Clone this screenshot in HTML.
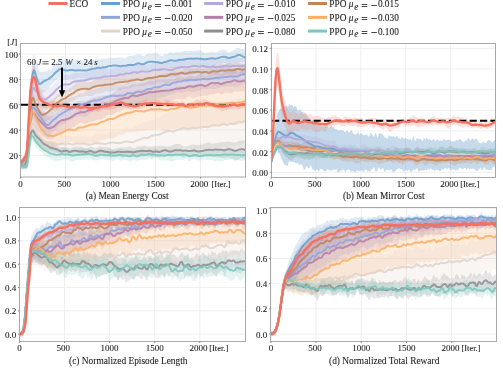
<!DOCTYPE html><html><head><meta charset="utf-8"><style>html,body{margin:0;padding:0;background:#fff;}svg{display:block;}text{font-family:"Liberation Serif", serif;fill:#1a1a1a;stroke:#1a1a1a;stroke-width:0.08px;}text{filter:grayscale(1);}.tk{font-size:9px;}.it{font-size:8.5px;}.tt{font-size:9.4px;}.lg{font-size:9.3px;}.an{font-size:8.9px;}</style></head><body><svg xmlns="http://www.w3.org/2000/svg" width="503" height="368" viewBox="0 0 503 368"><defs><clipPath id="ca"><rect x="20.5" y="43.5" width="225.0" height="133.5"/></clipPath><clipPath id="cb"><rect x="271.5" y="43.5" width="224.0" height="134.0"/></clipPath><clipPath id="cc"><rect x="19.5" y="207.5" width="226.0" height="134.0"/></clipPath><clipPath id="cd"><rect x="270.5" y="207.5" width="226.0" height="134.0"/></clipPath></defs><rect width="503" height="368" fill="#fff"/><line x1="48.5" y1="3.5" x2="67.5" y2="3.5" stroke="#F6705F" stroke-width="3"/><text x="69.6" y="7.4" class="lg">ECO</text><line x1="101" y1="3.5" x2="120" y2="3.5" stroke="#6A9FCB" stroke-width="3"/><text x="122.85" y="7.4" class="lg">PPO</text><text x="142.3" y="7.4" class="lg" font-style="italic">μ</text><text x="147.85" y="9.6" class="lg" font-size="8" font-style="italic">e</text><path d="M155.15,4.5H160.85M155.15,6.5H160.85M164.85,5.5H170.45" stroke="#1a1a1a" stroke-width="0.8"/><text x="171.45" y="7.4" class="lg" font-size="9.5">0.001</text><line x1="101" y1="17.35" x2="120" y2="17.35" stroke="#91A5DC" stroke-width="3"/><text x="122.85" y="21.25" class="lg">PPO</text><text x="142.3" y="21.25" class="lg" font-style="italic">μ</text><text x="147.85" y="23.45" class="lg" font-size="8" font-style="italic">e</text><path d="M155.15,17.5H160.85M155.15,19.5H160.85M164.85,18.5H170.45" stroke="#1a1a1a" stroke-width="0.8"/><text x="171.45" y="21.25" class="lg" font-size="9.5">0.020</text><line x1="101" y1="31.05" x2="120" y2="31.05" stroke="#E2D2C8" stroke-width="3"/><text x="122.85" y="34.95" class="lg">PPO</text><text x="142.3" y="34.95" class="lg" font-style="italic">μ</text><text x="147.85" y="37.15" class="lg" font-size="8" font-style="italic">e</text><path d="M155.15,31.5H160.85M155.15,33.5H160.85M164.85,32.5H170.45" stroke="#1a1a1a" stroke-width="0.8"/><text x="171.45" y="34.95" class="lg" font-size="9.5">0.050</text><line x1="204.2" y1="3.5" x2="223.2" y2="3.5" stroke="#B2A8DB" stroke-width="3"/><text x="225.8" y="7.4" class="lg">PPO</text><text x="245.25" y="7.4" class="lg" font-style="italic">μ</text><text x="250.8" y="9.6" class="lg" font-size="8" font-style="italic">e</text><path d="M258.1,4.5H263.8M258.1,6.5H263.8M267.8,5.5H273.4" stroke="#1a1a1a" stroke-width="0.8"/><text x="274.4" y="7.4" class="lg" font-size="9.5">0.010</text><line x1="204.2" y1="17.35" x2="223.2" y2="17.35" stroke="#B67FAA" stroke-width="3"/><text x="225.8" y="21.25" class="lg">PPO</text><text x="245.25" y="21.25" class="lg" font-style="italic">μ</text><text x="250.8" y="23.45" class="lg" font-size="8" font-style="italic">e</text><path d="M258.1,17.5H263.8M258.1,19.5H263.8M267.8,18.5H273.4" stroke="#1a1a1a" stroke-width="0.8"/><text x="274.4" y="21.25" class="lg" font-size="9.5">0.025</text><line x1="204.2" y1="31.05" x2="223.2" y2="31.05" stroke="#8E8E8E" stroke-width="3"/><text x="225.8" y="34.95" class="lg">PPO</text><text x="245.25" y="34.95" class="lg" font-style="italic">μ</text><text x="250.8" y="37.15" class="lg" font-size="8" font-style="italic">e</text><path d="M258.1,31.5H263.8M258.1,33.5H263.8M267.8,32.5H273.4" stroke="#1a1a1a" stroke-width="0.8"/><text x="274.4" y="34.95" class="lg" font-size="9.5">0.080</text><line x1="308" y1="3.5" x2="327" y2="3.5" stroke="#C0845A" stroke-width="3"/><text x="329.3" y="7.4" class="lg">PPO</text><text x="348.75" y="7.4" class="lg" font-style="italic">μ</text><text x="354.3" y="9.6" class="lg" font-size="8" font-style="italic">e</text><path d="M361.6,4.5H367.3M361.6,6.5H367.3M371.3,5.5H376.9" stroke="#1a1a1a" stroke-width="0.8"/><text x="377.9" y="7.4" class="lg" font-size="9.5">0.015</text><line x1="308" y1="17.35" x2="327" y2="17.35" stroke="#FCAE62" stroke-width="3"/><text x="329.3" y="21.25" class="lg">PPO</text><text x="348.75" y="21.25" class="lg" font-style="italic">μ</text><text x="354.3" y="23.45" class="lg" font-size="8" font-style="italic">e</text><path d="M361.6,17.5H367.3M361.6,19.5H367.3M371.3,18.5H376.9" stroke="#1a1a1a" stroke-width="0.8"/><text x="377.9" y="21.25" class="lg" font-size="9.5">0.030</text><line x1="308" y1="31.05" x2="327" y2="31.05" stroke="#7AC8BE" stroke-width="3"/><text x="329.3" y="34.95" class="lg">PPO</text><text x="348.75" y="34.95" class="lg" font-style="italic">μ</text><text x="354.3" y="37.15" class="lg" font-size="8" font-style="italic">e</text><path d="M361.6,31.5H367.3M361.6,33.5H367.3M371.3,32.5H376.9" stroke="#1a1a1a" stroke-width="0.8"/><text x="377.9" y="34.95" class="lg" font-size="9.5">0.100</text><rect x="20.5" y="43.5" width="225.0" height="133.5" fill="#ffffff"/><line x1="20.5" y1="43.5" x2="20.5" y2="177.0" stroke="#ebebeb" stroke-width="0.8"/><line x1="65.5" y1="43.5" x2="65.5" y2="177.0" stroke="#ebebeb" stroke-width="0.8"/><line x1="110.5" y1="43.5" x2="110.5" y2="177.0" stroke="#ebebeb" stroke-width="0.8"/><line x1="155.5" y1="43.5" x2="155.5" y2="177.0" stroke="#ebebeb" stroke-width="0.8"/><line x1="200.5" y1="43.5" x2="200.5" y2="177.0" stroke="#ebebeb" stroke-width="0.8"/><line x1="20.5" y1="155.4" x2="245.5" y2="155.4" stroke="#ebebeb" stroke-width="0.8"/><line x1="20.5" y1="130.05" x2="245.5" y2="130.05" stroke="#ebebeb" stroke-width="0.8"/><line x1="20.5" y1="104.7" x2="245.5" y2="104.7" stroke="#ebebeb" stroke-width="0.8"/><line x1="20.5" y1="79.35" x2="245.5" y2="79.35" stroke="#ebebeb" stroke-width="0.8"/><line x1="20.5" y1="54" x2="245.5" y2="54" stroke="#ebebeb" stroke-width="0.8"/><g clip-path="url(#ca)"><path d="M20.5 161.1l.9 0 .9-.2 .9-.4 .9-.8 .9-1.2 .9-4 .9-7.8 .9-9.9 .9-16.1 .9-21.1 .9-16.8 .9-10.7 .9-8.5 .9-6.4 .9-2.7 .9 2.1 .9 3.4 .9 2.8 .9 3.1 .9 3 .9 2.2 .9 .8 .9 0 .9-.1 .9-.1 .9-.1 .9-.1 .9-.1 .9-.2 .9-.3 .9-.3 .9-.4 .9-.6 .9-.8 .9-1.1 .9-1.1 .9-1.1 .9-1.1 .9-.8 .9-.8 .9-.7 .9-.9 .9-.9 .9-.7 .9-.4 .9 0 .9 .2 .9 .4 .9 .4 .9 .3 .9 .2 .9 .2 .9 .1 .9 .1 .9 0 .9-.1 .9-.2 .9-.2 .9 0 .9 .1 .9 .1 .9 0 .9 .1 .9 .1 .9 .1 .9 0 .9 0 .9 .1 .9 .1 .9-.1 .9-.1 .9-.3 .9-.2 .9 0 .9 0 .9 0 .9 .1 .9-.2 .9-.2 .9-.4 .9-.3 .9-.2 .9-.1 .9 0 .9 .1 .9 0 .9 .2 .9 0 .9-.2 .9-.4 .9-.4 .9-.2 .9 .1 .9 .1 .9-.1 .9-.3 .9-.4 .9-.2 .9 0 .9 .1 .9 .1 .9 .1 .9 .1 .9-.1 .9-.1 .9-.1 .9-.1 .9-.1 .9-.1 .9 0 .9 .1 .9 .1 .9 .2 .9 .2 .9 .2 .9 0 .9-.2 .9-.5 .9-.7 .9-.5 .9-.3 .9-.1 .9-.1 .9 0 .9-.1 .9-.2 .9-.3 .9-.3 .9-.3 .9-.2 .9-.1 .9 .1 .9 .3 .9 .4 .9 .5 .9 .4 .9 .1 .9-.3 .9-.7 .9-.8 .9-.6 .9-.2 .9 .1 .9 .3 .9 .1 .9-.1 .9-.4 .9-.3 .9-.1 .9 .2 .9 .3 .9 .2 .9 .3 .9 .5 .9 .6 .9 .5 .9 .2 .9-.2 .9-.6 .9-.5 .9-.3 .9-.1 .9-.2 .9-.5 .9-.6 .9-.5 .9-.1 .9 .1 .9 .4 .9 .2 .9 0 .9-.2 .9-.3 .9-.2 .9 0 .9 0 .9 0 .9-.2 .9-.3 .9-.3 .9-.3 .9-.1 .9 0 .9 .1 .9 .1 .9 0 .9-.1 .9-.2 .9-.1 .9-.1 .9 .1 .9 .1 .9 0 .9-.2 .9-.1 .9-.2 .9-.1 .9-.1 .9 0 .9 .2 .9 .4 .9 .7 .9 .6 .9 .5 .9 .2 .9 0 .9-.2 .9-.1 .9-.1 .9 0 .9-.1 .9-.2 .9-.2 .9 0 .9 .2 .9 .3 .9 0 .9-.2 .9-.5 .9-.5 .9-.5 .9-.5 .9-.3 .9-.3 .9-.1 .9 0 .9 .3 .9 .5 .9 .7 .9 .7 .9 .4 .9 0 .9-.4 .9-.5 .9-.4 .9-.4 .9-.4 .9-.4 .9-.7 .9-.6 .9-.5 .9-.1 .9 .3 .9 .4 .9 .4 .9 .1 .9-.1 .9-.1 .9 .1 .9 .3L245.5 62.6l-.9-.3 -.9-.1 -.9 0 -.9 0 -.9-.1 -.9 0 -.9 0 -.9 .2 -.9 .5 -.9 .6 -.9 .7 -.9 .5 -.9 .3 -.9 0 -.9-.1 -.9 .1 -.9 .2 -.9 .2 -.9-.2 -.9-.4 -.9-.7 -.9-.6 -.9-.4 -.9 0 -.9 .2 -.9 .4 -.9 .4 -.9 .2 -.9 .2 -.9 .2 -.9 .2 -.9 .3 -.9 .3 -.9 .2 -.9 0 -.9-.2 -.9-.1 -.9 0 -.9 .3 -.9 .3 -.9 .3 -.9 .3 -.9 .2 -.9 .1 -.9 .1 -.9 0 -.9-.2 -.9-.2 -.9-.3 -.9-.3 -.9-.4 -.9-.3 -.9-.2 -.9 0 -.9 .2 -.9 .5 -.9 .6 -.9 .4 -.9 .2 -.9 .1 -.9 0 -.9-.1 -.9-.1 -.9-.2 -.9-.1 -.9 .1 -.9 .2 -.9 .3 -.9 .2 -.9 .1 -.9 0 -.9 0 -.9 .1 -.9 .2 -.9 .3 -.9 .2 -.9 .2 -.9 .1 -.9 0 -.9-.1 -.9-.1 -.9-.1 -.9 0 -.9 .1 -.9 .4 -.9 .4 -.9 .3 -.9 .3 -.9 .1 -.9 .2 -.9 .3 -.9 .3 -.9 .3 -.9 .1 -.9-.1 -.9-.1 -.9 0 -.9-.1 -.9 0 -.9-.2 -.9-.2 -.9-.1 -.9 0 -.9-.1 -.9 0 -.9-.2 -.9-.1 -.9 0 -.9 .1 -.9 .3 -.9 .5 -.9 .6 -.9 .5 -.9 .4 -.9 .1 -.9 0 -.9-.1 -.9-.1 -.9-.1 -.9 0 -.9 .1 -.9 .3 -.9 .3 -.9 .1 -.9 0 -.9-.1 -.9-.2 -.9 0 -.9 .2 -.9 .4 -.9 .5 -.9 .5 -.9 .2 -.9-.1 -.9-.2 -.9 0 -.9 .3 -.9 .6 -.9 .5 -.9 .3 -.9 .1 -.9-.1 -.9-.3 -.9-.3 -.9-.3 -.9-.1 -.9 .1 -.9 .1 -.9 0 -.9-.1 -.9 0 -.9 .2 -.9 .4 -.9 .6 -.9 .5 -.9 .2 -.9 .1 -.9 0 -.9 .1 -.9 .1 -.9-.1 -.9-.2 -.9-.2 -.9 0 -.9 .4 -.9 .4 -.9 .3 -.9 .1 -.9-.1 -.9-.1 -.9 0 -.9 .3 -.9 .4 -.9 .6 -.9 .5 -.9 .2 -.9-.1 -.9-.4 -.9-.5 -.9-.3 -.9-.2 -.9 0 -.9 0 -.9 0 -.9 .2 -.9 .2 -.9 .2 -.9 .2 -.9 .1 -.9 .1 -.9 0 -.9-.1 -.9 0 -.9 0 -.9 0 -.9 .1 -.9 .2 -.9 .3 -.9 .2 -.9 0 -.9-.2 -.9-.4 -.9-.5 -.9-.6 -.9-.4 -.9-.1 -.9 .3 -.9 .7 -.9 .7 -.9 .6 -.9 .7 -.9 1 -.9 1.1 -.9 1.1 -.9 .9 -.9 .7 -.9 .8 -.9 .9 -.9 1 -.9 1 -.9 .8 -.9 .8 -.9 .7 -.9 .7 -.9 .8 -.9 1.1 -.9 1.2 -.9 1.2 -.9 .7 -.9-.5 -.9-1.4 -.9-1.9 -.9-2.1 -.9-3.2 -.9-2.3 -.9 1.1 -.9 3 -.9 4.4 -.9 6.8 -.9 14 -.9 19.3 -.9 14.3 -.9 8.1 -.9 6.2 -.9 2.7 -.9 .4 -.9 .2 -.9-.1 -.9 0 -.9-.1Z" fill="#6A9FCB" fill-opacity="0.22" stroke="none"/><path d="M20.5 161.4l.9-.8 .9-1.1 .9-1.2 .9-1.4 .9-1.4 .9-1.6 .9-6.2 .9-12.4 .9-14.4 .9-12.1 .9-10.2 .9-10.3 .9-7.9 .9-3.1 .9 .6 .9 1.6 .9 1.8 .9 1.4 .9 1.1 .9 1.1 .9 1.1 .9 1.2 .9 1.1 .9 .9 .9 .7 .9 .4 .9-.1 .9-.5 .9-.7 .9-.7 .9-.5 .9-.4 .9-.3 .9-.4 .9-.5 .9-.6 .9-1 .9-1.2 .9-1.2 .9-1.1 .9-.8 .9-.7 .9-.6 .9-.8 .9-.9 .9-1 .9-.8 .9-.4 .9-.2 .9-.1 .9-.1 .9 0 .9 .2 .9 .1 .9-.1 .9-.3 .9-.6 .9-.5 .9-.4 .9-.2 .9-.1 .9-.1 .9 0 .9 .1 .9 .1 .9 0 .9-.1 .9-.1 .9-.1 .9 0 .9-.1 .9-.1 .9-.2 .9-.3 .9-.4 .9-.6 .9-.6 .9-.5 .9-.3 .9-.1 .9 .1 .9 .1 .9 .1 .9 0 .9-.2 .9-.2 .9-.2 .9-.3 .9-.4 .9-.5 .9-.6 .9-.4 .9-.2 .9 .3 .9 .6 .9 .7 .9 .6 .9 .4 .9 .1 .9-.2 .9-.3 .9-.4 .9-.3 .9-.2 .9-.2 .9 0 .9-.2 .9-.1 .9-.2 .9-.2 .9-.1 .9 .1 .9 0 .9-.2 .9-.5 .9-.7 .9-.8 .9-.4 .9-.2 .9-.1 .9 0 .9 0 .9 0 .9 0 .9 0 .9 0 .9 .1 .9 .1 .9 .2 .9 .3 .9 .1 .9-.1 .9-.2 .9-.4 .9-.3 .9-.1 .9 .1 .9 .2 .9 .3 .9 .2 .9 0 .9 0 .9-.2 .9-.2 .9-.3 .9-.4 .9-.4 .9-.3 .9-.3 .9-.1 .9 .1 .9 .2 .9 .2 .9 .1 .9 0 .9-.1 .9-.3 .9-.3 .9-.2 .9-.1 .9 .1 .9 .1 .9 .1 .9 0 .9-.1 .9 0 .9 .1 .9 0 .9 0 .9-.2 .9-.4 .9-.4 .9-.4 .9-.3 .9-.3 .9-.3 .9-.4 .9-.4 .9-.4 .9-.2 .9 0 .9 .1 .9 0 .9 .2 .9 .1 .9 .1 .9 0 .9-.1 .9-.2 .9-.1 .9 0 .9 .1 .9 .1 .9 0 .9-.1 .9 0 .9 .1 .9 .1 .9-.1 .9-.1 .9-.1 .9 .2 .9 .4 .9 .4 .9 .4 .9 .1 .9-.1 .9-.2 .9-.2 .9-.3 .9-.2 .9-.1 .9 0 .9 .1 .9 .4 .9 .3 .9 .3 .9 0 .9-.2 .9-.3 .9-.3 .9-.3 .9-.2 .9-.1 .9-.1 .9-.1 .9-.2 .9 0 .9 0 .9 .1 .9 0 .9 0 .9 0 .9-.1 .9 0 .9 .2 .9 .1 .9 0 .9-.2 .9-.3 .9-.3 .9-.2 .9 .1 .9 .1 .9 .1 .9-.1 .9-.1 .9-.1 .9 .1 .9 0L245.5 72.7l-.9 .1 -.9 .1 -.9 .1 -.9 .1 -.9 0 -.9-.2 -.9-.2 -.9-.1 -.9 .1 -.9 .3 -.9 .4 -.9 .3 -.9 .3 -.9 .1 -.9 .1 -.9 .1 -.9 .1 -.9-.1 -.9-.1 -.9-.1 -.9-.1 -.9 0 -.9 .2 -.9 .4 -.9 .4 -.9 .3 -.9 .1 -.9-.1 -.9-.1 -.9-.2 -.9-.1 -.9-.2 -.9-.3 -.9-.2 -.9-.3 -.9-.2 -.9-.1 -.9 0 -.9 .3 -.9 .3 -.9 .2 -.9 .3 -.9 .2 -.9 .2 -.9 .1 -.9-.1 -.9-.2 -.9-.4 -.9-.3 -.9-.3 -.9-.1 -.9 .1 -.9 .1 -.9 .1 -.9 0 -.9 0 -.9-.1 -.9 0 -.9 .2 -.9 .4 -.9 .5 -.9 .4 -.9 .1 -.9-.2 -.9-.3 -.9-.1 -.9 0 -.9 0 -.9 0 -.9-.1 -.9-.1 -.9 .2 -.9 .4 -.9 .6 -.9 .5 -.9 .3 -.9 0 -.9-.1 -.9 0 -.9 .1 -.9 .3 -.9 .3 -.9 .2 -.9-.1 -.9-.2 -.9-.2 -.9-.2 -.9-.1 -.9 .1 -.9 .2 -.9 .3 -.9 .3 -.9 .2 -.9 .1 -.9-.1 -.9-.3 -.9-.2 -.9-.1 -.9 0 -.9 .2 -.9 .1 -.9 .2 -.9 .3 -.9 .3 -.9 .3 -.9 .3 -.9 .1 -.9-.1 -.9-.2 -.9-.2 -.9-.1 -.9 .1 -.9 .1 -.9 .3 -.9 .3 -.9 .4 -.9 .5 -.9 .3 -.9 .3 -.9 .1 -.9-.1 -.9-.2 -.9-.1 -.9 0 -.9 .2 -.9 .3 -.9 .2 -.9 .1 -.9-.2 -.9-.4 -.9-.4 -.9-.1 -.9 .2 -.9 .5 -.9 .6 -.9 .4 -.9 .1 -.9-.2 -.9-.1 -.9 .1 -.9 .4 -.9 .5 -.9 .5 -.9 .3 -.9 .2 -.9 .1 -.9-.1 -.9 .1 -.9 .1 -.9 .3 -.9 .3 -.9 .2 -.9 0 -.9 0 -.9 .1 -.9 .2 -.9 .2 -.9 .2 -.9 .2 -.9 .2 -.9 .1 -.9 .1 -.9-.1 -.9-.1 -.9-.1 -.9 0 -.9 .2 -.9 .3 -.9 .4 -.9 .3 -.9 .2 -.9 .2 -.9 .4 -.9 .3 -.9 .2 -.9-.1 -.9-.2 -.9-.4 -.9-.3 -.9-.1 -.9 .2 -.9 .4 -.9 .5 -.9 .5 -.9 .2 -.9 .1 -.9 .1 -.9 .1 -.9 .3 -.9 .4 -.9 .4 -.9 .3 -.9 .4 -.9 .4 -.9 .4 -.9 .3 -.9 .2 -.9 .1 -.9 .1 -.9 .2 -.9 .3 -.9 .3 -.9 .5 -.9 .6 -.9 .6 -.9 .8 -.9 .7 -.9 .7 -.9 .9 -.9 .9 -.9 1.2 -.9 1.2 -.9 1.1 -.9 .8 -.9 .6 -.9 .7 -.9 .8 -.9 1 -.9 1 -.9 1 -.9 .7 -.9 .5 -.9 .2 -.9-.1 -.9-.5 -.9-.8 -.9-1.2 -.9-1.4 -.9-1.3 -.9-1.2 -.9-.9 -.9-.8 -.9-1 -.9-1.4 -.9-1.3 -.9-.8 -.9 2.7 -.9 7.3 -.9 9.5 -.9 9.4 -.9 11 -.9 13.3 -.9 11.3 -.9 5.3 -.9 .7 -.9 .4 -.9 .2 -.9-.1 -.9-.3 -.9-.5Z" fill="#B2A8DB" fill-opacity="0.22" stroke="none"/><path d="M20.5 159.2l.9-.6 .9-.6 .9-.9 .9-1.2 .9-1.4 .9-1.8 .9-6.2 .9-12 .9-13.6 .9-11.1 .9-8.8 .9-8.3 .9-5.1 .9-.2 .9 2.2 .9 2.9 .9 2.3 .9 1.7 .9 1.8 .9 1.8 .9 1.8 .9 1.4 .9 1 .9 .5 .9 0 .9-.5 .9-.4 .9-.4 .9-.3 .9-.3 .9-.5 .9-.6 .9-.5 .9-.6 .9-.8 .9-.8 .9-.9 .9-.9 .9-1 .9-1 .9-.8 .9-.6 .9-.4 .9-.5 .9-.4 .9-.5 .9-.5 .9-.3 .9-.2 .9-.2 .9-.3 .9-.6 .9-.7 .9-.7 .9-.7 .9-.5 .9-.6 .9-.6 .9-.7 .9-.9 .9-.9 .9-.9 .9-.6 .9-.5 .9-.3 .9-.3 .9-.2 .9-.1 .9 0 .9 .1 .9 .2 .9 .3 .9 .4 .9 .3 .9 .2 .9 0 .9-.1 .9-.3 .9-.5 .9-.5 .9-.5 .9-.4 .9-.3 .9-.4 .9-.4 .9-.3 .9-.2 .9-.1 .9-.2 .9-.2 .9-.2 .9-.3 .9-.3 .9-.1 .9 0 .9 .2 .9 .2 .9 .2 .9-.1 .9-.1 .9-.2 .9-.3 .9-.4 .9-.4 .9-.4 .9-.4 .9-.2 .9-.2 .9 0 .9 .1 .9 .1 .9 .1 .9 0 .9-.1 .9-.2 .9-.1 .9-.1 .9-.2 .9-.2 .9-.3 .9-.4 .9-.2 .9-.2 .9 .1 .9 .1 .9 0 .9-.1 .9-.3 .9-.2 .9 .1 .9 .1 .9 .1 .9 .1 .9 0 .9 0 .9 .1 .9 0 .9-.2 .9-.3 .9-.4 .9-.4 .9-.4 .9-.3 .9-.3 .9-.1 .9-.1 .9-.1 .9-.2 .9-.3 .9-.2 .9-.3 .9-.2 .9-.2 .9-.3 .9-.2 .9 0 .9 .3 .9 .4 .9 .5 .9 .5 .9 .4 .9 .1 .9-.4 .9-.6 .9-.9 .9-.8 .9-.6 .9-.3 .9-.1 .9 0 .9 .1 .9 .2 .9 0 .9 0 .9-.2 .9-.1 .9-.2 .9-.3 .9-.1 .9 0 .9 .4 .9 .5 .9 .4 .9 .2 .9-.2 .9-.5 .9-.5 .9-.3 .9-.1 .9 0 .9 .1 .9-.1 .9-.1 .9-.3 .9-.4 .9-.3 .9-.1 .9 0 .9 .2 .9 .2 .9 .1 .9-.2 .9-.3 .9-.4 .9-.2 .9 .1 .9 .3 .9 .5 .9 .3 .9 .1 .9-.2 .9-.4 .9-.5 .9-.4 .9-.1 .9 .1 .9 .2 .9 .2 .9-.1 .9-.3 .9-.4 .9-.4 .9-.1 .9 .1 .9 .3 .9 .3 .9 0 .9-.1 .9-.3 .9-.4 .9-.4 .9-.2 .9 .1 .9 .5 .9 .4 .9 .2 .9-.1 .9-.3 .9-.4 .9-.4 .9-.3 .9-.2 .9 .1 .9 .3 .9 .4 .9 .4 .9 .2 .9 0 .9-.2 .9-.1L245.5 76l-.9 .1 -.9 0 -.9-.2 -.9-.5 -.9-.5 -.9-.3 -.9 0 -.9 .4 -.9 .5 -.9 .7 -.9 .4 -.9 .3 -.9 .2 -.9 .1 -.9-.1 -.9-.3 -.9-.4 -.9-.3 -.9 0 -.9 .1 -.9 .2 -.9 .1 -.9 0 -.9-.1 -.9-.2 -.9 0 -.9 .1 -.9 .3 -.9 .3 -.9 .3 -.9 .1 -.9-.2 -.9-.3 -.9-.3 -.9-.2 -.9 .1 -.9 .3 -.9 .5 -.9 .6 -.9 .5 -.9 .5 -.9 .3 -.9 .1 -.9 0 -.9 0 -.9 .1 -.9 0 -.9 .1 -.9-.2 -.9-.3 -.9-.3 -.9-.1 -.9 .1 -.9 .3 -.9 .4 -.9 .2 -.9 0 -.9-.1 -.9 0 -.9 .1 -.9 .3 -.9 .4 -.9 .4 -.9 .4 -.9 .3 -.9 .1 -.9 0 -.9-.4 -.9-.4 -.9-.5 -.9-.3 -.9 .1 -.9 .3 -.9 .4 -.9 .3 -.9 .2 -.9 0 -.9-.3 -.9-.2 -.9-.1 -.9 .1 -.9 .3 -.9 .5 -.9 .7 -.9 .8 -.9 .8 -.9 .7 -.9 .2 -.9-.3 -.9-.5 -.9-.7 -.9-.5 -.9-.3 -.9-.1 -.9 0 -.9 .1 -.9 .2 -.9 .3 -.9 .4 -.9 .5 -.9 .5 -.9 .4 -.9 .2 -.9 .1 -.9-.2 -.9-.1 -.9-.1 -.9-.1 -.9 0 -.9 .2 -.9 .3 -.9 .3 -.9 .5 -.9 .3 -.9 .2 -.9 0 -.9 .1 -.9-.1 -.9-.1 -.9-.1 -.9-.1 -.9 .1 -.9 .2 -.9 .4 -.9 .3 -.9 .4 -.9 .5 -.9 .4 -.9 .3 -.9 .2 -.9 0 -.9-.2 -.9-.1 -.9 .1 -.9 .2 -.9 .4 -.9 .4 -.9 .3 -.9 .1 -.9 0 -.9-.1 -.9 0 -.9 0 -.9 0 -.9 .2 -.9 .4 -.9 .4 -.9 .5 -.9 .3 -.9 .2 -.9 0 -.9-.1 -.9-.2 -.9-.2 -.9 0 -.9 .2 -.9 .5 -.9 .5 -.9 .5 -.9 .2 -.9 0 -.9 0 -.9 0 -.9 0 -.9 .2 -.9 .3 -.9 .4 -.9 .5 -.9 .5 -.9 .5 -.9 .4 -.9 .1 -.9 0 -.9-.1 -.9-.2 -.9 0 -.9 0 -.9 .1 -.9 .3 -.9 .2 -.9 .3 -.9 .2 -.9 .1 -.9 0 -.9 .1 -.9 .2 -.9 .5 -.9 .7 -.9 .9 -.9 .8 -.9 .7 -.9 .5 -.9 .3 -.9 .2 -.9 .3 -.9 .5 -.9 .6 -.9 .7 -.9 .7 -.9 .5 -.9 .3 -.9 .3 -.9 .4 -.9 .6 -.9 .7 -.9 .9 -.9 .8 -.9 .7 -.9 .7 -.9 .8 -.9 .9 -.9 1.3 -.9 1.4 -.9 1.4 -.9 1.1 -.9 .9 -.9 .7 -.9 .6 -.9 .7 -.9 .8 -.9 .7 -.9 .6 -.9 .7 -.9 .6 -.9 .5 -.9 0 -.9-.6 -.9-1.2 -.9-1.6 -.9-1.7 -.9-1.5 -.9-1.4 -.9-1.2 -.9-2.1 -.9-2.8 -.9-2.2 -.9 .1 -.9 4.9 -.9 7.9 -.9 8.3 -.9 10.2 -.9 12.6 -.9 10.7 -.9 4.7 -.9 .2 -.9-.1 -.9-.2 -.9-.2 -.9-.2 -.9-.5Z" fill="#C0845A" fill-opacity="0.18" stroke="none"/><path d="M20.5 161.5l.9-1 .9-1.1 .9-1.4 .9-1.6 .9-1.8 .9-2.1 .9-6.2 .9-11.1 .9-12.2 .9-9.1 .9-6.3 .9-6 .9-4.5 .9-2 .9 .3 .9 1.1 .9 1.6 .9 1.9 .9 1.9 .9 1.5 .9 1.3 .9 1.2 .9 1.1 .9 1.1 .9 1.2 .9 1.2 .9 1.1 .9 .8 .9 .7 .9 .3 .9-.1 .9-.5 .9-.8 .9-.9 .9-.8 .9-.8 .9-.6 .9-.5 .9-.7 .9-.9 .9-1.1 .9-1.1 .9-.9 .9-.7 .9-.5 .9-.5 .9-.5 .9-.6 .9-.4 .9-.5 .9-.5 .9-.5 .9-.5 .9-.4 .9-.3 .9-.4 .9-.3 .9-.2 .9-.1 .9-.2 .9-.3 .9-.6 .9-.7 .9-.7 .9-.6 .9-.2 .9 0 .9 .1 .9 .1 .9-.2 .9-.6 .9-.9 .9-1 .9-.7 .9-.4 .9-.2 .9-.1 .9 0 .9-.1 .9-.3 .9-.3 .9-.2 .9-.1 .9 0 .9-.1 .9-.2 .9-.2 .9-.2 .9-.2 .9-.3 .9-.3 .9-.6 .9-.6 .9-.6 .9-.4 .9-.2 .9 0 .9 .1 .9 .1 .9-.1 .9-.1 .9-.1 .9 0 .9 .2 .9 .1 .9 .2 .9-.1 .9-.2 .9-.2 .9-.2 .9-.1 .9 .1 .9 .1 .9-.1 .9-.3 .9-.5 .9-.7 .9-.6 .9-.5 .9-.2 .9 0 .9 .1 .9 .2 .9 .1 .9 .1 .9 .1 .9-.1 .9 0 .9 .1 .9 .1 .9 0 .9-.2 .9-.5 .9-.5 .9-.6 .9-.6 .9-.5 .9-.6 .9-.5 .9-.4 .9-.3 .9 0 .9 .2 .9 .2 .9-.1 .9-.4 .9-.7 .9-.4 .9-.1 .9 .1 .9 .1 .9 0 .9-.2 .9-.3 .9-.5 .9-.4 .9-.5 .9-.4 .9-.4 .9-.4 .9-.3 .9-.1 .9 .1 .9 .2 .9 .1 .9-.3 .9-.7 .9-.6 .9-.4 .9-.1 .9 .1 .9 .2 .9 .2 .9-.1 .9-.1 .9-.1 .9-.1 .9-.1 .9-.2 .9-.5 .9-.6 .9-.6 .9-.4 .9-.2 .9-.1 .9-.2 .9-.2 .9-.1 .9 .1 .9 .1 .9 .1 .9 .1 .9-.1 .9-.1 .9-.1 .9 0 .9 .1 .9 .1 .9 .1 .9 .1 .9 0 .9 0 .9 0 .9 0 .9 0 .9 0 .9 .1 .9-.1 .9-.1 .9-.3 .9-.3 .9-.4 .9-.4 .9-.3 .9-.1 .9 .2 .9 .3 .9 .2 .9-.2 .9-.5 .9-.5 .9-.5 .9-.2 .9 .1 .9 .5 .9 .5 .9 .3 .9 .1 .9 0 .9-.1 .9 0 .9 0 .9 .1 .9 .2 .9 .3 .9 .1 .9 0 .9 .1 .9 .1 .9 .1 .9-.2 .9-.5 .9-.8 .9-.9 .9-.7 .9-.4 .9-.3 .9-.3 .9-.4 .9-.3L245.5 82.6l-.9 .4 -.9 .5 -.9 .5 -.9 .4 -.9 .5 -.9 .6 -.9 .8 -.9 .7 -.9 .3 -.9 0 -.9-.3 -.9-.3 -.9-.1 -.9-.1 -.9-.1 -.9-.2 -.9-.1 -.9 .1 -.9 .2 -.9 .2 -.9 .2 -.9 0 -.9-.1 -.9-.1 -.9-.1 -.9 .1 -.9 .3 -.9 .3 -.9 .5 -.9 .4 -.9 .3 -.9 .2 -.9 .2 -.9 .1 -.9 0 -.9 0 -.9-.1 -.9-.1 -.9-.1 -.9 0 -.9 .2 -.9 .3 -.9 .2 -.9-.1 -.9-.2 -.9-.3 -.9 0 -.9 .2 -.9 .5 -.9 .6 -.9 .5 -.9 .3 -.9 .3 -.9 .2 -.9 .2 -.9 .3 -.9 .2 -.9 .2 -.9 0 -.9-.1 -.9-.3 -.9-.3 -.9-.2 -.9-.2 -.9 0 -.9 .1 -.9 .2 -.9 .5 -.9 .5 -.9 .5 -.9 .2 -.9-.2 -.9-.3 -.9-.3 -.9-.1 -.9 .2 -.9 .4 -.9 .4 -.9 .2 -.9 .2 -.9 .3 -.9 .3 -.9 .5 -.9 .3 -.9 .3 -.9 .2 -.9 .3 -.9 .5 -.9 .4 -.9 .2 -.9 .1 -.9 0 -.9 .2 -.9 .4 -.9 .3 -.9 .3 -.9 .2 -.9 0 -.9 0 -.9 .1 -.9 .2 -.9 .3 -.9 .4 -.9 .4 -.9 .1 -.9-.1 -.9-.1 -.9 .1 -.9 .5 -.9 .6 -.9 .7 -.9 .6 -.9 .4 -.9 .3 -.9 .1 -.9 .1 -.9-.1 -.9 0 -.9 .1 -.9 .2 -.9 .5 -.9 .6 -.9 .5 -.9 .3 -.9 .1 -.9-.3 -.9-.4 -.9-.7 -.9-.6 -.9-.5 -.9 0 -.9 .6 -.9 1 -.9 1.1 -.9 1 -.9 .5 -.9 .2 -.9 0 -.9 0 -.9 0 -.9 0 -.9 0 -.9-.2 -.9-.2 -.9-.1 -.9-.1 -.9 0 -.9 .2 -.9 .3 -.9 .4 -.9 .4 -.9 .3 -.9 .2 -.9 0 -.9 0 -.9 .1 -.9 .3 -.9 .4 -.9 .6 -.9 .5 -.9 .5 -.9 .4 -.9 .2 -.9 0 -.9-.1 -.9-.3 -.9-.1 -.9 .1 -.9 .4 -.9 .6 -.9 .6 -.9 .6 -.9 .6 -.9 .6 -.9 .7 -.9 .7 -.9 .5 -.9 .5 -.9 .2 -.9-.1 -.9-.3 -.9-.3 -.9-.2 -.9 0 -.9 .1 -.9 .2 -.9 .2 -.9 .4 -.9 .4 -.9 .6 -.9 .5 -.9 .4 -.9 .3 -.9 .4 -.9 .4 -.9 .4 -.9 .5 -.9 .7 -.9 .8 -.9 .6 -.9 .6 -.9 .5 -.9 .6 -.9 .5 -.9 .4 -.9 .3 -.9 .5 -.9 .6 -.9 .9 -.9 1 -.9 .9 -.9 .7 -.9 .5 -.9 .7 -.9 .9 -.9 1.4 -.9 1.4 -.9 1.1 -.9 .7 -.9 .1 -.9-.4 -.9-.7 -.9-1.1 -.9-1.4 -.9-1.6 -.9-1.5 -.9-1.3 -.9-1.2 -.9-1 -.9-.9 -.9-1.1 -.9-1.3 -.9-1.4 -.9-1.3 -.9-1 -.9-.7 -.9 1.2 -.9 3.6 -.9 5 -.9 5.4 -.9 8.1 -.9 11 -.9 9.6 -.9 4.2 -.9 .2 -.9 0 -.9 0 -.9 .1 -.9-.1 -.9-.4Z" fill="#91A5DC" fill-opacity="0.22" stroke="none"/><path d="M20.5 160.3l.9-.7 .9-.9 .9-1.1 .9-1.4 .9-1.7 .9-1.9 .9-5.7 .9-10.2 .9-11 .9-8.2 .9-5.6 .9-5.1 .9-3.6 .9-1.2 .9 .7 .9 1.3 .9 1.3 .9 1.3 .9 1.1 .9 .7 .9 .6 .9 .7 .9 .8 .9 .9 .9 .8 .9 .9 .9 .9 .9 .7 .9 .7 .9 .6 .9 .4 .9 .1 .9-.2 .9-.3 .9-.2 .9-.4 .9-.5 .9-.7 .9-1 .9-.9 .9-.9 .9-.7 .9-.5 .9-.4 .9-.3 .9-.3 .9-.2 .9-.4 .9-.3 .9-.4 .9-.1 .9-.1 .9 0 .9-.3 .9-.5 .9-.8 .9-.7 .9-.7 .9-.6 .9-.7 .9-.6 .9-.6 .9-.4 .9-.4 .9-.3 .9-.2 .9 0 .9 .1 .9 .2 .9 .1 .9-.1 .9-.2 .9-.4 .9-.4 .9-.3 .9-.2 .9-.4 .9-.4 .9-.5 .9-.5 .9-.4 .9-.2 .9-.1 .9-.2 .9-.3 .9-.3 .9-.3 .9-.2 .9-.1 .9-.1 .9 0 .9-.1 .9-.1 .9 0 .9 0 .9-.2 .9-.3 .9-.3 .9-.4 .9-.2 .9-.2 .9-.5 .9-.7 .9-.8 .9-.9 .9-.8 .9-.7 .9-.6 .9-.5 .9-.4 .9-.3 .9-.1 .9-.1 .9-.1 .9-.2 .9-.2 .9 0 .9-.1 .9 0 .9-.3 .9-.5 .9-.6 .9-.7 .9-.4 .9-.2 .9 .1 .9 .3 .9 .2 .9 .1 .9-.3 .9-.4 .9-.4 .9-.3 .9-.1 .9-.2 .9-.1 .9-.1 .9-.2 .9-.3 .9-.3 .9-.4 .9-.4 .9-.4 .9-.2 .9-.2 .9 0 .9 0 .9 .1 .9-.1 .9-.3 .9-.3 .9-.3 .9-.1 .9 0 .9 .2 .9 .1 .9 .1 .9 .1 .9 0 .9 0 .9-.1 .9 0 .9-.1 .9-.1 .9-.2 .9-.1 .9 .1 .9 .2 .9 .3 .9-.1 .9-.6 .9-.8 .9-.8 .9-.6 .9-.3 .9-.2 .9-.1 .9 0 .9 .2 .9 .2 .9 .2 .9 0 .9 0 .9-.1 .9-.3 .9-.4 .9-.3 .9-.2 .9 0 .9 .1 .9 .1 .9 .2 .9 0 .9-.1 .9-.2 .9-.3 .9-.4 .9-.5 .9-.4 .9-.2 .9 .1 .9 .4 .9 .6 .9 .5 .9 .4 .9 0 .9-.3 .9-.7 .9-.8 .9-.8 .9-.6 .9-.3 .9-.1 .9 0 .9 .2 .9 .1 .9 0 .9 0 .9 .2 .9 .5 .9 .6 .9 .4 .9 0 .9-.4 .9-.7 .9-.7 .9-.6 .9-.4 .9-.3 .9-.2 .9-.1 .9-.2 .9-.1 .9-.2 .9-.2 .9-.4 .9-.2 .9 0 .9 .4 .9 .8 .9 .7 .9 .4 .9-.1 .9-.3 .9-.6 .9-.5 .9-.1 .9 .2 .9 .5 .9 .3L245.5 92.1l-.9-.3 -.9-.3 -.9-.2 -.9 0 -.9 .1 -.9 .1 -.9 .1 -.9 .1 -.9 0 -.9-.2 -.9-.2 -.9 0 -.9 .3 -.9 .6 -.9 .7 -.9 .3 -.9 .1 -.9-.2 -.9-.2 -.9-.2 -.9-.1 -.9 .1 -.9 .3 -.9 .5 -.9 .5 -.9 .3 -.9-.1 -.9-.4 -.9-.5 -.9-.3 -.9 0 -.9 .3 -.9 .4 -.9 .3 -.9 .2 -.9 .1 -.9 0 -.9-.1 -.9 .1 -.9 .2 -.9 .4 -.9 .5 -.9 .3 -.9 .1 -.9-.1 -.9-.1 -.9 0 -.9 .1 -.9 .2 -.9 .3 -.9 .2 -.9 .1 -.9 .1 -.9 .3 -.9 .4 -.9 .5 -.9 .5 -.9 0 -.9-.3 -.9-.6 -.9-.7 -.9-.4 -.9 0 -.9 .5 -.9 .8 -.9 .7 -.9 .6 -.9 .3 -.9 .1 -.9-.1 -.9-.2 -.9-.1 -.9 0 -.9 0 -.9-.1 -.9 0 -.9 0 -.9 .4 -.9 .6 -.9 .5 -.9 .4 -.9 .3 -.9 .4 -.9 .4 -.9 .4 -.9 .1 -.9-.1 -.9-.3 -.9-.3 -.9-.3 -.9-.3 -.9-.1 -.9 .1 -.9 .3 -.9 .4 -.9 .3 -.9 .2 -.9 .1 -.9 0 -.9 .1 -.9 .3 -.9 .5 -.9 .5 -.9 .4 -.9 .2 -.9 .2 -.9 .2 -.9 .2 -.9 .2 -.9 0 -.9 0 -.9 .1 -.9 .2 -.9 .4 -.9 .5 -.9 .4 -.9 .4 -.9 .1 -.9 0 -.9 0 -.9-.1 -.9 .1 -.9 0 -.9-.1 -.9-.2 -.9-.1 -.9 .1 -.9 .4 -.9 .5 -.9 .4 -.9 .2 -.9 .1 -.9 0 -.9 .2 -.9 .2 -.9 .5 -.9 .6 -.9 .6 -.9 .5 -.9 .4 -.9 .2 -.9 .2 -.9 .2 -.9 .5 -.9 .7 -.9 .7 -.9 .6 -.9 .4 -.9 .1 -.9-.1 -.9-.1 -.9 0 -.9 .2 -.9 .5 -.9 .5 -.9 .7 -.9 .7 -.9 .6 -.9 .5 -.9 .4 -.9 .2 -.9 .1 -.9 .1 -.9 .2 -.9 .3 -.9 .4 -.9 .4 -.9 .3 -.9 .3 -.9 .2 -.9 .2 -.9 .1 -.9 .1 -.9 .2 -.9 .2 -.9 .4 -.9 .6 -.9 .4 -.9 .1 -.9-.3 -.9-.4 -.9-.3 -.9-.1 -.9 .2 -.9 .5 -.9 .5 -.9 .6 -.9 .6 -.9 .6 -.9 .7 -.9 .6 -.9 .6 -.9 .5 -.9 .6 -.9 .6 -.9 .5 -.9 .4 -.9 .3 -.9 .3 -.9 .4 -.9 .4 -.9 .3 -.9 .2 -.9 .1 -.9 .1 -.9 .4 -.9 .4 -.9 .6 -.9 .5 -.9 .7 -.9 .9 -.9 1.1 -.9 1.1 -.9 .7 -.9 .4 -.9 .2 -.9 0 -.9 0 -.9-.2 -.9-.4 -.9-.4 -.9-.5 -.9-.6 -.9-.5 -.9-.6 -.9-.7 -.9-.7 -.9-.9 -.9-1.1 -.9-1 -.9-1.1 -.9-1.3 -.9-1.3 -.9-1 -.9-.8 -.9-.5 -.9 1 -.9 2.9 -.9 4.1 -.9 4.5 -.9 6.9 -.9 9.6 -.9 8.7 -.9 4 -.9 .4 -.9 .2 -.9 0 -.9-.3 -.9-.7 -.9-.8Z" fill="#B67FAA" fill-opacity="0.22" stroke="none"/><path d="M20.5 162.4l.9-.8 .9-1 .9-1.3 .9-1.5 .9-1.9 .9-1.9 .9-5 .9-9.1 .9-10.5 .9-9 .9-8.4 .9-8 .9-3.6 .9 .4 .9 1.4 .9 1.8 .9 2.1 .9 1.9 .9 1.7 .9 2 .9 1.9 .9 2 .9 1.8 .9 1.4 .9 .9 .9 .9 .9 .9 .9 .9 .9 .8 .9 .6 .9 .4 .9 .4 .9 .4 .9 .4 .9 .1 .9-.2 .9-.5 .9-.6 .9-.5 .9-.4 .9-.3 .9-.3 .9-.4 .9-.5 .9-.5 .9-.5 .9-.5 .9-.6 .9-.8 .9-.7 .9-.7 .9-.5 .9-.4 .9-.3 .9-.3 .9-.1 .9-.1 .9 0 .9-.1 .9-.3 .9-.6 .9-.9 .9-.8 .9-.6 .9-.1 .9 .1 .9 .2 .9 0 .9-.2 .9-.6 .9-.7 .9-.7 .9-.6 .9-.6 .9-.5 .9-.6 .9-.4 .9-.1 .9 0 .9 .1 .9 0 .9-.1 .9-.2 .9-.3 .9-.4 .9-.6 .9-.6 .9-.7 .9-.7 .9-.5 .9-.4 .9-.3 .9-.4 .9-.5 .9-.5 .9-.4 .9-.4 .9-.3 .9-.1 .9-.1 .9 0 .9-.2 .9-.4 .9-.7 .9-.8 .9-.8 .9-.7 .9-.5 .9-.4 .9-.2 .9-.1 .9 0 .9-.1 .9-.3 .9-.7 .9-.7 .9-.6 .9-.4 .9-.1 .9 .2 .9 .2 .9-.1 .9-.3 .9-.5 .9-.4 .9-.4 .9-.3 .9-.2 .9-.3 .9-.3 .9-.4 .9-.3 .9-.3 .9-.1 .9 .4 .9 .5 .9 .5 .9 .2 .9-.1 .9-.1 .9-.1 .9-.1 .9-.2 .9-.4 .9-.4 .9-.2 .9-.2 .9 0 .9 0 .9-.1 .9-.1 .9-.2 .9-.2 .9-.1 .9 0 .9 .2 .9 .3 .9 .4 .9 .4 .9 .2 .9 .2 .9 .2 .9 .1 .9-.1 .9-.6 .9-.8 .9-.8 .9-.5 .9-.1 .9 .2 .9 .2 .9 .2 .9-.1 .9-.5 .9-.5 .9-.5 .9-.2 .9-.1 .9 .1 .9 0 .9-.1 .9-.2 .9-.4 .9-.3 .9-.3 .9 0 .9 .3 .9 .4 .9 .3 .9 .1 .9 0 .9-.1 .9-.1 .9-.1 .9 0 .9-.1 .9-.1 .9-.3 .9-.5 .9-.4 .9-.3 .9 0 .9 .3 .9 .4 .9 .3 .9 .1 .9-.1 .9-.2 .9-.2 .9-.3 .9 0 .9 .1 .9 .2 .9 0 .9-.3 .9-.7 .9-.7 .9-.6 .9-.2 .9 0 .9 0 .9 0 .9-.1 .9 0 .9 .2 .9 .2 .9 .1 .9-.1 .9-.2 .9-.2 .9-.1 .9-.1 .9-.3 .9-.3 .9-.4 .9-.2 .9 0 .9 .2 .9 .2 .9 .2 .9 0 .9-.1 .9-.1 .9 0 .9 .1 .9 .1 .9 0 .9-.1 .9-.1 .9-.2L245.5 122.3l-.9 .4 -.9 .4 -.9 .5 -.9 .4 -.9 .2 -.9 .2 -.9 .1 -.9 .1 -.9 .2 -.9 .2 -.9 .1 -.9 .1 -.9 0 -.9-.2 -.9-.1 -.9-.1 -.9-.1 -.9-.2 -.9-.4 -.9-.3 -.9-.2 -.9 .3 -.9 .6 -.9 .7 -.9 .5 -.9 .3 -.9 0 -.9-.2 -.9-.3 -.9-.2 -.9 0 -.9 .3 -.9 .4 -.9 .4 -.9 .2 -.9 .1 -.9-.1 -.9 0 -.9 .1 -.9 .1 -.9 .2 -.9 .1 -.9 .1 -.9 .1 -.9-.1 -.9-.1 -.9-.1 -.9 0 -.9 0 -.9 .1 -.9 .2 -.9 .1 -.9 .3 -.9 .3 -.9 .5 -.9 .4 -.9 .3 -.9 .1 -.9-.2 -.9-.3 -.9-.3 -.9-.2 -.9-.1 -.9-.1 -.9 .1 -.9 .2 -.9 .1 -.9-.1 -.9-.2 -.9-.2 -.9-.1 -.9 0 -.9 0 -.9 .1 -.9 .2 -.9 .3 -.9 .4 -.9 .2 -.9 .1 -.9-.1 -.9-.1 -.9-.1 -.9 .1 -.9 .3 -.9 .5 -.9 .4 -.9 .4 -.9 .3 -.9 .2 -.9 .1 -.9-.2 -.9-.4 -.9-.6 -.9-.6 -.9-.3 -.9-.1 -.9 .1 -.9 .2 -.9 .3 -.9 .3 -.9 .2 -.9 0 -.9-.2 -.9-.2 -.9-.1 -.9-.1 -.9 .1 -.9 .1 -.9 .2 -.9 .3 -.9 .5 -.9 .3 -.9 .2 -.9-.1 -.9-.2 -.9 0 -.9 .1 -.9 .2 -.9 .2 -.9 .2 -.9 .1 -.9 .1 -.9 .1 -.9 .1 -.9 0 -.9 .1 -.9 .1 -.9 0 -.9-.2 -.9-.1 -.9 0 -.9 .3 -.9 .5 -.9 .7 -.9 .7 -.9 .5 -.9 .2 -.9 0 -.9 0 -.9 .1 -.9 .4 -.9 .5 -.9 .6 -.9 .5 -.9 .6 -.9 .5 -.9 .4 -.9 .2 -.9 0 -.9-.1 -.9 0 -.9 0 -.9 .2 -.9 .3 -.9 .4 -.9 .3 -.9 .3 -.9 .1 -.9 0 -.9 .1 -.9 .3 -.9 .5 -.9 .7 -.9 .6 -.9 .5 -.9 .2 -.9 0 -.9 0 -.9-.1 -.9-.1 -.9-.2 -.9-.2 -.9 0 -.9 .3 -.9 .5 -.9 .3 -.9 .2 -.9 .1 -.9 .1 -.9 .1 -.9 0 -.9-.2 -.9-.4 -.9-.6 -.9-.4 -.9-.1 -.9 .2 -.9 .4 -.9 .3 -.9 0 -.9-.4 -.9-.4 -.9-.5 -.9-.2 -.9 0 -.9 .2 -.9 .3 -.9 .3 -.9 .3 -.9 .4 -.9 .5 -.9 .6 -.9 .4 -.9 .3 -.9 0 -.9 .1 -.9 .1 -.9 .3 -.9 .4 -.9 .4 -.9 .4 -.9 .4 -.9 .3 -.9 .2 -.9 .1 -.9 0 -.9-.1 -.9-.1 -.9-.3 -.9-.5 -.9-.7 -.9-1 -.9-1.1 -.9-1.2 -.9-1 -.9-1.1 -.9-1.4 -.9-1.8 -.9-1.9 -.9-2 -.9-2 -.9-1.8 -.9-1.9 -.9-2.3 -.9-2.2 -.9-1.9 -.9-1.3 -.9 2.8 -.9 7.1 -.9 7.6 -.9 8.3 -.9 9.8 -.9 8.2 -.9 4 -.9 .7 -.9 .5 -.9 .1 -.9-.2 -.9-.4 -.9-.7Z" fill="#FCAE62" fill-opacity="0.22" stroke="none"/><path d="M20.5 164.4l.9-1 .9-1.3 .9-1.6 .9-1.6 .9-1.7 .9-1.7 .9-4.2 .9-7.5 .9-8.6 .9-7.2 .9-6.2 .9-5.6 .9-2.7 .9-.1 .9 .9 .9 1.6 .9 2.2 .9 2.4 .9 2.4 .9 2 .9 1.4 .9 1.2 .9 1 .9 .8 .9 .7 .9 .7 .9 .5 .9 .1 .9 0 .9-.1 .9 .2 .9 .7 .9 .8 .9 .8 .9 .6 .9 .4 .9 .3 .9 .4 .9 .3 .9 .5 .9 .3 .9 0 .9-.2 .9-.4 .9-.2 .9 0 .9 .2 .9 .2 .9 .1 .9 0 .9-.3 .9-.4 .9-.2 .9 .3 .9 .6 .9 .7 .9 .5 .9 .1 .9-.2 .9-.4 .9-.5 .9-.5 .9-.4 .9-.2 .9 .1 .9 .2 .9 .1 .9 0 .9-.1 .9 .1 .9 .2 .9 .3 .9 .4 .9 .3 .9 .2 .9 .1 .9 0 .9-.1 .9-.3 .9-.7 .9-.8 .9-.8 .9-.5 .9-.2 .9 0 .9 .2 .9 .2 .9 .1 .9 0 .9-.1 .9-.1 .9-.1 .9 0 .9-.1 .9-.2 .9-.3 .9-.4 .9-.4 .9-.3 .9-.2 .9-.2 .9-.1 .9 0 .9 0 .9 .2 .9 .1 .9-.1 .9-.3 .9-.2 .9-.2 .9-.2 .9-.4 .9-.6 .9-.6 .9-.6 .9-.5 .9-.4 .9-.2 .9 .1 .9 .2 .9 .3 .9 .2 .9 0 .9-.3 .9-.4 .9-.6 .9-.6 .9-.5 .9-.4 .9-.4 .9-.5 .9-.6 .9-.6 .9-.6 .9-.4 .9-.4 .9-.4 .9-.3 .9-.2 .9-.1 .9-.2 .9-.3 .9-.4 .9-.3 .9-.2 .9-.1 .9-.2 .9-.3 .9-.4 .9-.4 .9-.4 .9-.2 .9-.1 .9-.1 .9-.5 .9-.7 .9-.9 .9-.7 .9-.5 .9-.4 .9-.3 .9-.3 .9-.4 .9-.3 .9-.3 .9-.2 .9-.1 .9 0 .9 0 .9 0 .9-.3 .9-.5 .9-.6 .9-.6 .9-.3 .9-.1 .9 0 .9-.2 .9-.2 .9-.3 .9-.2 .9 0 .9 0 .9 .1 .9 .1 .9 .1 .9 0 .9-.2 .9-.5 .9-.6 .9-.4 .9-.2 .9 0 .9 0 .9-.2 .9-.3 .9-.4 .9-.1 .9 0 .9 .2 .9 .2 .9-.1 .9-.2 .9-.3 .9-.2 .9-.1 .9-.1 .9-.1 .9-.3 .9-.6 .9-.6 .9-.7 .9-.6 .9-.4 .9-.3 .9 0 .9 .2 .9 .3 .9 .3 .9 0 .9-.3 .9-.6 .9-.6 .9-.5 .9 0 .9 .3 .9 .4 .9 .4 .9 .2 .9 0 .9-.2 .9-.3 .9-.2 .9-.1 .9 .1 .9 0 .9 0 .9-.4 .9-.5 .9-.7 .9-.6 .9-.5 .9-.2 .9 .1 .9 .1 .9 0 .9-.1 .9-.2 .9-.2 .9-.1L245.5 142.5l-.9 .3 -.9 .5 -.9 .5 -.9 .4 -.9 .2 -.9-.1 -.9 0 -.9 .1 -.9 .2 -.9 .5 -.9 .6 -.9 .4 -.9 .3 -.9-.1 -.9-.1 -.9-.1 -.9 .3 -.9 .5 -.9 .6 -.9 .4 -.9 0 -.9-.5 -.9-.6 -.9-.5 -.9-.1 -.9 .2 -.9 .5 -.9 .7 -.9 .5 -.9 .3 -.9 .1 -.9-.1 -.9-.3 -.9-.2 -.9-.2 -.9-.1 -.9 0 -.9 .3 -.9 .5 -.9 .7 -.9 .5 -.9 .2 -.9-.1 -.9-.2 -.9-.2 -.9-.1 -.9-.2 -.9-.1 -.9-.1 -.9-.2 -.9 0 -.9-.1 -.9 .1 -.9 .1 -.9 .1 -.9 .1 -.9 .1 -.9-.1 -.9-.1 -.9-.2 -.9-.2 -.9-.1 -.9-.2 -.9 0 -.9-.1 -.9-.1 -.9-.3 -.9-.4 -.9-.1 -.9 .3 -.9 .6 -.9 .6 -.9 .3 -.9 .1 -.9 0 -.9 .2 -.9 .5 -.9 .8 -.9 .7 -.9 .5 -.9 .2 -.9 .1 -.9-.1 -.9-.2 -.9-.4 -.9-.3 -.9-.3 -.9-.1 -.9 .1 -.9 .3 -.9 .3 -.9 .3 -.9 .4 -.9 .4 -.9 .2 -.9 0 -.9-.2 -.9-.2 -.9-.1 -.9 .2 -.9 .3 -.9 .3 -.9 .2 -.9 0 -.9 0 -.9 .2 -.9 .3 -.9 .3 -.9 .3 -.9 .1 -.9-.1 -.9-.1 -.9-.1 -.9 0 -.9 .1 -.9 .2 -.9 .3 -.9 .2 -.9 .1 -.9-.1 -.9 0 -.9 0 -.9 .2 -.9 .2 -.9 0 -.9-.1 -.9-.3 -.9-.3 -.9-.1 -.9-.1 -.9-.1 -.9-.2 -.9-.4 -.9-.3 -.9-.2 -.9 0 -.9 .2 -.9 .3 -.9 .5 -.9 .3 -.9 0 -.9-.1 -.9-.2 -.9-.4 -.9-.4 -.9-.5 -.9-.2 -.9-.1 -.9 0 -.9 0 -.9 .1 -.9 .1 -.9 .2 -.9 .3 -.9 .1 -.9 .1 -.9 0 -.9 0 -.9 0 -.9 .1 -.9-.1 -.9 0 -.9 0 -.9-.1 -.9-.3 -.9-.4 -.9-.5 -.9-.2 -.9 .1 -.9 .4 -.9 .5 -.9 .2 -.9-.1 -.9-.2 -.9-.3 -.9-.3 -.9-.3 -.9-.2 -.9-.2 -.9 .1 -.9 .3 -.9 .3 -.9 .3 -.9 .1 -.9-.1 -.9-.2 -.9-.2 -.9-.1 -.9 .1 -.9 .2 -.9 .3 -.9 .3 -.9 0 -.9-.2 -.9-.4 -.9-.3 -.9-.1 -.9 .2 -.9 .2 -.9 .1 -.9 .1 -.9-.1 -.9 0 -.9 0 -.9 0 -.9 .2 -.9 .3 -.9 .3 -.9-.1 -.9-.4 -.9-.6 -.9-.6 -.9-.4 -.9-.1 -.9 .1 -.9 0 -.9-.1 -.9-.3 -.9-.2 -.9 .1 -.9 .2 -.9 .1 -.9-.3 -.9-.6 -.9-.6 -.9-.6 -.9-.4 -.9-.7 -.9-.9 -.9-1.3 -.9-1.8 -.9-2.4 -.9-2.5 -.9-2.2 -.9-1.8 -.9-1 -.9-.2 -.9 2.3 -.9 5 -.9 5.4 -.9 6.2 -.9 7.5 -.9 6.2 -.9 2.9 -.9 .3 -.9 .3 -.9 .1 -.9-.1 -.9-.4 -.9-.7Z" fill="#E2D2C8" fill-opacity="0.22" stroke="none"/><path d="M20.5 162l.9-.2 .9-.3 .9-.4 .9-.4 .9-.3 .9-1.9 .9-4.1 .9-4.9 .9-6.5 .9-7.6 .9-5.1 .9-2.4 .9-1.4 .9 .1 .9 1.6 .9 2 .9 1.5 .9 .9 .9 .7 .9 .9 .9 .9 .9 .9 .9 1 .9 1.2 .9 1.1 .9 .9 .9 .6 .9 .3 .9 .2 .9 .3 .9 .2 .9 .2 .9 .1 .9 .1 .9 .3 .9 .4 .9 .6 .9 .6 .9 .5 .9 .6 .9 .6 .9 .7 .9 .5 .9 .4 .9 .2 .9-.1 .9-.2 .9-.2 .9-.3 .9 0 .9 .1 .9 .4 .9 .5 .9 .4 .9 .1 .9-.2 .9-.4 .9-.5 .9-.3 .9-.2 .9-.1 .9-.1 .9 0 .9-.1 .9 0 .9 .1 .9 .1 .9 .2 .9 .2 .9 .4 .9 .3 .9 .4 .9 .2 .9 0 .9-.5 .9-.6 .9-.5 .9-.3 .9 .3 .9 .6 .9 .6 .9 .4 .9 .1 .9-.3 .9-.4 .9-.5 .9-.5 .9-.2 .9 0 .9 .1 .9 .3 .9 .2 .9 .1 .9-.1 .9-.1 .9-.1 .9 0 .9 .4 .9 .5 .9 .6 .9 .4 .9 .2 .9 0 .9-.1 .9-.3 .9-.3 .9-.3 .9-.1 .9-.1 .9-.1 .9-.1 .9-.2 .9 0 .9 .1 .9 .1 .9 .1 .9-.1 .9-.2 .9-.4 .9-.4 .9-.1 .9 .1 .9 .5 .9 .6 .9 .4 .9 .2 .9-.3 .9-.4 .9-.5 .9-.3 .9-.2 .9-.1 .9-.1 .9-.1 .9-.2 .9-.2 .9-.1 .9 0 .9 .2 .9 .2 .9 .3 .9 .1 .9 .1 .9 0 .9 0 .9 0 .9-.1 .9-.2 .9-.2 .9-.2 .9-.1 .9 0 .9 .1 .9 0 .9 0 .9-.1 .9-.1 .9 .1 .9 .1 .9 .2 .9 .1 .9 .1 .9 .1 .9 0 .9-.1 .9-.1 .9-.2 .9-.4 .9-.5 .9-.5 .9-.4 .9-.2 .9 0 .9-.1 .9-.1 .9 .1 .9 .1 .9 .5 .9 .6 .9 .7 .9 .5 .9 .2 .9 0 .9-.1 .9-.1 .9-.2 .9-.4 .9-.5 .9-.4 .9-.4 .9 0 .9 0 .9 .2 .9 .2 .9 .2 .9 .2 .9 0 .9-.1 .9-.3 .9-.3 .9-.2 .9-.2 .9-.1 .9-.3 .9-.3 .9-.3 .9-.5 .9-.3 .9-.1 .9 .2 .9 .5 .9 .6 .9 .2 .9-.1 .9-.3 .9-.3 .9-.1 .9 0 .9-.1 .9-.2 .9-.2 .9-.1 .9-.2 .9 0 .9 0 .9 .1 .9 0 .9-.2 .9-.3 .9-.3 .9-.1 .9 .2 .9 .2 .9 .2 .9 .3 .9 .2 .9 .1 .9 0 .9-.2 .9-.3 .9-.4 .9-.4 .9-.3 .9-.3 .9-.2 .9-.1 .9 .1 .9 .2 .9 .3 .9 .3L245.5 159.4l-.9-.3 -.9-.5 -.9-.4 -.9-.1 -.9 .2 -.9 .3 -.9 .5 -.9 .4 -.9 .4 -.9 .4 -.9 .2 -.9 0 -.9-.3 -.9-.5 -.9-.5 -.9-.5 -.9-.4 -.9-.3 -.9-.2 -.9 0 -.9 .1 -.9 .2 -.9 .1 -.9 0 -.9-.2 -.9-.1 -.9-.2 -.9-.1 -.9-.1 -.9-.1 -.9-.1 -.9-.1 -.9-.2 -.9-.2 -.9-.1 -.9 0 -.9 0 -.9 .1 -.9 0 -.9 .1 -.9 0 -.9 0 -.9-.1 -.9-.1 -.9-.1 -.9 0 -.9 .2 -.9 0 -.9 0 -.9-.1 -.9 0 -.9 .2 -.9 .3 -.9 .2 -.9 0 -.9-.1 -.9-.2 -.9-.2 -.9-.2 -.9-.2 -.9-.1 -.9 0 -.9 .1 -.9 0 -.9 .1 -.9 .2 -.9 .4 -.9 .4 -.9 .1 -.9-.2 -.9-.6 -.9-.7 -.9-.6 -.9-.4 -.9-.2 -.9-.1 -.9 .1 -.9 .2 -.9 .3 -.9 .5 -.9 .4 -.9 .3 -.9 0 -.9-.1 -.9-.3 -.9-.4 -.9-.5 -.9-.4 -.9-.1 -.9 0 -.9 .3 -.9 .4 -.9 .5 -.9 .3 -.9 .2 -.9-.1 -.9-.2 -.9-.1 -.9 .1 -.9 .3 -.9 .3 -.9 .4 -.9 .1 -.9-.2 -.9-.3 -.9-.4 -.9-.3 -.9-.3 -.9-.2 -.9-.1 -.9 .1 -.9 .3 -.9 .4 -.9 .2 -.9 .1 -.9-.1 -.9-.1 -.9-.1 -.9-.1 -.9-.1 -.9 .1 -.9 .2 -.9 .2 -.9 0 -.9-.2 -.9-.2 -.9 0 -.9 .1 -.9 .2 -.9 .2 -.9 0 -.9-.2 -.9 0 -.9 .1 -.9 .3 -.9 .3 -.9 .1 -.9-.2 -.9-.3 -.9-.3 -.9-.3 -.9-.2 -.9-.1 -.9 0 -.9 .2 -.9 .2 -.9 .4 -.9 .4 -.9 .2 -.9-.1 -.9-.3 -.9-.4 -.9-.4 -.9-.3 -.9-.4 -.9-.3 -.9-.3 -.9-.2 -.9-.2 -.9-.2 -.9 .1 -.9 .2 -.9 .5 -.9 .4 -.9 .4 -.9 .2 -.9 0 -.9-.2 -.9-.5 -.9-.6 -.9-.8 -.9-.4 -.9-.1 -.9 .5 -.9 .8 -.9 .7 -.9 .4 -.9-.1 -.9-.2 -.9-.2 -.9-.2 -.9 0 -.9 .1 -.9 .1 -.9 0 -.9 0 -.9-.1 -.9 .1 -.9 0 -.9 0 -.9-.2 -.9-.2 -.9 0 -.9 .3 -.9 .2 -.9-.1 -.9-.4 -.9-.5 -.9-.3 -.9-.1 -.9 .2 -.9 .3 -.9 .2 -.9 .2 -.9-.1 -.9-.3 -.9-.5 -.9-.7 -.9-.5 -.9-.3 -.9 .1 -.9 0 -.9-.1 -.9-.3 -.9-.2 -.9-.3 -.9-.3 -.9-.4 -.9-.4 -.9-.4 -.9-.3 -.9-.2 -.9-.3 -.9-.4 -.9-.5 -.9-.7 -.9-.8 -.9-.9 -.9-1.1 -.9-1.2 -.9-1.2 -.9-1.2 -.9-1.2 -.9-1.8 -.9-2.3 -.9-1.7 -.9-.1 -.9 1.4 -.9 2.4 -.9 5.2 -.9 7.6 -.9 6.6 -.9 5 -.9 4.2 -.9 2 -.9 .3 -.9 .1 -.9 0 -.9-.3 -.9-.4Z" fill="#8E8E8E" fill-opacity="0.22" stroke="none"/><path d="M20.5 162.6l.9-.2 .9-.2 .9-.1 .9 0 .9 .8 .9 1.1 .9-1.1 .9-4.1 .9-7.5 .9-8.5 .9-7.3 .9-5 .9 0 .9 .8 .9 1.5 .9 1.7 .9 1.4 .9 1.1 .9 1.2 .9 1.2 .9 1.1 .9 1 .9 .8 .9 .8 .9 .8 .9 .8 .9 .7 .9 .6 .9 .4 .9 .3 .9 .3 .9 .4 .9 .3 .9 .3 .9 .3 .9 .3 .9 .4 .9 .3 .9 .3 .9 .1 .9 .1 .9 0 .9-.3 .9-.4 .9-.6 .9-.6 .9-.3 .9-.1 .9 .2 .9 .3 .9 .3 .9 .3 .9 .5 .9 .5 .9 .5 .9 .5 .9 .3 .9 0 .9-.1 .9-.4 .9-.4 .9-.4 .9-.3 .9-.2 .9-.2 .9-.2 .9-.1 .9 0 .9 0 .9-.1 .9 0 .9 0 .9 0 .9 0 .9 .1 .9 .2 .9 .4 .9 .5 .9 .5 .9 .4 .9 .2 .9 0 .9-.2 .9-.2 .9-.2 .9-.2 .9-.3 .9-.3 .9-.2 .9 .1 .9 .2 .9 .4 .9 .4 .9 .1 .9-.1 .9-.2 .9-.3 .9-.2 .9-.2 .9 0 .9 .2 .9 .3 .9 .4 .9 .2 .9-.1 .9-.2 .9-.3 .9-.4 .9-.5 .9-.3 .9-.1 .9 .1 .9 .2 .9 .3 .9 .4 .9 .3 .9 .2 .9 .3 .9 .2 .9 .1 .9 0 .9-.3 .9-.3 .9-.2 .9 0 .9 .3 .9 .3 .9 .4 .9 .2 .9-.2 .9-.5 .9-.7 .9-.6 .9-.2 .9 .2 .9 .5 .9 .5 .9 .3 .9 0 .9-.2 .9-.4 .9-.2 .9 0 .9 .2 .9 .2 .9-.2 .9-.4 .9-.5 .9-.3 .9 .2 .9 .4 .9 .4 .9 .4 .9 .3 .9 .3 .9 .2 .9 .3 .9 .2 .9 0 .9-.1 .9-.4 .9-.4 .9-.5 .9-.4 .9-.3 .9 0 .9 .1 .9 .2 .9 .2 .9 0 .9 0 .9-.1 .9 0 .9 .2 .9 .3 .9 .3 .9 .2 .9 0 .9 0 .9-.2 .9-.2 .9-.3 .9-.2 .9 0 .9 .3 .9 .5 .9 .3 .9 0 .9-.3 .9-.5 .9-.5 .9-.4 .9-.1 .9 .1 .9 .1 .9 .2 .9 .2 .9 .3 .9 .3 .9 .3 .9 .2 .9 .1 .9 .1 .9 0 .9 0 .9-.2 .9-.1 .9 0 .9 0 .9 .1 .9 0 .9 0 .9 0 .9-.1 .9-.1 .9-.2 .9-.2 .9-.1 .9-.1 .9-.1 .9-.2 .9-.1 .9-.2 .9-.2 .9-.2 .9-.1 .9 .2 .9 .4 .9 .5 .9 .4 .9 .2 .9 .1 .9-.1 .9-.1 .9-.2 .9-.1 .9 0 .9 .3 .9 .3 .9 .2 .9 0 .9-.2 .9-.2 .9-.1 .9 .2 .9 .2 .9 .1 .9 0 .9-.1 .9-.1L245.5 160l-.9 .2 -.9 .4 -.9 .2 -.9 .1 -.9-.2 -.9-.3 -.9-.3 -.9-.1 -.9 0 -.9 0 -.9-.2 -.9-.4 -.9-.4 -.9-.2 -.9 0 -.9 .2 -.9 .2 -.9 .3 -.9 .2 -.9 .2 -.9 0 -.9 0 -.9 .2 -.9 .3 -.9 .5 -.9 .3 -.9 0 -.9-.1 -.9-.2 -.9-.1 -.9-.1 -.9 .1 -.9 .1 -.9 .1 -.9-.1 -.9-.3 -.9-.3 -.9-.2 -.9 0 -.9 0 -.9 0 -.9-.1 -.9-.1 -.9-.2 -.9-.1 -.9 0 -.9 .1 -.9 .2 -.9 .3 -.9 .2 -.9 .1 -.9 0 -.9-.2 -.9-.4 -.9-.3 -.9-.3 -.9-.2 -.9 .1 -.9 .3 -.9 .6 -.9 .6 -.9 .3 -.9-.2 -.9-.5 -.9-.7 -.9-.4 -.9-.1 -.9 .3 -.9 .3 -.9 .1 -.9 0 -.9 0 -.9 0 -.9 0 -.9-.1 -.9 0 -.9 .1 -.9 .3 -.9 .5 -.9 .4 -.9 .4 -.9 .1 -.9-.1 -.9-.4 -.9-.3 -.9-.3 -.9-.2 -.9 0 -.9 .1 -.9 .1 -.9 0 -.9 0 -.9-.1 -.9-.1 -.9-.1 -.9-.3 -.9-.5 -.9-.5 -.9-.4 -.9-.2 -.9 .2 -.9 .4 -.9 .4 -.9 .1 -.9-.1 -.9-.4 -.9-.2 -.9 .1 -.9 .4 -.9 .5 -.9 .5 -.9 .2 -.9-.1 -.9-.2 -.9-.3 -.9-.1 -.9 .2 -.9 .4 -.9 .5 -.9 .4 -.9 0 -.9-.4 -.9-.4 -.9-.3 -.9 .1 -.9 .4 -.9 .5 -.9 .4 -.9 0 -.9-.3 -.9-.6 -.9-.5 -.9-.2 -.9 .1 -.9 .2 -.9 .2 -.9 .2 -.9-.1 -.9-.2 -.9-.3 -.9-.2 -.9-.2 -.9 0 -.9 .3 -.9 .3 -.9 .4 -.9 .2 -.9 0 -.9-.2 -.9-.2 -.9-.2 -.9-.1 -.9-.1 -.9-.2 -.9-.1 -.9-.2 -.9-.2 -.9-.1 -.9-.1 -.9 .2 -.9 .2 -.9 .3 -.9 .2 -.9 .3 -.9 .1 -.9 .2 -.9 0 -.9 0 -.9-.3 -.9-.4 -.9-.4 -.9-.2 -.9-.1 -.9 .1 -.9 .3 -.9 .1 -.9 0 -.9-.1 -.9-.1 -.9 0 -.9 .1 -.9 .1 -.9 .1 -.9 .1 -.9 .1 -.9 0 -.9 .1 -.9 .1 -.9 .4 -.9 .4 -.9 .3 -.9 .1 -.9-.1 -.9-.3 -.9-.4 -.9-.4 -.9-.4 -.9-.3 -.9-.1 -.9 0 -.9 0 -.9 .1 -.9 .1 -.9 .2 -.9 .3 -.9 .3 -.9 .2 -.9 .2 -.9 .2 -.9 .2 -.9 .1 -.9-.2 -.9-.3 -.9-.5 -.9-.4 -.9-.4 -.9-.5 -.9-.6 -.9-.6 -.9-.7 -.9-.6 -.9-.7 -.9-.8 -.9-.8 -.9-.8 -.9-.7 -.9-.7 -.9-.9 -.9-.8 -.9-.9 -.9-.7 -.9-.7 -.9-1 -.9-1.7 -.9-2.2 -.9-2.1 -.9-1.3 -.9-.1 -.9 4.8 -.9 7 -.9 8.2 -.9 7 -.9 3.7 -.9 .7 -.9-1.2 -.9-1.1 -.9-.2 -.9-.4 -.9-.3 -.9-.2Z" fill="#7AC8BE" fill-opacity="0.22" stroke="none"/><path d="M20.5 160l.9-.9 .9-1.5 .9-1.9 .9-2.2 .9-1.6 .9-1.3 .9-4.6 .9-12.4 .9-20.2 .9-16.2 .9-14.5 .9-8.7 .9-6.1 .9-2.4 .9-.7 .9 1.8 .9 3.8 .9 3.9 .9 4.8 .9 5 .9 4.2 .9 2.5 .9 1.8 .9 1.3 .9 1.1 .9 .8 .9 .9 .9 1 .9 .8 .9 .8 .9 .6 .9 .4 .9 .1 .9 0 .9-.1 .9 .1 .9 .1 .9 .3 .9 .4 .9 .3 .9 .1 .9-.2 .9-.2 .9-.2 .9-.1 .9 .2 .9 .3 .9 .4 .9 .4 .9 .3 .9 .2 .9 .1 .9 .2 .9 .2 .9 .4 .9 .2 .9 .2 .9 .1 .9 0 .9 0 .9 .1 .9 0 .9-.1 .9-.2 .9-.2 .9-.1 .9-.2 .9-.2 .9-.2 .9-.1 .9-.2 .9-.1 .9 0 .9 .3 .9 .5 .9 .7 .9 .4 .9 .2 .9-.1 .9-.2 .9-.4 .9-.3 .9-.1 .9 .1 .9 .1 .9 0 .9-.2 .9-.4 .9-.5 .9-.6 .9-.4 .9-.1 .9 .1 .9 .4 .9 .4 .9 .2 .9 0 .9-.2 .9-.3 .9-.4 .9-.5 .9-.5 .9-.4 .9-.4 .9-.3 .9-.1 .9-.2 .9 0 .9 0 .9 0 .9 .1 .9 .2 .9 .6 .9 .7 .9 .7 .9 .5 .9 .2 .9 .1 .9 0 .9-.1 .9 0 .9 0 .9 0 .9 .2 .9 .2 .9 .2 .9 0 .9-.3 .9-.3 .9-.3 .9-.2 .9-.1 .9-.2 .9-.1 .9-.3 .9-.4 .9-.6 .9-.5 .9-.4 .9 0 .9 .3 .9 .3 .9 .2 .9 0 .9 0 .9-.2 .9-.2 .9-.3 .9-.3 .9-.1 .9 .1 .9 .2 .9 .3 .9 .4 .9 .4 .9 .4 .9 .1 .9-.1 .9-.4 .9-.5 .9-.4 .9-.1 .9 .3 .9 .3 .9 .4 .9 .4 .9 .1 .9 .1 .9 0 .9 0 .9 0 .9 .1 .9 .2 .9 .3 .9 .5 .9 .2 .9-.1 .9-.4 .9-.5 .9-.1 .9 .3 .9 .7 .9 .8 .9 .6 .9 .1 .9-.3 .9-.4 .9-.5 .9-.2 .9-.1 .9-.1 .9-.3 .9-.7 .9-.8 .9-.7 .9-.3 .9 .2 .9 .4 .9 .3 .9 .2 .9-.2 .9-.4 .9-.4 .9-.3 .9 0 .9 .3 .9 .5 .9 .6 .9 .5 .9 .2 .9 .1 .9 .1 .9 .2 .9 .3 .9 .3 .9 .3 .9 .3 .9 .3 .9 .2 .9 .1 .9 .2 .9 .2 .9 .2 .9 0 .9-.2 .9-.3 .9-.2 .9-.1 .9-.2 .9-.3 .9-.5 .9-.5 .9-.4 .9-.4 .9-.2 .9 0 .9 .4 .9 .6 .9 .6 .9 .4 .9 0 .9-.2 .9-.4 .9-.3 .9-.3 .9-.2 .9-.3 .9-.3 .9-.3 .9-.1L245.5 108.5l-.9-.1 -.9-.1 -.9 0 -.9 .1 -.9 .3 -.9 .3 -.9 .3 -.9 .2 -.9 0 -.9 0 -.9-.2 -.9-.3 -.9-.3 -.9 0 -.9 .1 -.9 .2 -.9 .3 -.9 .2 -.9 .1 -.9 .1 -.9 .2 -.9 .1 -.9 .3 -.9 .4 -.9 .4 -.9 0 -.9-.4 -.9-.7 -.9-.5 -.9-.4 -.9-.1 -.9-.2 -.9-.1 -.9-.2 -.9-.2 -.9-.2 -.9-.3 -.9-.5 -.9-.3 -.9-.4 -.9-.2 -.9-.3 -.9-.3 -.9-.3 -.9 0 -.9 .2 -.9 .3 -.9 .5 -.9 .5 -.9 .3 -.9 .1 -.9 .1 -.9 .2 -.9 .1 -.9 .2 -.9 .2 -.9 .1 -.9 .1 -.9-.1 -.9 0 -.9 .1 -.9 .2 -.9 .3 -.9 .2 -.9 0 -.9-.3 -.9-.6 -.9-.6 -.9-.5 -.9-.2 -.9 .3 -.9 .6 -.9 .6 -.9 .4 -.9 0 -.9-.2 -.9-.3 -.9-.3 -.9-.3 -.9-.3 -.9-.3 -.9-.2 -.9-.1 -.9 .1 -.9 .1 -.9 .1 -.9 0 -.9 0 -.9-.2 -.9-.2 -.9-.2 -.9-.2 -.9 .1 -.9 .1 -.9 .2 -.9 .3 -.9 .1 -.9 .1 -.9-.2 -.9-.3 -.9-.3 -.9-.2 -.9-.2 -.9 0 -.9 .2 -.9 .2 -.9 .4 -.9 .3 -.9 .2 -.9 .1 -.9 0 -.9 .1 -.9 .3 -.9 .3 -.9 .3 -.9 .3 -.9 .3 -.9 .1 -.9 0 -.9-.1 -.9 0 -.9 0 -.9 .1 -.9 .2 -.9 .2 -.9 .2 -.9-.1 -.9-.1 -.9-.4 -.9-.3 -.9-.3 -.9-.3 -.9-.3 -.9-.3 -.9-.5 -.9-.5 -.9-.4 -.9-.2 -.9 .1 -.9 .2 -.9 .3 -.9 .5 -.9 .5 -.9 .6 -.9 .5 -.9 .4 -.9 .2 -.9 .2 -.9 .3 -.9 .2 -.9 .1 -.9-.1 -.9-.1 -.9-.1 -.9-.1 -.9-.1 -.9-.1 -.9-.2 -.9 .1 -.9 .2 -.9 .5 -.9 .6 -.9 .5 -.9 .3 -.9 0 -.9-.2 -.9 0 -.9 .2 -.9 .2 -.9 .2 -.9 0 -.9 0 -.9-.2 -.9-.2 -.9-.5 -.9-.5 -.9-.5 -.9-.2 -.9 .1 -.9 .4 -.9 .5 -.9 .4 -.9 .2 -.9-.2 -.9-.3 -.9-.4 -.9-.4 -.9-.4 -.9-.3 -.9-.2 -.9-.1 -.9 .1 -.9 .4 -.9 .5 -.9 .5 -.9 .1 -.9-.1 -.9-.3 -.9-.2 -.9 0 -.9 0 -.9 0 -.9 0 -.9-.2 -.9-.1 -.9 .1 -.9 .3 -.9 .4 -.9 .2 -.9-.1 -.9-.1 -.9-.3 -.9-.2 -.9-.2 -.9-.1 -.9 0 -.9-.1 -.9-.1 -.9-.3 -.9-.3 -.9-.3 -.9-.2 -.9-.2 -.9-.1 -.9-.1 -.9-.2 -.9 0 -.9-.1 -.9-.9 -.9-2.6 -.9-3.7 -.9-3.7 -.9-3.1 -.9-3.3 -.9-1.5 -.9 .1 -.9 .7 -.9 4 -.9 6.6 -.9 12.7 -.9 14.9 -.9 18.7 -.9 10.9 -.9 3.3 -.9 .2 -.9 .5 -.9 .9 -.9 .6 -.9 .4 -.9 .2Z" fill="#F6705F" fill-opacity="0.22" stroke="none"/><line x1="21.0" y1="104.7" x2="245.5" y2="104.7" stroke="#000" stroke-width="2" stroke-dasharray="7.2 3.2"/><path d="M20.5 164.3l.9-.1 .9-.3 .9-.5 .9-.7 .9-1 .9-3.3 .9-6.9 .9-8.7 .9-15.1 .9-20.1 .9-15.4 .9-8.7 .9-6.5 .9-4.8 .9-2 .9 2.1 .9 3.3 .9 2.4 .9 2.5 .9 2.2 .9 1.4 .9-.1 .9-.6 .9-.8 .9-.7 .9-.6 .9-.5 .9-.5 .9-.3 .9-.5 .9-.5 .9-.6 .9-.7 .9-.6 .9-.8 .9-.9 .9-1 .9-1 .9-.9 .9-.7 .9-.7 .9-.8 .9-.8 .9-.4 .9-.1 .9 .1 .9 .3 .9 .4 .9 .3 .9 .3 .9 .2 .9 0 .9-.2 .9-.2 .9-.1 .9 0 .9 0 .9 0 .9 .2 .9 .1 .9 0 .9 0 .9 0 .9-.1 .9 0 .9 0 .9 0 .9 .1 .9 0 .9 0 .9 0 .9 0 .9 0 .9-.1 .9-.2 .9-.3 .9-.3 .9-.3 .9-.2 .9-.2 .9-.1 .9-.1 .9-.2 .9-.2 .9-.3 .9-.2 .9 0 .9 .1 .9 .1 .9-.1 .9-.3 .9-.2 .9 0 .9-.1 .9-.2 .9-.3 .9-.3 .9-.3 .9-.1 .9-.1 .9 0 .9-.1 .9-.2 .9-.1 .9-.1 .9 0 .9 .2 .9 .1 .9 .2 .9 .2 .9 .2 .9-.1 .9-.2 .9-.2 .9 0 .9 0 .9 0 .9-.2 .9-.3 .9-.3 .9-.1 .9-.1 .9 .1 .9 .1 .9 .1 .9-.2 .9-.3 .9-.4 .9-.5 .9-.3 .9-.1 .9 .1 .9 .3 .9 .3 .9 .2 .9 0 .9-.2 .9-.4 .9-.5 .9-.5 .9-.4 .9-.3 .9-.1 .9 0 .9 0 .9 0 .9-.1 .9 0 .9 .2 .9 .2 .9 .1 .9 .1 .9 0 .9 .2 .9 .2 .9 .2 .9 .1 .9-.3 .9-.3 .9-.3 .9-.2 .9-.2 .9-.2 .9-.4 .9-.3 .9-.3 .9-.2 .9 0 .9 .1 .9 .2 .9 .1 .9 .1 .9-.1 .9-.2 .9-.3 .9-.2 .9-.2 .9-.1 .9 0 .9 0 .9-.2 .9-.1 .9-.2 .9-.2 .9-.1 .9-.1 .9 0 .9-.1 .9-.1 .9 0 .9 .1 .9 .1 .9-.1 .9-.1 .9-.1 .9 .1 .9 0 .9 .1 .9 0 .9 0 .9 .1 .9 .1 .9 .2 .9 .1 .9 0 .9 0 .9-.2 .9-.1 .9-.2 .9-.2 .9-.1 .9-.1 .9 0 .9 .1 .9 .2 .9 .2 .9 0 .9-.2 .9-.3 .9-.3 .9-.3 .9-.3 .9-.3 .9-.2 .9-.1 .9-.1 .9 0 .9 .2 .9 .4 .9 .5 .9 .3 .9 0 .9-.3 .9-.4 .9-.2 .9-.2 .9-.1 .9-.3 .9-.3 .9-.5 .9-.5 .9-.4 .9 0 .9 .2 .9 .4 .9 .5 .9 .5 .9 .4 .9 .4 .9 .4" fill="none" stroke="#6A9FCB" stroke-width="2.0" stroke-opacity="0.85" stroke-linejoin="round" stroke-linecap="round"/><path d="M20.5 164.3l.9-.1 .9-.3 .9-.6 .9-.6 .9-.9 .9-1 .9-5.7 .9-11.8 .9-13.7 .9-11.5 .9-9.9 .9-9.9 .9-7.7 .9-3 .9 .5 .9 1.3 .9 1.5 .9 1.3 .9 1.1 .9 1.2 .9 1.2 .9 1.1 .9 1.1 .9 .9 .9 .7 .9 .2 .9-.1 .9-.3 .9-.5 .9-.7 .9-.7 .9-.7 .9-.8 .9-.8 .9-.7 .9-.8 .9-.9 .9-1 .9-1.1 .9-1 .9-.9 .9-.8 .9-.7 .9-.7 .9-.6 .9-.6 .9-.4 .9-.3 .9-.1 .9 0 .9 .1 .9 0 .9-.1 .9-.2 .9-.4 .9-.6 .9-.6 .9-.5 .9-.4 .9-.2 .9-.2 .9-.2 .9-.1 .9-.1 .9-.1 .9-.1 .9-.1 .9-.1 .9-.1 .9-.1 .9 0 .9-.1 .9-.1 .9-.3 .9-.3 .9-.3 .9-.3 .9-.3 .9-.2 .9-.1 .9-.1 .9 0 .9-.1 .9-.1 .9-.2 .9-.1 .9-.1 .9 0 .9-.1 .9-.2 .9-.3 .9-.3 .9-.2 .9-.2 .9 0 .9 0 .9 .1 .9 0 .9-.2 .9-.1 .9-.2 .9-.1 .9 0 .9 0 .9-.1 .9-.1 .9-.2 .9-.3 .9-.3 .9-.3 .9-.1 .9 0 .9 .1 .9 .1 .9-.3 .9-.4 .9-.4 .9-.2 .9 0 .9 .1 .9-.1 .9-.1 .9-.3 .9-.3 .9-.3 .9-.1 .9 0 .9 .2 .9 .1 .9 .1 .9-.2 .9-.3 .9-.4 .9-.3 .9-.1 .9 .1 .9 .1 .9 .1 .9 0 .9-.1 .9-.2 .9-.1 .9-.1 .9-.2 .9-.3 .9-.3 .9-.3 .9-.2 .9-.1 .9 .1 .9 0 .9 0 .9-.1 .9 0 .9-.1 .9-.2 .9-.2 .9-.1 .9 0 .9 .1 .9 .2 .9 .2 .9 .1 .9 0 .9 .1 .9 .1 .9 .2 .9 0 .9-.3 .9-.4 .9-.5 .9-.5 .9-.3 .9-.1 .9-.1 .9-.2 .9-.2 .9-.3 .9-.2 .9 0 .9 .1 .9 .1 .9 0 .9-.1 .9 0 .9-.1 .9 0 .9-.2 .9-.3 .9-.3 .9-.2 .9-.1 .9 0 .9 0 .9 0 .9 .1 .9 .2 .9 .1 .9 0 .9-.2 .9-.2 .9-.1 .9 .1 .9 .3 .9 .3 .9 .3 .9 .1 .9 .1 .9 0 .9-.1 .9-.2 .9-.1 .9-.1 .9 0 .9 .2 .9 .2 .9 .2 .9 0 .9-.2 .9-.2 .9 0 .9 0 .9 0 .9-.2 .9-.3 .9-.3 .9-.3 .9-.1 .9 .1 .9 .3 .9 .3 .9 .1 .9 0 .9-.2 .9-.1 .9-.1 .9 .1 .9 0 .9-.2 .9-.1 .9-.1 .9 0 .9 .1 .9 .2 .9 .1 .9 0 .9-.1 .9-.1 .9-.1 .9 0" fill="none" stroke="#B2A8DB" stroke-width="2.0" stroke-opacity="0.85" stroke-linejoin="round" stroke-linecap="round"/><path d="M20.5 164.3l.9-.1 .9-.3 .9-.6 .9-.7 .9-.9 .9-1 .9-5.4 .9-11.3 .9-13 .9-10.6 .9-8.6 .9-8.2 .9-5.3 .9-.4 .9 2.1 .9 2.7 .9 2.1 .9 1.6 .9 1.7 .9 1.9 .9 1.7 .9 1.5 .9 1.1 .9 .6 .9 0 .9-.4 .9-.4 .9-.5 .9-.5 .9-.6 .9-.7 .9-.8 .9-.8 .9-.8 .9-.9 .9-1 .9-1 .9-1 .9-1 .9-.9 .9-.8 .9-.7 .9-.6 .9-.7 .9-.6 .9-.5 .9-.4 .9-.4 .9-.3 .9-.5 .9-.5 .9-.8 .9-.7 .9-.7 .9-.5 .9-.5 .9-.4 .9-.5 .9-.6 .9-.7 .9-.7 .9-.7 .9-.4 .9-.4 .9-.3 .9-.3 .9-.3 .9-.1 .9-.2 .9-.1 .9 0 .9 .1 .9 0 .9 .2 .9 0 .9 0 .9-.2 .9-.4 .9-.5 .9-.5 .9-.4 .9-.3 .9-.2 .9-.3 .9-.2 .9-.2 .9-.1 .9-.1 .9 0 .9-.1 .9-.1 .9-.2 .9-.2 .9-.2 .9-.1 .9 0 .9-.1 .9 0 .9-.1 .9-.1 .9-.1 .9-.1 .9-.3 .9-.4 .9-.3 .9-.3 .9-.2 .9-.1 .9-.2 .9-.1 .9 0 .9-.2 .9-.1 .9-.1 .9-.2 .9 0 .9-.1 .9-.1 .9-.1 .9-.2 .9-.2 .9-.2 .9-.2 .9-.2 .9-.1 .9-.1 .9-.2 .9-.3 .9-.2 .9-.1 .9 .2 .9 .2 .9 .2 .9 0 .9-.1 .9-.2 .9-.3 .9-.4 .9-.3 .9-.3 .9-.2 .9-.1 .9-.1 .9 0 .9 0 .9-.1 .9-.1 .9-.2 .9-.2 .9-.2 .9-.1 .9-.2 .9-.3 .9-.3 .9-.2 .9-.1 .9 .1 .9 0 .9 .1 .9 0 .9 0 .9-.2 .9-.2 .9-.5 .9-.4 .9-.4 .9-.2 .9-.1 .9 0 .9 0 .9 .1 .9 .1 .9-.1 .9-.2 .9-.2 .9-.4 .9-.3 .9-.3 .9-.1 .9 .2 .9 .3 .9 .3 .9 .1 .9-.1 .9-.2 .9-.3 .9-.3 .9-.2 .9-.2 .9 0 .9-.1 .9 0 .9 0 .9-.1 .9-.2 .9-.2 .9-.1 .9 0 .9 .2 .9 .3 .9 .2 .9 0 .9-.2 .9-.2 .9-.1 .9 .1 .9 .3 .9 .3 .9 .1 .9-.1 .9-.3 .9-.5 .9-.3 .9-.3 .9 0 .9 .1 .9 .1 .9 .1 .9-.1 .9-.1 .9-.3 .9-.3 .9-.3 .9 0 .9 .1 .9 .1 .9 .1 .9-.1 .9-.1 .9-.2 .9-.1 .9-.1 .9 .1 .9 .1 .9 0 .9-.1 .9-.2 .9-.3 .9-.2 .9-.3 .9-.2 .9-.1 .9 .1 .9 .2 .9 .2 .9 .2 .9 .1 .9-.2 .9-.2 .9-.3" fill="none" stroke="#C0845A" stroke-width="2.0" stroke-opacity="0.85" stroke-linejoin="round" stroke-linecap="round"/><path d="M20.5 164.3l.9-.1 .9-.4 .9-.5 .9-.8 .9-.9 .9-1.3 .9-5.2 .9-10.4 .9-11.5 .9-8.5 .9-5.8 .9-5.6 .9-4.1 .9-1.7 .9 .2 .9 1 .9 1.3 .9 1.7 .9 1.6 .9 1.4 .9 1.1 .9 1.1 .9 1.1 .9 1.3 .9 1.3 .9 1.4 .9 1.2 .9 .9 .9 .7 .9 .3 .9-.2 .9-.7 .9-.9 .9-1 .9-1.1 .9-.8 .9-.7 .9-.6 .9-.6 .9-.9 .9-.9 .9-.8 .9-.7 .9-.6 .9-.5 .9-.5 .9-.6 .9-.6 .9-.6 .9-.5 .9-.5 .9-.6 .9-.4 .9-.4 .9-.2 .9-.3 .9-.3 .9-.3 .9-.3 .9-.4 .9-.4 .9-.6 .9-.6 .9-.6 .9-.5 .9-.3 .9 0 .9 .1 .9 .1 .9-.1 .9-.3 .9-.4 .9-.4 .9-.5 .9-.5 .9-.5 .9-.4 .9-.3 .9-.2 .9-.3 .9-.3 .9-.2 .9-.1 .9 .1 .9 0 .9-.2 .9-.2 .9-.2 .9-.3 .9-.3 .9-.4 .9-.4 .9-.5 .9-.4 .9-.3 .9-.2 .9-.2 .9-.1 .9-.3 .9-.3 .9-.3 .9-.1 .9-.1 .9 .1 .9 .1 .9 .1 .9 .1 .9-.1 .9-.2 .9-.2 .9 0 .9 .1 .9 0 .9 0 .9-.2 .9-.4 .9-.6 .9-.7 .9-.5 .9-.2 .9 .1 .9 .2 .9 .2 .9 .1 .9 0 .9-.2 .9-.5 .9-.5 .9-.5 .9-.2 .9 0 .9 .1 .9 .1 .9 0 .9-.1 .9-.4 .9-.4 .9-.4 .9-.4 .9-.5 .9-.4 .9-.3 .9-.1 .9 .1 .9-.1 .9-.4 .9-.5 .9-.5 .9-.2 .9 0 .9 0 .9 0 .9 0 .9-.2 .9-.3 .9-.4 .9-.4 .9-.4 .9-.4 .9-.3 .9-.2 .9 0 .9 .2 .9 .2 .9 0 .9-.4 .9-.7 .9-.7 .9-.5 .9-.2 .9 0 .9-.1 .9-.2 .9-.3 .9-.3 .9-.1 .9 0 .9-.1 .9-.2 .9-.3 .9-.3 .9-.2 .9-.1 .9 0 .9 0 .9-.1 .9-.1 .9-.2 .9-.1 .9-.1 .9 .1 .9 .2 .9 0 .9 0 .9-.2 .9-.2 .9-.1 .9 0 .9-.1 .9-.1 .9-.2 .9-.2 .9-.1 .9 0 .9 .1 .9 .2 .9 0 .9 0 .9-.1 .9-.2 .9-.1 .9-.2 .9-.2 .9-.2 .9-.1 .9-.1 .9 0 .9 .1 .9-.1 .9-.1 .9-.2 .9-.2 .9-.2 .9-.1 .9 0 .9 .1 .9-.1 .9-.1 .9-.1 .9-.1 .9-.1 .9-.2 .9 0 .9 0 .9 .1 .9 0 .9-.1 .9-.1 .9 .1 .9 0 .9 0 .9-.4 .9-.5 .9-.6 .9-.4 .9-.2 .9-.1 .9-.2 .9-.3 .9-.2" fill="none" stroke="#91A5DC" stroke-width="2.0" stroke-opacity="0.85" stroke-linejoin="round" stroke-linecap="round"/><path d="M20.5 164.3l.9-.1 .9-.4 .9-.5 .9-.8 .9-.9 .9-1 .9-4.8 .9-9.6 .9-10.7 .9-8.1 .9-5.4 .9-5 .9-3.4 .9-1.1 .9 .8 .9 1.2 .9 1.5 .9 1.3 .9 1.3 .9 .9 .9 .9 .9 .9 .9 .9 .9 .9 .9 .9 .9 .8 .9 .9 .9 .9 .9 .8 .9 .6 .9 .3 .9 0 .9-.3 .9-.3 .9-.3 .9-.3 .9-.5 .9-.7 .9-.8 .9-1 .9-.8 .9-.8 .9-.8 .9-.7 .9-.5 .9-.2 .9-.2 .9-.1 .9-.2 .9-.3 .9-.3 .9-.3 .9-.2 .9-.3 .9-.5 .9-.5 .9-.6 .9-.6 .9-.7 .9-.7 .9-.6 .9-.4 .9-.4 .9-.3 .9-.4 .9-.2 .9-.2 .9 0 .9-.1 .9 0 .9-.2 .9-.3 .9-.4 .9-.5 .9-.3 .9-.2 .9-.2 .9-.2 .9-.3 .9-.3 .9-.4 .9-.3 .9-.4 .9-.2 .9-.3 .9-.2 .9-.1 .9-.1 .9-.1 .9-.1 .9-.4 .9-.5 .9-.6 .9-.5 .9-.4 .9-.3 .9-.3 .9-.2 .9-.3 .9-.2 .9-.1 .9-.2 .9-.3 .9-.6 .9-.6 .9-.6 .9-.5 .9-.4 .9-.3 .9-.3 .9-.2 .9-.3 .9-.2 .9-.3 .9-.3 .9-.2 .9 0 .9 0 .9 0 .9-.2 .9-.5 .9-.6 .9-.7 .9-.5 .9-.1 .9 .1 .9 .3 .9 .2 .9 0 .9-.1 .9-.3 .9-.3 .9-.2 .9-.3 .9-.3 .9-.2 .9-.3 .9-.2 .9-.3 .9-.3 .9-.4 .9-.3 .9-.3 .9-.1 .9 .1 .9 0 .9 0 .9-.1 .9-.1 .9-.2 .9-.1 .9-.1 .9-.1 .9-.2 .9-.1 .9-.1 .9-.1 .9-.1 .9-.1 .9-.1 .9-.1 .9-.1 .9 0 .9 0 .9 0 .9-.2 .9-.2 .9-.2 .9-.2 .9-.2 .9-.3 .9-.3 .9-.2 .9-.1 .9 .1 .9 0 .9-.2 .9-.2 .9-.1 .9-.1 .9-.1 .9-.1 .9-.2 .9-.3 .9-.4 .9-.4 .9-.2 .9-.1 .9 0 .9 .2 .9 .1 .9 .1 .9-.1 .9-.3 .9-.3 .9-.3 .9-.2 .9-.2 .9-.2 .9-.2 .9 .1 .9 .2 .9 .3 .9 .3 .9 .1 .9 0 .9-.3 .9-.4 .9-.6 .9-.6 .9-.5 .9-.3 .9-.2 .9 0 .9 .2 .9 0 .9 0 .9-.1 .9 0 .9 .2 .9 .3 .9 .2 .9 .1 .9-.2 .9-.2 .9-.4 .9-.4 .9-.3 .9-.2 .9-.1 .9-.2 .9-.1 .9-.1 .9-.2 .9-.3 .9-.5 .9-.4 .9-.1 .9 .2 .9 .4 .9 .4 .9 .3 .9 0 .9 0 .9-.2 .9-.3 .9-.3 .9 0 .9 .1 .9 0" fill="none" stroke="#B67FAA" stroke-width="2.0" stroke-opacity="0.85" stroke-linejoin="round" stroke-linecap="round"/><path d="M20.5 165.5l.9-.1 .9-.3 .9-.5 .9-.9 .9-1 .9-1.1 .9-4.3 .9-8.6 .9-10 .9-8.7 .9-8.2 .9-7.7 .9-3.3 .9 .8 .9 1.8 .9 2.2 .9 2.3 .9 1.9 .9 1.8 .9 1.9 .9 1.9 .9 1.8 .9 1.6 .9 1.4 .9 1 .9 1 .9 1 .9 .9 .9 .6 .9 .4 .9 .2 .9 .2 .9 .2 .9 .2 .9 .1 .9 0 .9-.1 .9-.3 .9-.3 .9-.3 .9-.4 .9-.4 .9-.4 .9-.3 .9-.4 .9-.3 .9-.3 .9-.5 .9-.6 .9-.5 .9-.5 .9-.3 .9-.3 .9-.1 .9-.1 .9 .1 .9 .1 .9 .2 .9 .2 .9 0 .9-.3 .9-.5 .9-.8 .9-.7 .9-.4 .9-.1 .9 .1 .9 .1 .9 0 .9-.3 .9-.4 .9-.4 .9-.4 .9-.3 .9-.3 .9-.3 .9-.3 .9-.2 .9 0 .9-.1 .9-.1 .9-.1 .9-.1 .9-.1 .9-.2 .9-.3 .9-.4 .9-.5 .9-.5 .9-.4 .9-.3 .9-.2 .9-.2 .9-.4 .9-.4 .9-.5 .9-.4 .9-.4 .9-.1 .9 0 .9 .1 .9-.1 .9-.1 .9-.4 .9-.4 .9-.5 .9-.5 .9-.5 .9-.5 .9-.5 .9-.4 .9-.2 .9-.2 .9-.2 .9-.3 .9-.5 .9-.5 .9-.4 .9-.2 .9 0 .9 .1 .9 0 .9-.2 .9-.4 .9-.4 .9-.3 .9-.3 .9-.1 .9 0 .9 0 .9 .1 .9 0 .9 0 .9 0 .9 .1 .9 .1 .9 .1 .9-.2 .9-.3 .9-.2 .9-.2 .9-.2 .9-.4 .9-.4 .9-.3 .9-.2 .9 .1 .9 .2 .9 .1 .9 0 .9-.1 .9-.1 .9-.1 .9-.1 .9 .1 .9 .1 .9 .2 .9 .2 .9 .2 .9 .1 .9 .1 .9 0 .9 .1 .9-.2 .9-.3 .9-.5 .9-.4 .9-.1 .9 0 .9 .1 .9 .1 .9 0 .9-.3 .9-.5 .9-.6 .9-.5 .9-.2 .9-.2 .9-.1 .9 0 .9 .1 .9 .2 .9 0 .9-.1 .9 0 .9 .2 .9 .2 .9 .3 .9 .1 .9 0 .9 0 .9-.2 .9-.2 .9-.2 .9-.2 .9-.2 .9-.1 .9-.2 .9-.1 .9-.1 .9-.2 .9-.1 .9 0 .9 0 .9 .1 .9 0 .9-.1 .9-.2 .9-.2 .9 0 .9 0 .9 .2 .9 0 .9 0 .9-.2 .9-.4 .9-.4 .9-.4 .9-.3 .9-.1 .9 0 .9-.1 .9 .1 .9 0 .9 0 .9 0 .9-.2 .9-.1 .9-.1 .9 0 .9 .1 .9 0 .9-.1 .9-.2 .9-.2 .9 0 .9 0 .9 .1 .9 0 .9-.1 .9-.2 .9-.1 .9-.1 .9-.1 .9-.1 .9-.2 .9-.3 .9-.4 .9-.3 .9-.3" fill="none" stroke="#FCAE62" stroke-width="2.0" stroke-opacity="0.85" stroke-linejoin="round" stroke-linecap="round"/><path d="M20.5 165.5l.9-.1 .9-.3 .9-.6 .9-.7 .9-.8 .9-1 .9-3.5 .9-7 .9-8 .9-6.7 .9-5.6 .9-5.1 .9-2.4 .9 .3 .9 1.2 .9 1.7 .9 2.2 .9 2.3 .9 2.3 .9 1.7 .9 1.3 .9 1.1 .9 .9 .9 .8 .9 .9 .9 .9 .9 .7 .9 .3 .9 0 .9-.2 .9-.1 .9 .1 .9 .2 .9 .2 .9 .2 .9 .1 .9 .1 .9 .3 .9 .4 .9 .3 .9 .4 .9 .1 .9-.2 .9-.2 .9-.3 .9 0 .9 .1 .9 .2 .9 .2 .9 .1 .9-.1 .9-.3 .9-.3 .9 0 .9 .3 .9 .4 .9 .2 .9 .1 .9-.1 .9-.3 .9-.3 .9-.3 .9-.1 .9 0 .9 .1 .9 .2 .9 0 .9 0 .9 0 .9-.1 .9 .1 .9 .2 .9 .2 .9 .1 .9 .1 .9 .1 .9 0 .9 .1 .9-.2 .9-.3 .9-.4 .9-.3 .9-.1 .9-.1 .9 0 .9 0 .9 .1 .9 .1 .9 0 .9 .1 .9 .1 .9 .1 .9 .2 .9 0 .9-.1 .9-.2 .9-.3 .9-.3 .9-.2 .9-.1 .9 0 .9-.1 .9 0 .9 0 .9 .1 .9 .2 .9 .1 .9 0 .9 .1 .9 .1 .9-.1 .9-.2 .9-.3 .9-.3 .9-.2 .9-.2 .9-.2 .9-.1 .9 0 .9 .1 .9 .1 .9 .2 .9 .2 .9 .1 .9-.1 .9-.4 .9-.5 .9-.5 .9-.4 .9-.2 .9-.3 .9-.2 .9-.3 .9-.4 .9-.5 .9-.3 .9-.3 .9-.1 .9 .1 .9 .2 .9 0 .9-.3 .9-.6 .9-.6 .9-.5 .9-.4 .9-.2 .9-.1 .9-.2 .9-.2 .9-.1 .9 0 .9 0 .9-.1 .9-.3 .9-.6 .9-.5 .9-.5 .9-.3 .9-.3 .9-.3 .9-.4 .9-.2 .9-.2 .9-.1 .9 0 .9 0 .9 .1 .9 .1 .9 .1 .9-.1 .9-.4 .9-.4 .9-.5 .9-.3 .9-.1 .9-.3 .9-.2 .9-.4 .9-.3 .9-.1 .9 0 .9 .2 .9 .2 .9 .1 .9 .1 .9-.1 .9-.1 .9-.3 .9-.3 .9-.2 .9-.1 .9 .2 .9 .1 .9 .1 .9-.2 .9-.1 .9-.2 .9-.1 .9-.1 .9-.1 .9-.2 .9-.2 .9-.1 .9 0 .9 .2 .9 .2 .9 0 .9-.2 .9-.4 .9-.6 .9-.5 .9-.3 .9-.1 .9 .1 .9 0 .9 .1 .9 .1 .9 .2 .9 0 .9-.2 .9-.4 .9-.5 .9-.4 .9-.3 .9 .1 .9 .2 .9 .3 .9 .2 .9 0 .9-.3 .9-.3 .9-.3 .9-.1 .9 .1 .9 .2 .9 0 .9-.3 .9-.5 .9-.6 .9-.5 .9-.3 .9-.1 .9 .2 .9 .2 .9 0 .9-.3 .9-.2 .9-.3 .9-.1" fill="none" stroke="#E2D2C8" stroke-width="2.0" stroke-opacity="0.85" stroke-linejoin="round" stroke-linecap="round"/><path d="M20.5 165.5l.9 0 .9-.2 .9-.2 .9-.4 .9-.3 .9-2 .9-4.1 .9-4.9 .9-6.4 .9-7.5 .9-5 .9-2.3 .9-1.5 .9-.1 .9 1.4 .9 1.9 .9 1.6 .9 1 .9 .9 .9 .9 .9 .9 .9 .8 .9 1 .9 1.1 .9 1 .9 .9 .9 .5 .9 .4 .9 .4 .9 .5 .9 .7 .9 .6 .9 .5 .9 .2 .9 .2 .9 .2 .9 .3 .9 .2 .9 .3 .9 .2 .9 .3 .9 .5 .9 .6 .9 .4 .9 .3 .9 .1 .9-.1 .9-.2 .9-.2 .9-.2 .9 .1 .9 .3 .9 .4 .9 .3 .9 .1 .9-.3 .9-.3 .9-.3 .9-.2 .9 0 .9 0 .9 .1 .9 .1 .9 .3 .9 .1 .9 .1 .9 0 .9 0 .9-.1 .9 .1 .9 .2 .9 .2 .9 .1 .9-.1 .9-.3 .9-.4 .9-.3 .9 .1 .9 .3 .9 .4 .9 .5 .9 .3 .9 0 .9-.2 .9-.4 .9-.4 .9-.4 .9-.3 .9-.1 .9 0 .9 .2 .9 .3 .9 .3 .9 .2 .9 .1 .9 .1 .9 .1 .9 .2 .9 .2 .9 .2 .9 0 .9 0 .9 0 .9-.1 .9-.1 .9-.2 .9-.3 .9-.1 .9 0 .9 0 .9 .1 .9 0 .9 .1 .9 .1 .9-.1 .9-.1 .9-.1 .9 0 .9 0 .9 0 .9 0 .9 .1 .9 .1 .9 .2 .9 .1 .9 0 .9-.2 .9-.3 .9-.3 .9-.2 .9-.1 .9 0 .9-.2 .9-.1 .9-.1 .9 0 .9 .1 .9 0 .9 .1 .9 0 .9 0 .9-.1 .9-.1 .9 0 .9 .2 .9 .4 .9 .3 .9 .1 .9-.1 .9-.1 .9 0 .9 .1 .9 .1 .9 .1 .9-.2 .9-.3 .9-.4 .9-.3 .9-.3 .9-.2 .9 0 .9 .3 .9 .3 .9 .4 .9 .2 .9 .2 .9-.1 .9-.1 .9-.3 .9-.4 .9-.3 .9-.1 .9-.1 .9 0 .9 0 .9 0 .9 0 .9 .1 .9 .2 .9 .2 .9 .1 .9-.1 .9-.1 .9 0 .9 .1 .9 .2 .9 .1 .9 0 .9-.1 .9-.2 .9 0 .9-.1 .9 0 .9 .1 .9 .3 .9 .3 .9 .2 .9 0 .9-.1 .9-.2 .9-.2 .9-.1 .9-.2 .9-.2 .9-.2 .9-.1 .9-.1 .9-.1 .9-.2 .9-.1 .9 .1 .9 .2 .9 0 .9-.1 .9-.2 .9-.2 .9-.1 .9 .1 .9 .1 .9 .1 .9 .1 .9 0 .9 0 .9 .1 .9 .2 .9 .1 .9 0 .9-.2 .9-.4 .9-.3 .9-.2 .9 .1 .9 .2 .9 .2 .9 .3 .9 .4 .9 .3 .9 .2 .9-.1 .9-.2 .9-.3 .9-.3 .9-.3 .9-.2 .9-.2 .9-.1 .9 .1 .9 .3 .9 .4 .9 .3" fill="none" stroke="#8E8E8E" stroke-width="2.0" stroke-opacity="0.85" stroke-linejoin="round" stroke-linecap="round"/><path d="M20.5 164.3l.9 0 .9 .1 .9 .3 .9 .3 .9 1.1 .9 1.3 .9-.6 .9-3.7 .9-7.1 .9-8.2 .9-7.2 .9-5 .9 0 .9 1 .9 1.7 .9 1.8 .9 1.4 .9 1 .9 1 .9 1 .9 1.1 .9 1.1 .9 1 .9 .8 .9 .7 .9 .6 .9 .5 .9 .5 .9 .4 .9 .5 .9 .5 .9 .6 .9 .5 .9 .3 .9 .3 .9 .2 .9 .2 .9 .3 .9 .2 .9 .1 .9 0 .9-.1 .9-.2 .9-.2 .9-.2 .9-.2 .9 .1 .9 .1 .9 .2 .9 .1 .9 .1 .9-.1 .9 .1 .9 .1 .9 .2 .9 .3 .9 .3 .9 .1 .9 0 .9-.2 .9-.3 .9-.1 .9-.1 .9 0 .9-.1 .9-.1 .9-.1 .9-.1 .9-.2 .9-.1 .9-.2 .9 0 .9 0 .9 0 .9 0 .9 .1 .9 .1 .9 .1 .9 .2 .9 .3 .9 .4 .9 .3 .9 .2 .9 0 .9-.1 .9-.2 .9-.2 .9-.3 .9-.1 .9 0 .9 .1 .9 .1 .9 .2 .9 .1 .9 0 .9 0 .9-.1 .9 0 .9-.1 .9 0 .9 .1 .9 .2 .9 .3 .9 .1 .9 0 .9-.2 .9-.2 .9-.2 .9-.2 .9-.1 .9 0 .9 .1 .9 .2 .9 .2 .9 .1 .9 .1 .9 0 .9 .2 .9 .2 .9 .2 .9 .1 .9-.1 .9-.3 .9-.3 .9-.3 .9 0 .9 .3 .9 .4 .9 .3 .9 .1 .9-.3 .9-.5 .9-.5 .9-.4 .9-.2 .9 .1 .9 .1 .9 .2 .9 0 .9-.2 .9-.3 .9-.4 .9-.1 .9 .1 .9 .3 .9 .2 .9 0 .9 0 .9 .1 .9 .3 .9 .3 .9 .3 .9 .1 .9-.1 .9-.1 .9 0 .9 0 .9 .2 .9 .1 .9 0 .9-.1 .9-.3 .9-.2 .9-.2 .9-.1 .9 .1 .9 .1 .9 0 .9 0 .9-.1 .9-.1 .9-.1 .9 0 .9 0 .9 .1 .9 0 .9 0 .9-.1 .9 0 .9-.1 .9-.1 .9-.1 .9 0 .9 .2 .9 .5 .9 .5 .9 .5 .9 .2 .9-.1 .9-.3 .9-.4 .9-.4 .9-.1 .9 0 .9 .1 .9 .2 .9 .3 .9 .3 .9 .1 .9 .1 .9-.1 .9-.1 .9-.3 .9-.2 .9-.2 .9-.1 .9 0 .9 0 .9 0 .9 0 .9 0 .9 0 .9 .1 .9 .1 .9 .1 .9-.1 .9-.1 .9-.1 .9 0 .9 0 .9 0 .9 .1 .9-.1 .9-.1 .9-.2 .9-.3 .9-.1 .9 0 .9 .2 .9 .1 .9 0 .9-.1 .9-.1 .9-.1 .9 0 .9 0 .9 .1 .9 .3 .9 .2 .9 .1 .9 0 .9-.2 .9 0 .9 .1 .9 .2 .9 .1 .9 0 .9-.1 .9-.2 .9-.2" fill="none" stroke="#7AC8BE" stroke-width="2.0" stroke-opacity="0.85" stroke-linejoin="round" stroke-linecap="round"/><path d="M20.5 162.4l.9-.5 .9-.8 .9-1.2 .9-1.5 .9-1.1 .9-.9 .9-4.3 .9-11.8 .9-19.6 .9-15.6 .9-13.4 .9-7.4 .9-5 .9-1.5 .9-.5 .9 1.6 .9 3.6 .9 3.6 .9 4.3 .9 4.3 .9 3.4 .9 1.5 .9 .9 .9 .7 .9 .6 .9 .5 .9 .4 .9 .4 .9 .3 .9 .5 .9 .5 .9 .4 .9 .3 .9 .2 .9 .2 .9 .3 .9 .2 .9 .2 .9 .1 .9 0 .9-.1 .9-.1 .9-.2 .9-.1 .9-.1 .9 0 .9 .1 .9 .1 .9 .1 .9 .3 .9 .3 .9 .3 .9 .3 .9 .2 .9 .1 .9-.2 .9-.2 .9-.2 .9-.1 .9 0 .9 0 .9 .1 .9 .1 .9 .2 .9 .1 .9 .2 .9 .2 .9 0 .9-.2 .9-.2 .9-.2 .9-.1 .9 .1 .9 .3 .9 .3 .9 .2 .9 .2 .9 0 .9 0 .9-.1 .9-.1 .9-.2 .9 0 .9 0 .9 0 .9-.1 .9-.2 .9-.4 .9-.4 .9-.3 .9-.2 .9 0 .9 .1 .9 .1 .9 0 .9-.2 .9-.3 .9-.2 .9-.3 .9-.2 .9-.3 .9-.2 .9-.2 .9-.1 .9-.2 .9-.2 .9-.2 .9-.2 .9-.3 .9-.2 .9-.3 .9 0 .9 .1 .9 .3 .9 .5 .9 .5 .9 .4 .9 .3 .9 .3 .9 .2 .9 .1 .9 .2 .9 .2 .9 .2 .9 .2 .9 .1 .9 .1 .9-.1 .9-.2 .9-.3 .9-.4 .9-.4 .9-.2 .9-.3 .9-.1 .9-.2 .9-.3 .9-.2 .9-.2 .9 0 .9 .1 .9 0 .9-.1 .9-.1 .9-.2 .9-.1 .9 0 .9 0 .9 .1 .9 .1 .9 .2 .9 .1 .9 .1 .9 0 .9 0 .9 .1 .9 .1 .9 .1 .9 0 .9 0 .9-.1 .9-.1 .9 0 .9 .1 .9 .1 .9 .2 .9 0 .9 .1 .9 .1 .9 .1 .9 .2 .9 0 .9 .1 .9 .1 .9 .1 .9 .1 .9-.1 .9-.2 .9-.2 .9 .1 .9 .2 .9 .5 .9 .5 .9 .2 .9-.1 .9-.3 .9-.4 .9-.3 .9 0 .9 .1 .9 .2 .9 .1 .9-.3 .9-.4 .9-.4 .9-.3 .9-.1 .9 0 .9 .1 .9 .1 .9 0 .9 0 .9-.2 .9-.3 .9-.3 .9-.2 .9 0 .9 .2 .9 .4 .9 .3 .9 .2 .9 .3 .9 .3 .9 .3 .9 .4 .9 .3 .9 .2 .9 .2 .9 .1 .9-.1 .9 0 .9 .1 .9 .1 .9 .1 .9 0 .9-.2 .9-.1 .9-.1 .9-.1 .9-.2 .9-.1 .9-.1 .9-.1 .9-.2 .9-.4 .9-.2 .9-.1 .9 .2 .9 .3 .9 .3 .9 .1 .9 0 .9-.2 .9-.2 .9-.2 .9-.1 .9 0 .9 0 .9 .1 .9 0" fill="none" stroke="#F6705F" stroke-width="2.4" stroke-opacity="1.0" stroke-linejoin="round" stroke-linecap="round"/><text y="65.3" class="an"><tspan x="27">60</tspan><tspan x="37.6" font-style="italic">J</tspan><tspan x="51.3">2.5</tspan><tspan x="65.2" font-style="italic">W</tspan><tspan x="83.5">24</tspan><tspan x="94.3" font-style="italic">s</tspan></text><path d="M42.4,61.7H48.6M42.4,63.9H48.6M77,60.6L80.4,64M77,64L80.4,60.6" stroke="#222" stroke-width="0.7" fill="none"/><line x1="62" y1="67.5" x2="62" y2="91" stroke="#000" stroke-width="2"/><path d="M58.9,90.2 L65.2,90.2 L62,97.4 Z" fill="#000"/></g><rect x="20.5" y="43.5" width="225.0" height="133.5" fill="none" stroke="#a8a8a8" stroke-width="1"/><line x1="20.5" y1="177.0" x2="20.5" y2="178.5" stroke="#777" stroke-width="0.8"/><text x="20.5" y="186.8" text-anchor="middle" class="tk">0</text><line x1="65.5" y1="177.0" x2="65.5" y2="178.5" stroke="#777" stroke-width="0.8"/><text x="64.3" y="186.8" text-anchor="middle" class="tk">500</text><line x1="110.5" y1="177.0" x2="110.5" y2="178.5" stroke="#777" stroke-width="0.8"/><text x="110.5" y="186.8" text-anchor="middle" class="tk">1000</text><line x1="155.5" y1="177.0" x2="155.5" y2="178.5" stroke="#777" stroke-width="0.8"/><text x="155.5" y="186.8" text-anchor="middle" class="tk">1500</text><line x1="200.5" y1="177.0" x2="200.5" y2="178.5" stroke="#777" stroke-width="0.8"/><text x="199.2" y="186.8" text-anchor="middle" class="tk">2000</text><text x="211.5" y="186.8" class="tk it">[Iter.]</text><line x1="19.0" y1="155.4" x2="20.5" y2="155.4" stroke="#777" stroke-width="0.8"/><text x="18.0" y="159.4" text-anchor="end" class="tk">20</text><line x1="19.0" y1="130.05" x2="20.5" y2="130.05" stroke="#777" stroke-width="0.8"/><text x="18.0" y="134.05" text-anchor="end" class="tk">40</text><line x1="19.0" y1="104.7" x2="20.5" y2="104.7" stroke="#777" stroke-width="0.8"/><text x="18.0" y="108.7" text-anchor="end" class="tk">60</text><line x1="19.0" y1="79.35" x2="20.5" y2="79.35" stroke="#777" stroke-width="0.8"/><text x="18.0" y="83.35" text-anchor="end" class="tk">80</text><line x1="19.0" y1="54" x2="20.5" y2="54" stroke="#777" stroke-width="0.8"/><text x="18.0" y="58" text-anchor="end" class="tk">100</text><text x="7.3" y="44.7" class="tk">[<tspan font-style="italic">J</tspan>]</text><text x="127.2" y="198.8" text-anchor="middle" class="tt">(a) Mean Energy Cost</text><rect x="271.5" y="43.5" width="224.0" height="134.0" fill="#ffffff"/><line x1="271.1" y1="43.5" x2="271.1" y2="177.5" stroke="#ebebeb" stroke-width="0.8"/><line x1="315.95" y1="43.5" x2="315.95" y2="177.5" stroke="#ebebeb" stroke-width="0.8"/><line x1="360.8" y1="43.5" x2="360.8" y2="177.5" stroke="#ebebeb" stroke-width="0.8"/><line x1="405.65" y1="43.5" x2="405.65" y2="177.5" stroke="#ebebeb" stroke-width="0.8"/><line x1="450.5" y1="43.5" x2="450.5" y2="177.5" stroke="#ebebeb" stroke-width="0.8"/><line x1="271.5" y1="172.26" x2="495.5" y2="172.26" stroke="#ebebeb" stroke-width="0.8"/><line x1="271.5" y1="151.61" x2="495.5" y2="151.61" stroke="#ebebeb" stroke-width="0.8"/><line x1="271.5" y1="130.96" x2="495.5" y2="130.96" stroke="#ebebeb" stroke-width="0.8"/><line x1="271.5" y1="110.31" x2="495.5" y2="110.31" stroke="#ebebeb" stroke-width="0.8"/><line x1="271.5" y1="89.66" x2="495.5" y2="89.66" stroke="#ebebeb" stroke-width="0.8"/><line x1="271.5" y1="69.01" x2="495.5" y2="69.01" stroke="#ebebeb" stroke-width="0.8"/><line x1="271.5" y1="48.36" x2="495.5" y2="48.36" stroke="#ebebeb" stroke-width="0.8"/><g clip-path="url(#cb)"><path d="M271.1 159.4l.9-8.8 .9-8.6 .9-6.8 .9-7.2 .9-5.7 .9-3.6 .9-5.4 .9-1.4 .9-1.1 .9-2.2 .9 .3 .9-2.7 .9-1.2 .9 .3 .9 1.3 .9-.2 .8-1.2 .9 1.5 .9-.1 .9-2.1 .9-.1 .9 1.1 .9-.6 .9 .4 .9 2.1 .9-1.4 .9 .2 .9 .3 .9 2.6 .9 1.9 .9-1.1 .9-.1 .9 .3 .9 1.5 .9 1 .9 1.5 .9-.4 .9 .1 .9 .7 .9 1.6 .9 .4 .9 1.5 .9 .8 .9 1.3 .9 1 .9-.8 .9 1.4 .9 .2 .9-.5 .9-.1 .8 .3 .9 1.3 .9 1.8 .9 .7 .9 1.2 .9-2.4 .9 3.3 .9-.9 .9-.7 .9 .3 .9-.7 .9-.4 .9 1 .9 2.3 .9-.9 .9-.3 .9-1.6 .9 1.6 .9-.1 .9-.1 .9 2.6 .9-.6 .9 .1 .9 1.4 .9-.3 .9 .7 .9-1.1 .9 .7 .9-.3 .9 .2 .9 .8 .9 .7 .9 .2 .8-.9 .9-1.1 .9 1.9 .9 1.1 .9-1.5 .9-.4 .9-1.1 .9 2.8 .9 1.2 .9-.3 .9 1.3 .9-1.3 .9-.3 .9-1.7 .9 2.4 .9 .2 .9-1.5 .9 .5 .9 1 .9 1.2 .9-.5 .9-.2 .9-.6 .9 .5 .9 .7 .9 1.6 .9-2.5 .9-2.3 .9 2.1 .9 .3 .9 2 .9-.4 .9-3.4 .8 .9 .9 2.6 .9 1.3 .9-3.4 .9-1.6 .9 .8 .9 .3 .9 .1 .9 1.8 .9 .3 .9 2.1 .9-.7 .9 .8 .9 .6 .9-3.1 .9-.7 .9 1.6 .9-.3 .9 .4 .9-.5 .9 .4 .9 .6 .9-.5 .9-.8 .9 .9 .9 1.8 .9-1.2 .9 2 .9-1.7 .9-1 .9 .7 .9 1.9 .9-1.4 .9 0 .8 1.2 .9-.2 .9-.4 .9 1.5 .9-1.4 .9 1.1 .9 1 .9-3.9 .9-.1 .9 4.1 .9 0 .9-1.7 .9-1.2 .9 1.2 .9-.4 .9 .2 .9 .3 .9 1.1 .9 .8 .9-2.5 .9-.7 .9 2.1 .9-2.6 .9 1 .9 1.2 .9 0 .9-.1 .9 .2 .9 1.3 .9-1.4 .9-.7 .9 1.2 .9 1.4 .8-1.5 .9-.1 .9-.9 .9 1.9 .9 .1 .9-1 .9 1 .9-.5 .9-.4 .9-2.3 .9 2.4 .9 .4 .9-.8 .9 .2 .9-.6 .9 .4 .9 .4 .9 1.6 .9-.6 .9 .3 .9-.8 .9 .2 .9-.7 .9-.1 .9 .5 .9-.6 .9-1 .9-.1 .9 1.7 .9 .7 .9 .4 .9-.2 .9-.6 .8-.6 .9 .8 .9-2 .9-.9 .9 .7 .9 1.4 .9 .2 .9-2 .9 .3 .9 .9 .9-.1 .9-.6 .9-.4 .9 1.5 .9 1.8 .9 1 .9 .2 .9 .3 .9-.3 .9-1.3 .9-.6 .9 2.1 .9-.3 .9-.2 .9-2 .9-.5 .9-.3 .9 .6 .9 .7 .9 1.4 .9-.1 .9-1.4 .9-1.4 .9 1.1L495.4 164.7l-.9 2.6 -.9-.8 -.9 .8 -.9 2.7 -.9-.3 -.9-.2 -.9 .6 -.9-.4 -.9-.7 -.9 1.3 -.9-.6 -.9-2.6 -.9 1 -.9 2 -.9 .4 -.9-2.1 -.9-.8 -.9 2.1 -.9-.2 -.9 1.5 -.9-.1 -.9-.7 -.9-1 -.9-.5 -.9-.7 -.9 1.5 -.9-.8 -.9-.1 -.9 .7 -.9-1.3 -.9 .6 -.9 1.5 -.9-1.9 -.8-.2 -.9 0 -.9 1.7 -.9-1.2 -.9 .3 -.9-1 -.9-.3 -.9 1.2 -.9 1.7 -.9-1.1 -.9 1.5 -.9-.8 -.9-1.1 -.9 1.1 -.9-.9 -.9 1.6 -.9-.8 -.9-1.1 -.9-1 -.9 .3 -.9 2.1 -.9-2.3 -.9 .6 -.9-.3 -.9 2.1 -.9-1.1 -.9 .4 -.9 1.3 -.9 .1 -.9-.7 -.9 0 -.9-.5 -.9-.3 -.8 1.1 -.9 .9 -.9-1.9 -.9 .6 -.9-1 -.9-.6 -.9 .1 -.9 1.2 -.9-1.1 -.9 1 -.9 .6 -.9-1 -.9 .9 -.9 .4 -.9-.7 -.9 .7 -.9-.2 -.9-.3 -.9 2 -.9-1.5 -.9-2.1 -.9 0 -.9 .6 -.9 1.7 -.9-2.5 -.9 2.1 -.9 1 -.9 .7 -.9-1.1 -.9-1.6 -.9 .3 -.9 1.4 -.9-1 -.8-1 -.9 2.3 -.9-.4 -.9-.4 -.9-1.1 -.9-.6 -.9 .5 -.9-1.2 -.9 0 -.9 .7 -.9 .2 -.9 1.4 -.9 .5 -.9 .9 -.9-.6 -.9 0 -.9-2.4 -.9 .7 -.9 1.1 -.9-.9 -.9-.1 -.9 0 -.9 .4 -.9 2 -.9-1.4 -.9-2.7 -.9 .5 -.9 1 -.9-.1 -.9-1.5 -.9-.6 -.9 1.8 -.9 2.3 -.9-.1 -.8-.4 -.9-3 -.9-.9 -.9 2.2 -.9-.4 -.9 1.9 -.9 1.8 -.9-2.4 -.9 1.9 -.9-1.3 -.9-1.4 -.9 .3 -.9 .4 -.9 2.1 -.9-1.1 -.9-.5 -.9-.4 -.9 .9 -.9 .5 -.9-.5 -.9-1 -.9 1.6 -.9 .5 -.9 0 -.9-1 -.9-.4 -.9 .7 -.9 0 -.9-.7 -.9-1.2 -.9-.1 -.9 .4 -.9 0 -.8 2.5 -.9-1.2 -.9-1.6 -.9-.7 -.9 2 -.9-1.3 -.9 1.8 -.9 .3 -.9 .9 -.9-.4 -.9-3.4 -.9 .9 -.9-.2 -.9-.1 -.9 1.2 -.9-.4 -.9 .4 -.9-.3 -.9 .1 -.9-.4 -.9-1.5 -.9 2.2 -.9 .2 -.9 .3 -.9 0 -.9-1.3 -.9-1.2 -.9 .9 -.9-1.2 -.9 2 -.9 .6 -.9 .1 -.9-2.3 -.8 1.3 -.9 1.3 -.9-1.4 -.9-.2 -.9-.8 -.9-2.2 -.9-1.7 -.9 1.8 -.9 1.3 -.9-.3 -.9-1.6 -.9 .5 -.9 2.2 -.9 1 -.9-1.8 -.9-2.9 -.9-1.3 -.9 .8 -.9 .7 -.9-1.6 -.9-.3 -.9-.8 -.9 .8 -.9-.9 -.9-.7 -.9 0 -.9 0 -.9-.4 -.9 .7 -.9-.9 -.9-.4 -.9 2.9 -.9 2.9 -.9-1.6 -.8 .1 -.9-.2 -.9-1.5 -.9-2.4 -.9-2 -.9-1.3 -.9-2.6 -.9-2 -.9-.4 -.9-3.3 -.9 1.9 -.9 2.6 -.9 .8 -.9 1.5 -.9 3.5 -.9 1.2 -.9 2.8Z" fill="#6A9FCB" fill-opacity="0.38" stroke="none"/><path d="M271.1 160.4l.9-4.7 .9-4.1 .9-2.8 .9-2.4 .9-3 .9-3.2 .9-2.6 .9-1.2 .9-.8 .9-1.5 .9-1.4 .9-.4 .9 .2 .9 0 .9-.2 .9 0 .8-.1 .9-.5 .9-.8 .9-.4 .9 .1 .9 .3 .9 .4 .9 .8 .9 1 .9 .1 .9-.2 .9 0 .9 .1 .9 .6 .9 1.1 .9 1.1 .9 .4 .9-.3 .9-.9 .9-1 .9-.1 .9 .7 .9 .9 .9 .4 .9-.2 .9-.2 .9 .3 .9 .6 .9 .4 .9 .2 .9-.2 .9-.4 .9-.1 .9 .4 .8 .1 .9-.2 .9 .4 .9 .9 .9 .6 .9 0 .9 .3 .9 .5 .9 .5 .9 .3 .9 .1 .9-.1 .9 .2 .9 .2 .9 .1 .9 .2 .9 .1 .9-.2 .9-.6 .9-.1 .9 .9 .9 1.2 .9 1.2 .9 1 .9 .5 .9 .2 .9 0 .9 .1 .9 0 .9-.3 .9-.1 .9 .5 .9 .1 .8-.2 .9-.1 .9 .1 .9-.6 .9-.7 .9 .3 .9 1 .9 0 .9-.5 .9 0 .9 .8 .9 1.1 .9 .7 .9 .3 .9-.1 .9-.5 .9-.7 .9-.8 .9-.9 .9-.5 .9 .2 .9 .2 .9 .3 .9 .8 .9 .7 .9 .3 .9 .2 .9 .2 .9 .2 .9 .1 .9-.1 .9-.4 .9-.2 .8-.1 .9-.2 .9-.4 .9-.1 .9-.1 .9 0 .9 .6 .9 .8 .9 .2 .9-.2 .9 .2 .9 .6 .9 .1 .9-.3 .9-.1 .9-.1 .9-.4 .9-.3 .9-.2 .9-.4 .9-.4 .9 0 .9 .4 .9 .7 .9 .7 .9 .5 .9 0 .9-.3 .9-.1 .9 .3 .9 .3 .9 .2 .9-.3 .9-.6 .8-.5 .9 0 .9 .3 .9 .4 .9 .7 .9 1.2 .9 .7 .9-.1 .9-.5 .9-.7 .9-.9 .9-.7 .9-.2 .9 .4 .9 .7 .9 .6 .9 .1 .9 .1 .9 .4 .9 .3 .9 .2 .9 .2 .9 0 .9-.3 .9-.2 .9-.2 .9-.2 .9 .1 .9 .1 .9-.6 .9-1.1 .9-.8 .9 .1 .8 1 .9 1.2 .9 1.1 .9 1.1 .9 .5 .9-.2 .9-.3 .9-.4 .9-.5 .9-.4 .9 0 .9 .3 .9 .5 .9 .1 .9-.8 .9-.8 .9 0 .9 .5 .9-.1 .9-.8 .9-.4 .9 .4 .9 .5 .9 .2 .9-.1 .9-.6 .9-1 .9-.2 .9 .4 .9 .2 .9-.1 .9 .1 .9-.1 .8 .1 .9 1 .9 1.1 .9 .2 .9 0 .9 0 .9-.4 .9-.1 .9 .5 .9 .6 .9 .2 .9-.3 .9-.7 .9-.5 .9 0 .9 .3 .9 .1 .9-.2 .9 .1 .9 .3 .9-.3 .9-.4 .9 0 .9 0 .9-.4 .9-.6 .9 0 .9 .5 .9 .2 .9-.4 .9-.8 .9-.2 .9 .9 .9 1.1L495.4 156.1l-.9 .4 -.9 0 -.9-.1 -.9-.1 -.9-.3 -.9-.8 -.9-.6 -.9 .2 -.9 1.3 -.9 1.1 -.9 .3 -.9-.2 -.9 .2 -.9 .7 -.9 .9 -.9 .6 -.9-.3 -.9-1 -.9-1 -.9-.4 -.9 .3 -.9 .6 -.9 .5 -.9 .4 -.9-.1 -.9-.4 -.9-.1 -.9 0 -.9 .3 -.9 .6 -.9 .5 -.9-.2 -.9-.5 -.8-.7 -.9-.8 -.9-.7 -.9-.3 -.9 .3 -.9 .3 -.9 .3 -.9 .7 -.9 .6 -.9 .2 -.9-.2 -.9-.2 -.9 .3 -.9 .3 -.9-.2 -.9-.4 -.9-.4 -.9-.4 -.9-.4 -.9 0 -.9 .1 -.9 .2 -.9 .1 -.9-.1 -.9-.2 -.9-.1 -.9 .3 -.9 .6 -.9 .9 -.9 .5 -.9-.2 -.9-.7 -.9-.8 -.8-.9 -.9-.8 -.9-.1 -.9 .3 -.9 .5 -.9 .8 -.9 .9 -.9 .4 -.9-.3 -.9-.4 -.9-.3 -.9-.2 -.9 .1 -.9 .3 -.9 0 -.9-.1 -.9 .2 -.9-.2 -.9-1.2 -.9-.8 -.9 .2 -.9 .6 -.9 .8 -.9 .8 -.9 .8 -.9 1.3 -.9 1 -.9-.3 -.9-1.2 -.9-1.1 -.9-.6 -.9-.4 -.9-.2 -.8-.2 -.9 0 -.9 .6 -.9 .5 -.9-.1 -.9-.4 -.9-.4 -.9-.4 -.9 .2 -.9 .1 -.9-.5 -.9-.7 -.9-.4 -.9 .7 -.9 1.3 -.9 .9 -.9-.2 -.9-.4 -.9 .2 -.9 .1 -.9-.5 -.9-.8 -.9-.2 -.9 .7 -.9 .7 -.9-.1 -.9-.2 -.9 .4 -.9 .2 -.9-.7 -.9-.8 -.9-.4 -.9-.1 -.9-.2 -.8 0 -.9 .2 -.9 .3 -.9-.6 -.9-1 -.9-.2 -.9 .9 -.9 .8 -.9 .1 -.9-.8 -.9-1.1 -.9-.7 -.9 .8 -.9 1.2 -.9 .5 -.9-.3 -.9-.4 -.9-.4 -.9-.6 -.9-.7 -.9-.5 -.9 0 -.9 .1 -.9 .3 -.9 .7 -.9 .5 -.9 .3 -.9 .1 -.9-.2 -.9-.5 -.9-.3 -.9-.2 -.9-.5 -.8-.8 -.9-.4 -.9 .2 -.9 .5 -.9 .3 -.9 0 -.9-.3 -.9-.4 -.9 0 -.9 .4 -.9 .3 -.9-.4 -.9-.9 -.9-.5 -.9 .3 -.9 .3 -.9-.6 -.9-.8 -.9-.3 -.9-.1 -.9-.6 -.9-.5 -.9 .6 -.9 1.1 -.9 .2 -.9-.7 -.9-.7 -.9-.4 -.9-.6 -.9-.5 -.9 .1 -.9-.1 -.9-1.3 -.8-1.1 -.9-.1 -.9 .5 -.9 .5 -.9 .1 -.9 .1 -.9 0 -.9-.6 -.9-.8 -.9-.7 -.9-.6 -.9-.1 -.9 .8 -.9 .7 -.9-.6 -.9-1.1 -.9-.3 -.9 .5 -.9 .5 -.9-.2 -.9-.7 -.9-.5 -.9 .1 -.9 0 -.9-.2 -.9-.5 -.9-.7 -.9-1 -.9-1.1 -.9-.6 -.9 .3 -.9 1.2 -.9 .9 -.9 .5 -.8 .6 -.9 .7 -.9-.4 -.9-1.1 -.9-.6 -.9 .4 -.9 .6 -.9 .1 -.9 .3 -.9 1.5 -.9 1.9 -.9 1.6 -.9 2 -.9 2.3 -.9 2.5 -.9 3 -.9 3.7Z" fill="#B2A8DB" fill-opacity="0.22" stroke="none"/><path d="M271.1 159.1l.9-4.5 .9-4 .9-3.7 .9-3.1 .9-2.3 .9-1.8 .9-1.9 .9-1.2 .9 .4 .9 1 .9 .7 .9 .5 .9 .9 .9 1.3 .9 .5 .9-.5 .8 .1 .9 .3 .9-.2 .9-.2 .9-.1 .9-.2 .9-.3 .9 .2 .9 .9 .9 .6 .9-.1 .9-.3 .9-.1 .9 0 .9 .6 .9 1 .9 .5 .9-.4 .9-.9 .9-.8 .9-.4 .9 .1 .9 .5 .9 .5 .9 .7 .9 .7 .9 .1 .9-.3 .9 .2 .9 .4 .9 .1 .9 0 .9 .7 .9 1.1 .8 1 .9 .6 .9 .2 .9 .1 .9-.2 .9-.2 .9-.1 .9-.1 .9 0 .9 .6 .9 1 .9 1 .9 .2 .9-.5 .9-.8 .9-.1 .9 .9 .9 1.2 .9 .5 .9 0 .9-.8 .9-.9 .9-.3 .9-.1 .9 .2 .9 1 .9 1.1 .9 .4 .9-.4 .9-.3 .9 .2 .9 .4 .9 0 .8-.2 .9 .2 .9 .3 .9-.1 .9-.4 .9-.3 .9 .1 .9 .3 .9 .3 .9 .3 .9 .4 .9 .2 .9-.1 .9 0 .9 .2 .9 .1 .9-.2 .9 .1 .9 .3 .9-.1 .9-.5 .9-.4 .9-.2 .9 .2 .9 .8 .9 .9 .9 .4 .9 .3 .9 .3 .9-.4 .9-1.2 .9-.7 .9-.2 .8-.5 .9 0 .9 1 .9 1.4 .9 .2 .9-.6 .9 .2 .9 .6 .9-.2 .9-.9 .9-.8 .9 .3 .9 1 .9 .2 .9-.6 .9-.4 .9 .6 .9 1.1 .9 .6 .9-.5 .9-.8 .9-.1 .9 .1 .9 0 .9 0 .9 .2 .9-.1 .9-.3 .9-.4 .9-.3 .9 .3 .9 .5 .9 .1 .9-.5 .8-.6 .9 0 .9 .5 .9 .5 .9 .5 .9 .3 .9-.1 .9-.2 .9-.3 .9 0 .9 .7 .9 .9 .9 0 .9-.3 .9-.2 .9-.3 .9-.7 .9-.2 .9 .8 .9 .6 .9-.1 .9-.4 .9-.3 .9-.1 .9 .4 .9 .7 .9 0 .9-.3 .9 .2 .9 .6 .9 .4 .9 0 .9-.2 .8-.3 .9-.1 .9 .3 .9 .6 .9 .8 .9-.1 .9-1 .9-.4 .9 0 .9-.6 .9-.7 .9-.2 .9 .3 .9 .3 .9 .4 .9 .3 .9-.3 .9-.4 .9 .2 .9 .7 .9 .4 .9 .3 .9 .4 .9 0 .9-.9 .9-.3 .9 .4 .9 .1 .9-.6 .9-.8 .9-.2 .9 .4 .9-.3 .8-.6 .9 .3 .9 .9 .9 .9 .9 .3 .9-.2 .9-.2 .9-.1 .9-.1 .9-.1 .9-.1 .9-.3 .9-.7 .9-.4 .9 .8 .9 1.6 .9 .4 .9-.8 .9 0 .9 .7 .9 .1 .9-.4 .9 .1 .9 .2 .9-.4 .9-1.2 .9-1.8 .9-1.8 .9-.6 .9 .9 .9 1.6 .9 1.5 .9 .9 .9 .3L495.4 164.6l-.9-.2 -.9-.3 -.9-.6 -.9-.8 -.9-.6 -.9 .3 -.9 1 -.9 .8 -.9 .3 -.9 .3 -.9 0 -.9-.6 -.9-1.1 -.9-.7 -.9-.2 -.9 .2 -.9 .4 -.9 .3 -.9 .4 -.9 .5 -.9 0 -.9-.8 -.9-.9 -.9-.2 -.9 .4 -.9 .6 -.9 .6 -.9 0 -.9-.5 -.9-.3 -.9 .1 -.9 .3 -.9 0 -.8-.6 -.9-.3 -.9 .6 -.9 .5 -.9 .3 -.9 .2 -.9 0 -.9-.3 -.9-.3 -.9 .8 -.9 1.3 -.9 .6 -.9-.3 -.9-.7 -.9-.5 -.9-.1 -.9-.2 -.9-.8 -.9-1 -.9-.3 -.9 .3 -.9 .1 -.9-.3 -.9-.1 -.9 .3 -.9 .6 -.9 .1 -.9-.1 -.9 .4 -.9 .8 -.9 .3 -.9 .3 -.9 .3 -.8 .1 -.9-.1 -.9-.6 -.9-.6 -.9-.2 -.9-.5 -.9-.2 -.9 .3 -.9 .4 -.9 .5 -.9 .6 -.9 .5 -.9-.2 -.9-1 -.9-1 -.9-.3 -.9 .2 -.9 .3 -.9 .1 -.9 .4 -.9 1 -.9 .8 -.9-.4 -.9-1.3 -.9-1.2 -.9-.7 -.9-.5 -.9-.1 -.9 .1 -.9-.1 -.9-.1 -.9 0 -.9 0 -.8 0 -.9 .6 -.9 1.7 -.9 1.4 -.9-.5 -.9-1.3 -.9-.5 -.9 0 -.9-.7 -.9-1 -.9-.4 -.9 .4 -.9 .9 -.9 .9 -.9 .2 -.9-.7 -.9-1.1 -.9-.7 -.9-.2 -.9 .5 -.9 .7 -.9 .4 -.9 0 -.9 .1 -.9 .5 -.9 .6 -.9 .4 -.9 .1 -.9 0 -.9 .2 -.9 .3 -.9-.2 -.9-.9 -.9-1 -.8-.1 -.9 .1 -.9 .1 -.9-.1 -.9-.2 -.9-.5 -.9-.1 -.9 .6 -.9 .5 -.9-.2 -.9-.2 -.9-.1 -.9-.3 -.9-.3 -.9 0 -.9 .1 -.9 .2 -.9 .6 -.9 .7 -.9 .3 -.9-.1 -.9 0 -.9 0 -.9-.2 -.9-.5 -.9-.7 -.9-.4 -.9 0 -.9 .3 -.9 .4 -.9 .1 -.9-.3 -.9-.6 -.8-.2 -.9 .3 -.9 0 -.9-.5 -.9-.5 -.9-.1 -.9-.2 -.9-.4 -.9-.6 -.9-.3 -.9 0 -.9 .4 -.9 .6 -.9 .3 -.9-.6 -.9-.7 -.9-.4 -.9-.8 -.9-1.2 -.9-.2 -.9 .9 -.9 .7 -.9-.1 -.9 0 -.9 .4 -.9 .5 -.9-.4 -.9-1 -.9-.9 -.9-.4 -.9-.2 -.9-.5 -.9-.9 -.8-1.1 -.9-.8 -.9-.5 -.9 .1 -.9 .5 -.9 .4 -.9-.1 -.9-.5 -.9-.4 -.9 0 -.9-.1 -.9-.4 -.9-.2 -.9 .3 -.9 .3 -.9-.1 -.9-.8 -.9-.9 -.9-.1 -.9 .6 -.9 .2 -.9 0 -.9 0 -.9 .1 -.9 .2 -.9 0 -.9 0 -.9-.1 -.9-.3 -.9-.3 -.9-.3 -.9 0 -.9 .3 -.9-.1 -.8-.5 -.9-.3 -.9 .1 -.9 .3 -.9-.3 -.9-1.1 -.9-1.2 -.9-.7 -.9-.8 -.9-.9 -.9 .2 -.9 1.5 -.9 1.9 -.9 2.8 -.9 4.2 -.9 4.9 -.9 5.5Z" fill="#C0845A" fill-opacity="0.22" stroke="none"/><path d="M271.1 159.9l.9-4.7 .9-4.1 .9-3.7 .9-3.4 .9-3.2 .9-2.2 .9-.1 .9 1.6 .9 1 .9 .1 .9 .1 .9 .5 .9 .4 .9 0 .9-.1 .9 .1 .8-.3 .9-.6 .9-.2 .9 .5 .9 .6 .9 .5 .9 .4 .9 0 .9-.5 .9 .2 .9 1.1 .9 .7 .9-.2 .9-.2 .9 .5 .9 .9 .9 .2 .9-.4 .9-.2 .9 .1 .9 .1 .9 .2 .9 .4 .9 .3 .9-.1 .9-.5 .9 .1 .9 .4 .9-.3 .9-.6 .9 .1 .9 .7 .9 .7 .9 .1 .8-.3 .9-.6 .9-.7 .9-.2 .9 .6 .9 1 .9 1 .9 .1 .9-.9 .9-.5 .9 .1 .9 .2 .9 .3 .9 .5 .9 .2 .9-.1 .9-.3 .9 0 .9 .2 .9-.1 .9-.3 .9-.2 .9-.1 .9-.2 .9 .2 .9 .9 .9 1 .9 .4 .9-.6 .9-1.2 .9-.8 .9-.3 .9 .2 .8 .7 .9 .5 .9-.2 .9-.1 .9-.2 .9-.2 .9-.1 .9 .2 .9 .7 .9 1.1 .9 .4 .9-.6 .9-.7 .9-.1 .9 .2 .9 .7 .9 .5 .9 0 .9-.4 .9-.5 .9-.4 .9-.3 .9-.3 .9 .2 .9 .6 .9 .6 .9 .3 .9-.2 .9-.2 .9 .1 .9 .3 .9-.2 .9-.4 .8-.4 .9-.4 .9-.4 .9 0 .9 .4 .9 .8 .9 .9 .9 1 .9 .6 .9 0 .9 .1 .9 .5 .9 .2 .9-.3 .9-.3 .9-.1 .9-.3 .9-.5 .9-.2 .9-.2 .9-.3 .9 0 .9 .6 .9 .2 .9-.1 .9 .4 .9 .8 .9 .3 .9-.2 .9-.3 .9-.5 .9-.6 .9-.6 .9-.4 .8-.3 .9 .2 .9 .9 .9 .6 .9-.1 .9-.3 .9 .2 .9 1 .9 1.3 .9 .5 .9-.7 .9-1 .9-.4 .9-.3 .9-.1 .9 .8 .9 .8 .9 0 .9-.6 .9-.5 .9-.2 .9-.2 .9-.2 .9-.4 .9-.4 .9-.3 .9 .2 .9 1.1 .9 1.3 .9 .9 .9-.2 .9-.5 .9-.2 .8 .2 .9-.2 .9-.3 .9-.3 .9 .2 .9 .7 .9 .7 .9 .3 .9 .1 .9 .4 .9-.1 .9-.8 .9-.5 .9-.1 .9-.3 .9-.8 .9-.8 .9-.3 .9 .7 .9 1 .9 1 .9 1.1 .9 1 .9 0 .9-1.4 .9-1.8 .9-.8 .9 .5 .9 .8 .9 .5 .9 .1 .9-.7 .9-.5 .8 .1 .9 .1 .9-.1 .9 0 .9 .1 .9 .3 .9 .2 .9-.7 .9-.9 .9 .1 .9 .6 .9 .2 .9-.3 .9-.1 .9 .2 .9 .2 .9 .1 .9-.2 .9-.3 .9 .1 .9 .3 .9 .4 .9 .4 .9 .3 .9-.2 .9-.3 .9 .1 .9 .1 .9 .1 .9 0 .9-.5 .9-1 .9-1 .9-.6L495.4 158.5l-.9-.4 -.9-.8 -.9 .1 -.9 1.1 -.9 1.1 -.9 .4 -.9-.2 -.9-.7 -.9-.9 -.9-.1 -.9 .3 -.9 0 -.9-.3 -.9-.1 -.9 .4 -.9 .4 -.9-.2 -.9-.6 -.9-.5 -.9-.5 -.9-.4 -.9-.1 -.9 .5 -.9 .5 -.9 .1 -.9 0 -.9 .3 -.9 .9 -.9 1 -.9 .5 -.9 .2 -.9-.2 -.9-.6 -.8-.2 -.9 .1 -.9-.4 -.9-1.1 -.9-.8 -.9 .6 -.9 1.2 -.9 .7 -.9 0 -.9-.2 -.9-.3 -.9-.3 -.9 0 -.9-.2 -.9-.3 -.9 .3 -.9 .5 -.9 0 -.9-.7 -.9 0 -.9 .9 -.9 .7 -.9 .4 -.9 .5 -.9-.1 -.9-.3 -.9-.1 -.9-.2 -.9-.5 -.9-.1 -.9 0 -.9-.8 -.9-1.2 -.8-.3 -.9 .4 -.9 .7 -.9 .8 -.9 1 -.9 .3 -.9-.2 -.9-.6 -.9-.7 -.9-.5 -.9-.6 -.9-.5 -.9-.1 -.9-.3 -.9-.4 -.9 .3 -.9 .7 -.9 .4 -.9 0 -.9 .1 -.9 .8 -.9 1.2 -.9 .7 -.9-.5 -.9-.8 -.9-.6 -.9 0 -.9 .2 -.9 0 -.9-.2 -.9-.6 -.9-.8 -.9-.5 -.8 0 -.9 .6 -.9 .6 -.9 .3 -.9 .3 -.9-.3 -.9-.9 -.9-.5 -.9 .2 -.9 .4 -.9 .4 -.9 .4 -.9-.3 -.9-.4 -.9 0 -.9 .2 -.9 0 -.9 .1 -.9 .5 -.9 1.1 -.9 .6 -.9-.8 -.9-1.6 -.9-1.1 -.9-.1 -.9 .4 -.9 .7 -.9 .3 -.9-.6 -.9-1.1 -.9-.6 -.9-.1 -.9-.1 -.9 .2 -.8 .3 -.9 .1 -.9 .3 -.9 .6 -.9-.3 -.9-.9 -.9-.3 -.9 .2 -.9 .2 -.9-.3 -.9-.3 -.9 0 -.9-.3 -.9-.6 -.9-.1 -.9 .7 -.9 .8 -.9 .7 -.9 .2 -.9-.2 -.9-.1 -.9-.1 -.9-.3 -.9-.3 -.9 0 -.9 0 -.9 .1 -.9 .4 -.9 .2 -.9-.7 -.9-.8 -.9 .1 -.9 .4 -.8 .1 -.9 .1 -.9-.3 -.9-.8 -.9-.7 -.9 .4 -.9 1.5 -.9 1.4 -.9 .6 -.9-.3 -.9-.7 -.9-.9 -.9-.6 -.9 .1 -.9 .6 -.9 .1 -.9-.1 -.9-.1 -.9 0 -.9-.1 -.9-.3 -.9-.3 -.9-.5 -.9-.9 -.9-.8 -.9 .1 -.9 .8 -.9 .8 -.9 .5 -.9 .3 -.9 .1 -.9 0 -.9 0 -.8 .1 -.9 .3 -.9 .1 -.9-1 -.9-2.1 -.9-1.4 -.9 .2 -.9 .7 -.9 .1 -.9-.1 -.9 .4 -.9 .7 -.9 .3 -.9-.6 -.9-.9 -.9-.4 -.9 .3 -.9 .5 -.9 .6 -.9 .7 -.9 .5 -.9-.1 -.9-.9 -.9-1.3 -.9-.9 -.9-.6 -.9-.1 -.9 .3 -.9 .3 -.9-.1 -.9-.5 -.9-.2 -.9 .7 -.9 .6 -.8-.2 -.9-.9 -.9-1 -.9-.6 -.9-.6 -.9-1.1 -.9-.5 -.9-.1 -.9-.7 -.9-1 -.9 .3 -.9 1.6 -.9 2.3 -.9 2.1 -.9 2.8 -.9 4.2 -.9 5.1Z" fill="#91A5DC" fill-opacity="0.22" stroke="none"/><path d="M271.1 159.1l.9-4 .9-3.4 .9-3.4 .9-2.7 .9-1.9 .9-1.5 .9-1.2 .9-.2 .9 .1 .9 .5 .9 .7 .9 .9 .9 .7 .9 .2 .9-.1 .9 .2 .8 .5 .9 .3 .9 .3 .9 .3 .9 .4 .9 .1 .9-.2 .9-.5 .9-.4 .9-.2 .9-.4 .9-.7 .9-.1 .9 .7 .9 .7 .9-.1 .9-.6 .9-.2 .9 .5 .9 .9 .9 .5 .9 0 .9 0 .9 .4 .9 .6 .9 .3 .9 .1 .9-.1 .9 .2 .9 .1 .9 0 .9-.2 .9-.1 .9 .7 .8 .7 .9 .5 .9-.1 .9-.7 .9-.6 .9 0 .9 0 .9-.3 .9 .2 .9 .7 .9 .3 .9 0 .9-.1 .9-.2 .9-.3 .9-.4 .9-.5 .9-.4 .9 .1 .9 .8 .9 .7 .9 .7 .9 .8 .9 0 .9-.8 .9-.5 .9 .2 .9 .9 .9 1.1 .9 .5 .9 0 .9 .1 .9 .6 .8 .3 .9-.5 .9-.8 .9-.2 .9 .2 .9 0 .9-.2 .9-.1 .9-.1 .9-.1 .9-.2 .9 0 .9 0 .9-.1 .9-.1 .9-.1 .9 .1 .9 0 .9-.2 .9-.2 .9-.1 .9 0 .9 .2 .9 .6 .9 .8 .9 .3 .9-.8 .9-1.3 .9-.1 .9 1.4 .9 1.3 .9-.1 .9-.4 .8-.1 .9-.7 .9-1.1 .9-.3 .9 .4 .9 .6 .9 0 .9-.4 .9 .2 .9 1 .9 .9 .9 .1 .9-.5 .9 .1 .9 .4 .9 .2 .9 0 .9 .4 .9 .5 .9 .2 .9-.3 .9 .1 .9 .4 .9 .1 .9-.4 .9-.2 .9 .3 .9 .2 .9 0 .9-.5 .9-.8 .9-.7 .9-.2 .9 .1 .8 .5 .9 .7 .9 .9 .9 0 .9-1.2 .9-1 .9 .4 .9 1 .9 .7 .9 .2 .9-.2 .9-.5 .9-.1 .9 .3 .9 .3 .9-.4 .9-.5 .9 .2 .9 .6 .9 0 .9-.7 .9-.4 .9 0 .9 .3 .9 .2 .9 .1 .9-.4 .9-.5 .9-.5 .9 0 .9 .5 .9 .6 .9 .4 .8-.2 .9-.8 .9-1.1 .9-.5 .9 .6 .9 1.4 .9 .9 .9 .3 .9 .6 .9 .8 .9 0 .9-.6 .9-.1 .9 .6 .9 .3 .9 0 .9 .1 .9-.1 .9-1.1 .9-1 .9-.5 .9-.9 .9-1.4 .9-.9 .9 .5 .9 1.6 .9 1.2 .9 .1 .9-.3 .9 .1 .9 1 .9 1.1 .9-.2 .8-.4 .9 .4 .9 .1 .9-.4 .9-.8 .9-.9 .9-.1 .9 .8 .9 .6 .9 .2 .9-.2 .9-.2 .9-.1 .9-.4 .9-.4 .9 .5 .9 1.1 .9 1 .9 .3 .9-.5 .9-.4 .9-.2 .9-.6 .9-.5 .9 .5 .9 1.1 .9-.2 .9-1.2 .9-.6 .9 .2 .9 .8 .9 .5 .9 0 .9-.1L495.4 161.8l-.9-.2 -.9-.4 -.9-.5 -.9-.5 -.9 0 -.9 0 -.9-.2 -.9 .4 -.9 .7 -.9-.7 -.9-1.6 -.9-.5 -.9 1.1 -.9 1.4 -.9 .2 -.9-.1 -.9 .2 -.9 .2 -.9 .2 -.9-.2 -.9-.9 -.9-.7 -.9 .1 -.9 .4 -.9 .2 -.9-.1 -.9-.7 -.9-1.2 -.9-.4 -.9 .6 -.9 .9 -.9 1.2 -.9 1.2 -.8 .5 -.9-.4 -.9-.5 -.9-.3 -.9-.2 -.9-.4 -.9-.4 -.9 .2 -.9 0 -.9-.4 -.9-.3 -.9-.4 -.9-.5 -.9 0 -.9 .5 -.9 .3 -.9 .3 -.9 .1 -.9 .2 -.9 .6 -.9 .7 -.9 .1 -.9-.7 -.9-1 -.9-.8 -.9 .2 -.9 .3 -.9-.4 -.9-.3 -.9 .5 -.9 1.1 -.9 1.2 -.9 .6 -.8-.2 -.9-.8 -.9-.4 -.9-.1 -.9-.6 -.9-.8 -.9 0 -.9 1 -.9 .7 -.9-.3 -.9-.6 -.9 .2 -.9 .6 -.9 0 -.9-.3 -.9-.2 -.9-.2 -.9 .3 -.9 0 -.9-.8 -.9-.6 -.9 .2 -.9 .2 -.9-.2 -.9 0 -.9 .3 -.9 .7 -.9 .6 -.9 0 -.9-.1 -.9 .2 -.9 .4 -.9 0 -.8-.3 -.9-.6 -.9-.4 -.9 .1 -.9 .3 -.9 .6 -.9 1 -.9 .6 -.9-.1 -.9-.6 -.9-.7 -.9-1 -.9-.8 -.9 .2 -.9 .9 -.9 .6 -.9 .1 -.9-.2 -.9-.3 -.9-.1 -.9-.1 -.9-.2 -.9-.8 -.9-.5 -.9 .3 -.9 .3 -.9-.5 -.9-.6 -.9 .2 -.9 .4 -.9-.2 -.9-.7 -.9-.7 -.9-.1 -.8 .5 -.9 .8 -.9 .5 -.9 .1 -.9 .3 -.9 .4 -.9-.1 -.9-.6 -.9-.1 -.9 .4 -.9 .5 -.9 .3 -.9-.2 -.9-.9 -.9-1.2 -.9-.7 -.9-.3 -.9-.2 -.9-.2 -.9-.4 -.9-.4 -.9 .5 -.9 1.6 -.9 1.5 -.9 .5 -.9-.4 -.9-.7 -.9-.9 -.9-.5 -.9 .3 -.9 .3 -.9 .2 -.9 .3 -.8 .1 -.9 0 -.9-.4 -.9-.9 -.9-.6 -.9 .3 -.9 .6 -.9 .2 -.9 0 -.9 .2 -.9 0 -.9-.3 -.9-.4 -.9-.4 -.9 0 -.9 .3 -.9-.1 -.9-.8 -.9-1.1 -.9-.7 -.9 .4 -.9 1.2 -.9 .8 -.9 .2 -.9-.3 -.9-1 -.9-.7 -.9-.1 -.9 .2 -.9 .2 -.9 .4 -.9-.1 -.9-.3 -.8 .6 -.9 1.1 -.9 .4 -.9-.2 -.9-.7 -.9-1.3 -.9-1.3 -.9-.8 -.9-.6 -.9-.2 -.9 .4 -.9 .4 -.9 .4 -.9 .9 -.9 .9 -.9 .3 -.9-.3 -.9-.5 -.9-1.1 -.9-1.3 -.9-.5 -.9 .6 -.9 1.3 -.9 1.1 -.9 .1 -.9-.5 -.9-.2 -.9 .4 -.9 .1 -.9-1.1 -.9-1.7 -.9-1.1 -.9-.1 -.9 .6 -.8 .6 -.9 .4 -.9 .6 -.9-.2 -.9-1.7 -.9-2 -.9-1 -.9-.9 -.9-1.2 -.9-.5 -.9 .5 -.9 1.5 -.9 2.9 -.9 3.6 -.9 3.2 -.9 2.6 -.9 2.9Z" fill="#B67FAA" fill-opacity="0.22" stroke="none"/><path d="M271.1 159.8l.9-5.9 .9-4.8 .9-3 .9-1.7 .9-1.5 .9-1.7 .9-1.4 .9-.8 .9-.2 .9 .7 .9 1.1 .9 1.1 .9 1.3 .9 1.2 .9 .6 .9-.1 .8-.2 .9-.5 .9-.5 .9 .1 .9 .6 .9 .2 .9-.6 .9-.7 .9-.2 .9 0 .9 .7 .9 1 .9 .4 .9-.2 .9-.1 .9 .6 .9 .9 .9 .4 .9-.3 .9-.2 .9 .2 .9 .5 .9 .3 .9-.4 .9-.8 .9-.6 .9 .2 .9 .6 .9 .2 .9-.4 .9-.2 .9 .3 .9 .4 .9 .5 .8 .2 .9-.1 .9-.2 .9-.1 .9 .2 .9 0 .9-.3 .9-.2 .9-.3 .9-.5 .9 .1 .9 .6 .9 .5 .9 0 .9 .1 .9 .4 .9 .6 .9 .4 .9 .2 .9 .1 .9 .2 .9 .1 .9 .5 .9 .8 .9-.1 .9-1.4 .9-1 .9 .4 .9 1 .9 .6 .9-.2 .9-.8 .9-1.1 .8-.3 .9 .6 .9 .7 .9-.1 .9-.4 .9-.1 .9 .1 .9 .5 .9 .6 .9 .5 .9 0 .9-.6 .9-.4 .9 .6 .9 1.1 .9 .5 .9-.3 .9-.9 .9-.6 .9 .3 .9 .7 .9 1.1 .9 1.3 .9 .8 .9-.4 .9-1.4 .9-.9 .9 .4 .9 .9 .9 .1 .9-.5 .9-.6 .9-.3 .8 0 .9-.2 .9-.2 .9-.4 .9 0 .9 1.1 .9 1.3 .9 .2 .9-.4 .9-.1 .9 .4 .9 .2 .9 .3 .9 .6 .9 .3 .9-1 .9-1.6 .9-.4 .9 1 .9 1.1 .9 .3 .9 0 .9-.1 .9-.5 .9-.4 .9 .6 .9 .9 .9 0 .9-.6 .9-.2 .9 .1 .9-.1 .9 0 .9 .5 .8 .8 .9 .1 .9-.4 .9-.3 .9 .1 .9 .4 .9 0 .9-.6 .9-.3 .9 .7 .9 .9 .9-.2 .9-.9 .9 0 .9 .7 .9 0 .9-1 .9-.8 .9 .2 .9 .6 .9 .4 .9-.1 .9-.2 .9-.1 .9-.1 .9-.1 .9 .2 .9 .5 .9-.2 .9-1.2 .9-1 .9 .3 .9 1.7 .8 1.8 .9 .7 .9-.6 .9-.8 .9-.4 .9 .4 .9 1 .9 .7 .9-.4 .9-.6 .9-.6 .9-.6 .9-.6 .9-.3 .9 0 .9-.1 .9 .1 .9 0 .9 0 .9 .2 .9 0 .9 0 .9 .2 .9 .3 .9 .2 .9 .6 .9 .6 .9-.2 .9-.4 .9 0 .9 .3 .9 .2 .9 0 .8 .1 .9 0 .9-.5 .9-.5 .9-.1 .9 .5 .9 .6 .9 .4 .9 0 .9-.3 .9-.6 .9-.7 .9-.7 .9-.1 .9 .3 .9 .2 .9 .1 .9 0 .9-.4 .9-.4 .9 .4 .9 1 .9 .5 .9-.3 .9-.5 .9 .3 .9 .9 .9 .4 .9-.2 .9 .1 .9 .1 .9-.1 .9-.5 .9-.5L495.4 163.5l-.9 0 -.9-.6 -.9-.8 -.9-.6 -.9-.4 -.9-.2 -.9 0 -.9 0 -.9-.1 -.9 .6 -.9 1.1 -.9 .7 -.9-.1 -.9-.8 -.9-1.2 -.9-1 -.9-.2 -.9 .6 -.9 .7 -.9-.1 -.9-.3 -.9 .1 -.9 .7 -.9 .4 -.9 0 -.9 .5 -.9 .5 -.9-.4 -.9-.8 -.9-.7 -.9-.5 -.9-.2 -.9-.1 -.8 .2 -.9 .5 -.9 .2 -.9-.3 -.9-.2 -.9 .5 -.9 .8 -.9 .1 -.9-.4 -.9 .1 -.9 .6 -.9 .4 -.9-.3 -.9-.7 -.9-.9 -.9-.1 -.9 .6 -.9 .5 -.9 .1 -.9 .2 -.9 .4 -.9 .1 -.9 .2 -.9 .1 -.9-.5 -.9-.8 -.9-.6 -.9-.5 -.9 .1 -.9 .5 -.9 .3 -.9-.1 -.9-.1 -.8 0 -.9 .1 -.9 .1 -.9 .4 -.9 .2 -.9-.5 -.9-.4 -.9 .2 -.9 .4 -.9 .1 -.9-.2 -.9-.3 -.9-.2 -.9-.2 -.9-.2 -.9 .3 -.9 .2 -.9-.4 -.9-.2 -.9 .2 -.9 .7 -.9 .7 -.9-.2 -.9-.9 -.9-.4 -.9 .7 -.9 .1 -.9-1.1 -.9-.9 -.9 .6 -.9 .9 -.9-.2 -.9-.3 -.8 .2 -.9 .2 -.9 .6 -.9 .7 -.9-.4 -.9-1 -.9-.5 -.9 .3 -.9 .3 -.9 0 -.9-.3 -.9-.3 -.9-.1 -.9 .5 -.9 .2 -.9-1.1 -.9-1.7 -.9-.6 -.9 .8 -.9 1.6 -.9 1.5 -.9 .4 -.9-.9 -.9-1.6 -.9-.7 -.9 .7 -.9 1.4 -.9 1 -.9 .3 -.9-.6 -.9-1.2 -.9-1.1 -.9-.4 -.9 .4 -.8 .6 -.9 .4 -.9-.1 -.9-.9 -.9-1.4 -.9-.8 -.9 .3 -.9 1 -.9 .9 -.9 .2 -.9 .2 -.9 .2 -.9 .2 -.9 .2 -.9 0 -.9-.6 -.9-.2 -.9 .2 -.9 .2 -.9-.6 -.9-1.1 -.9-.7 -.9 .4 -.9 .9 -.9 0 -.9-.9 -.9-1 -.9-.2 -.9-.3 -.9-.4 -.9 .8 -.9 1.6 -.9 .8 -.8-.3 -.9-.9 -.9-.6 -.9 0 -.9 .1 -.9 .2 -.9 .1 -.9 .3 -.9 .3 -.9 .2 -.9 .3 -.9 .1 -.9-.2 -.9-.8 -.9-1.2 -.9-1.1 -.9 0 -.9 .6 -.9 0 -.9-.8 -.9-1.4 -.9-.9 -.9-.1 -.9 .4 -.9 .5 -.9 .3 -.9 .1 -.9 .3 -.9 .3 -.9-.4 -.9-.6 -.9-.1 -.9 .4 -.8 .2 -.9-.2 -.9-.2 -.9-.1 -.9-.5 -.9-.9 -.9-1.2 -.9-.6 -.9 .4 -.9 1.3 -.9 1.1 -.9 .7 -.9 .2 -.9-.2 -.9-.6 -.9-.7 -.9-.3 -.9 .4 -.9 1.2 -.9 1 -.9-.3 -.9-1.3 -.9-1 -.9-.3 -.9 0 -.9-.1 -.9 .1 -.9-.2 -.9-.6 -.9-.7 -.9-.1 -.9 .7 -.9 .5 -.9-.1 -.8 .3 -.9 .1 -.9-1.2 -.9-1.7 -.9-1 -.9-.6 -.9-1 -.9-.9 -.9-.4 -.9-.1 -.9 .5 -.9 1.9 -.9 2.6 -.9 2.6 -.9 3.1 -.9 4.2 -.9 5Z" fill="#FCAE62" fill-opacity="0.22" stroke="none"/><path d="M271.1 160.8l.9-3.4 .9-3.2 .9-4 .9-4.2 .9-2.9 .9-1.7 .9-.8 .9 .3 .9 1.4 .9 1.5 .9 .4 .9-.2 .9-.1 .9 .2 .9 .2 .9 .3 .8 0 .9-.3 .9-.1 .9 .4 .9 .9 .9 .8 .9 .2 .9-.1 .9-.3 .9-.4 .9-.4 .9 .1 .9 .7 .9 .9 .9 1 .9 .5 .9 .1 .9-.1 .9-.6 .9-.5 .9 .3 .9 .4 .9 .3 .9 .8 .9 .4 .9-.4 .9-.3 .9 .1 .9 .1 .9-.2 .9-.3 .9 .1 .9 .2 .9 .2 .8 .2 .9 .1 .9 .1 .9 0 .9-.3 .9 0 .9 .2 .9 .1 .9 .1 .9-.3 .9-.6 .9-.5 .9 .1 .9 .3 .9 .2 .9 .3 .9 .2 .9-.2 .9-.5 .9-.5 .9-.8 .9-.3 .9 .4 .9 .6 .9 .2 .9 .1 .9 0 .9-.1 .9 .1 .9 .7 .9 .6 .9 .1 .9-.1 .8 0 .9 .3 .9 1.4 .9 1.3 .9-.4 .9-1 .9-.8 .9-.8 .9-.8 .9 .1 .9 .7 .9 .4 .9-.1 .9 0 .9-.1 .9-.1 .9 .5 .9 .9 .9 .1 .9-.8 .9-1.1 .9-.7 .9 0 .9 .4 .9 .6 .9 .5 .9 .2 .9-.5 .9-.8 .9-.6 .9-.5 .9-.5 .9-.2 .8 .5 .9 .8 .9 .7 .9 .2 .9-.4 .9-.9 .9-.9 .9-.1 .9 .4 .9 .2 .9-.1 .9 .3 .9 .5 .9 .6 .9 .5 .9-.2 .9-.7 .9-.1 .9 .2 .9-.4 .9-.1 .9 .6 .9 .7 .9 .2 .9-.2 .9 0 .9-.1 .9-.4 .9-.2 .9 .4 .9 .8 .9 .7 .9-.5 .9-1.2 .8-.6 .9 .4 .9 .9 .9 1 .9 .5 .9-.5 .9-.5 .9 0 .9-.1 .9-.3 .9 0 .9 .1 .9 .4 .9 .9 .9 .3 .9-.5 .9-.4 .9 0 .9 .1 .9 .2 .9 .5 .9-.6 .9-1.5 .9-.6 .9 .3 .9 .6 .9 .1 .9-.6 .9-.3 .9 .3 .9-.3 .9-.7 .9 .2 .8 .9 .9 .3 .9-.4 .9-.2 .9 .6 .9 1.3 .9 1.1 .9-.1 .9-.7 .9-.1 .9 0 .9-.7 .9-1 .9-.4 .9-.1 .9-.2 .9-.1 .9-.2 .9 0 .9 .5 .9 .9 .9 .3 .9-.3 .9 .1 .9 .7 .9 .9 .9 .4 .9-.7 .9-1.2 .9-.6 .9 .4 .9 .8 .9 .4 .8-.3 .9-.2 .9 .5 .9 .5 .9 .1 .9-.5 .9-.8 .9-1 .9-.8 .9 0 .9 1.3 .9 1.6 .9 .2 .9-.7 .9-.5 .9-.1 .9 .3 .9 0 .9-.8 .9-1 .9 .1 .9 .5 .9-.7 .9-1.1 .9 .1 .9 .8 .9 .5 .9 1 .9 1.3 .9 .7 .9-.5 .9-.8 .9-.3 .9 0L495.4 156.2l-.9-.6 -.9-.4 -.9 .2 -.9 .9 -.9 1.1 -.9 .7 -.9 .1 -.9-.9 -.9-1.1 -.9-.2 -.9 .6 -.9 .5 -.9 0 -.9-.5 -.9-.4 -.9 .2 -.9-.1 -.9-.7 -.9-.3 -.9 1 -.9 1.9 -.9 1.4 -.9-.3 -.9-1.1 -.9-.7 -.9-.3 -.9-.3 -.9 0 -.9 .2 -.9 .2 -.9 .5 -.9 .6 -.9 .2 -.8 .1 -.9 .2 -.9 .1 -.9-.1 -.9-.1 -.9-.2 -.9-.3 -.9-.5 -.9-.7 -.9-.6 -.9-.2 -.9 .5 -.9 .2 -.9-.6 -.9-.5 -.9 .6 -.9 1.2 -.9 .5 -.9-.3 -.9-.5 -.9-.3 -.9 0 -.9 .2 -.9 .4 -.9 .7 -.9 .4 -.9-.3 -.9-.6 -.9-.8 -.9-.8 -.9-.6 -.9-.1 -.9 0 -.8-.1 -.9 0 -.9 0 -.9 0 -.9 .4 -.9 .7 -.9 .3 -.9-.4 -.9-.7 -.9-.5 -.9 .1 -.9 .4 -.9 .8 -.9 1.5 -.9 1.4 -.9 .7 -.9-.1 -.9-.4 -.9-.8 -.9-.7 -.9-.4 -.9-.1 -.9-.1 -.9 .3 -.9 .6 -.9 .2 -.9-.7 -.9-.8 -.9-.4 -.9 .4 -.9 .4 -.9 0 -.9 .1 -.8 .4 -.9 .2 -.9-.5 -.9-1.1 -.9-1.2 -.9-.6 -.9 0 -.9 .2 -.9 .2 -.9 .6 -.9 1.3 -.9 1.2 -.9 .2 -.9-.1 -.9-.3 -.9-.4 -.9-.5 -.9-.2 -.9-.1 -.9 0 -.9 .4 -.9 .1 -.9-.5 -.9-.5 -.9 0 -.9 .2 -.9 .3 -.9-.1 -.9-.6 -.9 .2 -.9 1.3 -.9 1.1 -.9-.2 -.9-1.6 -.8-1.8 -.9-.9 -.9 .3 -.9 .9 -.9 .8 -.9 .7 -.9 .3 -.9-.1 -.9 .6 -.9 .9 -.9-.1 -.9-1.2 -.9-.9 -.9-.2 -.9 .4 -.9 .6 -.9 .1 -.9-.4 -.9-.7 -.9-.4 -.9 0 -.9 .1 -.9 .5 -.9 1 -.9 .7 -.9-.1 -.9-.1 -.9 .4 -.9 .1 -.9-.1 -.9 .2 -.9 .4 -.9 .1 -.8-.7 -.9-.6 -.9-.1 -.9 .1 -.9 0 -.9 0 -.9-.3 -.9-.1 -.9 .5 -.9 .3 -.9-.2 -.9-.9 -.9-1 -.9-.4 -.9 .7 -.9 .9 -.9 .3 -.9 .2 -.9 .2 -.9-.2 -.9-.2 -.9 .2 -.9 .5 -.9-.1 -.9-.9 -.9-.6 -.9 .1 -.9 0 -.9 .3 -.9 .2 -.9-.2 -.9 .1 -.9 .2 -.8-.7 -.9-1 -.9-.5 -.9-.2 -.9 .1 -.9 .9 -.9 1.4 -.9 .3 -.9-.4 -.9-.3 -.9 0 -.9 0 -.9-.1 -.9 0 -.9 0 -.9-.1 -.9-.7 -.9-.9 -.9-.4 -.9 .2 -.9 .1 -.9 0 -.9-.3 -.9-.7 -.9-.4 -.9-.2 -.9 .1 -.9 .2 -.9 .2 -.9 0 -.9-.1 -.9-.4 -.9-.1 -.9 0 -.8-.5 -.9-.8 -.9-.2 -.9 .3 -.9-.3 -.9-1 -.9-1.3 -.9-1.2 -.9-.7 -.9-.2 -.9 1 -.9 1.7 -.9 1.2 -.9 1.4 -.9 2.6 -.9 4.2 -.9 4.8Z" fill="#E2D2C8" fill-opacity="0.22" stroke="none"/><path d="M271.1 160.7l.9-3.7 .9-3.6 .9-2.9 .9-2.4 .9-1.9 .9-1.8 .9-1.2 .9-.2 .9 0 .9 .2 .9 .3 .9 .1 .9 .4 .9 1.3 .9 1.1 .9 .4 .8 .3 .9 .5 .9 .1 .9-.5 .9-.3 .9 .5 .9 .7 .9 .3 .9 .2 .9 .1 .9-.5 .9-.5 .9 .3 .9 .7 .9 .4 .9 .1 .9-.5 .9-.4 .9 .1 .9 .4 .9 .1 .9-.3 .9 .1 .9 .1 .9 .1 .9 .1 .9 .3 .9 .1 .9 .1 .9 .1 .9 .1 .9-.3 .9-.1 .9 .6 .8 .6 .9-.2 .9-.6 .9-.1 .9 .1 .9 .1 .9 .5 .9 .3 .9-.5 .9-.4 .9 .5 .9 .6 .9-.4 .9-1.1 .9-1 .9-.6 .9-.3 .9 .6 .9 1.2 .9 1.1 .9 .2 .9-.8 .9-.6 .9-.4 .9-.6 .9-.1 .9 .3 .9-.2 .9-.7 .9-.6 .9 .6 .9 1 .9 .4 .8 .2 .9 .1 .9 .4 .9 .4 .9-.1 .9-.1 .9 .2 .9-.2 .9-.5 .9-.2 .9 0 .9-.1 .9-.3 .9 .2 .9 .7 .9 1.1 .9 1.2 .9 .4 .9-.4 .9-.6 .9-.8 .9-.6 .9-.1 .9 .4 .9 0 .9-.4 .9-.6 .9-.3 .9 .1 .9 0 .9 .1 .9 .3 .9 .3 .8 0 .9-.2 .9-.6 .9-.5 .9 .1 .9 .7 .9 .1 .9-.3 .9 .1 .9 .4 .9 .4 .9-.5 .9-.8 .9-.4 .9 .5 .9 1 .9 .6 .9-.2 .9 .1 .9 .4 .9-.9 .9-1.5 .9-.6 .9 .2 .9 .3 .9 .5 .9 .7 .9 .5 .9 .6 .9 .4 .9-.2 .9-1.2 .9-1.1 .9-.4 .8 .1 .9-.1 .9-.1 .9 .3 .9 .6 .9 .5 .9 .4 .9 .3 .9 0 .9-.5 .9-1.1 .9-1 .9-.6 .9 .5 .9 .9 .9 .4 .9 .2 .9 .2 .9-.2 .9 0 .9 .6 .9 .2 .9-.4 .9-.4 .9 0 .9-.2 .9-.5 .9-.3 .9 .6 .9 1.2 .9 1.3 .9 .3 .9-.5 .8-.6 .9-.5 .9-.3 .9-.4 .9-.6 .9-.9 .9-.7 .9-.3 .9 .6 .9 .8 .9 .6 .9 .2 .9-.1 .9-.9 .9-1.1 .9-.4 .9 .1 .9 .2 .9 .5 .9 .6 .9 .4 .9 .4 .9 0 .9-.4 .9 .2 .9 .8 .9 .5 .9 .3 .9 .2 .9 0 .9-.5 .9-.5 .9 0 .8 .7 .9 .5 .9-.1 .9-.2 .9 .2 .9 .1 .9-.3 .9-.8 .9-.3 .9 .1 .9 0 .9 .2 .9 .5 .9 .5 .9 .3 .9 0 .9-.3 .9-.2 .9 .3 .9 .6 .9 .1 .9-.4 .9 .1 .9 .2 .9-.4 .9-.7 .9-.3 .9-.1 .9 0 .9-.1 .9 0 .9 .6 .9 .6 .9 0L495.4 155.4l-.9-.1 -.9 .2 -.9 0 -.9-.1 -.9 .1 -.9 .4 -.9 .4 -.9 0 -.9 .2 -.9 .5 -.9-.5 -.9-1.2 -.9-.2 -.9 .6 -.9 .1 -.9-.7 -.9-.3 -.9 0 -.9 0 -.9 .2 -.9 .8 -.9 .3 -.9-.5 -.9-.5 -.9-.3 -.9 .2 -.9 .7 -.9 0 -.9-.1 -.9 1 -.9 1.2 -.9-.9 -.9-1.9 -.8-.8 -.9 .3 -.9 .1 -.9-.1 -.9 .3 -.9 .6 -.9 .3 -.9-.1 -.9 0 -.9 0 -.9-.4 -.9-.4 -.9 0 -.9 .4 -.9 .5 -.9 0 -.9-.9 -.9-.8 -.9 0 -.9 .7 -.9 .8 -.9 .5 -.9 0 -.9-.4 -.9 .1 -.9 .7 -.9-.1 -.9-1.1 -.9-1.1 -.9-.1 -.9 1 -.9 1 -.9 .8 -.8 .5 -.9-.2 -.9-.9 -.9-.9 -.9-.3 -.9 .6 -.9 .9 -.9 .6 -.9 0 -.9-.3 -.9-.2 -.9-.1 -.9 0 -.9 .1 -.9-.2 -.9-.4 -.9 0 -.9 .4 -.9 .3 -.9-.5 -.9-.6 -.9 0 -.9 .6 -.9 .5 -.9-.1 -.9-.5 -.9-.2 -.9 .4 -.9 .7 -.9 .3 -.9-.3 -.9-.1 -.9 .3 -.8 0 -.9-.6 -.9-.5 -.9 .1 -.9-.1 -.9-.3 -.9 .7 -.9 1.3 -.9 .7 -.9-.4 -.9-1.1 -.9-1.1 -.9 .5 -.9 1.5 -.9 .8 -.9-.3 -.9-.4 -.9-.1 -.9-.2 -.9-.9 -.9-.9 -.9 .1 -.9 1.1 -.9 .9 -.9-.2 -.9-.6 -.9-.3 -.9 .5 -.9 1 -.9 .7 -.9 .5 -.9 .4 -.9-.2 -.9-.8 -.8-.6 -.9-.1 -.9 .3 -.9 .6 -.9 .4 -.9-.3 -.9-.3 -.9-.3 -.9-.5 -.9-.3 -.9-.3 -.9-.2 -.9-.4 -.9-.4 -.9 .1 -.9 .2 -.9-.2 -.9 .4 -.9 1 -.9 .2 -.9-.3 -.9-.4 -.9-.3 -.9-.2 -.9 .1 -.9 .3 -.9 .6 -.9 .3 -.9 .1 -.9 .1 -.9 0 -.9-.3 -.9-.4 -.8-.1 -.9 .7 -.9 .5 -.9-.3 -.9-1 -.9-.7 -.9-.5 -.9 .1 -.9 .5 -.9 .3 -.9-.1 -.9-.5 -.9-.5 -.9 0 -.9 .4 -.9 .8 -.9 .8 -.9 0 -.9-.3 -.9 .1 -.9 .3 -.9 .2 -.9 0 -.9-.3 -.9-.2 -.9 0 -.9 .1 -.9-.1 -.9-.4 -.9-.4 -.9 0 -.9-.1 -.9-.8 -.8-.7 -.9 .2 -.9 1.2 -.9 1.1 -.9 .6 -.9-.1 -.9 .1 -.9 .7 -.9 .5 -.9-.3 -.9-.7 -.9-.2 -.9-.2 -.9-.3 -.9-.4 -.9-.3 -.9 .1 -.9-.1 -.9-.7 -.9-.7 -.9 0 -.9 .3 -.9 .2 -.9 .5 -.9 .9 -.9 .8 -.9 .6 -.9 .4 -.9 0 -.9-.4 -.9-.3 -.9-.5 -.9-1.3 -.9-1 -.8-.2 -.9-.5 -.9-1.5 -.9-2.5 -.9-2.1 -.9-.6 -.9 0 -.9 .3 -.9 .5 -.9 .2 -.9 .8 -.9 1.4 -.9 1.5 -.9 2 -.9 2.8 -.9 3.2 -.9 3.1Z" fill="#8E8E8E" fill-opacity="0.22" stroke="none"/><path d="M271.1 160.7l.9-2.7 .9-2.5 .9-3.2 .9-3.7 .9-3.4 .9-2 .9-.7 .9-.3 .9-.2 .9 .6 .9 .8 .9 .3 .9 .3 .9 1 .9 1.7 .9 1.8 .8 1.5 .9 .7 .9-.1 .9-.7 .9-.7 .9-.3 .9-.2 .9-.6 .9-.8 .9-.1 .9 .8 .9 .9 .9 .3 .9-.2 .9 .2 .9 .7 .9 .7 .9 .3 .9-.2 .9 0 .9 .1 .9 .3 .9 .5 .9-.2 .9-.6 .9-.5 .9-.3 .9-.3 .9 .1 .9 .7 .9 .8 .9 0 .9-1 .9-1.2 .8-.2 .9 .5 .9 .1 .9-.3 .9-.4 .9-.6 .9-.1 .9 .5 .9 .8 .9 .5 .9-.2 .9-.2 .9 .1 .9 .1 .9 0 .9 .5 .9 1 .9 .9 .9 .1 .9-.6 .9-.4 .9 .3 .9 .3 .9-.2 .9-.7 .9-.6 .9-.1 .9 .4 .9 0 .9-.4 .9-.3 .9-.2 .9-.4 .8-.5 .9 .3 .9 .9 .9 .4 .9-.4 .9-1 .9-1 .9-.7 .9-.4 .9 .3 .9 .9 .9 .8 .9 .2 .9 .4 .9 .6 .9 .3 .9 .2 .9 .5 .9 .2 .9-.7 .9-.9 .9-.6 .9-.1 .9-.3 .9-.4 .9 .4 .9 1.4 .9 1.2 .9 0 .9-.9 .9-1.2 .9-.7 .9 .2 .8 .6 .9 .1 .9-.3 .9 0 .9 .3 .9 .1 .9 0 .9 .3 .9 .5 .9 .1 .9-.3 .9-.3 .9-.5 .9-.6 .9-.1 .9 .4 .9-.1 .9-.3 .9 .4 .9 .9 .9 .4 .9-.2 .9-.8 .9-1 .9-.5 .9 .2 .9 .4 .9 .3 .9-.2 .9-.4 .9-.3 .9 .1 .9 0 .9-.1 .8 .1 .9 .2 .9-.2 .9-.4 .9 .2 .9 1.1 .9 1.3 .9 .5 .9-.2 .9-.4 .9-.6 .9-.7 .9 0 .9 .5 .9 .2 .9-.4 .9-.8 .9-.2 .9 .5 .9 .4 .9-.4 .9-.6 .9 0 .9 .3 .9 0 .9-.6 .9-.8 .9-.1 .9 .5 .9 .8 .9 .6 .9 0 .9-.2 .8 .4 .9 .3 .9-.5 .9-.8 .9-1 .9-.6 .9 .3 .9 .8 .9 .8 .9 .2 .9-.4 .9-.2 .9 .5 .9 .2 .9-.5 .9-.6 .9 0 .9 .3 .9 .2 .9 .2 .9 .3 .9 .1 .9 .3 .9 .8 .9 .5 .9-.6 .9-1 .9-.6 .9-.2 .9-.2 .9 .6 .9 1.1 .9 .3 .8-.5 .9-.5 .9 .1 .9 0 .9-.4 .9 .1 .9 1.5 .9 1.2 .9-.5 .9-1.2 .9-.3 .9 .5 .9 .7 .9 .1 .9-.5 .9-.3 .9-.5 .9-1.2 .9-1 .9-.1 .9 .5 .9 .4 .9 .3 .9 .3 .9 .4 .9 .2 .9-.1 .9-.3 .9-.4 .9-.5 .9 0 .9 .1 .9-.1 .9-.1L495.4 155.1l-.9 .1 -.9 .4 -.9 .2 -.9-.3 -.9-.4 -.9 .1 -.9-.1 -.9-.6 -.9-.4 -.9 .7 -.9 1.2 -.9 .2 -.9-.4 -.9-.2 -.9 0 -.9 .1 -.9 .2 -.9-.1 -.9-.5 -.9-.5 -.9-.3 -.9 .6 -.9 1.1 -.9 .3 -.9-.7 -.9-.5 -.9-.1 -.9-.2 -.9-.1 -.9 .4 -.9 .9 -.9 .2 -.9-.1 -.8 .1 -.9 .1 -.9-.8 -.9-.9 -.9-.1 -.9 .5 -.9 .3 -.9 .4 -.9 .1 -.9-.6 -.9-.8 -.9-.2 -.9 .2 -.9 .3 -.9 .2 -.9-.1 -.9 0 -.9 .5 -.9 .6 -.9 .2 -.9 .4 -.9 .4 -.9-.8 -.9-1.1 -.9-.3 -.9 .4 -.9 .7 -.9 .5 -.9-.1 -.9-.8 -.9-1 -.9-1.1 -.9-.3 -.8 1 -.9 1.6 -.9 1.2 -.9 .1 -.9-.3 -.9 0 -.9 .1 -.9-.1 -.9-.1 -.9-.5 -.9-.8 -.9 .2 -.9 1.4 -.9 1.5 -.9-.1 -.9-1 -.9-1 -.9-1 -.9-.7 -.9 0 -.9 .3 -.9 .4 -.9 .3 -.9-.1 -.9-.2 -.9 .4 -.9 1.2 -.9 1.1 -.9-.1 -.9-1.6 -.9-1.7 -.9-.8 -.9 0 -.8 1 -.9 1.8 -.9 1.6 -.9 .2 -.9-1.3 -.9-1.1 -.9-.2 -.9 .1 -.9-.1 -.9-.2 -.9 .1 -.9 .2 -.9 .1 -.9 .3 -.9 .2 -.9-.6 -.9-.8 -.9-.1 -.9 .1 -.9 .3 -.9 .7 -.9 1 -.9 .6 -.9 .2 -.9-.1 -.9-.1 -.9-.2 -.9-.4 -.9-.3 -.9-.3 -.9-.7 -.9-.6 -.9 .2 -.9 .6 -.8 .2 -.9 .8 -.9 1.3 -.9 .7 -.9 .1 -.9 .3 -.9 .1 -.9-.6 -.9-1.2 -.9-1.1 -.9-.5 -.9 .5 -.9 1.3 -.9 1.1 -.9 .2 -.9 .4 -.9 .7 -.9-.3 -.9-1.2 -.9-1 -.9-.6 -.9-.6 -.9-.4 -.9-.6 -.9-.2 -.9 .3 -.9 .6 -.9 .7 -.9 .5 -.9 .2 -.9-.1 -.9-.3 -.9-.5 -.8 0 -.9 .5 -.9 .9 -.9 .6 -.9 .1 -.9-.1 -.9-.3 -.9-.1 -.9-.4 -.9-.5 -.9-.3 -.9 .2 -.9 .6 -.9 .3 -.9-.6 -.9-.4 -.9 .3 -.9 0 -.9-.6 -.9 0 -.9 .2 -.9-.3 -.9-.3 -.9 .8 -.9 1.1 -.9 .1 -.9-.7 -.9-.5 -.9 .6 -.9 .9 -.9 .4 -.9-.1 -.9-.1 -.8-.1 -.9-.4 -.9-.2 -.9 .6 -.9 .4 -.9-.5 -.9-.2 -.9 .3 -.9-.3 -.9-.8 -.9 0 -.9 .4 -.9 .8 -.9 .4 -.9-.3 -.9-.5 -.9-.7 -.9 0 -.9 .7 -.9 .2 -.9-.6 -.9-.6 -.9-.2 -.9 0 -.9 .1 -.9 0 -.9-.4 -.9 0 -.9 .5 -.9 .5 -.9 .1 -.9-.1 -.9-.2 -.9-1 -.8-1.7 -.9-1.8 -.9-.7 -.9-.1 -.9-.7 -.9-1.7 -.9-.8 -.9 .4 -.9 .2 -.9-.4 -.9 .9 -.9 2.2 -.9 2.5 -.9 2.1 -.9 2.3 -.9 2.7 -.9 2.7Z" fill="#7AC8BE" fill-opacity="0.22" stroke="none"/><path d="M271.1 159.4l.9-12.3 .9-18.6 .9-24.1 .9-22.6 .9-17.2 .9-9.2 .9-3.6 .9 2.5 .9 6.8 .9 9.1 .9 9.9 .9 8.2 .9 6.1 .9 4.1 .9 2.7 .9 2.3 .8 2.4 .9 2.1 .9 2.1 .9 1.5 .9 .6 .9 0 .9-.5 .9-.7 .9-.3 .9 .4 .9 .7 .9 1 .9 1.1 .9 .5 .9-.3 .9-.8 .9-.6 .9-.7 .9-.4 .9 .1 .9 .4 .9 .4 .9 .6 .9 1.2 .9 .5 .9-.5 .9-.3 .9 .3 .9 .4 .9 .4 .9 .7 .9 .6 .9 0 .9-.2 .8-.5 .9-.2 .9 0 .9 .4 .9 .5 .9 .6 .9 .7 .9 .5 .9 .1 .9 .1 .9 .2 .9-.6 .9-1.1 .9-.4 .9 .4 .9 .3 .9-.6 .9-.9 .9-.2 .9 .3 .9-.2 .9 0 .9 .6 .9 .5 .9 .2 .9 .4 .9 .5 .9 .7 .9 .8 .9-.2 .9-1.5 .9-1.1 .9-.3 .8 .1 .9 .6 .9 .5 .9 .4 .9 .3 .9 .2 .9-.1 .9-.3 .9-.5 .9-.4 .9 .3 .9 .6 .9 0 .9 .1 .9 .5 .9 .2 .9-.7 .9-.1 .9 .9 .9 .7 .9 0 .9 .2 .9 .3 .9-.5 .9-.8 .9-.3 .9-.1 .9-.3 .9-.1 .9 0 .9 0 .9-.2 .9 0 .8 .4 .9 .6 .9 1 .9 1 .9 .4 .9-.2 .9-.7 .9-.5 .9-.2 .9 .1 .9-.1 .9-.2 .9 0 .9 .5 .9 .7 .9 .7 .9 .3 .9-.2 .9-.6 .9-.8 .9-.3 .9 .2 .9 .6 .9 .2 .9-.1 .9-.2 .9-.2 .9-.5 .9-.6 .9-.1 .9 .1 .9-.1 .9-.2 .9 .1 .8 .4 .9 .2 .9-.5 .9-.9 .9-.5 .9-.1 .9-.5 .9-1 .9-.9 .9 .4 .9 1.2 .9 .7 .9 0 .9 .3 .9 .7 .9 .3 .9-.3 .9-.4 .9 .3 .9 .4 .9 .4 .9 .4 .9 .4 .9 0 .9-.3 .9-.8 .9-.7 .9-.4 .9-.5 .9-.8 .9-.4 .9 .6 .9 .9 .8 .4 .9 .1 .9-.1 .9-.2 .9-.2 .9 .1 .9 .2 .9 .4 .9 .6 .9 .2 .9-.3 .9-.3 .9-.3 .9-.4 .9-.2 .9 .4 .9 .5 .9-.3 .9-1.5 .9-1.3 .9 .2 .9 1.3 .9 .5 .9-.6 .9-.4 .9 .2 .9 .7 .9 .4 .9-.2 .9-.1 .9 .9 .9 .8 .9 0 .8-.5 .9 0 .9 1.2 .9 1.3 .9 0 .9-.6 .9-.1 .9 .2 .9-.2 .9 0 .9 .7 .9 1.2 .9 .7 .9-.8 .9-1.2 .9-.9 .9-.3 .9 .8 .9 1.5 .9 .9 .9-.5 .9-1.1 .9-.5 .9 .2 .9 .6 .9 .4 .9-.5 .9-1.3 .9-1.7 .9-1 .9 .1 .9 1 .9 .6 .9 0L495.4 123.5l-.9 1.3 -.9 1.6 -.9 1.1 -.9 .6 -.9 .2 -.9 0 -.9 0 -.9 .2 -.9 .4 -.9 .2 -.9-.5 -.9-.5 -.9-.3 -.9 .2 -.9 .8 -.9 .3 -.9-.4 -.9-.5 -.9-.1 -.9-.1 -.9-.2 -.9-.1 -.9 0 -.9 .2 -.9 .5 -.9 .2 -.9-.7 -.9-1 -.9-.4 -.9 .7 -.9 .2 -.9-.7 -.9-.3 -.8 .3 -.9 .6 -.9 .6 -.9 0 -.9-.8 -.9-.7 -.9-.3 -.9 .1 -.9 .1 -.9-1 -.9-.7 -.9 .4 -.9 .3 -.9-.1 -.9 .2 -.9 .6 -.9 1.2 -.9 1.1 -.9 .5 -.9-.2 -.9-.8 -.9-.9 -.9-.9 -.9-.8 -.9-.3 -.9 .1 -.9 .2 -.9 .1 -.9 0 -.9 .3 -.9 .1 -.9-.3 -.9-.5 -.8-.3 -.9 .3 -.9 .3 -.9 0 -.9-.2 -.9 .1 -.9 .4 -.9 .2 -.9 0 -.9-.1 -.9-.1 -.9 .1 -.9 .5 -.9 .3 -.9 0 -.9-.1 -.9-.1 -.9 .4 -.9 .6 -.9 .2 -.9-.4 -.9-.5 -.9-.4 -.9-.5 -.9-.6 -.9 0 -.9 .7 -.9 .6 -.9 .1 -.9-.1 -.9 .1 -.9 .1 -.9-.3 -.8-.4 -.9-.9 -.9-1 -.9-.4 -.9 .7 -.9 .8 -.9 .6 -.9 .8 -.9 1.3 -.9 .8 -.9-.1 -.9-.5 -.9 0 -.9 .7 -.9 1 -.9 .9 -.9 .8 -.9 .4 -.9-.2 -.9-.7 -.9-1.2 -.9-1.6 -.9-.9 -.9 .8 -.9 1.3 -.9 .6 -.9 0 -.9-.7 -.9-.9 -.9-.5 -.9-.3 -.9-.8 -.9-.7 -.9 .5 -.8 .9 -.9 .5 -.9 .1 -.9-.3 -.9-.9 -.9-.8 -.9-.6 -.9-.2 -.9 .3 -.9 .4 -.9 .2 -.9 .2 -.9 .6 -.9 .2 -.9-.2 -.9 .2 -.9-.1 -.9-.3 -.9 .1 -.9 .5 -.9 .1 -.9-.7 -.9-.8 -.9 .1 -.9 .3 -.9-.1 -.9-.2 -.9-.1 -.9-.1 -.9-.4 -.9-.3 -.9-.2 -.9 .1 -.8 .6 -.9 .5 -.9 .3 -.9 .3 -.9 0 -.9-.6 -.9-.9 -.9-.8 -.9-.2 -.9 .5 -.9 .9 -.9 .6 -.9 0 -.9-.6 -.9-.2 -.9 .8 -.9 1.6 -.9 1 -.9-.4 -.9-.3 -.9 .8 -.9 1.4 -.9 1.1 -.9 .3 -.9-.4 -.9-.6 -.9-.6 -.9-.1 -.9 .5 -.9 .9 -.9 .7 -.9 .2 -.9-.3 -.8-.3 -.9 .3 -.9 .2 -.9-.8 -.9-1.3 -.9-.8 -.9-.2 -.9 .3 -.9 .6 -.9 .2 -.9-.2 -.9-.2 -.9 .1 -.9 0 -.9-.1 -.9-.1 -.9-.1 -.9 0 -.9 .4 -.9 .6 -.9 .5 -.9-.1 -.9-.7 -.9-.2 -.9 .5 -.9 .3 -.9 .1 -.9 .9 -.9 1.7 -.9 1.2 -.9 .1 -.9-1 -.9-2 -.9-2 -.8-1.7 -.9-2.3 -.9-3 -.9-3.4 -.9-3.6 -.9-4.5 -.9-6.8 -.9-7.6 -.9-6.9 -.9-3.8 -.9 1.6 -.9 7.2 -.9 14.9 -.9 19.2 -.9 19.1 -.9 11.3 -.9 4.3Z" fill="#F6705F" fill-opacity="0.22" stroke="none"/><line x1="272.0" y1="120.63" x2="495.5" y2="120.63" stroke="#000" stroke-width="2" stroke-dasharray="7.2 3.2"/><path d="M271.1 161.7l.9-6.2 .9-5.6 .9-4.8 .9-3.9 .9-3.3 .9-3 .9-2.3 .9-.8 .9 .2 .9 .4 .9 .6 .9 .6 .9 .6 .9 .6 .9 .5 .9 .4 .8 .1 .9-.2 .9-.6 .9-.6 .9-.8 .9-.5 .9-.2 .9 .1 .9 .4 .9 .6 .9 .7 .9 .6 .9 .5 .9 .4 .9 .3 .9 .4 .9 .6 .9 .6 .9 .8 .9 .7 .9 .7 .9 .5 .9 .6 .9 .6 .9 .6 .9 .6 .9 .5 .9 .4 .9 .4 .9 .6 .9 .5 .9 .4 .9 .3 .9 .1 .8 .1 .9 .1 .9 .1 .9 .2 .9 .3 .9 .3 .9 .3 .9 .2 .9 .1 .9 .2 .9 .2 .9 .1 .9 .1 .9-.1 .9 0 .9 0 .9 0 .9 .1 .9 .1 .9 .2 .9 .4 .9 .5 .9 .5 .9 .3 .9 .1 .9-.2 .9-.2 .9-.1 .9 0 .9 .3 .9 .3 .9 .2 .9 .2 .8 0 .9 0 .9-.2 .9 0 .9 .1 .9 .3 .9 .3 .9 .1 .9 .1 .9 .1 .9 .1 .9 .1 .9-.1 .9-.2 .9-.1 .9 0 .9 .2 .9 .2 .9 .1 .9 .1 .9 .1 .9 .2 .9 .3 .9 .3 .9 .2 .9 0 .9-.2 .9-.3 .9-.4 .9-.3 .9 0 .9 .2 .9 .2 .8 .2 .9 .1 .9-.1 .9-.2 .9-.1 .9-.1 .9 0 .9 .2 .9 .1 .9 .2 .9 .2 .9 .2 .9 .2 .9 .2 .9 .2 .9 0 .9-.1 .9-.1 .9-.1 .9-.1 .9-.1 .9-.1 .9 0 .9 .1 .9 .1 .9 .1 .9 .2 .9 .1 .9 .2 .9 .1 .9 .2 .9 0 .9 0 .9 0 .8 .1 .9 .1 .9 0 .9-.1 .9-.1 .9-.1 .9 0 .9-.1 .9 .1 .9 0 .9 .1 .9 .1 .9 0 .9 0 .9 0 .9 0 .9 .1 .9 0 .9 0 .9-.1 .9 0 .9 0 .9 .1 .9 0 .9 .1 .9-.1 .9 0 .9 0 .9 0 .9 .1 .9 .1 .9 0 .9-.1 .8-.1 .9 0 .9 .2 .9 .3 .9 .2 .9 .1 .9 0 .9-.1 .9-.2 .9-.3 .9-.4 .9-.3 .9-.2 .9 0 .9 .1 .9 .3 .9 .3 .9 .2 .9 .2 .9 .1 .9 0 .9 0 .9-.1 .9 .1 .9 0 .9 0 .9-.1 .9-.2 .9-.1 .9 0 .9 0 .9 0 .9-.1 .8-.2 .9-.1 .9-.1 .9 .2 .9 .2 .9 .2 .9 0 .9-.2 .9-.2 .9-.1 .9 0 .9 .2 .9 .2 .9 .2 .9 .1 .9 .1 .9 .1 .9 .1 .9 .2 .9 .2 .9 .2 .9-.1 .9-.1 .9-.2 .9-.1 .9 0 .9-.1 .9-.2 .9-.3 .9-.3 .9-.4 .9-.4 .9-.2 .9-.1" fill="none" stroke="#6A9FCB" stroke-width="2.0" stroke-opacity="0.85" stroke-linejoin="round" stroke-linecap="round"/><path d="M271.1 161.9l.9-4 .9-3.9 .9-3.5 .9-3 .9-2.5 .9-1.8 .9-1.4 .9-1.3 .9-1.1 .9-1 .9-.7 .9-.5 .9-.1 .9 .1 .9 .2 .9 .1 .8 0 .9-.2 .9-.2 .9-.1 .9 .1 .9 .2 .9 .4 .9 .4 .9 .3 .9 .3 .9 .3 .9 .3 .9 .2 .9 .1 .9 0 .9-.1 .9-.1 .9 .1 .9 .3 .9 .4 .9 .4 .9 .1 .9 .1 .9 .1 .9 .2 .9 .2 .9 .2 .9 .1 .9 .2 .9 .2 .9 .1 .9 .1 .9 0 .9 0 .8 .1 .9 .2 .9 .2 .9 .3 .9 .4 .9 .5 .9 .5 .9 .4 .9 .4 .9 .2 .9 .1 .9 .1 .9 .3 .9 .4 .9 .2 .9 .1 .9 0 .9-.2 .9-.1 .9 0 .9 .3 .9 .5 .9 .6 .9 .6 .9 .4 .9 .2 .9 .2 .9 0 .9 .1 .9 .1 .9-.1 .9-.2 .9-.1 .8 0 .9 .3 .9 .3 .9 .3 .9 .1 .9 .1 .9 .2 .9 .2 .9 .2 .9 .1 .9 0 .9-.1 .9 0 .9 0 .9 .1 .9 0 .9 0 .9 0 .9 0 .9 .1 .9 .1 .9 .1 .9 0 .9-.1 .9-.1 .9-.1 .9 0 .9 .1 .9 .2 .9 .1 .9 0 .9-.1 .9-.1 .8-.1 .9 0 .9 .2 .9 .4 .9 .4 .9 .3 .9 .3 .9 .1 .9 0 .9 0 .9-.1 .9 .1 .9 .1 .9 .1 .9 .1 .9 .1 .9 .1 .9-.1 .9-.2 .9-.3 .9-.3 .9-.3 .9 .1 .9 .2 .9 .4 .9 .3 .9 .2 .9 0 .9 .1 .9 0 .9 .1 .9 0 .9-.2 .9-.1 .8-.1 .9-.1 .9 .2 .9 .2 .9 .4 .9 .3 .9 .1 .9-.1 .9-.2 .9-.4 .9-.3 .9-.2 .9 0 .9 .2 .9 .2 .9 .1 .9-.1 .9-.1 .9-.1 .9 .1 .9 .4 .9 .5 .9 .4 .9 .1 .9-.2 .9-.4 .9-.3 .9 0 .9 0 .9 .1 .9 .1 .9-.1 .9 0 .8 0 .9 .2 .9 .3 .9 .2 .9 .1 .9 0 .9-.2 .9-.2 .9-.1 .9 .1 .9 .1 .9 .1 .9-.1 .9-.3 .9-.2 .9-.1 .9 .3 .9 .5 .9 .4 .9 .2 .9 0 .9-.3 .9-.2 .9-.3 .9-.2 .9-.2 .9-.2 .9-.1 .9-.1 .9 .1 .9 .1 .9 0 .9 0 .8 .1 .9 .2 .9 .4 .9 .3 .9 .1 .9 .1 .9 .1 .9 0 .9 0 .9 0 .9 0 .9-.1 .9-.1 .9-.2 .9-.1 .9-.1 .9 .1 .9 .1 .9 .1 .9 0 .9-.2 .9-.2 .9-.2 .9-.1 .9-.2 .9-.1 .9 0 .9 0 .9 .1 .9 .1 .9 0 .9-.1 .9 0 .9-.1" fill="none" stroke="#B2A8DB" stroke-width="2.0" stroke-opacity="0.85" stroke-linejoin="round" stroke-linecap="round"/><path d="M271.1 161.9l.9-4.8 .9-4.3 .9-3.6 .9-2.8 .9-2.4 .9-2 .9-1.1 .9 .1 .9 .8 .9 1.1 .9 1.2 .9 1 .9 .5 .9 .2 .9 .2 .9 .2 .8 .1 .9-.3 .9-.3 .9-.2 .9 .1 .9 .2 .9 .2 .9 .1 .9 .1 .9 0 .9 0 .9 0 .9 0 .9 0 .9 .1 .9 .3 .9 .4 .9 .3 .9 .3 .9 0 .9-.2 .9-.1 .9 0 .9 .2 .9 .3 .9 .3 .9 .1 .9 .1 .9 0 .9 .1 .9 .1 .9 .3 .9 .3 .9 .5 .8 .3 .9 .4 .9 .3 .9 .3 .9 .4 .9 .4 .9 .5 .9 .5 .9 .4 .9 .3 .9 .1 .9 0 .9 0 .9 0 .9 .3 .9 .3 .9 .4 .9 .3 .9 .1 .9 0 .9-.1 .9-.1 .9 0 .9 0 .9 0 .9 .3 .9 .5 .9 .5 .9 .5 .9 .2 .9 0 .9-.2 .9-.1 .8 0 .9 .1 .9 .1 .9 .2 .9 .1 .9 .2 .9 .1 .9 .1 .9-.1 .9-.3 .9-.2 .9 0 .9 .1 .9 .4 .9 .2 .9 .2 .9 .1 .9 0 .9-.1 .9-.1 .9 0 .9 0 .9 .1 .9 .3 .9 .2 .9 .2 .9 .1 .9 .2 .9 0 .9 0 .9-.2 .9-.2 .9-.2 .8 .1 .9 .3 .9 .3 .9 .2 .9 0 .9-.1 .9-.1 .9-.2 .9-.2 .9-.2 .9 0 .9 0 .9 .3 .9 .2 .9 0 .9-.1 .9-.2 .9 0 .9 .1 .9 .1 .9 0 .9 0 .9-.1 .9 .1 .9 0 .9 .1 .9 .2 .9 .1 .9 .2 .9 .1 .9 .2 .9 0 .9-.2 .9-.3 .8-.3 .9-.2 .9 .1 .9 .1 .9 .1 .9 .1 .9 0 .9 .2 .9 .4 .9 .5 .9 .6 .9 .3 .9 .1 .9-.2 .9-.3 .9-.3 .9-.4 .9-.4 .9-.2 .9-.1 .9 0 .9 .3 .9 .2 .9 .2 .9 .1 .9 0 .9 0 .9-.1 .9 0 .9 .1 .9 .2 .9 .2 .9 .1 .8 .2 .9 .1 .9 0 .9-.1 .9-.1 .9-.2 .9-.2 .9-.1 .9 0 .9 .2 .9 .1 .9 0 .9-.2 .9-.2 .9-.1 .9 0 .9 0 .9 .1 .9 .1 .9 .2 .9 .1 .9 .1 .9 0 .9-.3 .9-.3 .9-.4 .9-.3 .9-.2 .9-.1 .9-.1 .9 0 .9-.1 .9 .1 .8 .1 .9 .3 .9 .2 .9 .1 .9 0 .9 0 .9-.1 .9-.1 .9 0 .9 0 .9 .1 .9 .1 .9 0 .9 0 .9 0 .9 0 .9 .3 .9 .3 .9 .2 .9 .1 .9 .1 .9 .1 .9 0 .9-.2 .9-.3 .9-.5 .9-.4 .9-.1 .9 0 .9 .3 .9 .4 .9 .3 .9 .2 .9 .1" fill="none" stroke="#C0845A" stroke-width="2.0" stroke-opacity="0.85" stroke-linejoin="round" stroke-linecap="round"/><path d="M271.1 161.9l.9-4.5 .9-4 .9-3.4 .9-2.6 .9-2.2 .9-1.8 .9-1 .9 .1 .9 .4 .9 .6 .9 .7 .9 .7 .9 .6 .9 .7 .9 .5 .9 .4 .8 .1 .9 0 .9 0 .9-.1 .9 .1 .9 0 .9 .2 .9 .3 .9 .3 .9 .3 .9 .3 .9 .3 .9 .2 .9 .2 .9 .2 .9 .1 .9-.1 .9-.3 .9-.1 .9 0 .9 .1 .9 .2 .9 .1 .9 0 .9-.1 .9 0 .9 .2 .9 .1 .9 .2 .9 .2 .9 .1 .9 .1 .9 .1 .9 0 .8 0 .9-.1 .9-.2 .9-.1 .9-.1 .9 0 .9 0 .9 .1 .9-.1 .9-.1 .9-.1 .9 .1 .9 .4 .9 .4 .9 .3 .9 .1 .9-.1 .9 .1 .9 .2 .9 .4 .9 .4 .9 .2 .9 .1 .9-.1 .9-.1 .9-.1 .9-.1 .9-.3 .9-.2 .9-.2 .9-.2 .9-.2 .9-.1 .8 .2 .9 .3 .9 .3 .9 .2 .9 0 .9 0 .9-.2 .9-.1 .9 0 .9 0 .9 .2 .9 .3 .9 .2 .9 .1 .9 0 .9 .1 .9-.1 .9-.1 .9 0 .9-.1 .9 0 .9 0 .9 .1 .9 .1 .9 .3 .9 .3 .9 .2 .9 .1 .9 0 .9 0 .9-.1 .9-.2 .9-.3 .8-.4 .9-.3 .9-.1 .9 .3 .9 .4 .9 .5 .9 .5 .9 .3 .9 .2 .9 .2 .9 .2 .9 0 .9 0 .9-.1 .9-.2 .9-.1 .9-.1 .9 .1 .9 .2 .9 .3 .9 .1 .9 .1 .9-.1 .9-.2 .9-.1 .9-.1 .9-.1 .9 .1 .9 .2 .9 .3 .9 .2 .9 .1 .9-.1 .9-.2 .8-.1 .9 0 .9 .1 .9 0 .9 0 .9 0 .9 .1 .9 .2 .9 .3 .9 .3 .9 .1 .9-.4 .9-.6 .9-.5 .9-.1 .9 .2 .9 .3 .9 .2 .9 .1 .9 0 .9-.1 .9-.1 .9-.2 .9-.1 .9 .1 .9 .1 .9 .4 .9 .4 .9 .3 .9 .1 .9-.1 .9-.3 .9-.4 .8-.2 .9 0 .9 .1 .9 .3 .9 .3 .9 .5 .9 .2 .9 .1 .9-.2 .9-.2 .9-.1 .9 0 .9-.1 .9 0 .9-.2 .9-.2 .9-.3 .9-.3 .9-.2 .9-.1 .9 0 .9 .2 .9 .1 .9 0 .9-.1 .9-.2 .9 0 .9 .1 .9 .2 .9 .3 .9 .3 .9 .1 .9 .1 .8-.1 .9-.2 .9-.1 .9-.1 .9-.2 .9-.1 .9-.2 .9-.2 .9-.1 .9 .1 .9 .2 .9 .1 .9 .1 .9 0 .9 0 .9-.1 .9 0 .9 0 .9 .1 .9 .1 .9 .2 .9 .1 .9 .2 .9 .2 .9 .2 .9 0 .9-.2 .9-.1 .9-.2 .9-.2 .9-.2 .9-.3 .9-.2 .9-.1" fill="none" stroke="#91A5DC" stroke-width="2.0" stroke-opacity="0.85" stroke-linejoin="round" stroke-linecap="round"/><path d="M271.1 161.9l.9-4.1 .9-3.7 .9-3.1 .9-2.5 .9-2.2 .9-2 .9-1.1 .9 .2 .9 .6 .9 1 .9 1.1 .9 1.1 .9 .8 .9 .2 .9-.1 .9-.1 .8-.1 .9 .1 .9 .3 .9 .4 .9 .3 .9 .3 .9 .2 .9 0 .9-.1 .9 0 .9-.1 .9-.2 .9-.1 .9 0 .9 .1 .9 .3 .9 .4 .9 .4 .9 .2 .9 .1 .9-.2 .9-.3 .9-.1 .9 .1 .9 .3 .9 .3 .9 .3 .9 .2 .9 .3 .9 .2 .9 0 .9 0 .9 0 .9 0 .8 .1 .9 0 .9 0 .9 0 .9 0 .9 0 .9 .1 .9 .1 .9 .3 .9 .1 .9 0 .9-.1 .9-.1 .9-.1 .9-.2 .9-.1 .9 0 .9 .2 .9 .3 .9 .5 .9 .4 .9 .2 .9 .1 .9-.1 .9 0 .9 0 .9 .1 .9 .1 .9 .2 .9 .2 .9 .2 .9 .1 .9 0 .8 0 .9-.1 .9-.1 .9 0 .9 .1 .9 0 .9 .1 .9 0 .9 0 .9 .1 .9-.1 .9-.2 .9-.2 .9-.1 .9 .1 .9 .3 .9 .3 .9 .3 .9 .1 .9 0 .9-.1 .9 0 .9 0 .9 .1 .9 .2 .9 .2 .9 .1 .9 0 .9-.3 .9-.2 .9-.2 .9 0 .9-.1 .8 .1 .9-.1 .9 0 .9 0 .9 .1 .9 .2 .9 .3 .9 .4 .9 .2 .9 .1 .9-.1 .9-.1 .9-.1 .9 .2 .9 .3 .9 .4 .9 .2 .9-.1 .9-.2 .9-.2 .9-.1 .9 .1 .9 .3 .9 .3 .9 .3 .9 .2 .9 .1 .9-.1 .9-.2 .9-.1 .9-.3 .9-.4 .9-.3 .9-.1 .8 .1 .9 .2 .9 .1 .9-.1 .9-.2 .9-.3 .9-.1 .9 0 .9 .1 .9 .4 .9 .5 .9 .3 .9 .2 .9 .1 .9-.1 .9-.1 .9-.2 .9-.1 .9-.1 .9-.1 .9-.2 .9-.2 .9-.1 .9-.1 .9 .1 .9 0 .9 .2 .9 .1 .9 .3 .9 .2 .9 .2 .9 .1 .9-.1 .8-.2 .9-.3 .9-.4 .9-.2 .9 .1 .9 .3 .9 .5 .9 .4 .9 .3 .9 0 .9-.1 .9-.2 .9-.2 .9 0 .9 .2 .9 .1 .9 0 .9-.3 .9-.4 .9-.3 .9-.2 .9 0 .9 .1 .9 .2 .9 .1 .9 .1 .9 .1 .9 .3 .9 .2 .9 .2 .9 0 .9-.2 .9-.2 .8-.2 .9-.2 .9-.2 .9-.2 .9-.1 .9 .3 .9 .4 .9 .2 .9 0 .9-.1 .9-.2 .9 0 .9 .1 .9 .2 .9 .3 .9 .3 .9 .3 .9 .1 .9 0 .9-.2 .9-.2 .9-.1 .9-.2 .9-.1 .9-.2 .9-.2 .9-.1 .9 0 .9 .1 .9 .1 .9 .2 .9 .3 .9 .2 .9 .2" fill="none" stroke="#B67FAA" stroke-width="2.0" stroke-opacity="0.85" stroke-linejoin="round" stroke-linecap="round"/><path d="M271.1 161.9l.9-4.6 .9-4 .9-3.3 .9-2.5 .9-1.9 .9-1.7 .9-1 .9-.1 .9 .3 .9 .6 .9 .8 .9 1.1 .9 1.1 .9 .9 .9 .5 .9 .1 .8-.1 .9 0 .9 .1 .9 0 .9 .1 .9 .1 .9 .1 .9 .1 .9 0 .9 .1 .9 0 .9 .2 .9 .3 .9 .4 .9 .2 .9 .1 .9-.2 .9-.1 .9-.1 .9-.1 .9 0 .9 0 .9-.1 .9-.1 .9-.1 .9 0 .9 .1 .9 .3 .9 .3 .9 .2 .9 .1 .9 0 .9 0 .9 0 .8 .1 .9 0 .9 0 .9-.2 .9-.1 .9-.1 .9 .1 .9 .1 .9 .3 .9 .2 .9 .2 .9 .1 .9 .3 .9 .3 .9 .4 .9 .4 .9 .3 .9 .2 .9 .1 .9 .1 .9 .2 .9 .3 .9 .3 .9 0 .9-.1 .9-.3 .9-.1 .9 .1 .9 .2 .9 .2 .9 .1 .9 .1 .9 .1 .8 .1 .9 0 .9-.2 .9-.3 .9-.2 .9-.1 .9 .2 .9 .2 .9 .1 .9 .1 .9 0 .9 .1 .9 .1 .9 .2 .9 .2 .9 .1 .9 0 .9 0 .9 .1 .9 0 .9 .1 .9-.1 .9 0 .9 0 .9 0 .9 0 .9 .2 .9 .2 .9 .3 .9 .3 .9 0 .9-.1 .9-.1 .8-.2 .9-.1 .9 0 .9 .1 .9 .1 .9 .2 .9 .2 .9 .3 .9 .4 .9 .2 .9 .2 .9 .1 .9-.1 .9 0 .9-.2 .9-.1 .9-.2 .9-.1 .9 0 .9 .1 .9 .1 .9 .1 .9 0 .9-.2 .9-.2 .9 0 .9 .3 .9 .3 .9 .4 .9 .3 .9 .1 .9 0 .9-.2 .9-.2 .8-.1 .9-.2 .9-.1 .9 0 .9 0 .9 .1 .9 .4 .9 .4 .9 .2 .9 .1 .9-.2 .9-.3 .9-.3 .9-.2 .9-.1 .9 .1 .9 0 .9 .1 .9 0 .9 0 .9-.1 .9 0 .9 0 .9 .2 .9 .2 .9 .2 .9 .1 .9 .1 .9 .1 .9 .1 .9 .1 .9 .1 .9 0 .8 0 .9-.2 .9-.2 .9-.2 .9-.1 .9 0 .9 .2 .9 .4 .9 .3 .9 .1 .9-.1 .9-.2 .9-.2 .9-.2 .9-.1 .9-.1 .9 .1 .9 0 .9 0 .9 .1 .9 0 .9 0 .9 .1 .9 .1 .9 .1 .9 0 .9-.1 .9-.2 .9-.2 .9-.1 .9 .1 .9 .2 .9 .1 .8 0 .9-.1 .9 0 .9 .2 .9 .2 .9 .3 .9 .1 .9 0 .9-.2 .9-.5 .9-.6 .9-.3 .9-.1 .9 .1 .9 .2 .9 .3 .9 .3 .9 .2 .9 .3 .9 .1 .9 .1 .9 0 .9-.1 .9-.1 .9 0 .9-.1 .9 0 .9 0 .9 0 .9 0 .9 0 .9-.1 .9-.2 .9-.1" fill="none" stroke="#FCAE62" stroke-width="2.0" stroke-opacity="0.85" stroke-linejoin="round" stroke-linecap="round"/><path d="M271.1 161.9l.9-3.7 .9-3.4 .9-2.9 .9-2.3 .9-2.1 .9-1.9 .9-1 .9 .2 .9 .7 .9 .9 .9 1 .9 .7 .9 .3 .9 .1 .9 .1 .9 .2 .8 .3 .9 .4 .9 .4 .9 .3 .9 .2 .9 .1 .9 0 .9-.1 .9-.1 .9 0 .9 .2 .9 .1 .9 .2 .9 .1 .9 .2 .9 .3 .9 .3 .9 .1 .9-.1 .9-.1 .9 .1 .9 .3 .9 .4 .9 .3 .9 .2 .9 0 .9 0 .9 0 .9 .2 .9 .1 .9 0 .9-.1 .9-.2 .9 0 .8 .1 .9 .1 .9 .1 .9 .1 .9 0 .9 0 .9 0 .9 0 .9-.2 .9 0 .9 0 .9 .2 .9 .3 .9 .2 .9 0 .9 0 .9-.2 .9-.2 .9-.3 .9-.2 .9-.2 .9 0 .9 0 .9 .1 .9 .1 .9 .2 .9 .2 .9 0 .9-.1 .9-.2 .9-.2 .9 .1 .9 .4 .8 .5 .9 .3 .9 .1 .9 0 .9-.2 .9 0 .9-.1 .9-.1 .9-.2 .9-.2 .9-.1 .9 0 .9 0 .9 0 .9-.1 .9 0 .9 0 .9 0 .9-.1 .9 0 .9 .1 .9 .2 .9 .2 .9 .1 .9 .1 .9-.1 .9-.3 .9-.3 .9-.4 .9-.2 .9 0 .9 .1 .9 .2 .8 .3 .9 .2 .9 .1 .9-.1 .9-.3 .9-.3 .9-.1 .9 .1 .9 .2 .9 .1 .9 0 .9 .1 .9 .1 .9 .2 .9 .1 .9 0 .9-.1 .9-.1 .9 0 .9 .2 .9 .1 .9 0 .9-.2 .9-.2 .9-.2 .9-.1 .9 .1 .9 .2 .9 .2 .9 .2 .9 .1 .9-.2 .9-.2 .9-.2 .8-.1 .9 0 .9 .1 .9 .2 .9 .2 .9 .2 .9 .1 .9 0 .9-.1 .9-.1 .9 0 .9 .1 .9 .3 .9 .3 .9 .3 .9 .2 .9 .2 .9-.1 .9-.2 .9-.3 .9-.4 .9-.4 .9-.3 .9-.1 .9 0 .9 .2 .9 0 .9-.1 .9-.3 .9-.3 .9-.2 .9 0 .9 .1 .8 .1 .9-.1 .9-.1 .9 0 .9 .2 .9 .4 .9 .4 .9 .3 .9 .1 .9-.2 .9-.3 .9-.2 .9 0 .9 0 .9 .1 .9 0 .9 .1 .9 .1 .9 .3 .9 .3 .9 .1 .9 .1 .9-.1 .9 0 .9 0 .9-.1 .9 0 .9-.2 .9-.1 .9 0 .9 .1 .9 0 .9 .1 .8 .1 .9 0 .9 0 .9-.1 .9-.1 .9-.2 .9-.1 .9-.2 .9 0 .9 0 .9 .3 .9 .2 .9 .2 .9 .1 .9-.2 .9-.2 .9-.3 .9-.1 .9-.1 .9 0 .9 0 .9 0 .9 0 .9 .1 .9 0 .9 0 .9 0 .9-.1 .9-.1 .9-.2 .9-.1 .9-.2 .9-.2 .9-.1" fill="none" stroke="#E2D2C8" stroke-width="2.0" stroke-opacity="0.85" stroke-linejoin="round" stroke-linecap="round"/><path d="M271.1 161.9l.9-3 .9-2.8 .9-2.3 .9-2.1 .9-2 .9-1.8 .9-1.1 .9-.1 .9 .1 .9 .2 .9 .3 .9 .4 .9 .7 .9 .8 .9 1.1 .9 .9 .8 .9 .9 .6 .9 .6 .9 .5 .9 .3 .9 .3 .9 0 .9-.2 .9-.3 .9-.2 .9-.1 .9 .1 .9-.1 .9-.2 .9-.1 .9-.1 .9-.1 .9 .1 .9 .2 .9 .1 .9 .1 .9-.1 .9-.2 .9-.2 .9 0 .9 .1 .9 .2 .9 .1 .9 0 .9 0 .9 0 .9 0 .9-.1 .9-.1 .8 .1 .9 .1 .9 .1 .9 0 .9 0 .9 0 .9 .1 .9 .3 .9 .3 .9 .2 .9 0 .9-.1 .9-.2 .9-.2 .9-.1 .9-.1 .9 0 .9 0 .9 0 .9 .1 .9 0 .9 .1 .9-.1 .9-.2 .9-.3 .9-.4 .9-.3 .9 .1 .9 .2 .9 .2 .9 .1 .9 .1 .9 .2 .8 .2 .9 .1 .9 .1 .9 0 .9-.2 .9-.1 .9-.1 .9-.1 .9-.1 .9 0 .9 .1 .9 .2 .9 .1 .9 .2 .9 .2 .9 .2 .9 .1 .9 0 .9-.2 .9-.3 .9-.4 .9-.1 .9 0 .9 .2 .9 .1 .9 .2 .9 .2 .9 .1 .9 .2 .9 0 .9-.1 .9-.2 .9-.3 .8-.1 .9 0 .9 .1 .9 0 .9-.2 .9-.3 .9-.4 .9-.1 .9 0 .9 .2 .9 .1 .9 0 .9 0 .9 0 .9 0 .9 .1 .9 .1 .9 .2 .9 .2 .9-.1 .9-.3 .9-.5 .9-.4 .9-.2 .9 .1 .9 .3 .9 .3 .9 .2 .9 0 .9 0 .9-.2 .9-.2 .9-.2 .9-.3 .8-.2 .9-.2 .9 0 .9 0 .9 .2 .9 .2 .9 0 .9-.1 .9-.2 .9-.1 .9-.1 .9-.1 .9 0 .9 .1 .9 .1 .9 .1 .9 .1 .9 .1 .9-.1 .9 0 .9-.2 .9-.1 .9-.2 .9-.1 .9 0 .9 .1 .9 .3 .9 .4 .9 .4 .9 .3 .9 .1 .9-.1 .9-.3 .8-.3 .9-.3 .9-.3 .9-.1 .9-.1 .9 .1 .9 .1 .9 .2 .9 .2 .9 .2 .9 0 .9-.2 .9-.3 .9-.4 .9-.3 .9-.1 .9 .2 .9 .2 .9 .1 .9 0 .9 0 .9 .1 .9 .1 .9 .2 .9 .2 .9 .1 .9-.1 .9-.1 .9-.2 .9-.2 .9 0 .9 .1 .9 .3 .8 .2 .9 .2 .9-.1 .9-.1 .9 0 .9 0 .9 0 .9 0 .9 0 .9-.1 .9 0 .9 .1 .9 .1 .9 .2 .9 .1 .9 0 .9 0 .9 .1 .9 .2 .9 .1 .9 0 .9 .1 .9 0 .9 0 .9-.1 .9-.1 .9-.2 .9-.2 .9-.2 .9-.1 .9 0 .9 .1 .9-.1 .9 0" fill="none" stroke="#8E8E8E" stroke-width="2.0" stroke-opacity="0.85" stroke-linejoin="round" stroke-linecap="round"/><path d="M271.1 161.9l.9-3 .9-2.7 .9-2.4 .9-2.2 .9-2.2 .9-2.1 .9-1.2 .9-.2 .9 .2 .9 .4 .9 .5 .9 .7 .9 .7 .9 1 .9 1.2 .9 1.1 .8 .9 .9 .5 .9 .2 .9-.1 .9-.2 .9-.1 .9-.2 .9 0 .9 0 .9 .1 .9 .4 .9 .3 .9 .3 .9 .1 .9 .1 .9 0 .9 .1 .9 .1 .9 .2 .9 .2 .9 .2 .9 .1 .9-.1 .9-.1 .9-.2 .9 0 .9-.1 .9 .1 .9-.1 .9-.1 .9-.2 .9-.2 .9-.2 .9-.2 .8 0 .9 .2 .9 .2 .9 .2 .9 .1 .9 .1 .9 .1 .9 0 .9-.1 .9-.1 .9-.1 .9-.1 .9-.2 .9 0 .9 .1 .9 .1 .9 0 .9 0 .9-.1 .9 .1 .9 .1 .9 .2 .9 .1 .9 0 .9-.2 .9-.2 .9-.2 .9-.1 .9 .1 .9 .1 .9 .1 .9-.1 .9-.1 .8-.1 .9 0 .9 0 .9 0 .9 0 .9-.1 .9-.2 .9-.2 .9-.1 .9 0 .9 .1 .9 .2 .9 .1 .9 .1 .9 .2 .9 .1 .9 .2 .9 .1 .9 0 .9-.2 .9-.4 .9-.3 .9-.2 .9 0 .9 .1 .9 .3 .9 .3 .9 .3 .9 0 .9-.2 .9-.3 .9-.4 .9-.3 .8-.2 .9 .1 .9 .2 .9 .3 .9 .2 .9 0 .9-.1 .9-.3 .9-.2 .9-.1 .9 0 .9 .1 .9-.1 .9-.1 .9-.2 .9 0 .9 0 .9 .2 .9 .2 .9 .1 .9 0 .9-.1 .9-.2 .9-.3 .9-.2 .9-.1 .9 .1 .9 .1 .9 0 .9 0 .9-.2 .9-.4 .9-.4 .9-.4 .8-.2 .9 .1 .9 .4 .9 .5 .9 .3 .9 .1 .9 0 .9 0 .9-.1 .9-.1 .9 .1 .9 .1 .9 .2 .9 .2 .9 .3 .9 .3 .9 .2 .9 0 .9-.1 .9-.2 .9-.3 .9-.3 .9-.3 .9-.1 .9 0 .9 0 .9 .1 .9 0 .9 .1 .9 0 .9 0 .9-.2 .9-.3 .8-.1 .9 0 .9 .2 .9 .1 .9-.1 .9-.2 .9-.3 .9-.2 .9 0 .9 .1 .9 .2 .9 .1 .9 .1 .9 .1 .9-.1 .9-.1 .9-.2 .9-.1 .9-.1 .9 0 .9 .2 .9 .1 .9 .2 .9 .1 .9 .1 .9 .1 .9 0 .9-.1 .9 0 .9 .1 .9 .1 .9 .2 .9 .2 .8 0 .9 0 .9-.1 .9 0 .9 .1 .9 .2 .9 .1 .9 .1 .9-.1 .9-.2 .9-.2 .9-.1 .9-.2 .9-.1 .9-.1 .9-.1 .9-.1 .9-.2 .9-.2 .9 0 .9 .1 .9 .2 .9 .1 .9 .1 .9 0 .9 .1 .9 .1 .9 .2 .9 .1 .9 0 .9 0 .9-.1 .9-.1 .9-.1" fill="none" stroke="#7AC8BE" stroke-width="2.0" stroke-opacity="0.85" stroke-linejoin="round" stroke-linecap="round"/><path d="M271.1 159.9l.9-7.6 .9-14.1 .9-21.1 .9-21 .9-16.8 .9-8.8 .9-2.3 .9 4 .9 7.4 .9 8.2 .9 8.1 .9 6.1 .9 4.7 .9 3.8 .9 3.3 .9 2.9 .8 2.2 .9 2 .9 1.8 .9 .8 .9-.2 .9-.7 .9-.9 .9-.5 .9 0 .9 .2 .9 .5 .9 .5 .9 .4 .9 .2 .9-.1 .9-.2 .9-.3 .9-.3 .9-.3 .9-.3 .9-.2 .9 .1 .9 .2 .9 .3 .9 .3 .9 .1 .9 0 .9 0 .9 .1 .9 .3 .9 .4 .9 .2 .9 0 .9 0 .8 0 .9 .1 .9 .3 .9 .3 .9 .1 .9 0 .9-.1 .9 0 .9 .1 .9 .1 .9 0 .9-.2 .9-.3 .9-.4 .9-.4 .9-.5 .9-.4 .9-.4 .9-.3 .9-.3 .9-.2 .9-.2 .9 .1 .9 .2 .9 .2 .9 .1 .9 0 .9 .1 .9 0 .9 .1 .9 0 .9-.1 .9-.2 .8 0 .9 .2 .9 .2 .9 0 .9-.1 .9-.2 .9-.2 .9-.1 .9 .1 .9 0 .9 0 .9 .1 .9 .2 .9 .4 .9 .4 .9 .2 .9 .1 .9 .1 .9 0 .9 0 .9 0 .9 0 .9-.2 .9-.3 .9-.1 .9 0 .9 .1 .9 .1 .9 .2 .9 .2 .9 .2 .9 .2 .9 .1 .8 .1 .9 .1 .9 .2 .9 .3 .9 .3 .9 .3 .9 .2 .9 0 .9-.2 .9-.3 .9-.1 .9 0 .9 .3 .9 .4 .9 .5 .9 .3 .9 .1 .9-.1 .9-.2 .9-.3 .9-.2 .9-.2 .9-.2 .9-.2 .9-.4 .9-.5 .9-.5 .9-.4 .9-.3 .9-.2 .9-.2 .9-.1 .9 .1 .9 .2 .8 .2 .9-.1 .9-.1 .9-.1 .9-.2 .9-.3 .9-.2 .9-.1 .9 .1 .9 .3 .9 .3 .9 .2 .9 0 .9-.2 .9-.2 .9-.2 .9-.1 .9 0 .9 .1 .9 .2 .9 .1 .9 .2 .9 .2 .9 .1 .9 .1 .9 0 .9-.3 .9-.3 .9-.4 .9-.3 .9-.1 .9 .1 .9 .1 .8 .3 .9 .3 .9 .4 .9 .2 .9 0 .9-.2 .9-.3 .9-.2 .9 0 .9 .2 .9 .3 .9 .2 .9 .1 .9-.1 .9-.1 .9-.1 .9-.2 .9-.3 .9-.3 .9-.3 .9 0 .9 .2 .9 .3 .9 .2 .9 .2 .9 0 .9 0 .9 .2 .9 .2 .9 .2 .9 .1 .9 0 .9 0 .8 0 .9 .1 .9 .2 .9 .2 .9 .4 .9 .6 .9 .6 .9 .4 .9 .1 .9-.1 .9-.2 .9 0 .9 .1 .9 .1 .9 0 .9 .1 .9 0 .9 0 .9 .1 .9 .2 .9 .2 .9 .1 .9-.1 .9 0 .9-.1 .9-.2 .9-.2 .9-.4 .9-.4 .9-.5 .9-.5 .9-.5 .9-.3 .9-.4" fill="none" stroke="#F6705F" stroke-width="2.4" stroke-opacity="1.0" stroke-linejoin="round" stroke-linecap="round"/></g><rect x="271.5" y="43.5" width="224.0" height="134.0" fill="none" stroke="#a8a8a8" stroke-width="1"/><line x1="271.1" y1="177.5" x2="271.1" y2="179.0" stroke="#777" stroke-width="0.8"/><text x="271.1" y="186.8" text-anchor="middle" class="tk">0</text><line x1="315.95" y1="177.5" x2="315.95" y2="179.0" stroke="#777" stroke-width="0.8"/><text x="314.75" y="186.8" text-anchor="middle" class="tk">500</text><line x1="360.8" y1="177.5" x2="360.8" y2="179.0" stroke="#777" stroke-width="0.8"/><text x="360.8" y="186.8" text-anchor="middle" class="tk">1000</text><line x1="405.65" y1="177.5" x2="405.65" y2="179.0" stroke="#777" stroke-width="0.8"/><text x="405.65" y="186.8" text-anchor="middle" class="tk">1500</text><line x1="450.5" y1="177.5" x2="450.5" y2="179.0" stroke="#777" stroke-width="0.8"/><text x="449.2" y="186.8" text-anchor="middle" class="tk">2000</text><text x="460.2" y="186.8" class="tk it">[Iter.]</text><line x1="270.0" y1="172.26" x2="271.5" y2="172.26" stroke="#777" stroke-width="0.8"/><text x="268.0" y="176.26" text-anchor="end" class="tk">0.00</text><line x1="270.0" y1="151.61" x2="271.5" y2="151.61" stroke="#777" stroke-width="0.8"/><text x="268.0" y="155.61" text-anchor="end" class="tk">0.02</text><line x1="270.0" y1="130.96" x2="271.5" y2="130.96" stroke="#777" stroke-width="0.8"/><text x="268.0" y="134.96" text-anchor="end" class="tk">0.04</text><line x1="270.0" y1="110.31" x2="271.5" y2="110.31" stroke="#777" stroke-width="0.8"/><text x="268.0" y="114.31" text-anchor="end" class="tk">0.06</text><line x1="270.0" y1="89.66" x2="271.5" y2="89.66" stroke="#777" stroke-width="0.8"/><text x="268.0" y="93.66" text-anchor="end" class="tk">0.08</text><line x1="270.0" y1="69.01" x2="271.5" y2="69.01" stroke="#777" stroke-width="0.8"/><text x="268.0" y="73.01" text-anchor="end" class="tk">0.10</text><line x1="270.0" y1="48.36" x2="271.5" y2="48.36" stroke="#777" stroke-width="0.8"/><text x="268.0" y="52.36" text-anchor="end" class="tk">0.12</text><text x="383.8" y="198.8" text-anchor="middle" class="tt">(b) Mean Mirror Cost</text><rect x="19.5" y="207.5" width="226.0" height="134.0" fill="#ffffff"/><line x1="19.4" y1="207.5" x2="19.4" y2="341.5" stroke="#ebebeb" stroke-width="0.8"/><line x1="64.5" y1="207.5" x2="64.5" y2="341.5" stroke="#ebebeb" stroke-width="0.8"/><line x1="109.6" y1="207.5" x2="109.6" y2="341.5" stroke="#ebebeb" stroke-width="0.8"/><line x1="154.7" y1="207.5" x2="154.7" y2="341.5" stroke="#ebebeb" stroke-width="0.8"/><line x1="199.8" y1="207.5" x2="199.8" y2="341.5" stroke="#ebebeb" stroke-width="0.8"/><line x1="19.5" y1="334.2" x2="245.5" y2="334.2" stroke="#ebebeb" stroke-width="0.8"/><line x1="19.5" y1="310.86" x2="245.5" y2="310.86" stroke="#ebebeb" stroke-width="0.8"/><line x1="19.5" y1="287.52" x2="245.5" y2="287.52" stroke="#ebebeb" stroke-width="0.8"/><line x1="19.5" y1="264.18" x2="245.5" y2="264.18" stroke="#ebebeb" stroke-width="0.8"/><line x1="19.5" y1="240.84" x2="245.5" y2="240.84" stroke="#ebebeb" stroke-width="0.8"/><line x1="19.5" y1="217.5" x2="245.5" y2="217.5" stroke="#ebebeb" stroke-width="0.8"/><g clip-path="url(#cc)"><path d="M19.4 332.5l.9-.5 .9-.4 .9-1.5 .9-4.2 .9-5.4 .9-6.3 .9-11.3 .9-13.9 .9-12.7 .9-10 .9-11.5 .9-11.9 .9-6.8 .9-1.5 .9-.9 .9-2.1 .9-1.6 .9-1.4 .9-.9 .9 .2 .9 .7 .9-.3 .9-1.6 .9-1.4 1-.3 .9-1 .9 1.3 .9 1.2 .9-3.2 .9-2.8 .9 1.1 .9 1.3 .9-.3 .9 0 .9 1.5 .9 .1 .9-.7 .9-1.2 .9-.4 .9-.4 .9-.7 .9-2.4 .9 .5 .9 1.7 .9 .1 .9-.7 .9-1.3 .9 .2 .9-.1 .9 .4 .9 .4 .9-.4 .9-1.4 .9-.6 .9 .8 .9 .2 .9-.1 .9 .2 .9 1.2 .9 .7 .9-.7 .9-.4 .9-.1 .9-.3 .9-.7 .9 .6 .9 2 .9 .2 .9-1.5 .9 .9 .9-1.3 .9-2.1 .9-.4 .9 1.4 1 2 .9 .9 .9-.9 .9-1.3 .9-.2 .9-2.5 .9 1 .9 3.8 .9-.6 .9-2.8 .9-1.8 .9 .9 .9 1.3 .9 2.1 .9 .4 .9-2.4 .9-1.3 .9 2.2 .9 1 .9-.5 .9-.4 .9-1.1 .9 1.2 .9 2.2 .9-.1 .9-1.7 .9-1.4 .9 .9 .9 .3 .9-1.2 .9-.8 .9-1.1 .9 1.5 .9 1 .9 1 .9-.3 .9-2.9 .9-.1 .9 .8 .9-.8 .9-.9 .9 2 .9 1.7 .9-.4 .9-1.1 .9-.3 .9-.9 .9 .1 .9 .8 .9 1 1 .2 .9 .3 .9-.5 .9-.9 .9-.1 .9 .3 .9 .7 .9 0 .9-1 .9 .3 .9 3 .9-.1 .9 .3 .9 .1 .9-1.1 .9-1.4 .9-1.8 .9-2.1 .9 1 .9 1.6 .9-.2 .9-.1 .9 1.8 .9 1.1 .9-.9 .9-1.6 .9-.7 .9 0 .9 .6 .9 1.7 .9 .2 .9 .1 .9-.5 .9-1.4 .9-.5 .9 .4 .9 0 .9-.5 .9 .8 .9 1.7 .9 .5 .9-.5 .9-.3 .9 .2 .9-.2 .9-.6 .9-.3 .9-.4 .9 .3 .9 1.6 .9 .4 1-1.7 .9-1.2 .9 .3 .9 .4 .9-.4 .9 .6 .9 .5 .9 .7 .9 .1 .9-2.4 .9-.6 .9 1.3 .9 .9 .9-1.2 .9-1.1 .9 1.1 .9 2.6 .9 .4 .9-.5 .9-.7 .9-.3 .9-.4 .9-.5 .9 .8 .9 .8 .9 .5 .9-.5 .9-.5 .9 .3 .9-1.2 .9-1.2 .9-.5 .9 2.6 .9 1.4 .9-2.1 .9-2.4 .9-.1 .9 .8 .9 1.1 .9 2.6 .9 1.4 .9-.7 .9-1.4 .9-.1 .9 .2 .9-.3 .9-.8 .9-.2 .9-.5 1 .2 .9-.1 .9 .9 .9-.3 .9 .6 .9 1.7 .9 .1 .9-1.9 .9-.3 .9 .6 .9 .1 .9-1.2 .9-.1 .9 .7 .9-.4 .9-.3 .9 0 .9-.4 .9 .1 .9-.1 .9-.3 .9 .2 .9-.6 .9-.6 .9 1.2 .9 1L244.9 219l-.9 .1 -.9 2.7 -.9 1.8 -.9-1.3 -.9 0 -.9-.1 -.9-.5 -.9 .8 -.9-1 -.9-.8 -.9-.2 -.9-1 -.9-.8 -.9 1.3 -.9 .3 -.9-1.8 -.9-1 -.9 1 -.9 2.2 -.9 1.7 -.9 1.8 -.9 0 -.9-1.3 -.9-.1 -.9-.4 -1-.5 -.9-.9 -.9-.9 -.9 0 -.9 0 -.9 .7 -.9 1 -.9 .3 -.9 .3 -.9 .4 -.9-1.1 -.9-.9 -.9-.9 -.9-1.4 -.9 1.1 -.9 1.3 -.9-.4 -.9-.1 -.9 1.6 -.9 1 -.9 .8 -.9-.7 -.9-1.4 -.9 .3 -.9 .3 -.9-1.2 -.9-1.2 -.9 0 -.9 .9 -.9-1.2 -.9 .1 -.9 1.4 -.9-1.1 -.9-.8 -.9 0 -.9-.1 -.9 1.9 -.9 2 -.9 .8 -.9-.5 -.9 .3 -.9-.2 -.9 .5 -.9-.5 -.9-1.7 -.9-1.7 -.9-2.4 -.9 .3 -.9 1.8 -1 1.3 -.9 1 -.9 .4 -.9 .7 -.9 0 -.9 .8 -.9 0 -.9-.9 -.9-.6 -.9-.4 -.9 .6 -.9 0 -.9-1.8 -.9-2.1 -.9 .9 -.9-.1 -.9 .8 -.9 1.7 -.9 1 -.9 1 -.9-.8 -.9-1.9 -.9-.6 -.9-.8 -.9 1 -.9 .4 -.9 1.8 -.9 1.7 -.9-.5 -.9-1.4 -.9-2.3 -.9-.1 -.9 1.2 -.9 0 -.9-.6 -.9-.3 -.9 1 -.9 1 -.9 .4 -.9-.8 -.9 .2 -.9 .2 -.9-.8 -.9 .9 -.9-.2 -.9-1.5 -.9-1.5 -.9 2.1 -.9 2.1 -.9 0 -.9-1.4 -1-2.5 -.9 .4 -.9 1 -.9-.9 -.9-.2 -.9 1.1 -.9 2.8 -.9-.2 -.9-1.5 -.9-1.6 -.9 .5 -.9-.3 -.9-1.4 -.9 2.6 -.9 1.6 -.9-.8 -.9-1.4 -.9 .8 -.9-1.1 -.9 .5 -.9 .3 -.9-.5 -.9-1 -.9 .8 -.9 1 -.9-1.3 -.9 0 -.9 3 -.9 1.7 -.9-.2 -.9-.3 -.9-.8 -.9-1.6 -.9 .4 -.9 .7 -.9 .5 -.9-.2 -.9 0 -.9-1.5 -.9-.6 -.9 .5 -.9 .3 -.9-.8 -.9 .5 -.9-.9 -.9-.6 -.9 .3 -.9 0 -.9 1.8 -.9 1.6 -1-.4 -.9-1.1 -.9 .6 -.9 .5 -.9 .3 -.9 1.2 -.9-.2 -.9-2.3 -.9-.7 -.9 .6 -.9 .7 -.9-.9 -.9 .7 -.9 2 -.9 1.1 -.9 0 -.9-.7 -.9-.7 -.9 .3 -.9 .2 -.9 0 -.9 .7 -.9-.5 -.9 .1 -.9 1.3 -.9 0 -.9-.3 -.9-.7 -.9-1 -.9 .5 -.9 .2 -.9 0 -.9 .9 -.9 1.4 -.9 .4 -.9 .7 -.9 1.4 -.9 .5 -.9 .7 -.9-1.1 -.9-1 -.9 1.8 -.9 2.4 -.9 .6 -.9-.2 -.9 .5 -.9-1.8 -.9 .5 -.9 2.8 -.9 2.1 -1 .5 -.9-1.2 -.9-.8 -.9 .2 -.9 .9 -.9 2.5 -.9 2.3 -.9 2.3 -.9 1.2 -.9 1.8 -.9 2 -.9 .7 -.9 6 -.9 9.3 -.9 11.4 -.9 10.5 -.9 11.4 -.9 11.1 -.9 9 -.9 7.5 -.9 4.9 -.9 3.6 -.9 .6 -.9-.1 -.9 .2Z" fill="#6A9FCB" fill-opacity="0.22" stroke="none"/><path d="M19.4 332.2l.9 1 .9-1 .9-2.2 .9-1 .9-3.3 .9-8.6 .9-11.5 .9-12.3 .9-12.1 .9-11.4 .9-12.9 .9-10.2 .9-4.5 .9 .1 .9-.6 .9-1.3 .9-2.8 .9-2.7 .9-2.2 .9-1.2 .9-.8 .9 0 .9-.4 .9 .3 1 .7 .9-1.5 .9-.7 .9 .6 .9 .6 .9 .9 .9-.3 .9 .4 .9 0 .9-2.5 .9-1.1 .9 1.1 .9-.3 .9-2.4 .9-1.5 .9 .9 .9-.9 .9-1.3 .9 1 .9 1.4 .9-.1 .9-1.1 .9 0 .9-.2 .9-2.7 .9-1 .9 1.5 .9 1.5 .9-.7 .9 .4 .9 .2 .9-1.5 .9-1.3 .9 0 .9 .4 .9-.1 .9-1 .9 .7 .9-.2 .9-1.5 .9-1.4 .9-.6 .9 2.8 .9 2.6 .9 .2 .9-1.4 .9-.2 .9 1.8 .9-.6 .9-1.2 1-1.4 .9-.6 .9 .1 .9 .7 .9 .3 .9-.4 .9-1.7 .9-1.4 .9 0 .9 0 .9 .6 .9 1.8 .9-.2 .9 .9 .9 1 .9-.8 .9 .4 .9-1.4 .9-2 .9 1.1 .9 0 .9 0 .9 .2 .9 .6 .9 .8 .9-.1 .9 1.8 .9 1.3 .9-.6 .9-2.6 .9-2.8 .9 .7 .9 .3 .9 1.6 .9 .3 .9-2 .9 0 .9 .6 .9 1.4 .9 1.7 .9-1.6 .9-1.9 .9 1.7 .9 1.8 .9 .6 .9-1.1 .9-.5 .9-.5 .9-1.3 .9-1 1 .8 .9 2 .9 .9 .9 .1 .9-.7 .9-.3 .9 0 .9-1.9 .9 .2 .9 .5 .9 1.7 .9-.3 .9-1.2 .9 .1 .9-1.1 .9-.2 .9 1.5 .9 1.3 .9 .4 .9 .6 .9-1 .9-2.1 .9-.6 .9 1.4 .9 1.2 .9-.2 .9-.8 .9 .4 .9 1.7 .9-.8 .9-.2 .9 .8 .9 .6 .9 1 .9-.9 .9-1.3 .9-.9 .9-.5 .9-.8 .9-2.1 .9-.4 .9 1.3 .9 .8 .9 .7 .9-.3 .9-.5 .9-.8 .9 .5 .9 .6 .9-.5 .9 .6 1 .3 .9-1 .9-1.2 .9 .3 .9-.2 .9 .2 .9 .3 .9 .6 .9 .4 .9 .5 .9 .4 .9-.3 .9 .3 .9-1.1 .9-.1 .9-.4 .9-1.1 .9 .9 .9 .2 .9-.2 .9 .5 .9 0 .9-.7 .9 .5 .9 1.8 .9 .6 .9-.8 .9-.8 .9-1.2 .9 .5 .9 3 .9 .6 .9-.1 .9 0 .9-2.8 .9-1.8 .9 .3 .9 .5 .9 1.1 .9 1.9 .9-.4 .9-.7 .9-.1 .9 1.5 .9-.2 .9-2.1 .9-.6 .9 3.1 .9 2.7 1-1.6 .9-1.4 .9-2 .9-.3 .9-.3 .9 0 .9 1.7 .9 1.6 .9-.8 .9-1.2 .9 .4 .9-.2 .9-.7 .9 1.4 .9 1.1 .9 .3 .9-1.4 .9-2.5 .9 0 .9 .1 .9-.4 .9-1 .9-.4 .9 2 .9 2 .9-.2L244.9 222.8l-.9 1.5 -.9 .1 -.9-.4 -.9-1.3 -.9-.4 -.9 .3 -.9 0 -.9-1 -.9 .5 -.9-.7 -.9 1.2 -.9 1.5 -.9 0 -.9-1.1 -.9 1.1 -.9 .9 -.9-.2 -.9-1.4 -.9-1.9 -.9-.9 -.9 1 -.9 .6 -.9-1.1 -.9-.7 -.9 .4 -1 1.1 -.9 2 -.9-.1 -.9-.7 -.9 .5 -.9 1.8 -.9 1 -.9-.6 -.9-1.1 -.9-1.5 -.9-1.4 -.9-.4 -.9 1.1 -.9-.4 -.9 .7 -.9 1.5 -.9 1.6 -.9-1.9 -.9-.1 -.9 0 -.9-.1 -.9 .2 -.9-.5 -.9-1.2 -.9-.7 -.9 1.6 -.9-.5 -.9-.5 -.9 1.3 -.9 0 -.9 .3 -.9 .7 -.9 .4 -.9 .4 -.9-1.1 -.9-2 -.9 1.3 -.9 1.7 -.9-.7 -.9 .7 -.9 .1 -.9-3.6 -.9-1.3 -.9 1.1 -.9 3.3 -.9 .7 -.9-2.2 -.9-1.7 -.9 .9 -1 .8 -.9 .4 -.9-1.7 -.9-.4 -.9 1.7 -.9 1.1 -.9-.8 -.9 1.1 -.9 .8 -.9-1 -.9-1.7 -.9 1.3 -.9 1.6 -.9-1 -.9-.7 -.9 .8 -.9 .5 -.9 .4 -.9 1 -.9 .6 -.9-1.2 -.9-1.3 -.9 1.8 -.9 2.3 -.9-1.1 -.9-1.9 -.9-1.1 -.9-.9 -.9 1.4 -.9-.6 -.9 .6 -.9 .4 -.9-1.5 -.9 0 -.9 1.2 -.9-.4 -.9-.3 -.9-1.1 -.9-2.4 -.9-.3 -.9 3.1 -.9 2.1 -.9-.2 -.9-.4 -.9 1.1 -.9-.1 -.9-2 -.9-.2 -.9 2.3 -.9 .4 -.9-1.3 -1-.4 -.9 1.4 -.9 .3 -.9 .1 -.9-1.3 -.9-.8 -.9-.2 -.9 .7 -.9 1.1 -.9 1 -.9 1.1 -.9-2 -.9-2.2 -.9 1.2 -.9 2.5 -.9 1.6 -.9-.2 -.9-1.6 -.9-1.5 -.9-.2 -.9 1.3 -.9 .9 -.9 .9 -.9-.4 -.9-1.1 -.9-.5 -.9-.9 -.9-.3 -.9 .8 -.9 1.4 -.9-.4 -.9-1.1 -.9 1.6 -.9 .8 -.9 .1 -.9 .7 -.9-1.3 -.9-.5 -.9 2.6 -.9 0 -.9-2.8 -.9-1 -.9 2 -.9 1.1 -.9-.8 -.9-1.5 -.9 2.8 -.9 1.5 -.9-2.2 -.9 1.4 -1 2.3 -.9 .6 -.9 1.3 -.9 1.3 -.9-.1 -.9-1.1 -.9-.7 -.9-1.6 -.9-1.1 -.9-1.5 -.9 .9 -.9 0 -.9 .2 -.9 2.8 -.9 1.9 -.9-.3 -.9-.4 -.9-.3 -.9 1.9 -.9 .3 -.9 0 -.9 .6 -.9-.3 -.9-1.6 -.9-.7 -.9-.1 -.9 .6 -.9 .9 -.9-1.3 -.9 1 -.9 2.1 -.9-.5 -.9-.5 -.9 1 -.9 .7 -.9 1.5 -.9 2 -.9-1.8 -.9-1 -.9-.1 -.9 .3 -.9 1.8 -.9 1.2 -.9 .5 -.9-.2 -.9-.4 -.9 .2 -.9 .4 -.9 .4 -.9 .2 -1 .3 -.9 .6 -.9 .9 -.9 1.2 -.9 .1 -.9 1.1 -.9 1.2 -.9-.6 -.9 1.9 -.9 4.8 -.9 2.6 -.9-2 -.9 2.5 -.9 10.6 -.9 11.6 -.9 10.7 -.9 11.1 -.9 11 -.9 9.9 -.9 8.9 -.9 2.1 -.9-1 -.9 1.3 -.9 1 -.9-2Z" fill="#B2A8DB" fill-opacity="0.22" stroke="none"/><path d="M19.4 331.4l.9 1.2 .9-.6 .9-2 .9-.9 .9-3.2 .9-8.7 .9-10.6 .9-10.1 .9-12.3 .9-11.5 .9-10.9 .9-10.8 .9-6.2 .9-.9 .9-1.2 .9-.6 .9-.1 .9 .3 .9 .1 .9 .6 .9-.6 .9-1.4 .9 .4 .9 1.6 1-1.6 .9-3 .9-1.4 .9 .5 .9-1.1 .9 .1 .9 .1 .9-2.6 .9-1.6 .9 .8 .9 .2 .9-3.3 .9-2 .9 1.9 .9 1.4 .9-1.5 .9-2.5 .9-1.7 .9 2 .9 .7 .9-2.1 .9-1.5 .9-.7 .9-.5 .9-.9 .9 .7 .9 1.3 .9 .4 .9 1.5 .9 0 .9-.3 .9 .4 .9-1 .9-3 .9-.2 .9 1 .9 .1 .9-2.5 .9-1.7 .9-.6 .9 1.3 .9 1.2 .9-.8 .9-.3 .9 .6 .9 1.4 .9 .8 .9-.4 .9-1.6 .9 1.2 1 1.3 .9 .5 .9-.7 .9-2.4 .9-2.5 .9-1.1 .9 1.3 .9 2.4 .9 .5 .9 .5 .9 .5 .9-1 .9-1.5 .9-.4 .9 1.1 .9 .6 .9 0 .9-.5 .9 1.8 .9 2.1 .9 .3 .9-1.9 .9-.5 .9-1.5 .9-2.8 .9 0 .9 .8 .9 1 .9-.5 .9-.8 .9 1.8 .9 .4 .9 .4 .9 .6 .9-2.4 .9-1.5 .9-.4 .9-.4 .9 .6 .9 .2 .9-.2 .9-.4 .9 0 .9 .9 .9 1.8 .9 1 .9 .9 .9-.7 .9-1 .9-2.1 1-.5 .9 .5 .9 .6 .9-.1 .9-.6 .9-1.1 .9 .2 .9-.6 .9 1.4 .9 2.7 .9 2.1 .9 .6 .9-.9 .9-1.8 .9-1.4 .9-1.7 .9-1.8 .9 .6 .9 1.4 .9 .3 .9 .6 .9 2.8 .9 .3 .9-.7 .9-2.3 .9-1.5 .9 .7 .9 .8 .9-.4 .9-.5 .9-.3 .9 .2 .9 .3 .9 .7 .9-.9 .9-1 .9 2 .9 1.1 .9-1.8 .9-.8 .9 0 .9-.2 .9 .1 .9 1.1 .9 3 .9 .8 .9-.4 .9-1.8 .9-1.2 .9 .5 .9 .4 1 .2 .9-1.3 .9 .3 .9 1.4 .9 1.1 .9 0 .9 .8 .9 1 .9 0 .9-1 .9-1.6 .9 .1 .9-.5 .9-.7 .9-.2 .9 .2 .9-.8 .9-1 .9 .1 .9 .4 .9-.8 .9 .1 .9 0 .9 .9 .9 1.3 .9 .5 .9 .3 .9-.2 .9 .7 .9 1.1 .9-1.8 .9-1.5 .9-.4 .9 2 .9 .7 .9 0 .9 .9 .9 .3 .9-2.6 .9-1.6 .9-.3 .9 1.5 .9-.2 .9 .7 .9 1.8 .9 1.8 .9 .3 .9-2 .9-3.2 1-1.1 .9 1.3 .9 1.2 .9 .8 .9 .9 .9 1.1 .9-.5 .9-1.3 .9-.9 .9-1.1 .9-1.5 .9 .2 .9 1.5 .9 1.3 .9 .6 .9 1.5 .9-1.5 .9-.7 .9-.2 .9-.9 .9-.2 .9 .7 .9 .3 .9-.2 .9-.1 .9 2.7L244.9 226.4l-.9-1.1 -.9-.7 -.9 0 -.9 0 -.9 .1 -.9-.1 -.9 1.6 -.9 1.7 -.9-1.3 -.9-.2 -.9 1.1 -.9-2.3 -.9-1.6 -.9-.6 -.9 0 -.9 .4 -.9 .9 -.9 .8 -.9-.6 -.9 1 -.9 .5 -.9-1.9 -.9-.6 -.9-.5 -.9 .7 -1 1.5 -.9-.2 -.9 .1 -.9-.5 -.9 .3 -.9 .8 -.9 1.6 -.9-.1 -.9-2.3 -.9-1.2 -.9 .6 -.9-.6 -.9 1.5 -.9 2.9 -.9 .2 -.9-1.3 -.9-1.1 -.9-1.2 -.9-.4 -.9 2.3 -.9 2.4 -.9 .1 -.9 .2 -.9-1.2 -.9-2 -.9-2.7 -.9-.8 -.9 .1 -.9-.6 -.9-1 -.9-.6 -.9-.3 -.9 .5 -.9 1.6 -.9-1.2 -.9-.5 -.9 1.7 -.9 2.3 -.9 .3 -.9-1.1 -.9 .8 -.9 1 -.9-.5 -.9-.8 -.9 1.7 -.9-.5 -.9-1.3 -.9 .3 -.9-.3 -1-.8 -.9 1.3 -.9 2.3 -.9 1.8 -.9 .1 -.9-1.6 -.9-.6 -.9-1.3 -.9-.6 -.9 1.2 -.9 .2 -.9 0 -.9 .3 -.9 1.3 -.9-.1 -.9-1.7 -.9-1.3 -.9-.8 -.9-.6 -.9 .5 -.9 2.6 -.9 1.3 -.9-.7 -.9-1.3 -.9-1.3 -.9 .9 -.9 2.1 -.9 1 -.9 .2 -.9-1 -.9-2 -.9 .1 -.9 .2 -.9 1.1 -.9-1.7 -.9-2 -.9 .6 -.9 1.3 -.9 2.3 -.9-1.1 -.9-3.1 -.9-1 -.9 .2 -.9 .6 -.9 2.3 -.9 2.6 -.9 .1 -.9-.4 -.9 .1 -.9 .4 -.9 1.4 -1 .8 -.9-2.4 -.9-2.8 -.9 1.2 -.9 2 -.9 .4 -.9-1.3 -.9 1.5 -.9 .9 -.9 0 -.9-2.1 -.9-.4 -.9 1 -.9 0 -.9 .6 -.9 .5 -.9 0 -.9-.7 -.9-1.1 -.9 0 -.9 0 -.9-.3 -.9 1.1 -.9 .5 -.9 .5 -.9 1.1 -.9 2.7 -.9 .4 -.9-.9 -.9 .3 -.9 .3 -.9 1.9 -.9 .3 -.9-2.1 -.9-1.4 -.9 .6 -.9 .8 -.9-1.1 -.9-.7 -.9 .9 -.9 2.4 -.9 .4 -.9-.7 -.9 .6 -.9 .4 -.9-.4 -.9 .4 -.9 .5 -.9 .6 -.9-.2 -1-1.4 -.9 .2 -.9 .7 -.9 .1 -.9 0 -.9 0 -.9-.6 -.9 1.5 -.9 .9 -.9-.6 -.9-.3 -.9-.9 -.9 .7 -.9 .8 -.9 .4 -.9 2.2 -.9 1.7 -.9-.6 -.9-2 -.9-.5 -.9 1.6 -.9 .9 -.9 0 -.9 .4 -.9-.5 -.9-1 -.9-1 -.9 .9 -.9 2.2 -.9 2.6 -.9 .3 -.9-.7 -.9-.6 -.9 1 -.9 2.8 -.9-1.3 -.9-.4 -.9 1.9 -.9-.1 -.9-.1 -.9 .5 -.9-.6 -.9-.4 -.9 2.2 -.9 2.5 -.9 2 -.9 .7 -.9-1.1 -.9 .5 -.9 .7 -1 0 -.9 .2 -.9 .2 -.9-.2 -.9 .2 -.9 .2 -.9-.8 -.9 .7 -.9 2.1 -.9 1.5 -.9 .1 -.9 .9 -.9 3.4 -.9 7.9 -.9 11.1 -.9 11.2 -.9 9.7 -.9 10.1 -.9 10.1 -.9 8.1 -.9 3 -.9 .7 -.9 .6 -.9-.2 -.9-1.4Z" fill="#C0845A" fill-opacity="0.22" stroke="none"/><path d="M19.4 334.6l.9-1 .9-1.4 .9-1.4 .9-.9 .9-3.6 .9-9.6 .9-12.7 .9-11.5 .9-9.1 .9-12.2 .9-12.7 .9-8.7 .9-4.1 .9-2.5 .9-1.2 .9 .3 .9 1.1 .9-.2 .9-2.3 .9-1 .9 1.9 .9 1.1 .9-.8 .9-1.4 1-.7 .9 1.2 .9 .8 .9-.3 .9-1.1 .9 .2 .9-1 .9-2.7 .9-.8 .9-.5 .9 .3 .9-.5 .9 1.4 .9 2.3 .9-1.7 .9-3.4 .9-2.6 .9 1.5 .9 0 .9-2.5 .9 .3 .9 3 .9 1.4 .9 .1 .9 0 .9-.7 .9-1.1 .9 1.1 .9-.7 .9-.3 .9-.1 .9-1.1 .9-2 .9 .5 .9 .3 .9-.6 .9 .6 .9 1.1 .9-.2 .9-.6 .9-1.7 .9-.5 .9 .7 .9 1.4 .9-.1 .9-1.2 .9-1.1 .9-.3 .9 1.9 .9 2.1 1 .2 .9-1.5 .9-1.8 .9-2 .9-1.4 .9 .1 .9 1.4 .9 .9 .9 .7 .9-.1 .9-.2 .9-2 .9-1.6 .9 1.1 .9 .6 .9-.5 .9 1.4 .9-.6 .9-1.7 .9 1.2 .9 1.4 .9-1.3 .9-.6 .9-.5 .9-.5 .9-1.1 .9-1.6 .9 .2 .9 1.5 .9 .4 .9 .2 .9 1.6 .9-.4 .9-3.5 .9-2.5 .9-.1 .9-.1 .9 .3 .9 1.7 .9 1.3 .9 .1 .9-.8 .9-.1 .9 .3 .9-1 .9 .1 .9 0 .9-1.1 .9 .4 .9 0 1-1.4 .9-1.3 .9-1.6 .9 2.6 .9 3.2 .9 .9 .9-1.5 .9-1.3 .9-2.1 .9-.8 .9-1.2 .9 .3 .9 2.2 .9 1.1 .9-.8 .9-.4 .9 1.3 .9-.3 .9-2.2 .9-1.1 .9 .9 .9 .3 .9-.7 .9-.8 .9 .6 .9 1 .9-.7 .9-.7 .9 .2 .9 2.2 .9 .2 .9-1.8 .9-2 .9-.3 .9 .1 .9 1.8 .9 2 .9-1.4 .9-1 .9 .3 .9 1.4 .9-.7 .9-.7 .9-1.8 .9-.8 .9 1.6 .9 0 .9-.9 .9 .7 .9 .4 .9-.1 1 .3 .9 .3 .9 .9 .9-.4 .9 .2 .9 1.9 .9-.4 .9-2.4 .9 .9 .9 2.1 .9 2 .9 .3 .9-2 .9-.5 .9-.8 .9-.5 .9-.1 .9 .5 .9 1.9 .9 .2 .9-1.2 .9-2.1 .9-.5 .9 2.7 .9 1.5 .9-.4 .9-.7 .9-.1 .9 .4 .9 1.1 .9 1.4 .9-.8 .9-.5 .9-1 .9-1.3 .9 .6 .9 0 .9-.2 .9-.4 .9-.8 .9 .1 .9 1.5 .9 1.8 .9 1 .9 0 .9-1.1 .9-2 .9-2.2 .9 .3 1-.3 .9-.2 .9 .4 .9 .2 .9 .5 .9-.3 .9 1.2 .9 1.3 .9-.6 .9-.2 .9-1.1 .9-.8 .9-.2 .9 1.2 .9 .5 .9-1.3 .9-.4 .9 0 .9 2 .9 1.8 .9 1.3 .9-2.8 .9-2.7 .9 .9 .9-1 .9-1.2L244.9 226.2l-.9-1.2 -.9-2.8 -.9-.5 -.9 1.3 -.9 2 -.9 1.6 -.9-.2 -.9-2.9 -.9-2 -.9 .8 -.9 1.2 -.9 1.5 -.9 .3 -.9-.6 -.9 .2 -.9 1.1 -.9 1.1 -.9-.3 -.9-.9 -.9-.7 -.9-.6 -.9 1 -.9 .9 -.9 1.1 -.9 .6 -1-2 -.9-1.9 -.9 1.4 -.9 1 -.9-.2 -.9-.5 -.9-.4 -.9-.8 -.9 .8 -.9 1.3 -.9-.8 -.9-1.5 -.9-.5 -.9-.3 -.9 .7 -.9 .9 -.9 .6 -.9 0 -.9 .6 -.9 .6 -.9 0 -.9-.8 -.9-.1 -.9-.2 -.9 .5 -.9-.3 -.9-1.2 -.9-.8 -.9 2.4 -.9 1.8 -.9-.4 -.9-.9 -.9-1.5 -.9-1 -.9-.2 -.9 2.2 -.9 2.6 -.9 1.5 -.9-.8 -.9-3.6 -.9-1.5 -.9-.6 -.9-.7 -.9 1.8 -.9 1.5 -.9 .2 -.9 .9 -.9 .4 -.9 .6 -1-.9 -.9-1 -.9-1.1 -.9-1.9 -.9-.5 -.9-.3 -.9 1.7 -.9 2.2 -.9 .8 -.9 .6 -.9-1.1 -.9-1.4 -.9-.7 -.9 0 -.9 2.6 -.9 .7 -.9-1.7 -.9-1.1 -.9 2 -.9 3 -.9-.6 -.9-1.1 -.9-1 -.9-1.8 -.9-1.3 -.9 .1 -.9 .9 -.9 2.5 -.9 .2 -.9 .2 -.9-.6 -.9-.6 -.9-.4 -.9 .3 -.9 .7 -.9 1.3 -.9-.4 -.9-2.7 -.9 .6 -.9 1.5 -.9 .6 -.9 1.6 -.9 .7 -.9 .3 -.9-.3 -.9 1.9 -.9-.1 -.9-3.6 -.9-1.4 -.9 2.2 -.9 1.7 -1 1.1 -.9 .9 -.9 .6 -.9 .9 -.9-.1 -.9-1.1 -.9-.9 -.9-.6 -.9 .3 -.9-1 -.9 .7 -.9 1.9 -.9 .4 -.9-.1 -.9-.4 -.9-.2 -.9 1.2 -.9 1.3 -.9 .2 -.9-1 -.9 0 -.9-.5 -.9 1.2 -.9 1.1 -.9 .6 -.9 1.3 -.9 1 -.9 .8 -.9 1.1 -.9-.8 -.9-1.4 -.9 1.7 -.9 1.2 -.9 2 -.9-.4 -.9-.9 -.9-.5 -.9-.3 -.9-.2 -.9 0 -.9 .1 -.9 .6 -.9 1.7 -.9-.1 -.9-.2 -.9-.5 -.9-.8 -.9 1.7 -.9 .9 -.9 1.8 -1 1.3 -.9-.7 -.9 .3 -.9 .1 -.9-1 -.9 1.3 -.9 1.3 -.9-1.2 -.9 1.6 -.9 1.3 -.9-1.7 -.9-2.1 -.9 .7 -.9 2.4 -.9 .8 -.9-1.9 -.9 .4 -.9 1.9 -.9 1.8 -.9 0 -.9 .2 -.9-1.2 -.9-.1 -.9 1.6 -.9 1.3 -.9 1.7 -.9-1 -.9-3.7 -.9-1.9 -.9-.4 -.9 1.7 -.9 2.1 -.9-.4 -.9-1 -.9 1 -.9 2.6 -.9 .4 -.9-.9 -.9-1.1 -.9 0 -.9 .3 -.9 .7 -.9 0 -.9 0 -.9 2 -.9 1.5 -.9-1.4 -.9-.6 -.9 .6 -.9-1.7 -1 .4 -.9 2.2 -.9 1.9 -.9-1.4 -.9-2.5 -.9-.8 -.9 1.3 -.9 .6 -.9-.1 -.9 1.9 -.9 .2 -.9-.5 -.9 3.5 -.9 8.5 -.9 11.8 -.9 10.4 -.9 7.8 -.9 8.5 -.9 10.5 -.9 10.4 -.9 3.5 -.9 .4 -.9-.2 -.9-1.9 -.9-1.9Z" fill="#91A5DC" fill-opacity="0.22" stroke="none"/><path d="M19.4 333.2l.9-1.9 .9-.8 .9 .7 .9-.4 .9-5.6 .9-11.2 .9-12.6 .9-9.9 .9-9.8 .9-11.3 .9-10.6 .9-7.4 .9-3.4 .9-1.6 .9-2.8 .9-.3 .9 0 .9-.4 .9-.3 .9 1.1 .9 1.7 .9 .4 .9-1.3 .9-1.4 1-1.6 .9 .9 .9 .9 .9-.6 .9-.1 .9-1.4 .9-.5 .9 1.8 .9 .6 .9 .5 .9-1 .9-.7 .9-3.9 .9-3.2 .9 .1 .9 .4 .9-1.2 .9 .8 .9-.1 .9-2.2 .9 .3 .9 3.3 .9 .2 .9-1.3 .9-.3 .9-1 .9-.1 .9 .7 .9-.5 .9-.2 .9-1.5 .9-1.4 .9 .3 .9 1.5 .9 .9 .9 0 .9 .7 .9-1.1 .9-.2 .9-1.4 .9-1.7 .9 1 .9 1 .9 0 .9-.6 .9-1.6 .9 .5 .9 1.8 .9-.3 .9-.8 1 .9 .9 .4 .9-1.5 .9-.9 .9-1.7 .9 .2 .9 1.8 .9 .1 .9 .2 .9 .5 .9-.4 .9-1.3 .9-.6 .9-1.2 .9-.1 .9 2.1 .9 1.4 .9 .7 .9-.3 .9-3.3 .9-3.5 .9-.4 .9 1.6 .9 .7 .9-.8 .9-.6 .9 .1 .9-.5 .9 1.9 .9 2.7 .9 0 .9-1.5 .9-1.8 .9-1.3 .9 1.1 .9 .7 .9-1.1 .9-1 .9 1.2 .9 .7 .9-.4 .9-1.4 .9-1.2 .9-.2 .9 2 .9 .7 .9-3.4 .9-2.5 .9 .8 .9 .5 1 1.2 .9-.8 .9-.1 .9-.3 .9-.1 .9 1.1 .9 1.1 .9 .8 .9 .1 .9-.7 .9-.2 .9-.4 .9-1.4 .9-1.5 .9 .4 .9 1.2 .9-.9 .9 .8 .9 1.1 .9-2.2 .9-2.2 .9 .2 .9 .6 .9 0 .9 1.9 .9 1.4 .9-1.2 .9-1.6 .9 0 .9 1 .9 1 .9 .9 .9-.5 .9-1.4 .9-2.1 .9-1.6 .9-1.1 .9 .7 .9-.4 .9-.4 .9 .1 .9 .2 .9 .9 .9 .7 .9 .7 .9 .3 .9 .1 .9 .2 .9-.4 .9 1.4 .9 1.8 1-.6 .9-3 .9-1.6 .9-.9 .9 0 .9 2.1 .9 3.4 .9 1.3 .9-1.9 .9-1.6 .9-1.3 .9-.1 .9-.1 .9-.4 .9-1.4 .9 0 .9 .3 .9 1.8 .9 1.7 .9 0 .9-1.2 .9-1.4 .9-1 .9 0 .9 1 .9 1.3 .9 .1 .9-1.8 .9-1.1 .9 2.2 .9 2 .9 .3 .9-1 .9 .1 .9-.2 .9-.3 .9-.8 .9-2.4 .9 .5 .9 1.6 .9-.2 .9-.2 .9-.5 .9-.7 .9 .7 .9 1.4 .9 .5 .9 .9 .9 .8 1-.4 .9-.4 .9-.8 .9 .4 .9 2.3 .9 .7 .9-2.4 .9-1 .9 .4 .9-.1 .9 .5 .9 .1 .9-1.7 .9-1.5 .9 .1 .9 1.4 .9 2 .9 1.4 .9-.4 .9-.4 .9-1.1 .9-.2 .9 2 .9 .9 .9-.6 .9-.6L244.9 229.5l-.9 .4 -.9-.3 -.9-1 -.9-3.2 -.9-2 -.9-.1 -.9 1.7 -.9 1.5 -.9 .7 -.9-1.8 -.9-2.7 -.9 1 -.9 1.9 -.9 .8 -.9-.6 -.9 .3 -.9 1 -.9 0 -.9 0 -.9-.1 -.9-.5 -.9 .2 -.9-.5 -.9-2.1 -.9-.9 -1 .5 -.9-.9 -.9-.7 -.9 0 -.9 .9 -.9 1.5 -.9 1.6 -.9 3.8 -.9 1.6 -.9-3.8 -.9-2.3 -.9 1 -.9 .3 -.9-.1 -.9 .4 -.9-.7 -.9-1.5 -.9-1.5 -.9 2.4 -.9 1.3 -.9-2.8 -.9-.3 -.9 .3 -.9 .2 -.9 1.2 -.9-.4 -.9 .2 -.9 .9 -.9 1 -.9-.9 -.9-.2 -.9-.7 -.9-.5 -.9 1 -.9 .2 -.9 .1 -.9 .7 -.9 0 -.9 1.5 -.9 .7 -.9-.1 -.9-.5 -.9-.6 -.9-1 -.9-.4 -.9-.7 -.9-2 -.9 .5 -.9 1.8 -1 1.9 -.9 .9 -.9-.2 -.9 0 -.9-.5 -.9-.2 -.9-1.1 -.9-1.2 -.9 .4 -.9 0 -.9 .5 -.9 .1 -.9-.5 -.9 2.5 -.9 1.6 -.9-.9 -.9 .3 -.9 .7 -.9 .2 -.9-.1 -.9-.8 -.9-1.9 -.9 .7 -.9 1.7 -.9 2 -.9 .3 -.9-2.8 -.9-1.4 -.9 1.2 -.9 .4 -.9-.3 -.9 .8 -.9 1.3 -.9 .6 -.9 1.6 -.9 .3 -.9-1.6 -.9-.4 -.9 .4 -.9-.4 -.9-.4 -.9 1.4 -.9 1.3 -.9-1 -.9-.4 -.9 .9 -.9 .8 -.9-.6 -.9-.3 -.9 .4 -.9 1.2 -1 2.4 -.9 .4 -.9-1 -.9-1.1 -.9 .2 -.9-.3 -.9-1.3 -.9 .8 -.9 2.6 -.9-1.6 -.9 .3 -.9 1.1 -.9 1 -.9 .4 -.9-.9 -.9 .4 -.9 1.6 -.9 1.1 -.9 .8 -.9 .3 -.9 1.5 -.9-.1 -.9-1.9 -.9-.7 -.9-.1 -.9-1.7 -.9-.6 -.9 1.7 -.9 1 -.9 .7 -.9 3.6 -.9 2 -.9 1 -.9-.4 -.9-2.5 -.9-1.5 -.9 .7 -.9 1.2 -.9-.4 -.9 1.6 -.9 1.2 -.9-.4 -.9-.6 -.9 1.3 -.9-.4 -.9 0 -.9-.8 -.9 .1 -.9 .5 -.9 .1 -1 .2 -.9-.5 -.9 .5 -.9 1.3 -.9 .9 -.9 .3 -.9 1 -.9-.5 -.9 .7 -.9 .5 -.9-1.5 -.9-.1 -.9 .1 -.9 .5 -.9 .7 -.9-.3 -.9 .7 -.9 .6 -.9 1.4 -.9 .3 -.9-.3 -.9-1.1 -.9 1 -.9 .8 -.9 1.1 -.9 .1 -.9 1.3 -.9 2 -.9-1.6 -.9-1.7 -.9-.8 -.9-1.4 -.9-1.4 -.9 0 -.9 3.2 -.9 3.1 -.9-1.1 -.9 1.2 -.9 2 -.9 .7 -.9-.7 -.9 .7 -.9 .4 -.9-2.1 -.9 1 -.9 1.5 -.9 1.2 -.9-1.1 -.9 .2 -.9-.6 -1 1.4 -.9-.7 -.9-.6 -.9-.4 -.9-1.4 -.9 1 -.9 .7 -.9-.8 -.9 0 -.9 .4 -.9 1.5 -.9 .5 -.9 1.8 -.9 6.2 -.9 10.7 -.9 9.9 -.9 9.1 -.9 10.5 -.9 10.5 -.9 8.6 -.9 3.2 -.9-.1 -.9-.2 -.9 .7 -.9-1.8Z" fill="#B67FAA" fill-opacity="0.22" stroke="none"/><path d="M19.4 333.4l.9-1.1 .9-1.7 .9-.1 .9-.5 .9-5.3 .9-9.3 .9-11.7 .9-11.3 .9-10.8 .9-10.7 .9-13.2 .9-11 .9-4.9 .9-.7 .9-.6 .9-1.5 .9 .2 .9 2.3 .9-1.1 .9-2.5 .9-.7 .9-1.5 .9-1.5 .9 .4 1 2.4 .9 1.3 .9 1 .9 2 .9 2.7 .9 .1 .9-.1 .9 .5 .9-1 .9 .6 .9 .3 .9-2.1 .9-.8 .9 1.3 .9-.3 .9-1.3 .9-.3 .9-.5 .9-2.1 .9 0 .9 1.6 .9 .5 .9-.4 .9-.1 .9 1 .9 .2 .9-.8 .9-.6 .9-.7 .9-.9 .9 .7 .9-.6 .9-1.4 .9 1.5 .9-.4 .9-2.5 .9-2.1 .9-.1 .9 1.8 .9 .9 .9 .7 .9-.7 .9-1.3 .9 .5 .9 .4 .9 .9 .9 .5 .9-1.5 .9-1.3 .9 1.6 1-.9 .9-2.8 .9-1.4 .9 .8 .9 .7 .9-.6 .9-.3 .9-.4 .9 1.3 .9-.1 .9-2.4 .9-3 .9 0 .9 1.6 .9-.2 .9 .8 .9 2.3 .9-.9 .9-1.3 .9 .2 .9-1 .9-.9 .9 2 .9 1 .9-.4 .9 .6 .9-1 .9-1.4 .9-.2 .9-.6 .9 1.1 .9 .7 .9-2.4 .9-1.1 .9-1.3 .9-.7 .9-.7 .9-.9 .9 1.9 .9 1.6 .9-.7 .9-.4 .9-.3 .9 .2 .9 2.6 .9 1.5 .9 .1 .9 1.1 .9-.2 .9-2.8 1-3.7 .9 .5 .9 .8 .9 1.1 .9 1.2 .9-.4 .9-2.1 .9-1.5 .9-.9 .9-.6 .9-.5 .9 1.8 .9 2.2 .9 .1 .9 .5 .9 .4 .9-1 .9-1.5 .9-1.2 .9 .9 .9 1.7 .9 .3 .9-.7 .9-1 .9-1 .9-.7 .9-1.4 .9 .9 .9 .9 .9 .6 .9 .1 .9-.5 .9 .6 .9 1 .9-.7 .9 .2 .9 1.6 .9 .5 .9-2.1 .9-2.2 .9-.1 .9 .3 .9 1.2 .9-.7 .9-1.6 .9 1.3 .9 1.2 .9 .4 .9 1 .9 0 .9-2 1-.8 .9 1.4 .9 1.2 .9-1.3 .9-1.2 .9 .7 .9 .9 .9 0 .9-2.3 .9-1.5 .9-.1 .9 0 .9 .3 .9 .1 .9-.1 .9-1.8 .9-.4 .9 2 .9 2.5 .9 .9 .9 1.3 .9 .3 .9-1.2 .9-2.7 .9-1.9 .9-1 .9 .2 .9 2.2 .9 2.3 .9-.7 .9-.2 .9-.4 .9-2.4 .9-.7 .9 2 .9 0 .9-.2 .9 .8 .9-.3 .9-.2 .9 .4 .9 .3 .9-.8 .9-1.1 .9-.3 .9 1.7 .9 1.3 .9-.6 .9-.7 1 .3 .9 1.3 .9-.2 .9 .3 .9-.2 .9-.5 .9-1.7 .9-2.4 .9 .6 .9 1.2 .9 .7 .9 1.1 .9 1.9 .9-.2 .9-2 .9-3 .9-.4 .9 1.3 .9 .1 .9 .4 .9 1.7 .9 0 .9 .5 .9 .9 .9-.4 .9 .5L244.9 244.7l-.9-.5 -.9 1.2 -.9-.3 -.9-1.8 -.9-1.4 -.9-.4 -.9-.6 -.9-.9 -.9 .9 -.9 .8 -.9 .4 -.9 1.2 -.9 .5 -.9 1 -.9-.1 -.9-1.4 -.9-.1 -.9 1.6 -.9 2 -.9-.6 -.9-1.3 -.9-2.2 -.9-1.4 -.9 1.3 -.9 .7 -1-.3 -.9 .3 -.9-.7 -.9-1.1 -.9 .6 -.9 .9 -.9 1.2 -.9-.9 -.9-.9 -.9 .8 -.9 .9 -.9-.5 -.9-.4 -.9 1.3 -.9 1.9 -.9 .7 -.9-.1 -.9 .4 -.9 .4 -.9 0 -.9 .2 -.9 .5 -.9-2.7 -.9-1.8 -.9 1.4 -.9 1.5 -.9 .3 -.9 .6 -.9 .4 -.9-1.5 -.9-.9 -.9-.3 -.9 .1 -.9-.5 -.9 .5 -.9 1.1 -.9 1 -.9 .2 -.9-.7 -.9 .2 -.9 1.4 -.9 .6 -.9-2.6 -.9-1.7 -.9 1.1 -.9 1 -.9-.3 -.9 .9 -.9-.1 -1 .6 -.9 .5 -.9-.1 -.9 .5 -.9 1.2 -.9-.7 -.9 .1 -.9-.5 -.9-1.4 -.9 .4 -.9 .9 -.9 .3 -.9 0 -.9 .3 -.9-1 -.9-.9 -.9 .1 -.9 1.3 -.9 1.3 -.9-.1 -.9-.8 -.9 .4 -.9 1.4 -.9-1.2 -.9-.9 -.9 .7 -.9 1.6 -.9-.3 -.9-.3 -.9-.7 -.9 .9 -.9 1.6 -.9 .2 -.9 .6 -.9 1.1 -.9-1.2 -.9-2.2 -.9-1.5 -.9-.4 -.9 2 -.9-.8 -.9-2.4 -.9-.5 -.9 .4 -.9 1.7 -.9 .9 -.9 0 -.9-.5 -.9-.5 -.9 .5 -.9 1.3 -1 2 -.9 1.9 -.9 0 -.9 .9 -.9 1 -.9-1.1 -.9-1.8 -.9 .3 -.9 .7 -.9-1 -.9-1.3 -.9-1.1 -.9-1.1 -.9 .2 -.9 1.4 -.9 1.4 -.9 1.3 -.9 .5 -.9-.5 -.9 1.3 -.9 .7 -.9-.4 -.9-.9 -.9 .8 -.9-.1 -.9 .4 -.9 .3 -.9 0 -.9-2.4 -.9-1.4 -.9 1.4 -.9 2.3 -.9 .7 -.9-1.8 -.9-.4 -.9-.1 -.9 .2 -.9 .2 -.9 2.4 -.9 3 -.9-.2 -.9-1 -.9-.9 -.9-.9 -.9 .4 -.9 .5 -.9 1.1 -.9 2 -.9 1.1 -.9 1.1 -1-1.5 -.9-.3 -.9 2.6 -.9-.6 -.9-1.3 -.9 .3 -.9-2.1 -.9-.9 -.9 1.4 -.9 2 -.9 2 -.9-.7 -.9-3.1 -.9 .3 -.9 1 -.9 .6 -.9 1.5 -.9 .3 -.9-.1 -.9-.4 -.9 .8 -.9-.1 -.9 .6 -.9 1.7 -.9 1 -.9-1.7 -.9-1.1 -.9 1.2 -.9 .8 -.9 0 -.9-.6 -.9-1.3 -.9 0 -.9-.1 -.9 0 -.9 .8 -.9-.1 -.9 .7 -.9 .1 -.9-1.3 -.9 0 -.9-.5 -.9 .9 -.9 .8 -.9-.7 -.9-.5 -.9-1.1 -.9-2.2 -.9-.7 -.9-.2 -1-1.1 -.9-1.2 -.9-1.6 -.9-2.1 -.9-.5 -.9 .4 -.9-.4 -.9 1.2 -.9 1.2 -.9 .2 -.9 .8 -.9 1 -.9 4.4 -.9 10 -.9 11.3 -.9 9.3 -.9 8.4 -.9 10 -.9 10.2 -.9 8 -.9 3.6 -.9 0 -.9-1.2 -.9-1 -.9-.4Z" fill="#FCAE62" fill-opacity="0.22" stroke="none"/><path d="M19.4 330.9l.9 .5 .9-.2 .9 .2 .9 0 .9-3.4 .9-11.3 .9-12.8 .9-10.9 .9-10.6 .9-12 .9-12.9 .9-9.1 .9-4.4 .9-1.1 .9 0 .9 1.5 .9 2.1 .9 .1 .9-1.1 .9-.9 .9 .8 .9 .1 .9-1.4 .9 1.5 1 .6 .9-.1 .9 1.4 .9-.5 .9 1 .9 .5 .9-1.9 .9 .7 .9 0 .9 .5 .9 .9 .9-.4 .9 .5 .9 .6 .9-1.7 .9-1.9 .9-.1 .9-.3 .9 .5 .9-.3 .9-2.5 .9-1.3 .9 .8 .9 1.4 .9-.1 .9 1.1 .9 .8 .9 1.3 .9 .2 .9-1.4 .9-.9 .9 .2 .9 .4 .9-.1 .9 1.2 .9 1.6 .9-.5 .9-1.4 .9-1.2 .9-.2 .9-.1 .9 .2 .9 .9 .9 .7 .9-1.6 .9-.8 .9 .5 .9-.4 .9 .1 .9 .8 1-1 .9 1.3 .9 .8 .9 1 .9-.9 .9-.8 .9 .2 .9-.3 .9 .6 .9-.2 .9-1 .9 1.4 .9 .7 .9 .9 .9-.9 .9-3.4 .9-.5 .9 2.5 .9-.8 .9-2 .9-.6 .9-1.2 .9-.6 .9-.5 .9 2.9 .9 1.4 .9-1.1 .9-.9 .9-1.4 .9-.4 .9 1 .9 1.6 .9 .8 .9 .2 .9-2 .9-1.1 .9 .1 .9-.4 .9-.5 .9-.9 .9 .6 .9 .3 .9 .8 .9 3 .9 1.5 .9-2.3 .9-1 .9 .9 .9 .3 .9-1.2 1-1.6 .9 .6 .9 .8 .9-.8 .9-.2 .9-1.1 .9 .4 .9 .7 .9-.2 .9-.6 .9 .3 .9-.2 .9-.1 .9 1 .9 1 .9-1.4 .9-.7 .9-1 .9-1.1 .9-.6 .9-.1 .9-.1 .9 .9 .9 .4 .9 .6 .9 1 .9 .5 .9 .1 .9-.6 .9-1.9 .9-.8 .9 .2 .9 2 .9 1.1 .9-1.2 .9-3 .9-1 .9 .5 .9-.7 .9 2 .9 1.9 .9-1.1 .9 .3 .9-.3 .9-2.2 .9-2.2 .9-1.4 .9 .4 .9-.8 .9 .4 .9 3.5 1 1.5 .9-1.8 .9-1.1 .9-.6 .9 .2 .9 .7 .9 .5 .9 .6 .9-.8 .9-1.2 .9-.1 .9 1.7 .9 1.7 .9 .1 .9-.9 .9-.6 .9-1.7 .9-1.1 .9 1.6 .9 .2 .9-.6 .9 .4 .9-1.1 .9-.5 .9-1.6 .9-.6 .9 1 .9 .6 .9 1.1 .9-1.6 .9-1 .9 2.2 .9 2.2 .9-.4 .9-.5 .9 .7 .9 .9 .9 .1 .9 .8 .9-1.9 .9-2.4 .9 .1 .9 .1 .9-.6 .9-1.3 .9-.8 .9 0 .9 .3 .9 1 1 .4 .9 1.6 .9 1.5 .9 0 .9-3.6 .9-4.4 .9-1.6 .9 3.4 .9 1.5 .9-.9 .9 .5 .9 .1 .9-.3 .9-.7 .9-1.6 .9-1.7 .9 .1 .9 2.3 .9 1.6 .9-1.2 .9-1 .9 1.7 .9-2 .9-2.2 .9 3.7 .9 2.9L244.9 256.1l-.9-1.7 -.9-1.7 -.9-1.4 -.9 .6 -.9 2.9 -.9 2.2 -.9-.3 -.9-1.4 -.9-.6 -.9 0 -.9 .9 -.9 .1 -.9-.3 -.9 .3 -.9-.5 -.9 .3 -.9 .6 -.9 .8 -.9-.7 -.9-.3 -.9 3.1 -.9 3.2 -.9 .9 -.9-.5 -.9-2.2 -1-1.9 -.9-1.5 -.9 .6 -.9 0 -.9 .7 -.9 1.6 -.9 1.5 -.9 1 -.9 .2 -.9-2.2 -.9-.7 -.9 1.1 -.9 .6 -.9-.1 -.9-.1 -.9 .6 -.9-1 -.9-2.7 -.9 .2 -.9 .8 -.9-.1 -.9-.3 -.9-.2 -.9 2.1 -.9 1.8 -.9-.4 -.9-1.3 -.9-.8 -.9 .9 -.9 .8 -.9 .3 -.9 0 -.9 1.1 -.9 1.1 -.9-.5 -.9-1.4 -.9-.3 -.9 .6 -.9-.4 -.9 .2 -.9-.5 -.9-.7 -.9 .2 -.9 1.5 -.9 2.1 -.9 .3 -.9-.9 -.9-1 -.9 .2 -1 .4 -.9-.2 -.9-.2 -.9-1.1 -.9-.4 -.9 1.4 -.9 2.4 -.9 1.3 -.9 .8 -.9-.5 -.9-1.6 -.9-1.7 -.9-.7 -.9-1.4 -.9-.4 -.9 2.8 -.9 1.9 -.9-.4 -.9-.1 -.9 .3 -.9 0 -.9 .5 -.9-1.5 -.9 .3 -.9 .9 -.9 .4 -.9 0 -.9-1.6 -.9-1.9 -.9-1.2 -.9-.6 -.9 .1 -.9 1.3 -.9 .2 -.9 1.1 -.9 1.9 -.9 .3 -.9-.2 -.9 .1 -.9 1 -.9 .1 -.9 .4 -.9-.3 -.9-.9 -.9-1 -.9 .3 -.9 1.2 -.9 1 -.9 .5 -.9-.1 -.9-.1 -1 .1 -.9-.9 -.9-1.2 -.9-1.1 -.9 .5 -.9 2.1 -.9-.3 -.9-1.3 -.9-.3 -.9-.3 -.9 .3 -.9 .7 -.9 .5 -.9 .6 -.9 .1 -.9-.6 -.9 .9 -.9 1.3 -.9 .6 -.9-.4 -.9-.6 -.9-.6 -.9 .9 -.9 1 -.9-1.1 -.9-1 -.9-1.1 -.9-.1 -.9-.9 -.9-1.2 -.9 .5 -.9 .7 -.9 1.7 -.9 1.3 -.9 1.1 -.9 0 -.9-.7 -.9 .2 -.9 1.4 -.9 2 -.9 1.2 -.9-1.9 -.9-3 -.9-.1 -.9 .4 -.9 .3 -.9 .2 -.9-.6 -.9 .2 -.9 1.5 -1 .1 -.9-.5 -.9-1.6 -.9-1.9 -.9 1.3 -.9 1.5 -.9 .2 -.9-1.2 -.9-1.7 -.9-.6 -.9 1.4 -.9 1.7 -.9 1.5 -.9 1.3 -.9-.5 -.9-2.6 -.9-.8 -.9-.8 -.9-.6 -.9 1.1 -.9 1.3 -.9 0 -.9-.3 -.9-.3 -.9-1 -.9-.5 -.9 .5 -.9 .3 -.9 .9 -.9 .8 -.9 .1 -.9-.8 -.9-.2 -.9-.4 -.9 0 -.9 2.4 -.9-.4 -.9-1.2 -.9 .8 -.9 1.7 -.9-.8 -.9-2.9 -.9-.8 -.9 1.7 -.9 0 -.9 1.2 -.9 .5 -.9-2.5 -.9-1.6 -.9-.3 -1 1.6 -.9 .2 -.9-2.2 -.9-1.7 -.9-.2 -.9-.2 -.9 .2 -.9 1.1 -.9-1.5 -.9-1 -.9-1.5 -.9-.7 -.9 4 -.9 8.7 -.9 10.4 -.9 8.8 -.9 8.4 -.9 11.5 -.9 11.8 -.9 9.1 -.9 2.7 -.9 0 -.9 .8 -.9-.1 -.9-1.4Z" fill="#E2D2C8" fill-opacity="0.22" stroke="none"/><path d="M19.4 335.8l.9-2.1 .9-1.8 .9-1 .9-.9 .9-3.8 .9-10.1 .9-11.9 .9-11.9 .9-13 .9-10.3 .9-10.9 .9-10 .9-2.1 .9 2.8 .9-.4 .9-2.8 .9-1.7 .9-.2 .9-1 .9-.7 .9 1.6 .9 3 .9 2.7 .9 .1 1-1.9 .9-1.4 .9 .3 .9 1.4 .9 1.9 .9-.4 .9 0 .9 2.2 .9 3.2 .9-.9 .9-.9 .9-.1 .9 .1 .9 1.2 .9 1.1 .9-.5 .9 1.2 .9 .3 .9 .1 .9 .9 .9-.4 .9-.8 .9-1.1 .9-2.1 .9-1.4 .9-.4 .9 1 .9 3.3 .9 .8 .9-.4 .9-1.5 .9-.2 .9-.2 .9-.7 .9-.1 .9-.1 .9 0 .9 .1 .9 .8 .9-.4 .9-.6 .9-.3 .9 1.2 .9 .6 .9 .6 .9-1.1 .9-2.3 .9 .6 .9 1.6 .9-.7 1-1.2 .9 1.1 .9 1.2 .9-.9 .9-.4 .9 1.6 .9 .4 .9-.7 .9 0 .9-.6 .9 .7 .9 1 .9 1.7 .9 .5 .9-.2 .9 1.3 .9-.4 .9-2.9 .9-1.6 .9-.7 .9-.3 .9 1.3 .9 1.2 .9-.4 .9-1.6 .9 .1 .9-.8 .9 .4 .9 2.3 .9 2.1 .9 .1 .9-.7 .9-.2 .9 0 .9 .9 .9 1 .9 0 .9 0 .9-.7 .9-.6 .9 .7 .9 1 .9 .1 .9 0 .9 2.2 .9 1.9 .9-.9 .9-1.2 .9-1.7 .9-2.1 1 .3 .9 .9 .9-.2 .9-1.1 .9-1.3 .9 .5 .9 1.7 .9 1.3 .9 1 .9 .1 .9-.4 .9 .3 .9-1.2 .9-3.2 .9-.1 .9 3.2 .9 1.1 .9 .5 .9-2 .9-3 .9 .6 .9 1 .9 1.6 .9 0 .9-1.4 .9-2.5 .9-.8 .9 2.2 .9 .9 .9-.8 .9-1 .9-1.5 .9-3.3 .9 2 .9 2.7 .9 2.3 .9 .9 .9-2.1 .9-2.4 .9-.2 .9 1.2 .9-.9 .9-.5 .9 1.1 .9 .3 .9-.4 .9-.4 .9 1.3 .9 .4 .9 1.2 .9 .3 1 .8 .9-1.6 .9-2.2 .9-.6 .9-1.6 .9 1.3 .9 1.3 .9 1.1 .9 .8 .9-.4 .9-1.5 .9-1.3 .9 2.5 .9 2.1 .9 .2 .9-.5 .9 .1 .9 .5 .9-1.1 .9-1.8 .9-1.5 .9-.6 .9 .7 .9 1.3 .9 .6 .9-.7 .9-.9 .9-.9 .9-1 .9 1.1 .9 1.6 .9 .4 .9 1.3 .9-2.1 .9-1.5 .9 2 .9-.5 .9-2.6 .9-1.2 .9 1.8 .9 .4 .9-1.4 .9 2 .9 2.2 .9-1.4 .9-1.9 .9 0 .9 .5 .9-1.3 1-2.1 .9 .9 .9 1.2 .9-1.2 .9 .3 .9 .5 .9 .8 .9 1.9 .9-2.3 .9-1.6 .9 .8 .9-.9 .9 .5 .9-.3 .9 .2 .9 .4 .9-.8 .9 .9 .9 .6 .9 0 .9-1.8 .9-.9 .9-.5 .9 2.5 .9 1 .9-2L244.9 271.7l-.9-.6 -.9-.5 -.9 1.1 -.9 1.9 -.9 .5 -.9-.5 -.9-.7 -.9-1.1 -.9 1.1 -.9 .1 -.9-3.6 -.9-1.4 -.9-.4 -.9 1.2 -.9 1.6 -.9 1.8 -.9-.4 -.9-1.3 -.9-.9 -.9-.3 -.9 4 -.9 3.6 -.9-.7 -.9-3.9 -.9-1.3 -1-.3 -.9 1 -.9 .7 -.9 .3 -.9 1.7 -.9 2.4 -.9 .3 -.9-1.7 -.9-.6 -.9-.9 -.9-1.1 -.9-.7 -.9 .6 -.9 0 -.9 0 -.9 1.3 -.9 .8 -.9-.2 -.9-1.6 -.9-1.1 -.9 2.2 -.9 2.1 -.9-.4 -.9 1.7 -.9 .1 -.9-4.4 -.9-.5 -.9 2.5 -.9 2.5 -.9 .1 -.9-2.5 -.9-2 -.9 1.3 -.9 .9 -.9 .2 -.9 .2 -.9 .1 -.9-.7 -.9 0 -.9 1.4 -.9 1 -.9-.3 -.9-3.7 -.9-2.7 -.9-1.6 -.9 1.6 -.9 1.3 -.9 2.2 -.9 3 -1-.5 -.9-1.3 -.9 .3 -.9-.8 -.9-1.6 -.9-1.2 -.9-.7 -.9 .7 -.9 2.3 -.9 2.9 -.9-1.7 -.9-1.9 -.9 2 -.9 .8 -.9 .7 -.9-1.1 -.9-1.9 -.9-.1 -.9 .1 -.9 1 -.9 2.8 -.9 .7 -.9-1.1 -.9 .3 -.9-.4 -.9-1.9 -.9-1.5 -.9-.4 -.9-.3 -.9 0 -.9-1.3 -.9 2.1 -.9 4 -.9 1.5 -.9 .1 -.9-.7 -.9-2.4 -.9-1.6 -.9 2 -.9 1.9 -.9-.3 -.9-.6 -.9-1 -.9-.4 -.9-.6 -.9 0 -.9 0 -.9 2.1 -.9 .6 -.9 .5 -.9-1.4 -1 0 -.9 1.3 -.9 .9 -.9 .2 -.9 .7 -.9 1.1 -.9 .2 -.9-1.7 -.9-2.4 -.9 1.3 -.9 .4 -.9-2.1 -.9-2 -.9 1.5 -.9 2.5 -.9 .8 -.9-2 -.9-2.5 -.9 1.1 -.9 0 -.9-4.1 -.9-3.4 -.9-.2 -.9 .8 -.9 .2 -.9 0 -.9 2.1 -.9 1.3 -.9-.3 -.9 0 -.9 .4 -.9 .1 -.9 1.5 -.9-.5 -.9-.6 -.9 2 -.9-.1 -.9-1.3 -.9 2 -.9 1.8 -.9-2.5 -.9-2.7 -.9-1.4 -.9 .8 -.9 .9 -.9 .6 -.9-1.8 -.9-1.7 -.9 0 -.9 0 -1 .3 -.9 0 -.9-.3 -.9 .5 -.9 .7 -.9-.6 -.9 .5 -.9 1.2 -.9-1.9 -.9-2 -.9 1.2 -.9 .5 -.9 0 -.9-.3 -.9-1.2 -.9 .6 -.9 1.7 -.9-1 -.9-.2 -.9-.7 -.9-.6 -.9 2.2 -.9 1.7 -.9 0 -.9-2 -.9-.9 -.9 .8 -.9 1.1 -.9 .1 -.9 1.9 -.9 .5 -.9-.7 -.9 .8 -.9-.7 -.9-2.2 -.9-2 -.9 .7 -.9 1.6 -.9 .8 -.9-1 -.9 .2 -.9-1.4 -.9-1.7 -.9-.9 -.9-1.5 -.9-1.2 -.9-1.2 -.9-1.6 -.9 1.8 -.9 1.6 -1-1.8 -.9-1.4 -.9 .7 -.9 .8 -.9-1.8 -.9-1.1 -.9-.2 -.9-2.5 -.9-.3 -.9 2.7 -.9 1.9 -.9-1.1 -.9 .4 -.9 9.3 -.9 10.8 -.9 8.7 -.9 10.4 -.9 12.2 -.9 10.7 -.9 7.7 -.9 3.6 -.9-1.4 -.9-1.9 -.9-1 -.9 .2Z" fill="#8E8E8E" fill-opacity="0.2" stroke="none"/><path d="M19.4 333.2l.9-.7 .9 .1 .9 .6 .9-2.6 .9-5.7 .9-9.3 .9-10.6 .9-12.9 .9-11.7 .9-11.2 .9-11.7 .9-10 .9-4.2 .9 .7 .9-2.1 .9-2.4 .9-.5 .9 .8 .9 1.9 .9 .7 .9 2.3 .9-1 .9-.3 .9 1.3 1 .9 .9 .2 .9 .1 .9-1.3 .9-.5 .9 2.8 .9 2.7 .9 .2 .9 1.4 .9 .8 .9-.8 .9-1 .9 1.8 .9 0 .9-1.3 .9-.9 .9 1.6 .9 2.6 .9 .4 .9-.5 .9 1.3 .9 2 .9-.7 .9-.6 .9 1.2 .9 1.4 .9-1.2 .9 0 .9 .8 .9 .2 .9-.9 .9-3.1 .9-1.3 .9 1.1 .9 .6 .9-.4 .9-.3 .9 3 .9 .9 .9-2.9 .9-1.9 .9 .8 .9 2 .9 2.5 .9 .7 .9-1.8 .9-1.7 .9-.3 .9 .7 .9 1.7 1-.4 .9-1.3 .9 .5 .9 2.3 .9 1.4 .9-.5 .9-1.2 .9-1.4 .9-1.7 .9 .8 .9 0 .9-.6 .9 1 .9 1 .9 .2 .9-1.1 .9-1.5 .9-.8 .9 .1 .9 1.7 .9 .8 .9-1.1 .9 .9 .9 2.6 .9 1.6 .9 .3 .9 .5 .9-.7 .9-.1 .9-1.6 .9-1.6 .9 .2 .9 1.8 .9 .6 .9 2.2 .9 1.4 .9-.8 .9 .5 .9-.4 .9-3.2 .9-1.4 .9-1.5 .9-1.2 .9 .6 .9 .5 .9-1.3 .9 .4 .9 1.1 .9 .9 .9 2.1 1-.1 .9-1 .9-.7 .9-1.7 .9-1.3 .9-.8 .9-1.3 .9-.3 .9 1.9 .9 1.6 .9 1.2 .9 .5 .9-1.4 .9 .5 .9 1.2 .9-.7 .9-1.7 .9-.5 .9 .1 .9 1.1 .9 .6 .9-.5 .9 .7 .9 1.2 .9-.9 .9 0 .9-.7 .9-2.6 .9-.8 .9 1.3 .9 2.4 .9 1.7 .9 1.8 .9-.7 .9-.8 .9 .1 .9-1.8 .9-.6 .9 .4 .9-1.4 .9-.7 .9-.7 .9 .6 .9 2.6 .9 2.5 .9 1.4 .9-.5 .9-.3 .9-1 .9 .3 .9 2.2 1 1 .9-.1 .9-.1 .9-2.7 .9-.9 .9 .8 .9-1.6 .9-3.2 .9-1.3 .9 1.1 .9-1.2 .9 2.3 .9 2.8 .9 .5 .9-.9 .9-1 .9 1.3 .9 1.1 .9 1.6 .9 1.2 .9-1 .9-1.6 .9-2.4 .9-1.5 .9 1.1 .9 1.3 .9-.4 .9-.6 .9-1.5 .9-.8 .9-.3 .9 .9 .9 .6 .9-1 .9 1.4 .9 .6 .9-.6 .9 1.6 .9 .2 .9-1.1 .9 .4 .9 .6 .9-1 .9 .4 .9-.3 .9-1.8 .9-.5 .9 .2 .9 1.4 1 2.7 .9 1.4 .9-2.8 .9-3.1 .9-.2 .9 2.6 .9 1 .9-.6 .9 .3 .9 1.4 .9-.4 .9 .8 .9 3.2 .9 1.1 .9-1.3 .9-1.9 .9-2.8 .9-2.3 .9-.3 .9 2.5 .9 .2 .9-.9 .9 1.9 .9 .4 .9 .4 .9 1L244.9 278.4l-.9-1 -.9-.2 -.9 1.9 -.9 1.2 -.9 .9 -.9-1 -.9-1.3 -.9-2.2 -.9-.7 -.9 .4 -.9 1.6 -.9 1.3 -.9 .4 -.9 1.4 -.9-.4 -.9 0 -.9-1.1 -.9 .2 -.9-1.4 -.9-1.2 -.9 0 -.9-.4 -.9 0 -.9-.3 -.9-1.5 -1-.6 -.9 1.3 -.9-.8 -.9-2.4 -.9 1.2 -.9 1.8 -.9-.2 -.9-.5 -.9 .7 -.9 .7 -.9 .4 -.9-.2 -.9 .2 -.9 .2 -.9-.1 -.9 1.1 -.9-.1 -.9-.9 -.9-.4 -.9 2.5 -.9 .7 -.9-2.9 -.9-.4 -.9 .3 -.9-2.2 -.9-.3 -.9 1.8 -.9 2.2 -.9 2.4 -.9 .8 -.9-.5 -.9-.4 -.9 1.1 -.9-2.7 -.9-2.5 -.9 1.1 -.9 .1 -.9 .6 -.9-.5 -.9-2.1 -.9 .1 -.9 3 -.9 .9 -.9-.2 -.9 .4 -.9 .1 -.9 1.9 -.9-1.2 -.9-1.4 -1 .1 -.9-3.1 -.9-.5 -.9 1.6 -.9 .9 -.9 1.7 -.9-.2 -.9-2.2 -.9-1.3 -.9-.9 -.9 .1 -.9-2.3 -.9-1.3 -.9 3.6 -.9 3.6 -.9-.6 -.9-3.2 -.9 1.4 -.9 2.1 -.9-.6 -.9-1.5 -.9-.7 -.9-2 -.9-3.4 -.9-1.2 -.9 3.7 -.9 4.1 -.9 1.7 -.9-1.5 -.9 1 -.9-.5 -.9-2 -.9 0 -.9 .8 -.9 0 -.9-.2 -.9 1.2 -.9-1.2 -.9-.9 -.9-1.5 -.9-1.1 -.9-1 -.9 1.3 -.9 2.3 -.9 0 -.9 .3 -.9 1.8 -.9 .4 -.9 1.1 -.9 1.5 -.9-1.8 -1-3.2 -.9 .8 -.9 1.8 -.9-3 -.9-1.2 -.9 1.4 -.9 .9 -.9-.6 -.9-1.8 -.9 .7 -.9 2 -.9 1.3 -.9 .5 -.9 0 -.9 1.6 -.9-.8 -.9-1.8 -.9 .1 -.9-.9 -.9-1 -.9 2.6 -.9 2.5 -.9-1.5 -.9 .9 -.9 2.2 -.9-2.2 -.9-2.8 -.9-2.5 -.9-.5 -.9-.4 -.9 1.7 -.9-.5 -.9-.6 -.9 .8 -.9 .9 -.9 .3 -.9 .7 -.9 .3 -.9 1.5 -.9 .7 -.9-2.8 -.9-1.9 -.9 1.8 -.9 2.9 -.9 .3 -.9-.5 -.9-1.9 -.9-1 -.9 2.4 -.9-1.9 -1-3 -.9 .2 -.9 2.5 -.9 1.5 -.9 .6 -.9-.4 -.9-1.2 -.9-1 -.9-.7 -.9 .5 -.9-.9 -.9-2.3 -.9 1.5 -.9 .8 -.9-.9 -.9 .5 -.9 .4 -.9-1.3 -.9 .8 -.9-.2 -.9 .5 -.9 1.4 -.9 2 -.9-.4 -.9 0 -.9-2 -.9-2.2 -.9 .1 -.9 1.7 -.9-1 -.9-1.2 -.9-2.5 -.9-2 -.9-1.2 -.9 1.1 -.9 2.7 -.9-.5 -.9-1.1 -.9-1.4 -.9-1.5 -.9 .6 -.9 1.2 -.9 .2 -.9-1.3 -.9-2.7 -.9-2 -.9-.6 -.9 1.1 -.9 1.8 -.9-2.2 -1-1.9 -.9 .8 -.9-1 -.9-.1 -.9 .4 -.9-1.8 -.9-.3 -.9-1 -.9-.7 -.9 .1 -.9 .2 -.9 2 -.9 4.1 -.9 8.5 -.9 10.1 -.9 9.6 -.9 10.3 -.9 13.3 -.9 11.5 -.9 9 -.9 3.1 -.9-1.9 -.9-1.3 -.9 .6 -.9-.9Z" fill="#7AC8BE" fill-opacity="0.2" stroke="none"/><path d="M19.4 334l.9 .6 .9-.9 .9-.8 .9-1.8 .9-2.9 .9-4.1 .9-5.3 .9-10.9 .9-14.9 .9-10.7 .9-9.3 .9-11.8 .9-18.3 .9-1.5 .9-2 .9-3.3 .9-1.3 .9 1.2 .9 .5 .9-.6 .9-.6 .9-1.1 .9 .6 .9 .2 1-.4 .9-1.4 .9-1.1 .9-.7 .9 .6 .9 .5 .9-1.7 .9-2.1 .9 0 .9 .9 .9-.9 .9 .3 .9 .1 .9-1.4 .9-.6 .9 0 .9 1.3 .9-.4 .9-2.3 .9-1.3 .9 0 .9 .3 .9 1.3 .9 .8 .9-.9 .9-.2 .9-1.2 .9-.4 .9 .6 .9-.7 .9-1.5 .9-.3 .9 .5 .9 1.2 .9-1.5 .9-.8 .9 .2 .9-.5 .9 .1 .9 .9 .9 1.1 .9-.1 .9-1 .9-.5 .9-1 .9-.4 .9 1.2 .9 .8 .9 .2 .9 0 1-.7 .9-.3 .9-.3 .9 .1 .9 .6 .9 .3 .9-.2 .9-.3 .9-.4 .9-.6 .9-.1 .9 1 .9 .1 .9-.8 .9 .8 .9-.4 .9 .2 .9 .8 .9 .9 .9-.1 .9-.3 .9 0 .9-.1 .9-.7 .9-.9 .9-.1 .9 .1 .9 .9 .9 .5 .9-.4 .9-.7 .9-.7 .9 0 .9 .5 .9 .5 .9 .5 .9-.2 .9-1.3 .9 0 .9 1.3 .9 .4 .9-1.3 .9-1 .9 .9 .9-.6 .9-.6 .9-.8 .9 .2 .9 1.9 .9 1 1 0 .9 .2 .9-.3 .9-1.3 .9 .2 .9 1.5 .9 .4 .9 .7 .9-.4 .9-2 .9 .4 .9 .8 .9-.6 .9 .1 .9 0 .9 .1 .9 0 .9-.1 .9 0 .9-1.8 .9-.3 .9 1.5 .9-.5 .9 .5 .9 .2 .9-.6 .9 0 .9 .8 .9-.4 .9-.1 .9 .7 .9-.4 .9 .5 .9 1.7 .9 .3 .9-1.5 .9 0 .9 .4 .9 0 .9 .7 .9 .4 .9-.7 .9-.2 .9-1.5 .9-.6 .9 .4 .9 .4 .9-.2 .9-1.4 .9 0 .9 .5 1 1.9 .9 .3 .9-.3 .9-1.3 .9 .3 .9-.5 .9-.9 .9 1.8 .9 .6 .9-1 .9-1.9 .9-.7 .9 .6 .9 .4 .9 .3 .9-1.2 .9 .9 .9 2.7 .9 1.3 .9 .5 .9-.1 .9-.8 .9 .3 .9-1.2 .9-1.9 .9 .4 .9 .8 .9-.7 .9-.6 .9 1.5 .9-.1 .9 .1 .9 1 .9 .9 .9 .3 .9-1.2 .9-.8 .9 .4 .9 1.3 .9-1.3 .9-2.2 .9-1.3 .9 1.5 .9 .7 .9-.9 .9-.2 .9-1 .9-.1 .9 .7 1 .2 .9 1.1 .9 .9 .9-.7 .9-.1 .9 .9 .9 .1 .9-.3 .9-.3 .9-1.1 .9-.7 .9 .6 .9-.6 .9-.4 .9 .6 .9 .9 .9 .6 .9-.4 .9 .1 .9-.1 .9-1.2 .9-.9 .9 .4 .9-.9 .9-.8 .9 .2L244.9 222.3l-.9 1.7 -.9 .4 -.9 0 -.9-.5 -.9-1.4 -.9-.4 -.9 .4 -.9 .9 -.9-.2 -.9-.6 -.9-.9 -.9-.2 -.9 .9 -.9 .4 -.9-1.1 -.9 .3 -.9-.4 -.9 .2 -.9-.4 -.9 1.1 -.9 1 -.9 1 -.9-.2 -.9-.4 -.9 .6 -1 .3 -.9-1.5 -.9-1 -.9 1.5 -.9 1.4 -.9-.2 -.9-1.9 -.9-.4 -.9 .2 -.9 .8 -.9 0 -.9 0 -.9-.5 -.9 .6 -.9 .7 -.9 .9 -.9 .7 -.9-1.7 -.9-1.7 -.9-.3 -.9 .4 -.9 1 -.9-.1 -.9-.5 -.9 .3 -.9 1 -.9 .2 -.9-.4 -.9-.6 -.9-.7 -.9 .1 -.9 .2 -.9-.4 -.9-.7 -.9 .4 -.9 .5 -.9 .8 -.9 .1 -.9 .3 -.9 .6 -.9-.1 -.9-.4 -.9-.1 -.9 .7 -.9 .7 -.9-.7 -.9-2 -.9 .5 -.9 .2 -1-.4 -.9 .7 -.9-.2 -.9-.8 -.9 .1 -.9 .3 -.9 1.6 -.9 .9 -.9-.3 -.9-1.1 -.9 .1 -.9 .5 -.9-.3 -.9-1.4 -.9-.3 -.9 1 -.9 0 -.9-.8 -.9 .5 -.9 1 -.9 0 -.9-.2 -.9-1.3 -.9 .5 -.9 1.1 -.9-.5 -.9-1.8 -.9-.1 -.9 .5 -.9 0 -.9 1 -.9-1.2 -.9 .8 -.9 1.7 -.9 .6 -.9-1.7 -.9-.1 -.9-.2 -.9 .4 -.9 .5 -.9 .3 -.9-.2 -.9-.5 -.9 .8 -.9-.4 -.9-1.2 -.9 .2 -.9 0 -.9-1.1 -.9 .9 -.9 .7 -1 .3 -.9-.6 -.9 .8 -.9 .5 -.9-.5 -.9-.9 -.9-.4 -.9 2.2 -.9 1.6 -.9-1.8 -.9-1.3 -.9-.2 -.9-.2 -.9 1.2 -.9-.4 -.9-1 -.9 .8 -.9 1.1 -.9 .4 -.9-.3 -.9-1.1 -.9-.1 -.9 .1 -.9 .3 -.9-.2 -.9-.2 -.9-.3 -.9 .6 -.9-.2 -.9 .5 -.9 .8 -.9 .7 -.9-.6 -.9 0 -.9 .6 -.9-1.1 -.9-.3 -.9 1.3 -.9-.8 -.9-1.2 -.9-.4 -.9 .3 -.9 .9 -.9 .8 -.9 .2 -.9-1 -.9-.3 -.9-.2 -.9-.5 -.9-.3 -1 .1 -.9 1.2 -.9 1.8 -.9 1.4 -.9 .1 -.9-1.1 -.9-.5 -.9-.9 -.9-.1 -.9 .1 -.9 0 -.9 .6 -.9 1 -.9 .8 -.9 .3 -.9-1.5 -.9-.8 -.9 1 -.9 0 -.9-.7 -.9-.2 -.9 1.2 -.9 1.3 -.9 .4 -.9-.3 -.9-1 -.9 .7 -.9 .6 -.9-1.1 -.9-.3 -.9 1.7 -.9 1.9 -.9 .8 -.9 1.1 -.9 .3 -.9 0 -.9 .4 -.9 .9 -.9 1.9 -.9 1.3 -.9-1.4 -.9-.8 -.9 .3 -.9 .1 -.9-.3 -.9 .5 -.9 1.5 -.9 1.4 -.9 1.7 -.9 1 -1 .2 -.9 1.1 -.9 1.7 -.9-1.1 -.9-.2 -.9 .6 -.9-.1 -.9 .4 -.9 .8 -.9 1.1 -.9 1 -.9 2.9 -.9 19.9 -.9 11.7 -.9 9.7 -.9 9.4 -.9 12.8 -.9 10.5 -.9 3.4 -.9 2.1 -.9 1.6 -.9 2.5 -.9 1.2 -.9 1.1 -.9 0Z" fill="#F6705F" fill-opacity="0.22" stroke="none"/><path d="M19.4 334.2l.9-.1 .9-.4 .9-.6 .9-2.9 .9-6.1 .9-7.6 .9-10.3 .9-13 .9-12 .9-10.9 .9-11.1 .9-9.2 .9-5.6 .9-1.8 .9-1.5 .9-1.4 .9-1.3 .9-1.4 .9-2 .9-1.8 .9-.7 .9 0 .9-.2 .9-.5 1-.6 .9-.7 .9-.6 .9-.6 .9-.6 .9-.3 .9-.1 .9-.2 .9-.7 .9-.6 .9 .3 .9 .9 .9 .3 .9-1.1 .9-1.7 .9-1.1 .9-.5 .9-.6 .9-1.2 .9-.9 .9 .3 .9 .9 .9 .8 .9 .5 .9 0 .9-.3 .9-.2 .9 .4 .9 .1 .9-.7 .9-.8 .9-.5 .9 .1 .9 .5 .9 .6 .9 .3 .9-.4 .9-.6 .9-.6 .9 .1 .9 .4 .9 .3 .9 .1 .9-.2 .9-.3 .9-.6 .9-.6 .9-.4 .9 .3 .9 .9 1 .6 .9-.1 .9-.5 .9-.6 .9-.4 .9-.4 .9 .1 .9 .6 .9 .1 .9-.6 .9-.5 .9-.1 .9 .3 .9 .6 .9 .4 .9-.1 .9-.1 .9 .1 .9 .3 .9 0 .9-.4 .9-.3 .9 .2 .9 .2 .9-.2 .9-.3 .9 0 .9 .2 .9-.1 .9-.7 .9-.8 .9-.1 .9 .4 .9 .4 .9 .2 .9 .2 .9-.4 .9-.7 .9-.7 .9-.3 .9 .5 .9 1.2 .9 .8 .9-.4 .9-1.1 .9-.9 .9 .1 .9 .7 .9 .2 .9-.2 1 .3 .9 .9 .9 .5 .9-.4 .9-.8 .9-.3 .9 0 .9 .1 .9-.1 .9 .4 .9 .8 .9 .9 .9 .3 .9-.3 .9-.8 .9-.9 .9-.8 .9-.5 .9-.1 .9 .2 .9 .3 .9 .4 .9 .7 .9 .4 .9-.2 .9-.4 .9-.1 .9 .1 .9-.1 .9 .2 .9 .8 .9 .7 .9-.2 .9-.8 .9-.7 .9-.2 .9-.4 .9-.3 .9 .4 .9 1.1 .9 .6 .9-.1 .9-.2 .9-.1 .9-.1 .9 0 .9-.2 .9-.2 .9-.1 .9-.3 .9-.2 1-.2 .9-.2 .9 0 .9 .4 .9 .5 .9 .5 .9 .3 .9 0 .9-.4 .9-.1 .9 .1 .9 .2 .9-.1 .9-.3 .9-.5 .9-.3 .9-.1 .9-.1 .9 0 .9 .5 .9 .4 .9-.2 .9-.3 .9 .3 .9 .5 .9 .1 .9-.3 .9-.2 .9 0 .9 .3 .9 .2 .9-.1 .9-.4 .9-.8 .9-.5 .9 0 .9 .5 .9 .4 .9 .1 .9-.3 .9 0 .9 .5 .9 .4 .9 0 .9-.3 .9-.1 .9 0 .9 .1 .9 0 1 .1 .9 .3 .9 .6 .9 .6 .9 .4 .9-.3 .9-.8 .9-.9 .9-.7 .9 .1 .9 .4 .9-.3 .9-.9 .9-.2 .9 .8 .9 .7 .9 .2 .9 .2 .9 .3 .9 .1 .9 .1 .9-.3 .9-.7 .9-.7 .9-.6 .9-.6" fill="none" stroke="#6A9FCB" stroke-width="2.0" stroke-opacity="0.85" stroke-linejoin="round" stroke-linecap="round"/><path d="M19.4 334.2l.9-.1 .9-.2 .9-.4 .9-.5 .9-3.5 .9-8.4 .9-11.5 .9-12.1 .9-10.3 .9-10.2 .9-11.7 .9-10 .9-4.4 .9-.5 .9-1.4 .9-2.4 .9-1.9 .9-1.5 .9-1.9 .9-2.1 .9-1.2 .9-.3 .9 .3 .9 .3 1-.1 .9-.3 .9-.4 .9-.8 .9-.8 .9 0 .9 .5 .9-.1 .9-.9 .9-1.2 .9-.3 .9 .4 .9-.1 .9-1.3 .9-1.4 .9-.4 .9 .2 .9 .3 .9 .4 .9 .2 .9-.4 .9-.7 .9-.6 .9-.9 .9-.9 .9-.1 .9 1 .9 1.1 .9-.3 .9-.8 .9 0 .9-.1 .9-.3 .9 .2 .9 .2 .9-.7 .9-1.5 .9-1.2 .9 .1 .9 .3 .9-.4 .9 .1 .9 1 .9 .7 .9-.3 .9-.5 .9 .1 .9 .3 .9-.3 .9-1.2 1-1.1 .9-.4 .9 .3 .9 .1 .9-.2 .9-.6 .9-.5 .9-.1 .9 .6 .9 .8 .9 .2 .9-.4 .9 .1 .9 .3 .9 0 .9-.3 .9-.6 .9-1.1 .9-1 .9-.4 .9-.1 .9 0 .9 .4 .9 .8 .9 .6 .9 .5 .9 .5 .9 .3 .9-.8 .9-1.7 .9-1 .9 .7 .9 1.5 .9 1 .9 0 .9-1.2 .9-1.2 .9 0 .9 1.2 .9 .6 .9-.3 .9-.1 .9 0 .9 .1 .9 0 .9-.1 .9 .5 .9 .4 .9-.5 .9-.6 1 .1 .9 .1 .9-.7 .9-1 .9 .1 .9 .8 .9 .4 .9-.2 .9-.2 .9 .5 .9 .4 .9-.7 .9-1.2 .9-.6 .9 .5 .9 .6 .9 .1 .9-.5 .9-.4 .9 .3 .9 .5 .9 .4 .9 .1 .9-.6 .9-.6 .9 .2 .9 .4 .9 .3 .9 .2 .9 .4 .9 .9 .9 1.1 .9 .3 .9-1.2 .9-1.3 .9-.5 .9-.6 .9-.7 .9-.9 .9-.3 .9 .7 .9 1.3 .9 .4 .9 0 .9 .2 .9-.2 .9-.8 .9-.7 .9-.3 .9 .2 .9 .8 1 .7 .9 0 .9-1 .9-1.1 .9-.7 .9-.5 .9 .2 .9 1 .9 1.1 .9 .7 .9 .5 .9 .1 .9-.8 .9-1 .9-.5 .9-.1 .9 .2 .9 .2 .9-.1 .9-.1 .9-.1 .9 .1 .9 .4 .9 .5 .9 .1 .9 0 .9 0 .9 0 .9-.3 .9-.1 .9 .6 .9 .6 .9 0 .9-.5 .9-.6 .9-.2 .9-.3 .9-.4 .9 .2 .9 .9 .9 1 .9 .8 .9 .4 .9-.2 .9-.9 .9-1 .9-.5 .9-.1 .9 .2 1 .5 .9 .2 .9-.4 .9-.6 .9-.5 .9-.1 .9 .6 .9 1.3 .9 1.2 .9 .2 .9-.7 .9-1.1 .9-.7 .9 .1 .9 .4 .9-.1 .9-1.1 .9-1.4 .9-.2 .9 .7 .9 .9 .9 .4 .9 0 .9 .3 .9 .1 .9-.4" fill="none" stroke="#B2A8DB" stroke-width="2.0" stroke-opacity="0.85" stroke-linejoin="round" stroke-linecap="round"/><path d="M19.4 334.2l.9-.1 .9-.2 .9-.4 .9-.6 .9-3.7 .9-8.4 .9-10.8 .9-11.4 .9-10.4 .9-10.5 .9-11.2 .9-9.2 .9-4.8 .9-1.7 .9-1.3 .9-.6 .9-.1 .9-.2 .9-.4 .9-.1 .9 0 .9-.2 .9-.3 .9-.2 1-.4 .9-.6 .9-.7 .9-.7 .9-.6 .9-.5 .9-1.1 .9-1.6 .9-1 .9 0 .9 0 .9-.5 .9-.8 .9-.8 .9-.3 .9-.4 .9-.9 .9-.9 .9-.2 .9 0 .9-.3 .9-1.1 .9-1.3 .9-.7 .9-.1 .9 .2 .9 .5 .9 .5 .9 0 .9-.4 .9-.2 .9 .3 .9 .5 .9-.4 .9-1.4 .9-1 .9-.3 .9-.1 .9-1 .9-1.4 .9-.2 .9 .8 .9 .3 .9 0 .9 .7 .9 .6 .9-.4 .9-.9 .9-.5 .9-.2 1 .1 .9 .3 .9-.1 .9-.7 .9-.5 .9 .2 .9 .5 .9 .1 .9-.3 .9 .1 .9 .4 .9 .1 .9-.4 .9-.7 .9-.7 .9-.3 .9 .4 .9 .8 .9 .8 .9 .5 .9-.1 .9-.3 .9-.4 .9-.8 .9-1.2 .9-.8 .9-.4 .9-.1 .9 0 .9 .4 .9 .2 .9-.1 .9 0 .9-.2 .9-.9 .9-1 .9-.1 .9 .4 .9 .3 .9 .2 .9 .1 .9-.1 .9 0 .9 .8 .9 .7 .9 0 .9-.5 .9-.2 .9 .1 .9 0 1-.3 .9-.5 .9-.5 .9-.2 .9-.4 .9-.7 .9-.9 .9-.4 .9 .3 .9 .9 .9 1.2 .9 .8 .9-.3 .9-1.1 .9-1 .9-.6 .9 .4 .9 1.1 .9 .6 .9-.1 .9 .4 .9 1.4 .9 .3 .9-1.7 .9-1.8 .9-.4 .9 .4 .9 .1 .9 0 .9-.1 .9 0 .9-.2 .9 0 .9 .4 .9 .5 .9 .7 .9 .9 .9 0 .9-1 .9-1 .9-.2 .9 .4 .9 .1 .9 .1 .9 .8 .9 1.3 .9 1 .9 .1 .9-1 .9-.9 .9-.8 1-.5 .9-.3 .9 .3 .9 .6 .9 .2 .9 .4 .9 .5 .9 0 .9-.4 .9-.4 .9-.4 .9-.3 .9-.7 .9-.3 .9 .3 .9 0 .9-.7 .9-.6 .9-.1 .9 .5 .9 .1 .9-.2 .9 .5 .9 1.2 .9 1 .9 .2 .9-.1 .9 .4 .9 .7 .9 .3 .9-.7 .9-1.3 .9-.5 .9 .8 .9 .8 .9 .1 .9 0 .9-.3 .9-.6 .9-.6 .9 .3 .9 .6 .9-.3 .9-.7 .9-.2 .9 .3 .9 .8 .9 .1 .9-.7 1-.8 .9-.4 .9 .2 .9 1 .9 .9 .9 0 .9-.5 .9-.6 .9-.7 .9-.8 .9-.5 .9 .1 .9 .8 .9 1.2 .9 .8 .9 .2 .9 .1 .9 .2 .9-.5 .9-1 .9-.4 .9 .4 .9 .5 .9 .3 .9 .1 .9 .1" fill="none" stroke="#C0845A" stroke-width="2.0" stroke-opacity="0.85" stroke-linejoin="round" stroke-linecap="round"/><path d="M19.4 334.2l.9-.1 .9-.2 .9-.5 .9-.5 .9-3.8 .9-8.6 .9-11 .9-11.4 .9-10.3 .9-10.8 .9-11.6 .9-9 .9-4.2 .9-.6 .9 .2 .9 .5 .9-.1 .9-.9 .9-1 .9 .1 .9 .5 .9 0 .9-.8 .9-.9 1-.4 .9 0 .9 .6 .9 1 .9 .6 .9-.4 .9-1 .9-1.3 .9-.9 .9-.5 .9-.5 .9 .2 .9 .7 .9 .2 .9-.7 .9-1.1 .9-.8 .9-.2 .9-.5 .9-1.4 .9-.7 .9 1.2 .9 2 .9 .9 .9-.4 .9-.7 .9-.4 .9-.1 .9-.1 .9-.2 .9-.6 .9-.8 .9-1.2 .9-1.3 .9-.2 .9 .8 .9 1 .9 .3 .9-.3 .9-.3 .9-.4 .9-.4 .9-.1 .9-.1 .9-.7 .9-1.3 .9-.8 .9 .2 .9 .8 .9 .8 1 .2 .9-.8 .9-1.6 .9-1.8 .9-.4 .9 .9 .9 1 .9 .4 .9-.2 .9-.6 .9-1 .9-.7 .9 .5 .9 .6 .9-.4 .9-.5 .9-.1 .9-.2 .9-.2 .9-.1 .9-.1 .9-.4 .9-.3 .9 0 .9-.5 .9-.9 .9-1.2 .9-1 .9-.1 .9 .6 .9 .1 .9-.4 .9 0 .9-.2 .9-.9 .9-.8 .9 .1 .9 .8 .9 .1 .9-1 .9-.3 .9 .1 .9-.2 .9 0 .9-.1 .9-.4 .9-.1 .9 .5 .9 0 .9-.9 1-1.4 .9-1 .9-.2 .9 1.1 .9 1.8 .9 1 .9-.7 .9-1.3 .9-.7 .9-.4 .9-.5 .9-.6 .9-.3 .9 .3 .9 .2 .9-.4 .9-.5 .9-.5 .9-.3 .9 .3 .9 .8 .9-.2 .9-.6 .9-.6 .9-.7 .9-.6 .9 0 .9 .5 .9 .8 .9 .6 .9 .2 .9-.1 .9-.4 .9-.2 .9 .2 .9 .7 .9 .5 .9-.4 .9-.8 .9-.3 .9 .1 .9-.3 .9-.8 .9-1.3 .9-.5 .9 .6 .9 .5 .9 .2 .9 .8 .9 .8 .9 .7 1 .6 .9 .3 .9-.2 .9-.9 .9-1.3 .9-.9 .9-.3 .9-.2 .9 .7 .9 1.4 .9 .9 .9-.3 .9-.4 .9 .1 .9 0 .9 0 .9 .6 .9 .3 .9-.3 .9-.5 .9-.9 .9-1 .9 .2 .9 1.1 .9 .4 .9-.3 .9 0 .9 .5 .9 .1 .9-.2 .9 .2 .9 .4 .9 .4 .9 .2 .9-.7 .9-1.6 .9-1 .9 .6 .9 1 .9 .3 .9-.2 .9 .4 .9 1 .9 .4 .9-.2 .9-.4 .9-1 .9-.8 .9-.2 1 .1 .9-.2 .9-.8 .9-.8 .9 0 .9 .6 .9 .6 .9 .7 .9 .7 .9 .3 .9-.5 .9-.7 .9-.1 .9 .2 .9-.2 .9-.6 .9 0 .9 1.1 .9 1.1 .9 .4 .9-.3 .9-1 .9-1.1 .9 .2 .9 1.2 .9 .6" fill="none" stroke="#91A5DC" stroke-width="2.0" stroke-opacity="0.85" stroke-linejoin="round" stroke-linecap="round"/><path d="M19.4 334.2l.9-.1 .9-.2 .9-.3 .9-.7 .9-4 .9-8.6 .9-11.2 .9-11.7 .9-9.9 .9-10 .9-10.8 .9-7.8 .9-2.7 .9-.5 .9-.9 .9-.5 .9-.9 .9-1.1 .9-.3 .9 .8 .9 1.5 .9 .8 .9-.4 .9-.6 1 0 .9 .5 .9-.3 .9-1.4 .9-1.6 .9-1 .9 .1 .9 .9 .9 .6 .9-.1 .9-.3 .9-.6 .9-1.2 .9-1.1 .9-.6 .9-.9 .9-1.1 .9-.5 .9 .1 .9 .5 .9 .9 .9 1.1 .9 .5 .9-.1 .9-.7 .9-1.5 .9-1.1 .9 .1 .9-.2 .9-.6 .9-.5 .9-.5 .9-.2 .9 .5 .9 .7 .9 0 .9-.5 .9-1 .9-1.6 .9-.6 .9 .8 .9 1.4 .9 .7 .9-.2 .9-1 .9-.8 .9-.2 .9 0 .9 0 .9-.2 1-.2 .9-.3 .9-.5 .9-1.2 .9-.7 .9 .3 .9 .6 .9 .2 .9-.2 .9-.3 .9-.4 .9-.5 .9-.6 .9-.5 .9 .3 .9 .8 .9 .6 .9 .3 .9-.8 .9-2 .9-2 .9-.6 .9 .4 .9 .2 .9-.3 .9-.4 .9-.2 .9 .6 .9 1.2 .9 .9 .9 .1 .9-.6 .9-.9 .9-1 .9-.5 .9 .4 .9-.1 .9-.4 .9-.2 .9-.3 .9-.7 .9-1.2 .9-.8 .9-.1 .9 .6 .9 .7 .9-.1 .9-1 .9-.8 .9 .1 1 .2 .9-.7 .9-.5 .9 .6 .9 .8 .9-.1 .9-.5 .9-.5 .9-.1 .9 .2 .9-.1 .9-.7 .9-1.1 .9-.6 .9 .5 .9 .7 .9 .4 .9 .2 .9 0 .9-.8 .9-1.2 .9-.6 .9-.2 .9 .2 .9 .8 .9 .7 .9 .1 .9-.5 .9-.6 .9-.4 .9 .3 .9 .1 .9-.7 .9-.9 .9-.8 .9-.5 .9-.4 .9-.8 .9-.6 .9 .6 .9 1 .9 0 .9-.1 .9 .3 .9 .4 .9 .4 .9 .1 .9-.4 .9-.1 .9 .8 .9 .3 1-.9 .9-1.4 .9-.3 .9 .7 .9 .5 .9-.1 .9 .4 .9 1 .9 .5 .9-.4 .9-1 .9-1.1 .9-.7 .9 0 .9-.1 .9-1 .9-.4 .9 .9 .9 1.4 .9 1 .9 .1 .9-.8 .9-.9 .9-.4 .9-.2 .9 .1 .9 0 .9-.2 .9 .3 .9 .6 .9 .3 .9 .1 .9 .5 .9-.1 .9-.4 .9 .1 .9 .2 .9 .1 .9 .3 .9 .8 .9 .8 .9-.3 .9-1.2 .9-1.2 .9-.9 .9-.7 .9 .2 .9 1 .9 .6 1 .2 .9-.1 .9-.4 .9 0 .9 .7 .9 .8 .9 0 .9-.6 .9-.5 .9-.5 .9 .2 .9-.1 .9-1.4 .9-1.2 .9 .9 .9 2.1 .9 1 .9-.5 .9-.3 .9 .2 .9 0 .9-.2 .9 .3 .9 .4 .9 .1 .9 0" fill="none" stroke="#B67FAA" stroke-width="2.0" stroke-opacity="0.85" stroke-linejoin="round" stroke-linecap="round"/><path d="M19.4 334.2l.9-.1 .9-.2 .9-.3 .9-.6 .9-3.9 .9-8.7 .9-11.2 .9-11.8 .9-10.5 .9-10.2 .9-11.3 .9-9.9 .9-4.6 .9-.1 .9 .2 .9-.8 .9-.9 .9-.3 .9-.8 .9-1.1 .9-.1 .9 .8 .9 .9 .9 .6 1 .5 .9 .7 .9 .7 .9 .9 .9 1.6 .9 2 .9 .7 .9-.7 .9-.9 .9-.2 .9 .6 .9 .9 .9 .6 .9 .2 .9-.2 .9-.9 .9-1.4 .9-1.7 .9-.8 .9 .3 .9 .9 .9 .6 .9 .1 .9-.1 .9 .1 .9 .1 .9-.6 .9-.9 .9 0 .9 .6 .9 .3 .9-.5 .9-.7 .9-.6 .9-.9 .9-1.1 .9-.9 .9-.4 .9 .6 .9 1.1 .9 .3 .9-.8 .9-1.3 .9-.4 .9 1 .9 1.1 .9 .4 .9-.3 .9-.7 .9-.6 1-.3 .9-.4 .9-.5 .9-.5 .9-.6 .9-.6 .9-.4 .9 .3 .9 .8 .9 0 .9-1.2 .9-1.9 .9-.9 .9 .5 .9 .1 .9-.1 .9 .7 .9 .8 .9-.3 .9-1.3 .9-.8 .9 .5 .9 1 .9 .3 .9-.5 .9-.4 .9 .1 .9 .4 .9-.1 .9-.5 .9-.2 .9-.4 .9-.4 .9-.4 .9-1.2 .9-1.6 .9-.7 .9 .4 .9 1.3 .9 1 .9 .1 .9-.4 .9-.7 .9-.5 .9 .4 .9 1.1 .9 1.3 .9 .4 .9-.7 .9-1.7 1-2.2 .9-1.3 .9 .6 .9 1.7 .9 1 .9-.5 .9-1.7 .9-1.9 .9-.8 .9 .8 .9 1.9 .9 1.2 .9-.5 .9-.8 .9 .1 .9 .5 .9 .4 .9 0 .9-.7 .9-1 .9 .1 .9 .9 .9 .2 .9-.9 .9-.6 .9-.1 .9-.1 .9 .4 .9 .3 .9-1 .9-.9 .9 .9 .9 .8 .9-.7 .9-1.2 .9 .3 .9 1.3 .9 .5 .9-.5 .9-.6 .9-.3 .9 .1 .9 .4 .9-.4 .9-.4 .9 .1 .9 .3 .9 .2 .9 .2 .9 .1 .9-.5 1-.8 .9-.4 .9 .3 .9 .3 .9-.3 .9-.7 .9-.3 .9-.1 .9-.1 .9 .3 .9 .3 .9-.2 .9-.6 .9-.1 .9 .3 .9 .2 .9 .5 .9 .4 .9-.1 .9 0 .9 .1 .9-.2 .9-.3 .9 0 .9-.7 .9-.9 .9 .1 .9 .9 .9 .8 .9 .2 .9-.5 .9-1 .9-.2 .9 .4 .9-.1 .9-.7 .9-.4 .9 .3 .9 .1 .9-.5 .9-.8 .9-.3 .9 .1 .9 .3 .9 .4 .9 .5 .9 .6 .9 .2 .9-.6 1-.3 .9 .5 .9 .2 .9-.5 .9-.1 .9 .3 .9-.3 .9-1.2 .9-1.1 .9-.1 .9 .9 .9 1.1 .9 .9 .9 .1 .9-.8 .9-1.3 .9-.6 .9 .1 .9 0 .9-.1 .9 .2 .9 .5 .9 .8 .9 1 .9 .8 .9 .2" fill="none" stroke="#FCAE62" stroke-width="2.0" stroke-opacity="0.85" stroke-linejoin="round" stroke-linecap="round"/><path d="M19.4 334.2l.9-.1 .9-.2 .9-.5 .9-.5 .9-3.6 .9-8.4 .9-11.3 .9-12 .9-10.5 .9-10.5 .9-11.3 .9-9.1 .9-3.9 .9-.4 .9 .1 .9 1.1 .9 .6 .9-.2 .9 .2 .9 .5 .9 .5 .9 .3 .9 .3 .9 .3 1 .5 .9 .7 .9 .7 .9 .7 .9 .5 .9-.1 .9-.5 .9-.5 .9 .2 .9 .9 .9 .9 .9 .2 .9 0 .9-.4 .9-.4 .9-.4 .9-.3 .9 .4 .9 .6 .9-.6 .9-1.8 .9-1.3 .9-.1 .9 .3 .9 .7 .9 1.4 .9 .7 .9-.4 .9-.3 .9 .2 .9-.4 .9-.4 .9-.1 .9 0 .9 .8 .9 1.2 .9 .1 .9-.9 .9-.6 .9 0 .9 .1 .9-.3 .9 0 .9-.2 .9-.7 .9-.6 .9 .6 .9 1.3 .9 .9 .9 .2 1-.6 .9-.8 .9-.2 .9 .3 .9 .1 .9 .3 .9 .1 .9-.1 .9 .3 .9 .2 .9-.6 .9-.8 .9-.2 .9 .4 .9-.1 .9-.5 .9 .2 .9 .3 .9-.7 .9-1.2 .9-.6 .9-.2 .9 0 .9 .5 .9 .7 .9 .5 .9-.2 .9-.7 .9-.5 .9 0 .9 .9 .9 1.1 .9 0 .9-1.3 .9-.7 .9 .3 .9 .1 .9-.5 .9-.9 .9-1 .9-.6 .9 .8 .9 1.8 .9 1.5 .9 .1 .9-1.3 .9-1.2 .9 .1 .9 .6 .9 .1 1-.7 .9-.4 .9-.1 .9 .4 .9 .4 .9-.4 .9-.7 .9-.1 .9 .3 .9 .2 .9 .5 .9 .3 .9 0 .9 .1 .9-.1 .9-1.2 .9-1.4 .9-.7 .9-.5 .9-.5 .9-.4 .9 .4 .9 1.4 .9 1.5 .9 .8 .9-.1 .9-.5 .9-.2 .9-.2 .9-.8 .9-.8 .9 .1 .9 .9 .9 .6 .9-.1 .9-.7 .9-.4 .9-.1 .9-.2 .9-.1 .9 .5 .9 .6 .9 .3 .9 0 .9-.6 .9-1.5 .9-1.4 .9-.6 .9-.2 .9-.1 .9 .5 1 .6 .9 .3 .9-.3 .9-.6 .9-.1 .9 .1 .9-.1 .9-.2 .9 0 .9-.1 .9 .1 .9 .7 .9 .7 .9 .4 .9 .1 .9 0 .9-.7 .9-.8 .9-.3 .9 0 .9-.1 .9 .2 .9 .4 .9 .2 .9-.8 .9-1.7 .9-1.1 .9 .1 .9 .4 .9-.4 .9-.6 .9 .2 .9 .6 .9 .7 .9 .6 .9 .5 .9 .2 .9 .1 .9-.1 .9-.3 .9-.5 .9-.3 .9-.5 .9-.8 .9-.6 .9-.2 .9-.2 .9 .1 .9 .3 1 .4 .9 .6 .9 .9 .9-.1 .9-2 .9-2.5 .9-1.1 .9 .5 .9 .9 .9 .2 .9-.2 .9 .3 .9 .5 .9-.2 .9-.8 .9-.8 .9 0 .9 1.2 .9 1 .9-.2 .9-.8 .9-1.2 .9-1.2 .9-.2 .9 .7 .9 .8" fill="none" stroke="#E2D2C8" stroke-width="2.0" stroke-opacity="0.85" stroke-linejoin="round" stroke-linecap="round"/><path d="M19.4 334.2l.9-.1 .9-.2 .9-.5 .9-.6 .9-3.7 .9-8.5 .9-11.2 .9-12.1 .9-11 .9-11 .9-11.5 .9-8.7 .9-2.7 .9 1.2 .9 .4 .9-.9 .9-.7 .9 .4 .9 1 .9 .8 .9 .6 .9 .7 .9 .7 .9 .6 1 .2 .9-.3 .9-.4 .9-.2 .9 .4 .9 .6 .9 1.2 .9 1.7 .9 1.4 .9 .6 .9 0 .9 .3 .9 .6 .9 .9 .9 .9 .9 1.1 .9 1 .9 .2 .9-.7 .9-1 .9-.5 .9-.3 .9-1 .9-1.7 .9-1.5 .9-.3 .9 .8 .9 1 .9 .4 .9 .3 .9 .6 .9 .6 .9 .1 .9-.4 .9-.4 .9 0 .9 .2 .9 .3 .9 0 .9 0 .9 .1 .9 .4 .9-.2 .9-1 .9-1.3 .9-.8 .9 0 .9 .7 .9 .9 .9 .6 1 .2 .9 .1 .9 .4 .9 .7 .9 1.1 .9 1.1 .9 .3 .9-.8 .9-1 .9-.4 .9 .2 .9 .4 .9 .2 .9 .2 .9-.1 .9-.4 .9-.6 .9-.5 .9-.1 .9 .2 .9 .3 .9 .4 .9 0 .9-.9 .9-1.4 .9-.9 .9 0 .9 .4 .9 .7 .9 1.2 .9 1.2 .9 .7 .9 .5 .9 .6 .9 .7 .9 .6 .9 .4 .9 .2 .9-.4 .9-.4 .9 .1 .9 .8 .9 1.2 .9 1.1 .9 .3 .9-.3 .9-.7 .9-.9 .9-.9 .9-.5 1 .1 .9 .5 .9-.3 .9-1.3 .9-1.5 .9-.2 .9 1 .9 1 .9 .4 .9 .1 .9 .3 .9 0 .9-.8 .9-1.2 .9 0 .9 1.4 .9 1.4 .9-.1 .9-1.7 .9-2.3 .9-1.3 .9-.2 .9 .4 .9 .5 .9 1 .9 1.2 .9 .5 .9 .1 .9 0 .9-.1 .9-.9 .9-1.3 .9-.7 .9 .2 .9 .7 .9 .2 .9-.5 .9-.7 .9-.1 .9 .5 .9 .2 .9-.5 .9-.7 .9-.2 .9 .3 .9 .4 .9 .3 .9 .3 .9 .5 .9 .6 .9 .5 1-.3 .9-1.4 .9-1.8 .9-1.2 .9 .2 .9 1.5 .9 1.9 .9 1.2 .9 .1 .9-.6 .9-1.1 .9-.8 .9 .4 .9 1.4 .9 1.3 .9-.1 .9-.9 .9-.5 .9 .1 .9 .2 .9-.3 .9-.7 .9-.4 .9 .2 .9 .8 .9 .7 .9-.1 .9-.8 .9-.7 .9-.2 .9 .2 .9 .1 .9-.1 .9-.2 .9-.2 .9-.3 .9-.6 .9-.3 .9-.2 .9-.5 .9-.3 .9 1.1 .9 2 .9 1.1 .9-.9 .9-1.3 .9-.6 .9-.5 .9-.7 1-.4 .9 .5 .9 .7 .9 .2 .9-.7 .9-1.2 .9-.9 .9-.3 .9 0 .9 .4 .9 .4 .9-.2 .9-.6 .9 .3 .9 1.2 .9 .8 .9-.1 .9-.2 .9-.1 .9-.2 .9-.4 .9-.1 .9-.1 .9-.1 .9-.2 .9 0" fill="none" stroke="#8E8E8E" stroke-width="2.0" stroke-opacity="0.85" stroke-linejoin="round" stroke-linecap="round"/><path d="M19.4 334.2l.9-.1 .9-.2 .9-.2 .9-.4 .9-3.6 .9-8.5 .9-11.1 .9-11.7 .9-10.7 .9-10.9 .9-11.2 .9-8.7 .9-4.4 .9-1.6 .9-1 .9 .2 .9 1 .9 .6 .9 .3 .9 .2 .9 .1 .9-.2 .9 0 .9 .5 1 .8 .9 .5 .9 .1 .9 .3 .9 .8 .9 1.3 .9 1.3 .9 .4 .9-.1 .9 .3 .9 1 .9 1 .9 .4 .9-.2 .9-.5 .9-.1 .9 .8 .9 1.4 .9 1 .9 .4 .9 .6 .9 .9 .9 .2 .9 .1 .9 .7 .9 .9 .9 .7 .9 .2 .9-.3 .9-.9 .9-1.3 .9-.6 .9 .5 .9 .9 .9 0 .9-1 .9-.7 .9 .4 .9 .6 .9 .2 .9 .3 .9 .4 .9 .3 .9 0 .9 .6 .9 .4 .9-.4 .9-1 .9-.5 .9 .5 1 1.1 .9 1.1 .9 .8 .9 .6 .9 0 .9-.5 .9-1.1 .9-1.2 .9-.7 .9 .2 .9 .6 .9 .5 .9 .1 .9-.3 .9-.6 .9-.9 .9-.7 .9-.3 .9 .4 .9 .7 .9 .7 .9 .9 .9 1.2 .9 1.6 .9 1.3 .9 .3 .9-.8 .9-.7 .9-.7 .9-1.1 .9-1.4 .9-.4 .9 .8 .9 1.5 .9 1.4 .9 .6 .9-.2 .9-.4 .9-.4 .9-.9 .9-1.2 .9-.8 .9-.7 .9-.8 .9-.6 .9 .3 .9 .7 .9 .8 .9 .9 .9 1 1 .7 .9 .3 .9-.1 .9-.5 .9-1.2 .9-1.4 .9-1.3 .9-.7 .9-.4 .9 .1 .9 .6 .9 .4 .9-.2 .9-.3 .9-.1 .9 .2 .9 .2 .9 .1 .9 0 .9-.1 .9 .7 .9 1.7 .9 1.8 .9 .2 .9-1.5 .9-2.2 .9-1.4 .9-.4 .9 1.1 .9 2.1 .9 1.8 .9 .3 .9-1.3 .9-1.3 .9-.5 .9 .3 .9 .1 .9-.4 .9-.7 .9-.6 .9-.1 .9 .9 .9 1.6 .9 2.1 .9 1.7 .9 .4 .9-1.2 .9-1.4 .9 0 .9 1 .9 .9 1 .3 .9 0 .9-.2 .9 0 .9 .1 .9-.7 .9-1.7 .9-2.2 .9-1.4 .9 .2 .9 1.3 .9 1.5 .9 1.3 .9 .5 .9-.3 .9-.8 .9-.5 .9 .3 .9 1.1 .9 .7 .9-.3 .9-.7 .9-.8 .9-.6 .9-.5 .9 0 .9 .1 .9-.3 .9-.6 .9-.5 .9 .2 .9 .9 .9 .6 .9 0 .9-.6 .9-.6 .9-.4 .9 .2 .9 .9 .9 .8 .9 .1 .9 0 .9-.1 .9-.5 .9-1.1 .9-.9 .9-.2 .9 .1 .9 .4 1 1 .9 1 .9-.1 .9-.9 .9-.5 .9 .5 .9 1.1 .9 1.1 .9 .5 .9 .2 .9 .2 .9 .3 .9 .3 .9 0 .9-.7 .9-1.5 .9-.9 .9 .2 .9 .6 .9 .1 .9 .1 .9 .5 .9 .5 .9 .2 .9-.1 .9 0" fill="none" stroke="#7AC8BE" stroke-width="2.0" stroke-opacity="0.85" stroke-linejoin="round" stroke-linecap="round"/><path d="M19.4 334.2l.9-.2 .9-.5 .9-.6 .9-1.1 .9-1.7 .9-3.2 .9-5.4 .9-11.1 .9-14 .9-9.7 .9-8.4 .9-11.6 .9-19.1 .9-2.7 .9-1.4 .9-1.3 .9-.9 .9-.5 .9-.3 .9-.2 .9-.2 .9-.5 .9-.8 .9-.7 1-.7 .9-.8 .9-.9 .9-.6 .9-.5 .9-.4 .9-.6 .9-.6 .9-.4 .9-.2 .9-.1 .9-.1 .9-.3 .9-.4 .9-.5 .9-.6 .9-.5 .9-.6 .9-.7 .9-.6 .9-.3 .9 0 .9 .2 .9 0 .9-.2 .9-.2 .9-.1 .9-.2 .9-.4 .9-.7 .9-.7 .9-.4 .9 0 .9 .2 .9 .3 .9 .1 .9-.3 .9-.6 .9-.5 .9-.2 .9 .2 .9 .3 .9-.2 .9-.6 .9-.2 .9 .2 .9 .4 .9 0 .9-.3 .9-.6 1-.4 .9 .1 .9 .5 .9 .5 .9 .3 .9 0 .9-.2 .9-.2 .9-.3 .9-.3 .9-.2 .9-.1 .9 .2 .9 .3 .9 .2 .9 .2 .9 .1 .9 0 .9-.1 .9 0 .9 .3 .9 .1 .9-.2 .9-.4 .9-.3 .9 0 .9 0 .9-.1 .9-.1 .9-.1 .9-.2 .9-.1 .9-.1 .9-.2 .9-.1 .9 .1 .9 .3 .9 .4 .9 .3 .9 .1 .9-.2 .9-.5 .9-.5 .9-.3 .9 .1 .9 .3 .9 .2 .9 .2 .9 .4 .9 .3 1 .1 .9-.3 .9-.5 .9-.4 .9 .3 .9 .6 .9 .5 .9 .3 .9 0 .9-.1 .9-.4 .9-.5 .9-.5 .9-.2 .9 .1 .9 .3 .9 .2 .9-.2 .9-.3 .9-.4 .9-.3 .9-.3 .9-.2 .9 .2 .9 .5 .9 .5 .9 .3 .9 .1 .9 .1 .9 .1 .9 .1 .9 0 .9-.2 .9-.2 .9-.1 .9 .1 .9 .1 .9 .3 .9 .2 .9 .3 .9 0 .9-.1 .9-.1 .9-.1 .9-.1 .9-.1 .9-.3 .9-.3 .9-.3 .9-.1 .9 0 1 0 .9 .1 .9 0 .9 .2 .9 .2 .9 0 .9-.1 .9-.2 .9-.1 .9 .1 .9-.1 .9-.2 .9-.1 .9 .1 .9 0 .9 .1 .9 0 .9 .1 .9 .3 .9 .5 .9 .6 .9 .5 .9 .1 .9-.2 .9-.6 .9-.5 .9-.2 .9 0 .9-.1 .9-.3 .9-.2 .9 .2 .9 .3 .9 .1 .9 0 .9 .1 .9 .3 .9 .2 .9 0 .9-.3 .9-.4 .9-.1 .9 0 .9 .1 .9-.2 .9-.5 .9-.1 .9 .1 .9 .1 1-.1 .9-.2 .9-.1 .9 0 .9 0 .9 .1 .9 0 .9 .1 .9 .3 .9 .1 .9-.3 .9-.4 .9-.3 .9 .1 .9 .3 .9 .3 .9 0 .9 0 .9 0 .9 .2 .9 .2 .9 .2 .9-.1 .9-.4 .9-.7 .9-.6" fill="none" stroke="#F6705F" stroke-width="2.4" stroke-opacity="1.0" stroke-linejoin="round" stroke-linecap="round"/></g><rect x="19.5" y="207.5" width="226.0" height="134.0" fill="none" stroke="#a8a8a8" stroke-width="1"/><line x1="19.4" y1="341.5" x2="19.4" y2="343.0" stroke="#777" stroke-width="0.8"/><text x="19.4" y="351.3" text-anchor="middle" class="tk">0</text><line x1="64.5" y1="341.5" x2="64.5" y2="343.0" stroke="#777" stroke-width="0.8"/><text x="63.3" y="351.3" text-anchor="middle" class="tk">500</text><line x1="109.6" y1="341.5" x2="109.6" y2="343.0" stroke="#777" stroke-width="0.8"/><text x="109.6" y="351.3" text-anchor="middle" class="tk">1000</text><line x1="154.7" y1="341.5" x2="154.7" y2="343.0" stroke="#777" stroke-width="0.8"/><text x="154.7" y="351.3" text-anchor="middle" class="tk">1500</text><line x1="199.8" y1="341.5" x2="199.8" y2="343.0" stroke="#777" stroke-width="0.8"/><text x="198.5" y="351.3" text-anchor="middle" class="tk">2000</text><text x="209.2" y="351.3" class="tk it">[Iter.]</text><line x1="18.0" y1="334.2" x2="19.5" y2="334.2" stroke="#777" stroke-width="0.8"/><text x="16.3" y="337.8" text-anchor="end" class="tk">0.0</text><line x1="18.0" y1="310.86" x2="19.5" y2="310.86" stroke="#777" stroke-width="0.8"/><text x="16.3" y="314.46" text-anchor="end" class="tk">0.2</text><line x1="18.0" y1="287.52" x2="19.5" y2="287.52" stroke="#777" stroke-width="0.8"/><text x="16.3" y="291.12" text-anchor="end" class="tk">0.4</text><line x1="18.0" y1="264.18" x2="19.5" y2="264.18" stroke="#777" stroke-width="0.8"/><text x="16.3" y="267.78" text-anchor="end" class="tk">0.6</text><line x1="18.0" y1="240.84" x2="19.5" y2="240.84" stroke="#777" stroke-width="0.8"/><text x="16.3" y="244.44" text-anchor="end" class="tk">0.8</text><line x1="18.0" y1="217.5" x2="19.5" y2="217.5" stroke="#777" stroke-width="0.8"/><text x="16.3" y="221.1" text-anchor="end" class="tk">1.0</text><text x="128.3" y="363.5" text-anchor="middle" class="tt">(c) Normalized Episode Length</text><rect x="270.5" y="207.5" width="226.0" height="134.0" fill="#ffffff"/><line x1="270.9" y1="207.5" x2="270.9" y2="341.5" stroke="#ebebeb" stroke-width="0.8"/><line x1="316.1" y1="207.5" x2="316.1" y2="341.5" stroke="#ebebeb" stroke-width="0.8"/><line x1="361.3" y1="207.5" x2="361.3" y2="341.5" stroke="#ebebeb" stroke-width="0.8"/><line x1="406.5" y1="207.5" x2="406.5" y2="341.5" stroke="#ebebeb" stroke-width="0.8"/><line x1="451.7" y1="207.5" x2="451.7" y2="341.5" stroke="#ebebeb" stroke-width="0.8"/><line x1="270.5" y1="334" x2="496.5" y2="334" stroke="#ebebeb" stroke-width="0.8"/><line x1="270.5" y1="308.84" x2="496.5" y2="308.84" stroke="#ebebeb" stroke-width="0.8"/><line x1="270.5" y1="283.68" x2="496.5" y2="283.68" stroke="#ebebeb" stroke-width="0.8"/><line x1="270.5" y1="258.52" x2="496.5" y2="258.52" stroke="#ebebeb" stroke-width="0.8"/><line x1="270.5" y1="233.36" x2="496.5" y2="233.36" stroke="#ebebeb" stroke-width="0.8"/><line x1="270.5" y1="208.2" x2="496.5" y2="208.2" stroke="#ebebeb" stroke-width="0.8"/><g clip-path="url(#cd)"><path d="M270.9 332.8l.9-.4 .9-.1 .9-.8 .9-.9 .9-2 .9-2.8 .9-2.4 .9-4.5 .9-5.9 .9-4.9 .9-6.1 .9-8.3 1-7.9 .9-5.6 .9-4.9 .9-2.8 .9-1.5 .9-3.5 .9-4.3 .9-2.4 .9-2.2 .9-3.1 .9-1.2 .9-1.9 .9-2 .9-2.8 .9-2.1 .9-1.4 .9-.6 .9-1.4 .9-2.5 .9-1.5 .9-1.6 .9-1.4 .9-1 .9-.4 .9-1 1-1 .9 .4 .9-.5 .9-1.1 .9-1.3 .9-.7 .9-.5 .9 0 .9-.5 .9-.5 .9 .5 .9 .7 .9-1.3 .9-1.3 .9-.4 .9 .1 .9-.3 .9-.2 .9 .1 .9-.9 .9-.8 .9-.1 .9 .3 .9-1.6 .9-1.6 1 .7 .9 .6 .9-.2 .9-1.3 .9-.6 .9 .6 .9 .8 .9-.2 .9-.1 .9-.4 .9-1.7 .9 .7 .9 1.3 .9-1.6 .9-1 .9 .8 .9-.5 .9-.7 .9 .9 .9 1.1 .9-.1 .9 .2 .9-.1 .9 .4 .9-.5 1-.7 .9-.7 .9-.2 .9 .8 .9-.7 .9-1.1 .9-.3 .9 .9 .9 .6 .9-.7 .9-.8 .9 .6 .9 .3 .9-.2 .9-.7 .9 1.8 .9 1.8 .9-1.3 .9-.5 .9-.6 .9-.3 .9-.1 .9 .5 .9 .6 .9-1.4 1-.1 .9 .5 .9-.3 .9 .4 .9-.2 .9-.9 .9-.7 .9-.5 .9 .2 .9-.1 .9 0 .9 .7 .9 1.5 .9 .8 .9 .7 .9-1.3 .9-2 .9 .4 .9 1.2 .9-.1 .9-.5 .9 .7 .9-1.3 .9-.6 .9 .2 1-.1 .9 0 .9 1.4 .9 1.4 .9-.5 .9-1.5 .9-.8 .9 .7 .9 1 .9 0 .9 0 .9-.1 .9 .9 .9-1.1 .9-1.7 .9-.2 .9 .2 .9 1.5 .9 .4 .9-.4 .9-.2 .9 0 .9-1.8 .9-1.4 .9 1.1 1 1.8 .9 .9 .9-1 .9-.3 .9 1.2 .9 .6 .9 .5 .9 .1 .9-.7 .9-.7 .9-1.6 .9-.8 .9 .8 .9 .7 .9-.3 .9-.6 .9 .3 .9 .4 .9-.2 .9-.5 .9 .9 .9 .9 .9-.1 .9 .2 .9 .1 1 0 .9-.6 .9-1.3 .9-.2 .9-.1 .9-.1 .9-.7 .9 .3 .9 .9 .9-.5 .9 .1 .9 .7 .9 .9 .9-.5 .9-.5 .9 .8 .9 1 .9 0 .9-.8 .9-.5 .9-.5 .9 .6 .9 .5 .9 .7 .9 .3 1-.9 .9 .7 .9 .2 .9-1 .9-.4 .9-.3 .9-1 .9 .2 .9 0 .9-.7 .9 .2 .9 .3 .9-.1 .9 .4 .9 .8 .9 .8 .9-.6 .9-1.6 .9-.7 .9-1 .9-.1 .9 .9 .9 .9 .9 .3 .9 0 1 .5 .9 .9 .9-.8 .9-.3 .9 1.1 .9 0 .9-.4 .9 1.4 .9 .3 .9-.1 .9-1.6 .9-1.4 .9-.9L496.9 220l-.9 .5 -.9 .8 -.9 .3 -.9 .2 -.9-1 -.9-.7 -.9 .5 -.9-.2 -.9-.2 -.9 .1 -.9-.3 -.9 .1 -1-.3 -.9-.4 -.9 .2 -.9-.6 -.9-1.1 -.9 1.5 -.9 .4 -.9 .1 -.9 .4 -.9-1 -.9 .4 -.9 1.4 -.9 .2 -.9-.9 -.9 .4 -.9-.5 -.9-.6 -.9-.1 -.9 .7 -.9 .6 -.9 .6 -.9 1.4 -.9-.5 -.9-1.7 -.9 0 -1 .5 -.9-.9 -.9-.3 -.9 .8 -.9 .1 -.9 .1 -.9-.2 -.9 .1 -.9 1.3 -.9-.4 -.9-.1 -.9-.6 -.9-.8 -.9 .4 -.9 .1 -.9 .1 -.9 .5 -.9-.4 -.9-.5 -.9-.2 -.9 1.1 -.9-.6 -.9-1.2 -.9-.4 -.9 1 -1 1.2 -.9 1.3 -.9 .1 -.9 0 -.9-.2 -.9 .5 -.9 .6 -.9-1.3 -.9-1.8 -.9-1.8 -.9-.8 -.9 1.8 -.9 1.6 -.9 .7 -.9 1 -.9-.2 -.9 1.6 -.9 0 -.9-1.6 -.9-.3 -.9 .3 -.9-1 -.9-.6 -.9 .9 -.9 .9 -1 .4 -.9-.3 -.9-.3 -.9-.7 -.9-.5 -.9-.9 -.9 .5 -.9 .7 -.9-1 -.9-1 -.9-.7 -.9 .2 -.9 .2 -.9 1.9 -.9 .7 -.9 1.2 -.9-.1 -.9-1 -.9 .6 -.9-.3 -.9-1.7 -.9-.6 -.9 .4 -.9 0 -.9 .9 -1 .6 -.9-.1 -.9 .1 -.9 .1 -.9 1.1 -.9 .5 -.9-1.4 -.9-.2 -.9 .7 -.9-.1 -.9 .4 -.9 .1 -.9-.9 -.9-1.4 -.9-.2 -.9 .7 -.9 1 -.9 1.5 -.9 .9 -.9-.7 -.9-.6 -.9 .3 -.9 .1 -.9-.9 -.9-.6 -1 .6 -.9 2.5 -.9 .3 -.9-.2 -.9-.3 -.9 0 -.9 .3 -.9 .2 -.9-.4 -.9-1.1 -.9 .2 -.9 1 -.9 .8 -.9-1.2 -.9-1.7 -.9 1.6 -.9 2.3 -.9 .1 -.9 0 -.9 1 -.9-.2 -.9-.9 -.9 0 -.9 1 -.9 .7 -1 .4 -.9-.9 -.9 .6 -.9 .8 -.9-.1 -.9-.4 -.9 1.1 -.9 1.2 -.9-1.2 -.9-2.4 -.9-.4 -.9 2 -.9 1.5 -.9 1 -.9 0 -.9 .4 -.9 1.1 -.9-.1 -.9 0 -.9-.3 -.9 .5 -.9 .9 -.9 .2 -.9 .1 -.9-.4 -1-.1 -.9 1.4 -.9 1.9 -.9 1 -.9 .2 -.9 .9 -.9 1.3 -.9 .6 -.9-.1 -.9-.2 -.9 .9 -.9 .5 -.9 .6 -.9 1.1 -.9 .5 -.9 .3 -.9-.2 -.9 1 -.9 1.6 -.9-.4 -.9 .7 -.9 2.1 -.9 1.7 -.9 .4 -.9 .5 -1 2.2 -.9 3.2 -.9 .7 -.9 .6 -.9 2.3 -.9 1.1 -.9 1.1 -.9 3 -.9-.4 -.9-1.1 -.9 2.5 -.9 2.6 -.9 2.4 -.9 1 -.9 .8 -.9 .5 -.9 .4 -.9 1.9 -.9 1.6 -.9 1.5 -.9 1.4 -.9 2.6 -.9 3.5 -.9 4 -.9 4.1 -1 7.3 -.9 7.5 -.9 6.1 -.9 4.5 -.9 2.9 -.9 3.2 -.9 2.6 -.9 2.3 -.9 1.3 -.9-.3 -.9 .5 -.9-.4 -.9-.1Z" fill="#6A9FCB" fill-opacity="0.22" stroke="none"/><path d="M270.9 334.9l.9-1.1 .9-1.2 .9-.3 .9 .3 .9-2.9 .9-4.8 .9-3.3 .9-3.3 .9-5.2 .9-7.4 .9-7.5 .9-6.9 1-4.8 .9-4.9 .9-5.7 .9-4.1 .9-1.3 .9 .2 .9-1.8 .9-2.1 .9-2 .9-2.7 .9-3 .9-.8 .9-1.3 .9-3 .9-2.6 .9-.4 .9-.3 .9-1.7 .9-2.8 .9-.9 .9-.7 .9-1.5 .9-1.6 .9-2.1 .9-.2 1 1 .9-.9 .9-1.5 .9-1.4 .9-1.6 .9-1 .9-1.3 .9-2.7 .9-.8 .9 .7 .9-.1 .9 .8 .9 .5 .9-.4 .9-.4 .9-1 .9-1.8 .9 .7 .9 1.4 .9-1 .9-1.5 .9-1.1 .9 .1 .9 .3 .9-.7 1-1 .9 .4 .9-1 .9-.2 .9 .5 .9-.3 .9 .2 .9 .8 .9 .8 .9-.8 .9 .5 .9 .2 .9-1.4 .9-.7 .9 .1 .9-1.8 .9-1.9 .9 1.3 .9 1.8 .9-1 .9-3.1 .9 .1 .9 2.2 .9 .7 .9-.8 1-.7 .9 .1 .9 .1 .9 .6 .9 .2 .9 .1 .9 0 .9 .4 .9 .6 .9-.7 .9-.2 .9-2.2 .9-1.6 .9 1.6 .9 2.7 .9-.3 .9-1.8 .9-.4 .9 .7 .9-.7 .9-.4 .9-.8 .9 .5 .9 .5 .9 .6 1-.5 .9-1.7 .9-.7 .9 1.8 .9-.6 .9-1.2 .9 0 .9 .5 .9 .4 .9 .1 .9-1.3 .9-1.2 .9 .2 .9 1.1 .9 .5 .9 .3 .9 .7 .9-1.4 .9-.3 .9 .5 .9 1.9 .9-1.2 .9-3.2 .9-.3 .9 1.9 1 1.3 .9 .3 .9 .1 .9 .2 .9-.5 .9 0 .9 .2 .9 0 .9 .1 .9 .8 .9 .5 .9 .2 .9 0 .9 1.3 .9 .8 .9-1 .9-.9 .9-1 .9-1.5 .9-.6 .9 .1 .9 .8 .9 .5 .9 0 .9 .5 1-.1 .9-1 .9-1 .9 .6 .9 1.9 .9-.5 .9-.4 .9 .3 .9-.8 .9-1.4 .9 1.3 .9 1 .9-2 .9-1.4 .9 1.3 .9 1.4 .9 .9 .9-.8 .9-1.2 .9-.6 .9 .7 .9 1 .9 .8 .9 .5 .9-.4 1-.4 .9-.7 .9 .4 .9 .1 .9-.9 .9 1.3 .9 .9 .9 .2 .9 .3 .9-.9 .9-1.6 .9-1.1 .9-.2 .9 .4 .9 .9 .9 .7 .9 .3 .9 .5 .9-.8 .9-.2 .9 .3 .9 0 .9-.4 .9 0 .9 .3 1-.4 .9-.3 .9 1.3 .9 .7 .9-.7 .9-.9 .9-.6 .9-.6 .9 1 .9 .5 .9 .3 .9 .1 .9-1.5 .9 .4 .9 1.7 .9 .1 .9-1.8 .9-1.7 .9 .4 .9 .8 .9 .6 .9 0 .9-.1 .9-.2 .9 .2 1 .3 .9 .2 .9-1.2 .9 .3 .9 2.6 .9 .3 .9-1 .9-.8 .9-1.2 .9 .4 .9 .8 .9-.5 .9-.7L496.9 224.1l-.9-1 -.9 .5 -.9 .1 -.9-1.6 -.9-.8 -.9 1.8 -.9 1.1 -.9-.8 -.9-1 -.9-.9 -.9 1 -.9 1 -1-.7 -.9-.7 -.9 .7 -.9 .5 -.9-.8 -.9-2.4 -.9-1 -.9 1.5 -.9 1.3 -.9 .9 -.9-.3 -.9-1.1 -.9-.2 -.9 .5 -.9 1.8 -.9 1.3 -.9-.4 -.9-1.3 -.9-1.7 -.9 .1 -.9 1.5 -.9 .8 -.9-.7 -.9 .1 -.9 .6 -1 .6 -.9 0 -.9 .1 -.9-.3 -.9-.9 -.9-1.5 -.9 .3 -.9 1.6 -.9 .9 -.9-.1 -.9-.3 -.9 .3 -.9 0 -.9-.1 -.9-.1 -.9 .4 -.9 .3 -.9 .9 -.9 .5 -.9 .1 -.9 1.5 -.9 1 -.9-1.2 -.9-2.1 -.9 .1 -1 1.3 -.9-2.1 -.9 .5 -.9 1 -.9-1.5 -.9-.8 -.9 1.9 -.9 2.3 -.9 0 -.9-2.5 -.9-3.2 -.9-.2 -.9 3 -.9 1.3 -.9 .2 -.9-.1 -.9 0 -.9-.2 -.9-.3 -.9-.1 -.9 .7 -.9 .2 -.9-.1 -.9 .5 -.9 .8 -1-.6 -.9 0 -.9-.6 -.9-.6 -.9-1 -.9-.4 -.9 .7 -.9 .4 -.9 1 -.9 2.3 -.9 .8 -.9 .2 -.9-1.5 -.9-1.9 -.9 .8 -.9 2.2 -.9-.1 -.9-.3 -.9 .5 -.9 0 -.9 0 -.9 .9 -.9-.5 -.9-1.8 -.9-.7 -1-.7 -.9-1.1 -.9 .5 -.9 1 -.9 1.4 -.9 1.2 -.9-.4 -.9 .3 -.9 .1 -.9 .2 -.9 1.1 -.9 .4 -.9-.1 -.9-.9 -.9-1.2 -.9 .2 -.9-.3 -.9-.4 -.9 .6 -.9 2.7 -.9 .6 -.9-.8 -.9 0 -.9 .3 -.9-.7 -1 0 -.9 .7 -.9 1.3 -.9-1.1 -.9 .1 -.9 1.7 -.9 .6 -.9 .2 -.9-.5 -.9 .1 -.9 0 -.9 .3 -.9 0 -.9-.3 -.9 .1 -.9 .4 -.9 .5 -.9 .2 -.9-.6 -.9-.5 -.9 .6 -.9-.3 -.9 .5 -.9 1 -.9-1.2 -1 .5 -.9 2.8 -.9-.2 -.9-1.3 -.9 1 -.9 1.7 -.9-.7 -.9 0 -.9 .4 -.9 .8 -.9 1.1 -.9-1.2 -.9 .2 -.9 2.6 -.9 1.1 -.9 1 -.9 1.7 -.9 .9 -.9-1.6 -.9-2.7 -.9-.6 -.9 1.8 -.9 1.4 -.9 .6 -.9-.8 -1-.4 -.9 3.2 -.9 .7 -.9-.8 -.9 .7 -.9-.1 -.9-.1 -.9 .4 -.9 1.2 -.9 1.5 -.9 1.2 -.9 0 -.9 .6 -.9-.9 -.9-1.3 -.9 1 -.9 1.2 -.9 2.7 -.9 .7 -.9-.4 -.9 1.5 -.9 2.6 -.9 1.4 -.9 1.2 -.9 .6 -1 .3 -.9-.9 -.9 .5 -.9 .6 -.9 1.7 -.9 1.8 -.9 .7 -.9 1.8 -.9 .5 -.9-.4 -.9 .8 -.9 1.7 -.9 1.2 -.9 .8 -.9 2.8 -.9 1.2 -.9 .3 -.9 .4 -.9 .8 -.9 1.1 -.9 1.3 -.9 1.9 -.9 2.3 -.9 4.3 -.9 5.9 -1 5.7 -.9 5 -.9 6.2 -.9 6.5 -.9 4.8 -.9 2.6 -.9 1.6 -.9 2 -.9 2.2 -.9 .9 -.9 .1 -.9-.3 -.9-.4Z" fill="#B2A8DB" fill-opacity="0.22" stroke="none"/><path d="M270.9 331.9l.9-1.2 .9 .2 .9 .9 .9-1.2 .9-2.9 .9-2.5 .9-3.8 .9-4.1 .9-4.2 .9-5.2 .9-7.5 .9-7.8 1-6.4 .9-5.3 .9-3.6 .9-3.3 .9-3.1 .9-1.2 .9-1.2 .9-.9 .9-1 .9-.3 .9-1.8 .9-1.9 .9-.5 .9-1.3 .9-.9 .9-1.6 .9-2.2 .9-2 .9-2 .9-1.8 .9-.6 .9-1.1 .9-2.1 .9-.8 .9-.1 1-.8 .9-.9 .9-.6 .9-2 .9-1.3 .9-.8 .9-.8 .9-.7 .9-2.7 .9-.5 .9 2.2 .9 1.1 .9-.8 .9-2.3 .9-1.4 .9 .1 .9-.6 .9-1 .9-.4 .9 1 .9 1.2 .9-1 .9-1.3 .9-1 .9-1.2 1 1 .9-.2 .9-.4 .9-.4 .9-2 .9-.3 .9 .3 .9-1.1 .9 .1 .9 .2 .9 .3 .9 1.1 .9 .3 .9-.4 .9-.8 .9-1.1 .9-.4 .9 1.3 .9 1.3 .9-.8 .9-.1 .9-.7 .9-1.2 .9-1.1 .9 .2 1 .5 .9 .8 .9-1.5 .9-.2 .9-.2 .9-.4 .9-.5 .9 .6 .9 .3 .9 1.1 .9 .8 .9-.8 .9-1.6 .9-.1 .9-.4 .9-1.4 .9-1.6 .9-.1 .9 1.8 .9 .6 .9-1.4 .9-.9 .9 .9 .9-.2 .9-.5 1 .3 .9 1.3 .9 1.2 .9 0 .9-1.8 .9-1 .9 .1 .9-.2 .9 .3 .9-.2 .9 .8 .9 1 .9-1 .9-.3 .9 .5 .9 .2 .9 .2 .9 0 .9 0 .9-1.7 .9-2.1 .9-.9 .9 1.2 .9 2.1 .9-.9 1-1.7 .9 0 .9 1.4 .9 1.5 .9 .9 .9 .2 .9-.1 .9-1.3 .9-.2 .9 .1 .9-.3 .9 .9 .9-.5 .9-.1 .9 .2 .9 .6 .9 1.7 .9 .8 .9-1.9 .9-1.9 .9-1.2 .9-.1 .9 2.2 .9 1.6 .9-.9 1-.6 .9 1 .9 .3 .9-.2 .9-1.2 .9-.6 .9-1 .9-.2 .9 1.4 .9 1.1 .9 .1 .9-1.7 .9-.7 .9 1 .9 1 .9-1.2 .9-.9 .9 .6 .9-.3 .9-.3 .9-.1 .9-.1 .9 .5 .9 2.1 .9 .9 1-1.5 .9-1 .9-.2 .9-.6 .9-1.6 .9-.2 .9 1.2 .9 1.9 .9 .9 .9-.1 .9-.7 .9-1.3 .9 1.7 .9 2.5 .9 1.2 .9-1.7 .9-.7 .9-1.8 .9-1.3 .9 .8 .9 1.4 .9 .5 .9 .7 .9-1.6 .9-1.7 1 0 .9 .7 .9 .1 .9 .1 .9 1.1 .9 .2 .9-.6 .9-.2 .9-1.1 .9-.3 .9 1 .9 .5 .9-.8 .9-1 .9-.1 .9 .4 .9 .9 .9 .7 .9 .6 .9 0 .9-.1 .9 0 .9 0 .9 .1 .9-.3 1-.3 .9 1.4 .9-.9 .9-.7 .9 .6 .9 .1 .9-1 .9-.4 .9 .8 .9 .2 .9 .1 .9-.3 .9-.7L496.9 225.8l-.9-.1 -.9 .3 -.9-.4 -.9-.6 -.9 1.7 -.9 1.4 -.9-.8 -.9-1.2 -.9 .4 -.9-.2 -.9-.1 -.9-.4 -1 .2 -.9 .4 -.9 .5 -.9 .4 -.9 .7 -.9-.2 -.9-.6 -.9 .6 -.9 .6 -.9-.7 -.9-.2 -.9 .4 -.9 .6 -.9-.6 -.9 .3 -.9-1.4 -.9-.6 -.9 2 -.9 1.3 -.9-.2 -.9-.5 -.9-.7 -.9-1.7 -.9-1.4 -.9-.2 -1 2.8 -.9 2.4 -.9-.4 -.9-.4 -.9 .2 -.9-1.4 -.9-.9 -.9 .2 -.9 .2 -.9 .3 -.9 1.8 -.9 .5 -.9-1.5 -.9-1.4 -.9 1 -.9-.9 -.9-1.4 -.9 .8 -.9 1.9 -.9 .3 -.9-1.3 -.9 .3 -.9-.6 -.9-1.2 -.9 .7 -1 1.9 -.9 0 -.9-.4 -.9 1.2 -.9 .1 -.9-1.1 -.9 1.2 -.9 2.4 -.9-1.3 -.9-1.4 -.9 1.1 -.9 .1 -.9-.8 -.9-.1 -.9 1 -.9 .8 -.9-.4 -.9-.8 -.9 1.4 -.9 .6 -.9-.5 -.9 .4 -.9-1.5 -.9-.1 -.9 0 -1 0 -.9 1 -.9-1.2 -.9-1.1 -.9 1 -.9 .4 -.9-.1 -.9 1.1 -.9 1.5 -.9 1.1 -.9-.7 -.9-.2 -.9-.1 -.9-.1 -.9-.6 -.9-.8 -.9-.6 -.9 .1 -.9 .9 -.9 1.7 -.9 1.1 -.9-.5 -.9-2 -.9-1.1 -.9 .4 -1 .6 -.9 .2 -.9-.4 -.9 .9 -.9 .4 -.9 1.3 -.9 2.2 -.9-.2 -.9-.9 -.9 1.7 -.9 .9 -.9 0 -.9-1.1 -.9-.7 -.9-1.2 -.9-2.2 -.9 .7 -.9 1.9 -.9-.6 -.9 .7 -.9 3.4 -.9 .1 -.9-1.3 -.9-.7 -.9 .6 -1 .4 -.9 .3 -.9 2 -.9-.3 -.9-1.8 -.9-1.2 -.9-.4 -.9 .3 -.9 .2 -.9 .4 -.9 .9 -.9 .5 -.9 1.1 -.9 .6 -.9 .2 -.9 .8 -.9 0 -.9 .6 -.9 .4 -.9 .2 -.9 .2 -.9 0 -.9-.9 -.9 0 -.9-.1 -1-1.4 -.9 .1 -.9 1.8 -.9 1.4 -.9 .4 -.9-.4 -.9 .9 -.9 2.1 -.9 .7 -.9-1.2 -.9 .2 -.9 .3 -.9-1.5 -.9 .7 -.9 .9 -.9 .2 -.9 .6 -.9 1.2 -.9 1.3 -.9 1.1 -.9 0 -.9-.1 -.9 .3 -.9 .3 -.9 .7 -1 .8 -.9-.2 -.9-.7 -.9 .8 -.9 .7 -.9-1.3 -.9-.7 -.9 1.8 -.9 2.9 -.9 .4 -.9 .5 -.9 1.7 -.9 .7 -.9-.2 -.9 .1 -.9 .2 -.9 .4 -.9 1.7 -.9 1.9 -.9 .4 -.9-.8 -.9 .7 -.9 2.8 -.9 1.4 -.9 .4 -1 .5 -.9 .4 -.9 1.1 -.9 1.2 -.9 .7 -.9 1.1 -.9 1.4 -.9 1.2 -.9 1.6 -.9 .3 -.9 .3 -.9-.5 -.9 1.1 -.9 .4 -.9 0 -.9 1.4 -.9 .9 -.9 .4 -.9 .2 -.9-.6 -.9 1.6 -.9 4 -.9 2.6 -.9 1.7 -.9 4.9 -1 6.2 -.9 5.2 -.9 5.8 -.9 6.5 -.9 4.3 -.9 2.7 -.9 2.7 -.9 2.4 -.9 3 -.9-.1 -.9-.3 -.9 .6 -.9-1.5Z" fill="#C0845A" fill-opacity="0.22" stroke="none"/><path d="M270.9 331.7l.9-1.1 .9 .7 .9 .2 .9-1 .9-3.3 .9-3.1 .9-2.8 .9-4.6 .9-4.2 .9-5.7 .9-6.3 .9-7.8 1-6.9 .9-5 .9-3.7 .9-4.2 .9-1.1 .9-1 .9-2.8 .9-.8 .9 1.7 .9 .7 .9-2.1 .9-4.4 .9-1.4 .9 0 .9-1.7 .9-2.8 .9-.7 .9-1.1 .9-.8 .9-.5 .9-1 .9-1.2 .9-1.6 .9-.2 .9-.4 1-2.5 .9-1.8 .9-.6 .9-.5 .9 .5 .9 .6 .9-.5 .9-1.7 .9-1.9 .9-.8 .9 0 .9 .4 .9-.4 .9-2.3 .9-1.6 .9-.6 .9 .5 .9 .5 .9 1.5 .9-.4 .9-2 .9-.6 .9-1.2 .9-.8 .9-.3 1 0 .9 .2 .9-.4 .9-.1 .9 .4 .9 0 .9-1.2 .9-1.4 .9 0 .9 .3 .9-.7 .9-.8 .9-1 .9 .3 .9 2 .9 .1 .9-.9 .9-.9 .9-.7 .9-.4 .9-1.7 .9-1 .9 .8 .9 1.8 .9-.1 1-.5 .9 1 .9-.9 .9 0 .9 .2 .9-.3 .9-1.5 .9 .1 .9 .4 .9-.1 .9-.4 .9-1.1 .9 .3 .9-1.7 .9-1.6 .9 .4 .9 .5 .9 .8 .9 1.3 .9-.4 .9-2 .9-1.8 .9 0 .9 1.2 .9 1.5 1-.3 .9-1.3 .9-.7 .9 1 .9 .7 .9-.4 .9-.2 .9 .8 .9 .2 .9-.2 .9-.5 .9-.4 .9 .3 .9-.5 .9-1.6 .9-.8 .9-.7 .9 .1 .9 1.1 .9 .6 .9-.8 .9-1.4 .9-1.1 .9 .1 .9-.1 1-.2 .9 .9 .9 1.7 .9-1.1 .9-.6 .9-.8 .9-.5 .9 .4 .9 .2 .9 0 .9 .2 .9-.1 .9-.2 .9 0 .9 .5 .9 .3 .9 0 .9-.8 .9 .8 .9-.4 .9-.1 .9-.4 .9-.4 .9 .3 .9-.9 1-.8 .9 1.5 .9 1.2 .9-.2 .9-.3 .9 .4 .9-1.1 .9-1.5 .9 .4 .9 1.1 .9 .2 .9 .4 .9 .1 .9-.2 .9-.8 .9-1.5 .9-.2 .9 2.2 .9-.2 .9-1.1 .9 0 .9-.4 .9-.4 .9 1.4 .9 .3 1 .6 .9 .4 .9-1.6 .9-1.9 .9 1 .9 2.1 .9 .4 .9 1.5 .9 .1 .9-2.5 .9-1.7 .9-.5 .9-.2 .9 .3 .9 1.5 .9 1.2 .9-.2 .9-1 .9-.9 .9-.3 .9 .3 .9-.5 .9-.1 .9 .7 .9 .3 1 .1 .9 .4 .9 .4 .9-1.8 .9-.9 .9 1.1 .9 .3 .9 1 .9 1.7 .9 .3 .9-1.6 .9 .3 .9 1.3 .9 1.2 .9 0 .9-.7 .9-.8 .9-.2 .9-.6 .9-1.3 .9 .7 .9-.1 .9-.3 .9 .4 .9-.2 1 .8 .9 .6 .9-.4 .9-1 .9 .4 .9 .1 .9-1.3 .9-.8 .9 1 .9 .5 .9-.8 .9 .9 .9 .5L496.9 226.2l-.9-1.9 -.9-1.2 -.9 .9 -.9 .1 -.9 .1 -.9-.3 -.9-.1 -.9 0 -.9 .7 -.9-.2 -.9-.5 -.9 .8 -1-.3 -.9-.3 -.9 .5 -.9 .5 -.9 1 -.9 .4 -.9 .3 -.9-.4 -.9 .2 -.9 1 -.9-.1 -.9-1 -.9-.7 -.9 0 -.9 .7 -.9 1.5 -.9-.5 -.9-2.2 -.9-.5 -.9 1.1 -.9 .3 -.9 .4 -.9 2 -.9-.2 -.9-.1 -1 .6 -.9-1.3 -.9-1.8 -.9 1 -.9 .4 -.9 .3 -.9 1 -.9-.1 -.9 .3 -.9 .7 -.9-1.1 -.9 .5 -.9 1.3 -.9-.2 -.9-.5 -.9-.3 -.9 1.1 -.9 .4 -.9-.8 -.9 .4 -.9 .2 -.9-.8 -.9-.4 -.9 .7 -.9 2.2 -1 2.1 -.9-1.1 -.9-2 -.9 .1 -.9-.6 -.9-.7 -.9 2.6 -.9 .8 -.9-1.4 -.9-1.2 -.9 .5 -.9 1.1 -.9 1.4 -.9 .3 -.9-.9 -.9-1.2 -.9-.4 -.9 1.6 -.9 2.3 -.9 1.1 -.9-.2 -.9-.1 -.9-1.4 -.9-2 -.9-1.2 -1-1.1 -.9 1.9 -.9 1.4 -.9 .1 -.9 .5 -.9 .5 -.9 .8 -.9 .6 -.9 .6 -.9 .5 -.9-1.1 -.9-1.2 -.9 .2 -.9 .7 -.9 .7 -.9 .2 -.9-.6 -.9 .1 -.9 .3 -.9-.3 -.9 1.5 -.9 1.6 -.9 0 -.9-1.9 -.9-1.6 -1 .6 -.9 1.9 -.9 1.9 -.9 1.8 -.9 .1 -.9-.7 -.9-.4 -.9 1.5 -.9 .4 -.9-.3 -.9 1.4 -.9 .6 -.9-.4 -.9-.8 -.9-.4 -.9 1.4 -.9 1.6 -.9-.4 -.9-2 -.9-.3 -.9-.5 -.9 .5 -.9 .5 -.9 .7 -.9 1.2 -1 1.2 -.9 0 -.9-.2 -.9 .7 -.9 1.5 -.9 .6 -.9 .1 -.9-1.2 -.9-1.2 -.9-.3 -.9 0 -.9 .2 -.9 .6 -.9 1.1 -.9 1.5 -.9 1.4 -.9-.6 -.9-.9 -.9 .2 -.9 1.4 -.9 .6 -.9 .8 -.9-.7 -.9-.4 -.9 .3 -1 1.4 -.9 .9 -.9 0 -.9-.7 -.9-.5 -.9 .4 -.9 .4 -.9 .2 -.9 .7 -.9 .5 -.9-.2 -.9 1.1 -.9 1.3 -.9 1.2 -.9 .9 -.9 .9 -.9 .2 -.9-.8 -.9-.4 -.9 1 -.9 .3 -.9 .6 -.9 .9 -.9 0 -.9-.2 -1 1.3 -.9 1.5 -.9 .4 -.9 .1 -.9-.1 -.9 .8 -.9 1.1 -.9 0 -.9 .2 -.9 .8 -.9-.1 -.9 0 -.9 .5 -.9 1.5 -.9 1 -.9-1.1 -.9 .8 -.9 1.3 -.9 1.1 -.9 .2 -.9 .1 -.9 2.7 -.9 2.2 -.9 .4 -.9-.2 -1-.2 -.9-.7 -.9 1.1 -.9 .8 -.9 .2 -.9-.3 -.9 .9 -.9 1 -.9-.9 -.9-.4 -.9 1 -.9 1.4 -.9 .7 -.9 1.6 -.9 .3 -.9-.6 -.9-1.1 -.9-.5 -.9 1.1 -.9 2.4 -.9 1.9 -.9-.5 -.9-.4 -.9 3.2 -.9 5.7 -1 6.5 -.9 6.7 -.9 5.1 -.9 5.8 -.9 4.7 -.9 3.4 -.9 3.2 -.9 2.4 -.9 .2 -.9 .2 -.9 1.4 -.9-1.2 -.9-2.4Z" fill="#91A5DC" fill-opacity="0.22" stroke="none"/><path d="M270.9 333l.9-.8 .9-.1 .9-.4 .9-1.4 .9-2.8 .9-3.6 .9-3.5 .9-4.1 .9-4 .9-5.3 .9-7.9 .9-7.3 1-5.9 .9-7.3 .9-4.2 .9-.4 .9-.1 .9 .8 .9-2.6 .9-3.7 .9-1.9 .9-.5 .9 .4 .9-.3 .9-2.5 .9-1.9 .9 .4 .9 1.3 .9-1.8 .9-2.7 .9-.7 .9 1 .9-1.3 .9-2 .9-.9 .9-1 .9-1.7 1-2.2 .9 .4 .9-.8 .9-1.7 .9-.1 .9 .3 .9-.4 .9-.1 .9 .6 .9-.1 .9-1.7 .9-1.3 .9-1.3 .9-.7 .9-.7 .9-.2 .9 1.6 .9-.7 .9-1.5 .9-1.3 .9-.6 .9 .6 .9-.2 .9-.9 .9 .6 1 .6 .9-.9 .9-.7 .9-1 .9-1.2 .9-.5 .9 .2 .9-.2 .9-.1 .9-.6 .9-1.1 .9-.5 .9 .1 .9 0 .9 .3 .9 .9 .9-.1 .9-1.1 .9-.3 .9 .9 .9 .3 .9-.7 .9-2.4 .9-1.6 .9 .7 1 .8 .9-.3 .9-.5 .9-.2 .9-.9 .9 .7 .9 1.2 .9 .5 .9-1.4 .9-1.8 .9-.1 .9 1 .9-.9 .9-.7 .9 1 .9 1.6 .9-.4 .9-2.6 .9-1.4 .9 .6 .9-.2 .9-1.7 .9 1.5 .9 .4 .9-.7 1 .7 .9-.6 .9 .1 .9 .2 .9-1 .9-.9 .9-.1 .9 .1 .9 .8 .9 .2 .9-1 .9-1 .9-.8 .9-1.2 .9-.1 .9 .2 .9 .9 .9 .1 .9-1.1 .9 .5 .9 .5 .9 .1 .9-.7 .9 0 .9 .5 1 .3 .9 .3 .9 .7 .9-2 .9-1.6 .9-1.3 .9-1.5 .9 .1 .9 1.3 .9 .4 .9 .7 .9 0 .9-1.2 .9-.2 .9 .1 .9 .1 .9-.4 .9 1.4 .9 1.7 .9-.7 .9-1.8 .9 .2 .9 1.7 .9 .9 .9-1.3 1-2.7 .9 0 .9-.2 .9-.7 .9 .6 .9 .2 .9 1.1 .9 .5 .9-.1 .9-.2 .9 .2 .9 .5 .9-1.5 .9-.9 .9 .1 .9-.5 .9-.4 .9 1.3 .9 .3 .9 .4 .9 .6 .9-1.2 .9-.6 .9 1.9 .9 .5 1-1.2 .9-.8 .9 .5 .9 .7 .9 .1 .9-.2 .9 .2 .9 1.1 .9-.2 .9-.6 .9 .4 .9-.3 .9-1.5 .9-1.8 .9 1.2 .9 1.2 .9 .5 .9 1.3 .9-1.7 .9-.8 .9 1 .9 1.4 .9-.1 .9 .7 .9 .4 1-.6 .9-2.1 .9 .2 .9 2 .9 .1 .9-1 .9-.9 .9-.8 .9-.9 .9 .7 .9 0 .9 .4 .9 .4 .9 .3 .9 .3 .9 .3 .9 .8 .9-.3 .9-1.2 .9 .6 .9 1.9 .9-.7 .9-1.4 .9-.5 .9 .8 1 1.2 .9-1.4 .9-.2 .9 .8 .9-.2 .9-.1 .9-1.4 .9-1.1 .9 1.2 .9 2.4 .9 1 .9 .1 .9 .1L496.9 230.6l-.9-1.1 -.9 .7 -.9-.1 -.9-1.3 -.9-.7 -.9 .3 -.9 .1 -.9 .7 -.9-.1 -.9-1.2 -.9-.2 -.9 1.7 -1 .5 -.9-1 -.9-.8 -.9-.3 -.9 .7 -.9 .4 -.9 .2 -.9 .1 -.9 2 -.9 1.5 -.9-2.4 -.9-3.4 -.9 .4 -.9 2.2 -.9-.4 -.9-.5 -.9-.1 -.9 0 -.9 .6 -.9 .2 -.9 1.6 -.9 1.1 -.9-1.1 -.9-.1 -.9 .2 -1 1.5 -.9 .2 -.9-.9 -.9-.6 -.9-.6 -.9-.4 -.9 .8 -.9 1.6 -.9 0 -.9-.9 -.9-1.4 -.9 .2 -.9 .7 -.9 .8 -.9 0 -.9-.1 -.9 0 -.9 .6 -.9 1.4 -.9-.1 -.9 0 -.9 .4 -.9-.5 -.9 1.8 -.9 0 -1-1 -.9 .4 -.9 .5 -.9-.9 -.9 .5 -.9 .6 -.9-.2 -.9 .5 -.9-.5 -.9-1.2 -.9 .8 -.9 .6 -.9 .3 -.9-.1 -.9 .7 -.9-.2 -.9-1.3 -.9 .2 -.9 1.8 -.9 .6 -.9 .4 -.9-.3 -.9-.3 -.9-.2 -.9 .5 -1 1.7 -.9 1.8 -.9 .1 -.9-1.1 -.9-1.7 -.9-.6 -.9 .8 -.9 .2 -.9 .3 -.9-.3 -.9 .2 -.9 .5 -.9 1.2 -.9-.1 -.9 .3 -.9 .2 -.9-.6 -.9 .2 -.9-.4 -.9-.3 -.9 .8 -.9 2.7 -.9 2.3 -.9 .4 -.9-.6 -1-1.6 -.9-1.4 -.9-.1 -.9 1.2 -.9-.1 -.9-1.3 -.9 1 -.9 3.2 -.9 .4 -.9-.2 -.9 1.6 -.9 .1 -.9-.4 -.9 .4 -.9 0 -.9-.5 -.9 0 -.9 .6 -.9 .3 -.9 1.2 -.9 1.2 -.9-1.9 -.9-2.1 -.9 1.2 -.9 1.6 -1 .8 -.9 .8 -.9-.3 -.9-.3 -.9 .3 -.9 .6 -.9 0 -.9 .6 -.9 1.5 -.9 1.7 -.9-1 -.9-.4 -.9 0 -.9-1.4 -.9-.1 -.9 2.2 -.9 1 -.9 0 -.9 1 -.9 .1 -.9 .7 -.9 .4 -.9-.8 -.9 .7 -.9 .2 -1-1.4 -.9 .1 -.9 2.1 -.9 1.1 -.9-.7 -.9-.9 -.9 1.3 -.9 1.1 -.9-.2 -.9-.9 -.9 0 -.9 1.1 -.9 .7 -.9 1.1 -.9 .1 -.9-.4 -.9 1 -.9 1.2 -.9 .7 -.9-1.3 -.9-.1 -.9 .8 -.9 .9 -.9 1 -.9 .5 -1 .1 -.9 .8 -.9 1.1 -.9-.1 -.9 .7 -.9 2.3 -.9 .6 -.9-.8 -.9-.5 -.9 .4 -.9 2.6 -.9 .6 -.9 .7 -.9 .6 -.9 .2 -.9 .6 -.9 .3 -.9 .3 -.9-.6 -.9 0 -.9 .7 -.9 0 -.9 .6 -.9 3.5 -.9 .2 -1-.6 -.9 .4 -.9 .1 -.9-.4 -.9 1.3 -.9 2 -.9-.7 -.9-.1 -.9 1.7 -.9 1.4 -.9-1.3 -.9 .2 -.9 .6 -.9 .2 -.9-.9 -.9-.3 -.9-.5 -.9-.4 -.9 .5 -.9 1.2 -.9 1.5 -.9 .6 -.9 0 -.9 2.9 -.9 5.5 -1 6.8 -.9 7.3 -.9 6.3 -.9 3.8 -.9 3.2 -.9 2.8 -.9 2.9 -.9 2.9 -.9 1.3 -.9-.3 -.9 1.5 -.9 .3 -.9-.1Z" fill="#B67FAA" fill-opacity="0.22" stroke="none"/><path d="M270.9 333.9l.9-.4 .9-1.1 .9-.4 .9-.8 .9-2.8 .9-3.2 .9-2.4 .9-3.1 .9-4.7 .9-4.9 .9-7.1 .9-8.6 1-8 .9-7.5 .9-2.6 .9 .2 .9-2.9 .9-3.3 .9-.4 .9 .7 .9 1.1 .9 0 .9-.9 .9 .1 .9-.2 .9-1.1 .9-.7 .9 0 .9 0 .9-.7 .9-1.7 .9-.9 .9-.7 .9-1.2 .9-.7 .9-.2 .9-1 1-1 .9 0 .9 0 .9-1 .9 .9 .9 .2 .9-.9 .9-1.4 .9-.4 .9 .5 .9-.9 .9-1.2 .9-.8 .9-1 .9-.8 .9 .5 .9-.3 .9-2.9 .9-.2 .9 .1 .9-.5 .9-1 .9 .3 .9-.6 .9-1.2 1 .2 .9 .2 .9-2.4 .9-2.3 .9-.4 .9 1.1 .9 .7 .9-1.3 .9 .3 .9-.1 .9-.4 .9 .7 .9 .6 .9-1.4 .9-1.5 .9-.3 .9-1.1 .9-1.1 .9 .7 .9 1.1 .9-1.8 .9-1.3 .9 .4 .9-.9 .9 .3 1 1.4 .9-1.1 .9-1.2 .9-1.3 .9-.6 .9-.8 .9 .2 .9 .7 .9 .5 .9-.4 .9-1.5 .9 .2 .9 .6 .9 .6 .9-.6 .9-1 .9-.9 .9-2.2 .9-1.2 .9 .9 .9 1.3 .9 1.1 .9-.2 .9-1.5 .9-2.5 1-1.1 .9-.9 .9 .6 .9 2 .9-.1 .9 .3 .9 .6 .9-1.3 .9-1.5 .9 .3 .9 .5 .9-1 .9 .1 .9 1.1 .9-.7 .9-1.4 .9-.6 .9 .7 .9 .9 .9 0 .9-1.1 .9-.2 .9 0 .9-.2 .9-1.5 1-1.1 .9 1.3 .9 1.2 .9-.4 .9-.3 .9-1.1 .9 .2 .9-.7 .9-.4 .9 1.2 .9 1 .9-.2 .9-2.2 .9-.4 .9 1.9 .9 .8 .9-2.2 .9-.5 .9 1.5 .9-.5 .9-.3 .9 .6 .9-.6 .9-.1 .9 .2 1-.5 .9 .2 .9-.8 .9-1.7 .9-.5 .9 1.6 .9 .7 .9 .2 .9-.5 .9-.7 .9-1.2 .9-1.2 .9 .4 .9 .7 .9 .3 .9-.3 .9-.7 .9-.4 .9-1.1 .9 2 .9 3.4 .9-.8 .9-2.1 .9-.9 .9 1.4 1 1.1 .9-.9 .9-1 .9 1.2 .9 1 .9-1.6 .9-2.2 .9 1.5 .9 .9 .9 0 .9-.3 .9-.3 .9-2.2 .9-.8 .9 2.1 .9 1.8 .9-1.5 .9-.8 .9 1.7 .9 .9 .9-.4 .9-.7 .9 .4 .9-.3 .9-.1 1-.8 .9-.8 .9 1.4 .9 .5 .9-.9 .9 .4 .9 .6 .9-1.9 .9 0 .9 .4 .9-.9 .9 1 .9 .5 .9-.7 .9-.7 .9 1.3 .9 1.1 .9 1.1 .9 0 .9-.3 .9 .7 .9 .1 .9-.4 .9-.8 .9-.8 1 .4 .9-.9 .9 .4 .9 .9 .9-.8 .9-.4 .9 .9 .9 .7 .9-.1 .9 .1 .9-.4 .9-.6 .9-.4L496.9 248.2l-.9 4.8 -.9 2.4 -.9-.1 -.9-.9 -.9-1.4 -.9 0 -.9 .2 -.9-.8 -.9-.6 -.9 0 -.9 1.2 -.9 1.8 -1 .6 -.9-.3 -.9-1.3 -.9-.3 -.9 .6 -.9 .4 -.9 .4 -.9-.5 -.9 0 -.9-.5 -.9-1.6 -.9 .3 -.9 1.7 -.9 .1 -.9 .2 -.9-1.7 -.9-.1 -.9 2.2 -.9 1.4 -.9 .1 -.9 .1 -.9-.7 -.9-.2 -.9 .1 -.9-.3 -1-.3 -.9 1.6 -.9 1.8 -.9 .2 -.9-.2 -.9 .4 -.9-.3 -.9-.2 -.9 .7 -.9-.3 -.9-1.4 -.9-.1 -.9 .4 -.9 .2 -.9 .5 -.9 2 -.9-.3 -.9-1 -.9-.5 -.9 .1 -.9 .9 -.9 .6 -.9-.3 -.9 1.1 -.9-.3 -1-1.1 -.9 .6 -.9 .8 -.9 1 -.9 .5 -.9-1.6 -.9-.3 -.9 .4 -.9-.8 -.9 0 -.9 1.4 -.9 .1 -.9 .6 -.9 .4 -.9-1.7 -.9 .3 -.9 .9 -.9 .7 -.9 .7 -.9-2.2 -.9-.8 -.9 1 -.9 .5 -.9 .1 -.9-1 -1-.8 -.9 2.4 -.9 2.7 -.9-.2 -.9-.7 -.9-.2 -.9 .9 -.9 .1 -.9-.6 -.9-.3 -.9-.5 -.9 0 -.9 .4 -.9 1.2 -.9 .3 -.9 .3 -.9 0 -.9 .7 -.9 1.1 -.9 .2 -.9 .2 -.9 1.2 -.9-1.3 -.9-1.4 -.9-1.1 -1 .1 -.9 1.6 -.9 .3 -.9 .5 -.9 .6 -.9 .3 -.9-.8 -.9-2.2 -.9-.2 -.9 1.8 -.9 1.5 -.9 .3 -.9 .5 -.9 1.2 -.9-.1 -.9-.3 -.9 .8 -.9 .8 -.9-.4 -.9-1.1 -.9 .1 -.9 2.1 -.9 .1 -.9-2 -.9 .4 -1 1.6 -.9 .8 -.9 0 -.9-1.1 -.9 .8 -.9 1.4 -.9-1.1 -.9 .4 -.9 1.8 -.9-.4 -.9-.5 -.9 .8 -.9 .9 -.9-1 -.9-.5 -.9 .1 -.9-.2 -.9 2.1 -.9 .3 -.9 0 -.9 .9 -.9 .1 -.9 .3 -.9-1.1 -.9 .5 -1 .9 -.9 1.3 -.9 .4 -.9 .7 -.9 .8 -.9-.7 -.9-.8 -.9-.4 -.9 .1 -.9 1.5 -.9 2.1 -.9 1.3 -.9-1 -.9-2.3 -.9-.5 -.9 1.4 -.9 1.7 -.9 .3 -.9-.1 -.9-.4 -.9 1.1 -.9 1.4 -.9-.1 -.9 0 -.9 1 -1-1.1 -.9-.2 -.9-.3 -.9 .2 -.9 .9 -.9 .7 -.9 0 -.9-.7 -.9 1.3 -.9 2 -.9 1.7 -.9 1.8 -.9-.1 -.9-1.3 -.9 1 -.9 1.4 -.9-.6 -.9 .1 -.9 0 -.9-.2 -.9 .1 -.9 .3 -.9-.3 -.9-1.8 -.9-.2 -1 1 -.9 1.1 -.9 .2 -.9-.1 -.9 .1 -.9-.1 -.9-.6 -.9-.8 -.9-.1 -.9-.7 -.9-.5 -.9 1.1 -.9 1.3 -.9-1.9 -.9-1.1 -.9-.5 -.9-2.5 -.9-1.1 -.9-.1 -.9 .9 -.9 .2 -.9-.9 -.9-.4 -.9 1.6 -.9 4.8 -1 8.4 -.9 8.3 -.9 5.7 -.9 3.7 -.9 4 -.9 3.8 -.9 2.7 -.9 1.7 -.9 1.3 -.9 .6 -.9 1.5 -.9-.5 -.9-1.4Z" fill="#FCAE62" fill-opacity="0.22" stroke="none"/><path d="M270.9 333l.9-.1 .9-.6 .9-.4 .9-1.6 .9-2.3 .9-2.6 .9-3.9 .9-4.4 .9-4.3 .9-4.8 .9-7.3 .9-7.4 1-7 .9-5.4 .9-2 .9-.6 .9-.7 .9 0 .9-.9 .9-2.1 .9-1.2 .9 1.1 .9 1 .9-2.4 .9-1.9 .9 1.3 .9 0 .9-.5 .9-.1 .9-.7 .9-1 .9-1 .9-.2 .9 1 .9 1.7 .9-.1 .9-2.1 1-1 .9-.9 .9-1.6 .9-.5 .9-.1 .9 .4 .9 .9 .9 1.8 .9 .5 .9-1.1 .9 .2 .9-1.4 .9-.2 .9 .7 .9 .6 .9 .7 .9-1.3 .9-1.3 .9-.5 .9-.7 .9 .3 .9 .4 .9 1.2 .9 1 .9-.5 1-1.5 .9-2.4 .9-.8 .9 .8 .9 .4 .9 1.2 .9 .4 .9-1.7 .9-1.3 .9 .5 .9 .7 .9-.4 .9-.6 .9-1.2 .9 .4 .9 1 .9 .4 .9-.4 .9 0 .9-.7 .9-.5 .9 2.1 .9 1.7 .9-1.3 .9-1.8 1-.8 .9 0 .9-.9 .9-.2 .9-.4 .9-.3 .9 .1 .9-.1 .9 .2 .9 1.3 .9 .3 .9 .3 .9-.3 .9-.8 .9-1.1 .9 .3 .9-.1 .9-.3 .9-1.1 .9-1 .9 .9 .9-.6 .9-1.5 .9-.3 .9 0 1-.2 .9 .6 .9 1.1 .9 .3 .9-.6 .9-1.2 .9-.8 .9-1 .9-.2 .9-.1 .9 .1 .9 1 .9 1.5 .9 1.4 .9 0 .9-.7 .9-1.7 .9-1.7 .9 0 .9 1.8 .9-.3 .9-.5 .9-1.4 .9-1.4 .9-1.4 1 .2 .9 1.1 .9-.4 .9-1 .9-.7 .9 .8 .9-.4 .9-.6 .9 .4 .9 .2 .9 .3 .9 .9 .9-1 .9-.1 .9 .1 .9-1.4 .9 1.2 .9 1.8 .9 .7 .9-2.3 .9-1.8 .9 1.3 .9-1.9 .9-1.9 .9 1.2 1 .4 .9 .7 .9 .7 .9 .4 .9-.4 .9 .6 .9-.7 .9-.8 .9 .9 .9 1.9 .9 0 .9-1.5 .9-.9 .9 0 .9 1.5 .9 .5 .9-.8 .9-.8 .9-2.3 .9-1.7 .9 .3 .9 2.5 .9 .7 .9-1.9 .9 .3 1 .9 .9-.8 .9-.5 .9-.2 .9-.5 .9-.6 .9-.1 .9 .1 .9-.2 .9-1.3 .9-1.2 .9 0 .9 .3 .9 .9 .9 1.4 .9 .1 .9-.1 .9-.4 .9-.9 .9-.9 .9 1.1 .9 1.6 .9 .6 .9-.9 .9-1.3 1-1.4 .9-.2 .9 1.4 .9 2.1 .9-1 .9-2 .9-.7 .9-.2 .9-.3 .9-1.4 .9-1.3 .9 1.7 .9 1.8 .9 .3 .9-.1 .9-.5 .9-1.3 .9 0 .9 .5 .9-1.5 .9-.9 .9 .5 .9-.1 .9 0 .9-.5 1-1.9 .9 0 .9-.2 .9-.2 .9-.8 .9-.4 .9-.8 .9-.3 .9 .2 .9-.2 .9-.7 .9 .5 .9 1.9L496.9 271.2l-.9-1.6 -.9-1.2 -.9 .7 -.9-.1 -.9 .3 -.9 2.2 -.9 .5 -.9-.3 -.9 .1 -.9 .1 -.9 .9 -.9 0 -1-.6 -.9-.1 -.9-.5 -.9 .8 -.9 1.2 -.9 2.4 -.9 1 -.9-1.1 -.9 1.5 -.9 .4 -.9 .1 -.9 .4 -.9-.4 -.9-1.4 -.9-1.4 -.9 1 -.9 2 -.9 .3 -.9 0 -.9-1.3 -.9-.9 -.9 1 -.9 1.2 -.9 1.1 -.9-.3 -1-.4 -.9 .1 -.9 .2 -.9 1.6 -.9-.6 -.9-1.8 -.9 .6 -.9 .7 -.9-.3 -.9-.4 -.9-1 -.9 .1 -.9 1.7 -.9 .4 -.9-.4 -.9 .1 -.9 .1 -.9-.3 -.9 .5 -.9 0 -.9 .1 -.9 .5 -.9-1.1 -.9-1.6 -.9 .3 -1 2.4 -.9 .6 -.9-.3 -.9 .3 -.9 .2 -.9-.6 -.9 .7 -.9 1.2 -.9 0 -.9-.2 -.9-.5 -.9-.8 -.9 .8 -.9 1.6 -.9-.1 -.9-.1 -.9-.1 -.9 0 -.9-.6 -.9-.1 -.9 .9 -.9-.1 -.9-.8 -.9-.3 -.9-.1 -1 .4 -.9 .7 -.9 .6 -.9-.4 -.9-.6 -.9 .7 -.9 1.6 -.9 .8 -.9 .7 -.9-2.4 -.9-1.9 -.9 .4 -.9 1.3 -.9-.1 -.9-.6 -.9 .8 -.9 .6 -.9 0 -.9-.3 -.9 .7 -.9-.5 -.9-1.6 -.9-.4 -.9 .4 -.9 0 -1-.1 -.9 1.3 -.9 .9 -.9 1.1 -.9 1.4 -.9-.8 -.9-.8 -.9-.5 -.9 .2 -.9 1.5 -.9 .7 -.9 .1 -.9-1.1 -.9 .1 -.9 .1 -.9-.2 -.9-.6 -.9 .1 -.9 1.1 -.9-.4 -.9 .8 -.9 .8 -.9-.1 -.9 .8 -.9 .2 -1-.2 -.9 .5 -.9 .9 -.9-.5 -.9-.6 -.9-.1 -.9-.3 -.9 .1 -.9 0 -.9-.5 -.9 1.3 -.9 .5 -.9-.4 -.9 .2 -.9 0 -.9-.5 -.9-.5 -.9-.6 -.9-.2 -.9-.4 -.9 1.1 -.9 .4 -.9 0 -.9-.2 -.9 .1 -1 .8 -.9 2.6 -.9 1.6 -.9-.8 -.9-1.6 -.9-.2 -.9-.2 -.9 .5 -.9-.6 -.9-.4 -.9-1.4 -.9-.3 -.9 .6 -.9 .5 -.9 .3 -.9 .5 -.9 .4 -.9 .2 -.9 1.5 -.9 .3 -.9-.9 -.9-1.7 -.9-.2 -.9 1.5 -.9 1.4 -1 .6 -.9-.8 -.9-.2 -.9 1.1 -.9 .4 -.9-1.3 -.9-1.5 -.9-.3 -.9-1.3 -.9 .6 -.9 .2 -.9 0 -.9 .9 -.9 1.3 -.9-.1 -.9 1.6 -.9-.6 -.9-1.1 -.9 .7 -.9 0 -.9-.5 -.9 .2 -.9-.3 -.9-.6 -.9 .1 -1-1.5 -.9-.6 -.9 1.3 -.9 .4 -.9 .2 -.9 .3 -.9-1.3 -.9-.4 -.9-.3 -.9 .3 -.9 .1 -.9 .4 -.9 .2 -.9 .8 -.9-.9 -.9-2.1 -.9-.7 -.9 .4 -.9-.2 -.9 0 -.9 .9 -.9-.5 -.9-1.6 -.9 1.3 -.9 5.5 -1 6.6 -.9 6.9 -.9 7.2 -.9 4.7 -.9 3.9 -.9 4.9 -.9 4.2 -.9 .9 -.9-.3 -.9 .3 -.9-.2 -.9 .7 -.9 1.1Z" fill="#E2D2C8" fill-opacity="0.22" stroke="none"/><path d="M270.9 333.7l.9-.8 .9-1 .9-1.2 .9-1.5 .9-2.9 .9-1.2 .9-2.1 .9-4 .9-4.5 .9-6 .9-7.8 .9-7.6 1-4.5 .9-5.6 .9-5.5 .9 .1 .9 1.3 .9-.3 .9-.5 .9-.7 .9 .3 .9 .6 .9-.1 .9-.4 .9 1.5 .9-1.8 .9-.9 .9 2.8 .9 .4 .9 .5 .9 .4 .9-.5 .9 1.1 .9 1.1 .9-1.2 .9-1.2 .9-.9 1-2.1 .9-2 .9 .7 .9 5 .9 2.4 .9-.3 .9 .7 .9-.3 .9 .1 .9 .6 .9 .1 .9 .4 .9 .9 .9 0 .9-1.2 .9-1.4 .9-.7 .9-1.1 .9-.6 .9-.7 .9-1.1 .9-.8 .9 .3 .9 .1 .9 .5 1-1.5 .9-.4 .9 .7 .9 1.3 .9-.1 .9-1 .9 1.4 .9 1.1 .9 .6 .9-.8 .9-1.6 .9-1 .9 .4 .9 .1 .9 .7 .9 1.7 .9-.2 .9-2.1 .9 .2 .9 1.7 .9 2.4 .9 .4 .9-1.1 .9-.2 .9 .5 1 .1 .9-1.4 .9-.4 .9 2.7 .9 .9 .9-1.6 .9-1.9 .9-.5 .9-.3 .9-.7 .9 .2 .9-.3 .9-.5 .9 .2 .9 .9 .9-.1 .9 1.3 .9 .1 .9-1.3 .9 .4 .9 1.7 .9 2.3 .9-2 .9-3.5 .9-1 1 2.9 .9 2.2 .9-.7 .9-.8 .9 1.2 .9 1.4 .9-.5 .9-3 .9 1.2 .9 1.3 .9-.6 .9-.5 .9-.1 .9 .6 .9 1.2 .9 .4 .9-.6 .9 0 .9-1.2 .9-.2 .9 1.3 .9-.4 .9-.6 .9-1.1 .9-.6 1 .1 .9 1.4 .9 .9 .9-.4 .9-1.1 .9-.7 .9 1.2 .9-.1 .9-1.1 .9-1.9 .9-1.1 .9-.2 .9 1.5 .9 2 .9 .5 .9 .5 .9 1 .9 .1 .9-1.6 .9-2 .9 0 .9-.3 .9 1.9 .9 2.2 .9-1.3 1-2.1 .9 .8 .9 1.9 .9-.6 .9-1 .9 .2 .9-2 .9-2.4 .9 .6 .9 2 .9 0 .9 .6 .9 .5 .9 .9 .9-.4 .9-1.6 .9-1.9 .9-2.2 .9 1.6 .9 1.7 .9-1 .9 .3 .9 2.2 .9 .6 .9-1.2 1-1.1 .9-2.2 .9-.5 .9-1.5 .9-.4 .9 1.2 .9 1.4 .9 .4 .9 .4 .9 1 .9 .7 .9 1 .9-1.3 .9-.8 .9 1.1 .9-.1 .9-2.5 .9-1.8 .9 .1 .9 1.6 .9 1.1 .9 2.4 .9-.6 .9-3 .9-1.4 1 1.3 .9 .2 .9 1.1 .9 .8 .9-.7 .9-.3 .9-.3 .9-2.2 .9-1.4 .9 1.4 .9 2 .9-1.5 .9-1.3 .9 1 .9 2.1 .9-.1 .9-1.8 .9-.7 .9-.4 .9 .8 .9 1.3 .9 0 .9-1.3 .9-1.3 .9-1.5 1-1.1 .9 2.1 .9 1.9 .9-1.8 .9-.9 .9 2 .9 2 .9 1.4 .9-.9 .9-.6 .9-.2 .9-1.2 .9 0L496.9 291l-.9 1.5 -.9-.5 -.9 1.1 -.9 1.8 -.9-.8 -.9-.2 -.9-2.6 -.9-1.5 -.9 .2 -.9-.5 -.9-1.8 -.9 .7 -1 1.8 -.9 1.5 -.9 .7 -.9-.1 -.9 .1 -.9-.1 -.9-1.3 -.9-.2 -.9 1 -.9 2.8 -.9-.2 -.9-1.8 -.9 .7 -.9-.6 -.9-.7 -.9-.3 -.9 .2 -.9 .2 -.9 2.5 -.9 1.4 -.9-.9 -.9 .4 -.9-1.2 -.9-1.6 -.9-1.9 -1-.7 -.9-.7 -.9 .7 -.9 1.4 -.9 1.2 -.9 1.7 -.9-1.5 -.9-1.4 -.9 1.6 -.9 .8 -.9 .5 -.9 2.6 -.9-.7 -.9-2.7 -.9-1.5 -.9 .4 -.9 1.1 -.9 1.5 -.9 .5 -.9-2 -.9-.3 -.9 0 -.9 1.1 -.9 .1 -.9 .9 -1 .7 -.9 .2 -.9 .2 -.9 0 -.9 0 -.9-1 -.9 .1 -.9-.9 -.9-1.9 -.9-.1 -.9 2.5 -.9 1.3 -.9-.3 -.9 .2 -.9 .2 -.9 .2 -.9-2.6 -.9-1 -.9 .6 -.9 1.3 -.9 .9 -.9 .7 -.9 .3 -.9 .5 -.9-.1 -1-.3 -.9-.8 -.9-1.1 -.9 1.1 -.9 .7 -.9-.7 -.9-.2 -.9 .7 -.9 .4 -.9 1.1 -.9 1.4 -.9-1.2 -.9-1.9 -.9-.8 -.9-.2 -.9 2.7 -.9 .9 -.9-.9 -.9-.1 -.9-1.6 -.9-.8 -.9 2.4 -.9 1.7 -.9-1.8 -.9-.4 -1-.5 -.9-1 -.9-.1 -.9-.1 -.9 .1 -.9-.6 -.9 1.3 -.9 1.9 -.9-.5 -.9-1.6 -.9-.3 -.9 1.5 -.9-.4 -.9-.3 -.9 .1 -.9 .1 -.9 .4 -.9 .4 -.9 .1 -.9-.8 -.9 .4 -.9-.3 -.9 .9 -.9 .5 -.9-1.2 -1-1.1 -.9 .1 -.9 2.6 -.9 1.5 -.9-1.4 -.9-1.9 -.9-.4 -.9-1.5 -.9-1.9 -.9 .2 -.9 1.4 -.9-.1 -.9-.8 -.9 0 -.9 .3 -.9-2.3 -.9-2.4 -.9 1.1 -.9 2.8 -.9 1.5 -.9-.6 -.9-.7 -.9 .6 -.9 0 -.9-1.3 -1 1 -.9 2.4 -.9 1.2 -.9-.5 -.9-2.9 -.9-2.3 -.9-.8 -.9 1.1 -.9 .3 -.9-.1 -.9-1 -.9 .5 -.9 .4 -.9 .4 -.9 1.3 -.9 .6 -.9-.2 -.9 .6 -.9-.7 -.9 1 -.9 .5 -.9-3.5 -.9-3.2 -.9 .8 -.9 .2 -1-.2 -.9 1.3 -.9 2 -.9 1.8 -.9 .1 -.9 .8 -.9-.2 -.9-1.3 -.9 .4 -.9 2.6 -.9 2.5 -.9 .5 -.9-2.3 -.9-1.7 -.9-.6 -.9-2 -.9 .6 -.9 1.4 -.9-2.2 -.9-1.7 -.9 .1 -.9 .2 -.9-.8 -.9-.3 -.9 .6 -1 .7 -.9-.1 -.9 0 -.9-.5 -.9-.7 -.9-.1 -.9-.5 -.9-.2 -.9 .6 -.9-1.2 -.9-1.9 -.9 1.1 -.9 2.3 -.9-.8 -.9-2.1 -.9 .9 -.9 1.9 -.9 .6 -.9 .7 -.9-1.5 -.9-2.4 -.9-1.5 -.9 2.1 -.9 4 -.9 4.6 -1 5.4 -.9 6.6 -.9 6.5 -.9 4.8 -.9 3.2 -.9 3.6 -.9 4.9 -.9 1.5 -.9-1.4 -.9-.2 -.9 1.4 -.9 .3 -.9-2Z" fill="#8E8E8E" fill-opacity="0.22" stroke="none"/><path d="M270.9 334.2l.9-2 .9-1.8 .9-.1 .9 .7 .9-.5 .9-1.7 .9-5.5 .9-7 .9-6.8 .9-5.1 .9-5.3 .9-6 1-7.1 .9-7 .9-2.4 .9-1.5 .9-1.9 .9 .5 .9 3.4 .9-.5 .9-4.1 .9-.3 .9 1.4 .9 .1 .9 .2 .9 .7 .9-1.3 .9 .2 .9 2.4 .9 1.6 .9 2.8 .9 .6 .9 .1 .9-1.1 .9-1.6 .9-.6 .9 .6 1 1.3 .9 1.6 .9 .5 .9-1.3 .9-1 .9 .9 .9 1.8 .9-.5 .9-1.2 .9-.6 .9-1.5 .9 .9 .9 1.9 .9 .4 .9 .8 .9 .7 .9 .7 .9-3.7 .9-1.7 .9 1.1 .9 .5 .9 .5 .9 .7 .9 .8 .9 2.2 1-1.2 .9-.1 .9 1.3 .9-1.9 .9-1.6 .9 .3 .9 1.9 .9-.7 .9-.3 .9 0 .9-1.2 .9 1 .9 2.5 .9 .1 .9-1.7 .9-2.3 .9 0 .9 2 .9 .4 .9-1 .9-.2 .9 .6 .9 1.3 .9-.3 .9 .3 1 .6 .9-1.8 .9-.6 .9 1.8 .9 .6 .9 0 .9-.9 .9-3.4 .9-.8 .9 1.3 .9-.2 .9-.3 .9 1.1 .9 .9 .9 .5 .9-.3 .9-.2 .9 1.1 .9 2 .9-.2 .9-2.2 .9-1.7 .9 .1 .9 .6 .9-1.1 1-1.6 .9-.7 .9 1.1 .9 2 .9 2.3 .9 .9 .9-1.2 .9-.6 .9-.5 .9 1.7 .9-.9 .9-1.2 .9 1.7 .9 .1 .9-1.3 .9 0 .9 .2 .9-.3 .9 .1 .9 1.4 .9-1.2 .9-1 .9-.4 .9 .6 .9 2.4 1 .7 .9 .9 .9-.4 .9-1.6 .9-.8 .9 .7 .9 1.6 .9-.5 .9-.2 .9 .4 .9 .1 .9-2.1 .9-1.9 .9-2.1 .9-1.3 .9 2 .9 .6 .9-.4 .9 3.6 .9 2.8 .9-2.3 .9-.6 .9 1.5 .9-.5 .9-2.2 1 .2 .9 2.2 .9 .3 .9-1.7 .9 .5 .9 .2 .9-1 .9 .4 .9 .6 .9-.4 .9-1.7 .9-1.1 .9 .5 .9 1.8 .9 1.6 .9-.6 .9-1.2 .9 .9 .9 1 .9 .9 .9 .7 .9-.9 .9-.8 .9 2.6 .9-.1 1-2.6 .9-1.6 .9-.3 .9 1.4 .9 2.6 .9 .2 .9-.6 .9-1 .9-.8 .9 .3 .9-.5 .9-1.1 .9-1.5 .9-.4 .9 .4 .9 2.1 .9 2.4 .9 .6 .9-1.8 .9-.6 .9-.6 .9-.4 .9 .5 .9 .1 .9-1 1-.7 .9-.9 .9-1.3 .9 .4 .9-.4 .9 .6 .9 2 .9-.6 .9 .3 .9 1.4 .9-.7 .9 .5 .9-.5 .9-1.4 .9 .8 .9 1.4 .9 .8 .9-.4 .9 .2 .9 .1 .9 1.3 .9-.1 .9 1.1 .9-1.4 .9-1.3 1 0 .9-.8 .9-1.9 .9-.5 .9 1.8 .9 2.3 .9 1.4 .9-.5 .9-2.8 .9-1.3 .9-1.1 .9 .5 .9 2.6L496.9 300.6l-.9-4 -.9-.8 -.9-.6 -.9 1.3 -.9 2.4 -.9 .3 -.9-1.8 -.9-2.1 -.9-.4 -.9 .3 -.9 .5 -.9-1.6 -1-.7 -.9 1.5 -.9 2.3 -.9 .7 -.9 .3 -.9-.6 -.9-1.3 -.9-.1 -.9 .7 -.9-.4 -.9-.5 -.9-1.2 -.9-1.4 -.9 0 -.9 1.2 -.9-.4 -.9-.7 -.9 .3 -.9 .6 -.9 .2 -.9-.4 -.9 .5 -.9 2.1 -.9-1.4 -.9-1 -1 1.6 -.9 1.5 -.9-.4 -.9-.1 -.9-.7 -.9-.4 -.9 .6 -.9 1.9 -.9 .5 -.9-2.2 -.9-.2 -.9 .6 -.9-1 -.9-2 -.9-.3 -.9 1.9 -.9 1 -.9-.1 -.9 .2 -.9 1.9 -.9 1.5 -.9-2.9 -.9-2.7 -.9-1.2 -.9 2.8 -1 1.8 -.9-.4 -.9-1.4 -.9-.7 -.9 .5 -.9 .6 -.9-1.6 -.9-2.6 -.9 .9 -.9 1.8 -.9-.3 -.9-.2 -.9 .8 -.9-1.1 -.9 .1 -.9 .8 -.9-.1 -.9 0 -.9 .2 -.9-.5 -.9 1.5 -.9 .8 -.9-2.4 -.9-1.8 -.9 .1 -1 2.3 -.9 3.5 -.9 1 -.9-3.5 -.9-1.8 -.9 .5 -.9 .6 -.9-.8 -.9-1.4 -.9 .1 -.9-.2 -.9 .4 -.9 1.1 -.9 .8 -.9-.1 -.9-.5 -.9 1.1 -.9 1.5 -.9-.9 -.9-.4 -.9 .4 -.9-.6 -.9 1.4 -.9 1.8 -.9-.7 -1-2.8 -.9-2.3 -.9-1.3 -.9 2.7 -.9 3.2 -.9-1.4 -.9-3.4 -.9-.3 -.9 0 -.9-.3 -.9 1 -.9 1.7 -.9-.4 -.9-2.1 -.9 1.6 -.9 1.2 -.9-1.5 -.9 .1 -.9 1.8 -.9 1.1 -.9-1.7 -.9-3.3 -.9-.8 -.9 .5 -.9 1.3 -1 .7 -.9-.6 -.9 .2 -.9 1.3 -.9 0 -.9 0 -.9-.5 -.9-.4 -.9 .1 -.9 .3 -.9-.2 -.9 .2 -.9 .3 -.9-.1 -.9-1.1 -.9-2.5 -.9-1.5 -.9 .6 -.9 1.9 -.9 2.2 -.9 3 -.9 1 -.9-2.2 -.9-2 -.9 .7 -1 1.3 -.9 1.5 -.9 .4 -.9-2.3 -.9-1.9 -.9 1.9 -.9 1.6 -.9-.8 -.9-1.2 -.9-.1 -.9 .4 -.9 .4 -.9-1.5 -.9-1.4 -.9 1.1 -.9 .7 -.9-.3 -.9 .9 -.9 .5 -.9-1.6 -.9-1.5 -.9 1 -.9 2.7 -.9-.9 -.9-1.6 -1-.1 -.9-.1 -.9-.6 -.9 .7 -.9 .5 -.9-.9 -.9 1.1 -.9-1 -.9-2.8 -.9 .4 -.9 1.5 -.9 .2 -.9 1.6 -.9-.4 -.9-2.2 -.9 .6 -.9 2.3 -.9-.2 -.9 .8 -.9-1 -.9-2.5 -.9-1.6 -.9 1.1 -.9 1.1 -.9 .2 -1-.1 -.9-.5 -.9-1.3 -.9-.4 -.9 1.5 -.9-.5 -.9 .3 -.9 1.1 -.9-2.3 -.9-1.5 -.9 .5 -.9 .7 -.9-2.1 -.9-2.9 -.9-.5 -.9 0 -.9 .7 -.9 2.1 -.9 .2 -.9-2.3 -.9-1.5 -.9 1 -.9 .2 -.9 3.3 -.9 7.9 -1 8 -.9 6.5 -.9 6.1 -.9 4.6 -.9 4 -.9 4.2 -.9 4.1 -.9 2.5 -.9-.5 -.9-2.6 -.9 .5 -.9 1 -.9-1Z" fill="#7AC8BE" fill-opacity="0.22" stroke="none"/><path d="M270.9 331l.9 .2 .9 1.1 .9-.1 .9-1.1 .9-2.1 .9-3.2 .9-3.2 .9-3.8 .9-5 .9-5.7 .9-7.6 .9-8.5 1-7.4 .9-5.1 .9-3 .9-1.9 .9-3 .9-2.3 .9-1.1 .9-1.6 .9-1.8 .9-2 .9-1.2 .9-.7 .9-.6 .9-3 .9-2.5 .9-2.9 .9-2.5 .9-.7 .9-.4 .9 .1 .9-1 .9-2 .9-.5 .9-.3 .9-.4 1-.3 .9-1.3 .9-1.7 .9-.5 .9 .3 .9-.9 .9-1.6 .9-1.9 .9 .1 .9 .9 .9-.4 .9-1 .9-.3 .9-.2 .9-1.1 .9 0 .9 .4 .9-.6 .9-.1 .9-.3 .9-1.4 .9-1.5 .9-.3 .9 .7 .9 .1 1-.4 .9 0 .9-.4 .9-.7 .9 .1 .9 .4 .9 .7 .9 .6 .9-.2 .9-1.9 .9-1.2 .9 .3 .9-.1 .9-1.4 .9-.6 .9 .5 .9 .7 .9-.2 .9-.2 .9-.5 .9-.5 .9-.6 .9 .2 .9 1.8 .9-.2 1-1.1 .9-.4 .9 .4 .9-.5 .9-.5 .9-.5 .9-.3 .9 .5 .9-.2 .9-.4 .9 .1 .9 0 .9 .6 .9 .6 .9-.2 .9-1.4 .9-.6 .9 .6 .9 1.2 .9-.3 .9-1 .9 .1 .9 .7 .9-.9 .9-1 1-1.3 .9 .5 .9 2 .9 1.7 .9 .6 .9-1 .9 .1 .9 .1 .9-.9 .9-.4 .9 .2 .9 .4 .9 .1 .9-.6 .9-.4 .9 .4 .9 .1 .9-1 .9-.8 .9 .3 .9-.3 .9 .1 .9 1.2 .9 .2 .9 .3 1 0 .9-.5 .9-.1 .9 .5 .9-.8 .9-1.6 .9 .9 .9 .7 .9-.4 .9-.1 .9 .1 .9-.5 .9 .3 .9 .6 .9-.1 .9-.5 .9 .2 .9 .8 .9 .6 .9-2 .9-1.1 .9 .6 .9-.1 .9 .1 .9 .4 1 .4 .9-.1 .9-.7 .9 .6 .9 1.3 .9 .3 .9-1 .9-1.4 .9-.1 .9 .6 .9 .5 .9 .3 .9-.4 .9 0 .9-.2 .9 .1 .9 .7 .9 .6 .9-.8 .9 .2 .9 .9 .9-1.1 .9-.7 .9-.3 .9 .1 1-.1 .9 .5 .9 1.4 .9-.1 .9-.4 .9-.2 .9-1.4 .9-.9 .9 .2 .9 1.2 .9 .4 .9-.1 .9-1.1 .9-.1 .9 1.2 .9 .3 .9-.6 .9-.7 .9 .1 .9 1.3 .9 2.4 .9 .2 .9-2 .9-1.1 .9-1 1-.6 .9 .3 .9 .3 .9 .8 .9 .4 .9-.3 .9 .6 .9 .8 .9-.2 .9-.6 .9-1 .9-.4 .9 .7 .9 .6 .9-.3 .9 .4 .9 .4 .9-.6 .9-1 .9-.3 .9-.5 .9-.5 .9 1.3 .9 .8 .9 .1 1-.4 .9-.1 .9-.6 .9 .6 .9 .5 .9-.3 .9-.8 .9-.2 .9 1.1 .9 .9 .9 1 .9 .1 .9-1.9L496.9 226.2l-.9 1.3 -.9 .1 -.9-1.6 -.9-1 -.9-.2 -.9 .1 -.9 .2 -.9 .7 -.9 .3 -.9 .2 -.9-.2 -.9-.6 -1-1.2 -.9-1 -.9 .2 -.9 1.4 -.9-.2 -.9 0 -.9 0 -.9-.4 -.9 1 -.9 .9 -.9-.6 -.9-.5 -.9 1 -.9 1.2 -.9-.4 -.9-1.3 -.9-.2 -.9 1 -.9-.3 -.9-1.2 -.9-.6 -.9 .5 -.9 .7 -.9-.3 -.9-.8 -1-.2 -.9 .8 -.9 0 -.9 .9 -.9 1.9 -.9 .2 -.9-1 -.9-.4 -.9-.7 -.9-.6 -.9 .2 -.9 .6 -.9 .2 -.9-.1 -.9-1.8 -.9 0 -.9 1.2 -.9-.3 -.9 .1 -.9 .7 -.9-.4 -.9-.7 -.9-.7 -.9 .4 -.9 0 -1 .9 -.9 1 -.9 .2 -.9-.5 -.9 0 -.9 .9 -.9-.2 -.9 .1 -.9 .2 -.9 .2 -.9 .1 -.9-.3 -.9-.3 -.9 .3 -.9-.4 -.9-1 -.9-.1 -.9 .5 -.9 .8 -.9-.5 -.9-1.2 -.9 .3 -.9 1.5 -.9-.9 -.9-1.1 -1 .9 -.9 1.3 -.9-.9 -.9-1.3 -.9 .4 -.9 .9 -.9 1.2 -.9 .4 -.9-.8 -.9-.4 -.9-.8 -.9 0 -.9-.8 -.9-1.1 -.9 .4 -.9 1.4 -.9 .8 -.9 .2 -.9-.7 -.9 .1 -.9 .9 -.9-.1 -.9-.6 -.9-.4 -.9 .1 -1 1.1 -.9 .4 -.9-1.4 -.9-.5 -.9 .6 -.9 1.3 -.9 .1 -.9-.3 -.9 .3 -.9-.3 -.9-.2 -.9-.9 -.9-.3 -.9 0 -.9 .3 -.9 .7 -.9 .5 -.9 .4 -.9 .2 -.9-.3 -.9-.1 -.9 .4 -.9 .2 -.9 .1 -.9-.5 -1 .2 -.9-.3 -.9-.3 -.9 .4 -.9 .9 -.9 1.1 -.9-1.1 -.9-.3 -.9 .1 -.9-.5 -.9-.7 -.9 .3 -.9 0 -.9 0 -.9 .6 -.9 1 -.9 .3 -.9-.2 -.9 .7 -.9 1.5 -.9 .4 -.9-1 -.9-1 -.9-.7 -.9 1 -1 1.3 -.9 .1 -.9 .5 -.9 0 -.9-.2 -.9-.7 -.9 1.2 -.9 1.7 -.9-1.1 -.9-1.1 -.9 1 -.9 1.4 -.9 .2 -.9-.6 -.9 1.4 -.9 1.2 -.9 .6 -.9 .8 -.9 1.6 -.9-.3 -.9-1.4 -.9 .3 -.9 .2 -.9-.3 -.9 1 -1 1.3 -.9 1.5 -.9 .9 -.9-.3 -.9-1.6 -.9 .4 -.9 1.1 -.9-.2 -.9 1.3 -.9 .7 -.9-.4 -.9 .9 -.9 .2 -.9 0 -.9 .6 -.9 .9 -.9 1.9 -.9 .9 -.9 .4 -.9 .1 -.9 .6 -.9 2.2 -.9 1.8 -.9 1 -.9 .8 -1 .6 -.9 1.8 -.9 1.8 -.9 1.5 -.9 1.4 -.9 .7 -.9-.2 -.9 0 -.9 1.9 -.9 2.2 -.9 1.3 -.9 .9 -.9 2 -.9 2.3 -.9 .7 -.9 1.7 -.9 1.1 -.9 .6 -.9 1.1 -.9 1.1 -.9 .8 -.9 3 -.9 2.7 -.9 2.2 -.9 4.7 -1 6.9 -.9 8 -.9 7.4 -.9 5 -.9 4.7 -.9 3.1 -.9 1.1 -.9 1.6 -.9 1.9 -.9 .7 -.9-.4 -.9 .4 -.9 1Z" fill="#F6705F" fill-opacity="0.22" stroke="none"/><path d="M270.9 334l.9-.1 .9-.4 .9-.5 .9-.9 .9-1.3 .9-1.9 .9-2.7 .9-3.9 .9-4.9 .9-5.2 .9-6.6 .9-7.3 1-6.9 .9-5.3 .9-4.3 .9-3.1 .9-2.5 .9-2.5 .9-2.3 .9-2.1 .9-2 .9-1.7 .9-1.3 .9-.9 .9-1.6 .9-2.3 .9-2.5 .9-1.5 .9-.6 .9-1.1 .9-1.3 .9-1.5 .9-1.9 .9-1.6 .9-1 .9-1 .9-1.3 1-1 .9-.8 .9-.8 .9-.9 .9-1.1 .9-.8 .9-.4 .9-1 .9-1.2 .9-.6 .9-.4 .9-.4 .9-.4 .9-.8 .9-.6 .9-.4 .9-.3 .9 0 .9-.3 .9-.4 .9-.3 .9-.4 .9-.5 .9-.7 .9-.9 1-.4 .9-.1 .9-.7 .9-.7 .9 .2 .9 .7 .9 .1 .9-.4 .9-.2 .9-.4 .9-.5 .9-.2 .9-.5 .9-.9 .9-.7 .9-.1 .9 0 .9 .3 .9 .1 .9-.4 .9 0 .9 0 .9 0 .9 .2 .9 .3 1-.2 .9-.3 .9-.4 .9-.4 .9-.3 .9 .4 .9 .4 .9 .3 .9-.1 .9-1.1 .9-1.4 .9-.2 .9 .4 .9-.4 .9-.5 .9 .4 .9 .5 .9 .1 .9-.1 .9 0 .9-.3 .9 .2 .9 .2 .9-.7 .9-.6 1 .5 .9 .3 .9-.4 .9 0 .9 .4 .9 0 .9-.6 .9-.4 .9 0 .9-.1 .9-.4 .9-.1 .9 .8 .9 .3 .9-.3 .9-.8 .9-.5 .9 .6 .9 .7 .9 .1 .9-.3 .9 0 .9-.5 .9-.5 .9 .1 1 0 .9-.2 .9 .1 .9 .5 .9 .5 .9-.1 .9-.5 .9-.1 .9 .7 .9 .5 .9-.1 .9-.7 .9-.7 .9-.4 .9-.3 .9 .2 .9 .3 .9 .4 .9 .1 .9-.3 .9-.3 .9-.5 .9-.2 .9 0 .9 0 1 .6 .9 .4 .9-.3 .9-.2 .9 .2 .9 .5 .9 .4 .9 0 .9-.2 .9-.1 .9-.2 .9-.2 .9-.4 .9-.7 .9-.7 .9-.1 .9 .8 .9 .7 .9 .5 .9 .1 .9 0 .9 .1 .9 0 .9 0 .9-.5 1-1 .9-.7 .9 .1 .9 .2 .9 .5 .9 .4 .9-.5 .9-.3 .9 .2 .9-.1 .9 .1 .9 .4 .9 .3 .9-.1 .9 0 .9 .7 .9 .3 .9-.5 .9-.7 .9-.6 .9 .2 .9 .3 .9-.2 .9-.4 .9 .2 1 .4 .9 .4 .9 .6 .9-.1 .9-.4 .9-.5 .9-.4 .9-.3 .9 0 .9 .1 .9 .4 .9 .4 .9 .2 .9 .1 .9-.1 .9 .1 .9-.2 .9-.7 .9-.6 .9-.6 .9-.2 .9 .5 .9 .6 .9 .1 .9-.1 1 .3 .9 .2 .9-.1 .9 .2 .9 .3 .9-.3 .9 0 .9 .1 .9 .3 .9 .6 .9-.4 .9-.8 .9 0" fill="none" stroke="#6A9FCB" stroke-width="2.0" stroke-opacity="0.85" stroke-linejoin="round" stroke-linecap="round"/><path d="M270.9 334l.9-.1 .9-.4 .9-.6 .9-.8 .9-1.4 .9-1.9 .9-2.7 .9-4.1 .9-5.4 .9-5.7 .9-6.8 .9-7.5 1-6.1 .9-4.5 .9-4.4 .9-3.6 .9-1.9 .9-.8 .9-.9 .9-.9 .9-1 .9-1.8 .9-2.1 .9-1.9 .9-1.4 .9-1.2 .9-1.1 .9-.9 .9-.9 .9-.9 .9-1.3 .9-1.4 .9-1.5 .9-1.4 .9-1.3 .9-1.1 .9-.2 1 .4 .9-.9 .9-1.7 .9-1.7 .9-1.6 .9-.9 .9-.9 .9-1.5 .9-.8 .9 .2 .9-.3 .9-.3 .9-.4 .9-.6 .9-.2 .9-.1 .9-.2 .9-.4 .9-.7 .9-1.1 .9-.6 .9-.1 .9 .1 .9-.6 .9-1.2 1-.7 .9-.5 .9-.4 .9 .3 .9 0 .9 .3 .9 .5 .9 .6 .9-.2 .9-1.1 .9-.8 .9-.2 .9-.8 .9-.6 .9 .3 .9-1 .9-1.2 .9 .5 .9 .6 .9-.8 .9-1.4 .9-.1 .9 1.1 .9 0 .9-1.2 1-.3 .9 .4 .9 0 .9 0 .9 0 .9-.1 .9 .5 .9 .1 .9-.8 .9-.9 .9-.4 .9 0 .9 0 .9 .1 .9 0 .9 0 .9 .2 .9-.2 .9-.4 .9-.1 .9 .2 .9 .1 .9-.5 .9-.9 .9-.7 1 .4 .9 .6 .9-.4 .9-.7 .9-.8 .9-.6 .9 0 .9 .5 .9 .3 .9-.1 .9-.2 .9-.3 .9 .1 .9 .5 .9 .1 .9-.7 .9 0 .9 .4 .9-.1 .9-.4 .9 .1 .9-.4 .9-1.6 .9-1.2 .9 .7 1 1.5 .9 .6 .9 0 .9-.1 .9-.2 .9 .2 .9 .4 .9-.5 .9-.5 .9-.1 .9-.1 .9 .6 .9 .8 .9 .8 .9 .2 .9-1.4 .9-1.3 .9-.1 .9-.1 .9-.4 .9 .1 .9 .4 .9 0 .9 0 .9 .8 1 .8 .9-.6 .9-1 .9-.1 .9 .2 .9-.5 .9-.5 .9 .1 .9-.2 .9-.4 .9 .4 .9 .5 .9-.6 .9-1 .9-.2 .9 1.5 .9 1.7 .9 0 .9-1.4 .9-1 .9 .3 .9 1 .9-.2 .9-.6 .9 0 1-.4 .9 0 .9 1.2 .9 .8 .9-.3 .9-.4 .9-.4 .9-.2 .9-.2 .9-.6 .9-.2 .9-.3 .9-.7 .9 .3 .9 .6 .9 .4 .9 .1 .9 0 .9-.3 .9-.1 .9 .6 .9-.3 .9-.7 .9-.3 .9 .1 1-.1 .9 0 .9 .3 .9 .3 .9 .2 .9 0 .9-.5 .9-.4 .9 .2 .9 .7 .9-.1 .9-1.2 .9-1.1 .9-.4 .9 .6 .9 .9 .9 .1 .9-.4 .9 .1 .9 .3 .9 .1 .9 0 .9 0 .9 .1 .9 .8 1 0 .9-1.1 .9-.5 .9 .8 .9 .8 .9 .5 .9-.3 .9-.6 .9 0 .9 .6 .9 .2 .9-.3 .9-.5" fill="none" stroke="#B2A8DB" stroke-width="2.0" stroke-opacity="0.85" stroke-linejoin="round" stroke-linecap="round"/><path d="M270.9 334l.9-.1 .9-.4 .9-.5 .9-1 .9-1.4 .9-1.9 .9-2.9 .9-4.1 .9-5 .9-5.6 .9-6.6 .9-6.9 1-6.2 .9-5.1 .9-3.2 .9-2.3 .9-2.4 .9-1.7 .9-.7 .9-1.1 .9-1.1 .9-.9 .9-.9 .9-.9 .9-.8 .9-1 .9-.7 .9-.3 .9-1 .9-2 .9-2 .9-1.3 .9-.6 .9-.8 .9-1.2 .9-.7 .9-.8 1-1.4 .9-.7 .9-.4 .9-1.6 .9-1.2 .9-.5 .9-.4 .9-1 .9-1.5 .9-1.3 .9-.7 .9 .1 .9-.1 .9-.5 .9-.9 .9-.7 .9-.8 .9-1.1 .9-.4 .9 .4 .9 .2 .9-.6 .9-.9 .9-.7 .9-.6 1-.1 .9 .8 .9 .2 .9-.6 .9-1 .9-1.1 .9-.6 .9-.5 .9-.1 .9 .1 .9-.2 .9-.1 .9 .3 .9-.2 .9-.4 .9-.2 .9-.1 .9-.2 .9-.7 .9-.4 .9 .1 .9-.6 .9-1.6 .9-.9 .9 .5 1 .8 .9 0 .9-.2 .9 .4 .9 .5 .9-.8 .9-1.4 .9-.5 .9 0 .9 .5 .9 0 .9-.7 .9-.5 .9-.3 .9-.4 .9-.6 .9-.4 .9-.2 .9 .1 .9 .5 .9 .4 .9 .5 .9 .2 .9-.3 .9-.5 1-.7 .9 0 .9 .8 .9 .2 .9-.9 .9-1 .9-.2 .9-.4 .9-.9 .9-.4 .9 1.3 .9 1.2 .9-.1 .9-.5 .9-.1 .9 .1 .9 .3 .9 .1 .9-.9 .9-1.2 .9-.8 .9-.7 .9 0 .9 1.1 .9 .7 1-.4 .9-.3 .9 .1 .9 .7 .9 .2 .9-.7 .9-.4 .9-.2 .9 .3 .9 .5 .9 .8 .9 .3 .9-.9 .9-.6 .9 .4 .9 .8 .9 .3 .9-.8 .9-1.3 .9-.6 .9 .1 .9 .2 .9 .3 .9 .4 .9 .1 1-.1 .9 .3 .9 0 .9-.4 .9-.6 .9 .1 .9 .1 .9-.2 .9 .1 .9-.1 .9-.6 .9-.8 .9-.3 .9 .5 .9 .4 .9-.2 .9 .3 .9-.1 .9-.9 .9-.1 .9 .2 .9-.3 .9-.1 .9 .6 .9 0 1-1 .9-.8 .9 0 .9 .4 .9-.2 .9-.1 .9 .2 .9 .2 .9 .5 .9 .3 .9-.2 .9-.1 .9 .9 .9 1.1 .9 .7 .9-.2 .9-.8 .9-1.5 .9-.8 .9 .7 .9 1 .9 .4 .9 .2 .9-.5 .9-1.5 1-.8 .9 .4 .9 .3 .9 .6 .9 .9 .9 .2 .9-.5 .9-.4 .9-.4 .9-.3 .9 0 .9 .3 .9-.2 .9-.2 .9 0 .9 0 .9 .3 .9-.2 .9-.1 .9 .4 .9 .1 .9-.1 .9 .1 .9-.1 .9-.1 1 .4 .9 .5 .9-.4 .9 0 .9 .4 .9-.5 .9-.3 .9 0 .9-.2 .9-.3 .9-.1 .9 .3 .9 .5" fill="none" stroke="#C0845A" stroke-width="2.0" stroke-opacity="0.85" stroke-linejoin="round" stroke-linecap="round"/><path d="M270.9 334l.9-.1 .9-.4 .9-.5 .9-.9 .9-1.5 .9-2.3 .9-3 .9-3.8 .9-4.4 .9-5.2 .9-6.6 .9-7.2 1-6.5 .9-5.4 .9-3.8 .9-2.3 .9-1.2 .9-.9 .9-1 .9-.5 .9 .2 .9-.2 .9-1.4 .9-1.6 .9-.8 .9-.3 .9-1.1 .9-1.1 .9-.7 .9-1.3 .9-1.2 .9-.3 .9-.3 .9-.8 .9-.7 .9-.8 .9-.6 1-.4 .9-.8 .9-1.4 .9-.9 .9-.2 .9-.3 .9-1 .9-1.3 .9-1.1 .9-.5 .9 .8 .9 .3 .9-1 .9-1.3 .9-1.3 .9-.5 .9 .2 .9-.1 .9-.2 .9-.7 .9-.8 .9-.5 .9-.2 .9-1.4 .9-1.9 1-.6 .9 .9 .9 .8 .9-.7 .9-.9 .9-.1 .9-.4 .9-.1 .9 .4 .9-.3 .9-.8 .9-.7 .9-1.1 .9-.8 .9 0 .9 0 .9 .3 .9-.4 .9-.7 .9-.6 .9-.9 .9-.3 .9 .2 .9 .2 .9-.2 1-.3 .9 .3 .9 .6 .9 0 .9-1 .9-1.1 .9-.8 .9 .4 .9 .5 .9-.5 .9-.7 .9-.5 .9-.4 .9 .1 .9-.3 .9-.6 .9-.4 .9 0 .9 .4 .9-.2 .9-.7 .9-.4 .9 .3 .9 0 .9-.4 1-.6 .9-.7 .9-.3 .9 .1 .9 0 .9 .2 .9 .6 .9 .6 .9-.1 .9-.9 .9-.6 .9-.2 .9-.2 .9-.7 .9-1.2 .9 0 .9 .5 .9-.6 .9-.6 .9 .4 .9 .1 .9-.4 .9-.7 .9-.5 .9-.8 1-.4 .9 .8 .9 .4 .9-.4 .9-.4 .9-.3 .9-.1 .9-.2 .9 .2 .9 .2 .9-.2 .9-.9 .9-.6 .9-.1 .9 .3 .9 .4 .9 .3 .9 .4 .9 0 .9-1.4 .9-1.1 .9 .1 .9 .4 .9-.8 .9-1.1 1 .1 .9 .7 .9 .8 .9 .7 .9 .3 .9-.1 .9-1 .9-1.3 .9-.4 .9 .2 .9 .5 .9 .3 .9 .1 .9 0 .9-.4 .9-.3 .9 .1 .9 .4 .9-.4 .9-.7 .9 .2 .9 0 .9 .3 .9 1.3 .9 .7 1-.8 .9-1.7 .9-1.3 .9-.1 .9 .3 .9 .7 .9 .7 .9 .4 .9-.5 .9-.7 .9 .1 .9 .1 .9-.2 .9-.1 .9 0 .9-.1 .9 .2 .9 .1 .9-.5 .9-.7 .9-.4 .9-.5 .9-.1 .9 .6 .9 .6 1 .1 .9 .3 .9 .1 .9-.6 .9-.7 .9-.3 .9 0 .9 .4 .9 .3 .9 0 .9-.1 .9 1.1 .9 1.1 .9 0 .9-.3 .9-.2 .9-.4 .9-.2 .9 .1 .9 0 .9-.4 .9-.7 .9-.4 .9 .2 .9 .3 1-.3 .9-.7 .9-.5 .9-.4 .9 .5 .9 .9 .9 0 .9-.7 .9-.6 .9-.2 .9 .3 .9 .8 .9 .4" fill="none" stroke="#91A5DC" stroke-width="2.0" stroke-opacity="0.85" stroke-linejoin="round" stroke-linecap="round"/><path d="M270.9 334l.9-.1 .9-.4 .9-.6 .9-.8 .9-1.4 .9-2 .9-2.9 .9-4.1 .9-5 .9-5.4 .9-6.5 .9-6.8 1-6.5 .9-5.8 .9-3.7 .9-1.2 .9-.3 .9-.1 .9-1 .9-1.7 .9-1.1 .9-.9 .9-.2 .9-.1 .9-1.1 .9-.9 .9-.2 .9 .4 .9-.1 .9-1 .9-1 .9-.5 .9-1 .9-.9 .9-.3 .9-.6 .9-1 1-.5 .9-.2 .9-1.6 .9-1.7 .9-.5 .9 .2 .9-.1 .9-.4 .9-.1 .9-.3 .9-1.3 .9-.9 .9 .1 .9-.5 .9-1 .9-.8 .9 .3 .9 .1 .9-.5 .9-1.2 .9-1.3 .9-1.1 .9-.5 .9-.5 .9 0 1 .3 .9 .2 .9-.2 .9-1.2 .9-1.2 .9-.2 .9-.2 .9-.2 .9-.7 .9-1 .9-.6 .9-.1 .9-.1 .9-.2 .9-.2 .9 .4 .9 .5 .9-.2 .9-.6 .9-.8 .9 0 .9 .1 .9-.7 .9-.7 .9-.1 1-.5 .9-.7 .9 .2 .9 .7 .9 .1 .9-.4 .9-.4 .9-1 .9-.6 .9-1.1 .9-1.1 .9 .2 .9 .9 .9 .1 .9 0 .9 0 .9-.7 .9-.9 .9-.3 .9-.2 .9-.4 .9-.8 .9-.5 .9 .1 .9-.1 1-.7 .9-.6 .9 .3 .9 .8 .9-.6 .9-.7 .9 0 .9-.3 .9 0 .9 .9 .9 .8 .9-.5 .9-1.4 .9-.7 .9-.2 .9-.4 .9-.4 .9-.6 .9-.3 .9 .3 .9 .2 .9-.8 .9-.8 .9 .3 .9 .6 1 .1 .9-.1 .9 .2 .9-.6 .9-1.1 .9-.7 .9-.4 .9 0 .9 .3 .9-.3 .9-.7 .9 .2 .9 .8 .9-.2 .9-1.1 .9-.8 .9-.2 .9 .6 .9 .5 .9 .4 .9 .3 .9 0 .9 .2 .9 .3 .9-.5 1-1.1 .9-.5 .9-.6 .9-.5 .9-.2 .9-.3 .9 .3 .9 .3 .9 .2 .9 .3 .9 .1 .9-.5 .9-.8 .9-.6 .9-.5 .9 0 .9 .5 .9 .3 .9 .3 .9 .2 .9-.2 .9 0 .9 .2 .9 .1 .9-.1 1 .1 .9-.3 .9 0 .9 .2 .9-.2 .9-.4 .9-.5 .9-.4 .9 .2 .9 0 .9-.1 .9 .2 .9 0 .9-.5 .9-.3 .9-.2 .9 .3 .9 .6 .9-.7 .9-1.2 .9 .3 .9 .9 .9 .6 .9-.1 .9-.2 1-.4 .9-.5 .9 .8 .9 1.3 .9-.5 .9-1.4 .9-.6 .9-.3 .9-.3 .9-.2 .9-.1 .9 0 .9-.1 .9 .5 .9 1.3 .9 .4 .9-.4 .9-.3 .9 .1 .9 .4 .9 .2 .9-.3 .9-.2 .9 .3 .9 .3 1-.5 .9-.9 .9 .1 .9 .4 .9-.1 .9-.8 .9-1 .9 .1 .9 1.3 .9 1.6 .9 .7 .9 .1 .9-.2" fill="none" stroke="#B67FAA" stroke-width="2.0" stroke-opacity="0.85" stroke-linejoin="round" stroke-linecap="round"/><path d="M270.9 334l.9-.1 .9-.4 .9-.5 .9-.9 .9-1.5 .9-1.8 .9-2.8 .9-3.9 .9-4.5 .9-5 .9-6.5 .9-7.4 1-7.1 .9-6.6 .9-3.4 .9-.4 .9-.6 .9-.7 .9 .3 .9 .3 .9 .2 .9 .5 .9 .4 .9 .2 .9 .1 .9-.3 .9-.1 .9 .3 .9-.4 .9-.8 .9-.4 .9-.2 .9-.1 .9-.1 .9-.4 .9-.3 .9-.7 1-.8 .9-.3 .9-.2 .9 .4 .9 .5 .9 .3 .9 0 .9-.5 .9-.9 .9-1.1 .9-.9 .9 .1 .9 .3 .9-.5 .9-1 .9-1 .9-.9 .9-1.1 .9-.2 .9-.1 .9-.5 .9-.7 .9-.5 .9-.5 .9-.1 1 .5 .9-.6 .9-1.7 .9-1.2 .9-.4 .9 .3 .9 .1 .9-.7 .9 0 .9-.1 .9-.9 .9 0 .9 .5 .9-.4 .9-.9 .9-1 .9-.7 .9-.3 .9-.2 .9 0 .9 0 .9 .3 .9 .3 .9-.8 .9-1.1 1-.8 .9-.5 .9-.3 .9-.2 .9 0 .9-.4 .9-.9 .9-.6 .9 .2 .9 .4 .9-.3 .9-.2 .9-.2 .9-.5 .9-.7 .9 0 .9 .2 .9-.5 .9-.6 .9-.1 .9-.2 .9-.4 .9-.2 .9-.6 .9-.7 1-.5 .9-.1 .9 .4 .9 .5 .9 0 .9-.1 .9 .4 .9-.4 .9-1.3 .9-1 .9-.1 .9-.2 .9-.2 .9-.3 .9-.8 .9-1 .9-.5 .9 .1 .9 .3 .9 .1 .9-.1 .9-.1 .9-.1 .9-.5 .9-.6 1 .3 .9 .8 .9 .9 .9 .2 .9-.5 .9-.1 .9 0 .9-1 .9-1 .9 0 .9 .5 .9 .3 .9-.7 .9-.6 .9 .2 .9 .2 .9-.1 .9 0 .9-.1 .9-.6 .9-.4 .9-.3 .9-.4 .9-.2 .9 .1 1 .1 .9 .2 .9-.2 .9-.6 .9-.4 .9 .7 .9 .5 .9 0 .9-.1 .9-.7 .9-.6 .9-.2 .9-.1 .9 .1 .9 0 .9-.5 .9-.4 .9-.4 .9-.1 .9 1.1 .9 1.3 .9-.2 .9-1 .9-.4 .9 .4 1 .1 .9-.6 .9-.9 .9-.5 .9-.2 .9-.3 .9 .2 .9 .5 .9 .6 .9 0 .9-.2 .9-.4 .9-.4 .9-.2 .9 .8 .9 .7 .9-.4 .9-.4 .9 .3 .9 .2 .9-.2 .9-.3 .9-.4 .9-.8 .9-.5 1-.1 .9 0 .9-.1 .9 .1 .9 .5 .9 .2 .9-.7 .9-.9 .9-.7 .9 .1 .9 .3 .9 .2 .9 .2 .9-.7 .9-.6 .9 .8 .9 1.3 .9 .8 .9 .4 .9-.3 .9-.4 .9 .1 .9 .1 .9-.7 .9-1 1-.6 .9-.1 .9 .3 .9-.1 .9-.4 .9 .3 .9 .5 .9 .2 .9 .5 .9 .5 .9-.5 .9-.9 .9-.2" fill="none" stroke="#FCAE62" stroke-width="2.0" stroke-opacity="0.85" stroke-linejoin="round" stroke-linecap="round"/><path d="M270.9 334l.9-.1 .9-.4 .9-.5 .9-.9 .9-1.4 .9-2 .9-3.3 .9-4.4 .9-4.7 .9-4.9 .9-6.5 .9-7.4 1-6.7 .9-4.6 .9-1.6 .9-.1 .9-.1 .9-.5 .9-.6 .9-.5 .9-.3 .9 .6 .9 .7 .9-.5 .9-1.2 .9-.5 .9 .5 .9 .6 .9-.5 .9-.6 .9-.3 .9-.4 .9 .2 .9 .8 .9-.1 .9-1 .9-.5 1 .7 .9 .2 .9-.8 .9-.2 .9 0 .9-.1 .9 .7 .9 .9 .9 .2 .9-.4 .9-.5 .9-.8 .9-.6 .9 0 .9 .4 .9 .2 .9-.3 .9-.6 .9-.4 .9 .2 .9 .3 .9 .1 .9 .6 .9 .2 .9-.4 1-.7 .9-1.2 .9-.9 .9 .3 .9 .9 .9 .8 .9 .2 .9-.7 .9-1 .9 0 .9 .3 .9 .1 .9 .1 .9-.4 .9-.2 .9 0 .9-.3 .9-.5 .9-.4 .9 .3 .9 1.2 .9 .9 .9-.4 .9-.9 .9-.8 1-.4 .9 .2 .9 0 .9-.8 .9-1.1 .9-.7 .9-.1 .9 .2 .9 .6 .9 .3 .9-.1 .9 0 .9 .3 .9 .5 .9-.2 .9-.3 .9 .1 .9-.3 .9-.6 .9-.5 .9-.2 .9-.2 .9-.1 .9-.2 .9-.2 1 0 .9 .1 .9-.1 .9-.5 .9-.9 .9-.4 .9-.2 .9-.4 .9 .1 .9 .4 .9 .4 .9 .3 .9 .2 .9 .2 .9-.1 .9-.7 .9-1 .9-.6 .9 0 .9 .4 .9 .3 .9-.2 .9-.5 .9-.6 .9-.7 1-.3 .9 .1 .9 .3 .9-.3 .9-.4 .9-.2 .9-.4 .9-.1 .9 0 .9-.1 .9 .1 .9 .3 .9 0 .9-.2 .9-.4 .9 0 .9 .9 .9 .3 .9-.3 .9-.7 .9-.4 .9-.1 .9-.9 .9-1.2 .9 .1 1 .7 .9 .5 .9 .7 .9 .5 .9 0 .9-.5 .9-.7 .9-.5 .9-.1 .9 .4 .9 .7 .9 .1 .9-.3 .9-.6 .9-.3 .9 .6 .9 .6 .9-.3 .9-1.2 .9-.9 .9-.2 .9 .2 .9 .2 .9-.2 .9-.4 1-.7 .9-.2 .9 .5 .9 .3 .9-.3 .9-.2 .9-.1 .9-.3 .9-.6 .9-.6 .9 0 .9 .6 .9 .5 .9-.1 .9-.5 .9-.3 .9-.1 .9 .1 .9-.2 .9-.1 .9 .7 .9 .1 .9-.6 .9-.5 .9-.3 1-.6 .9-.5 .9 .5 .9 1.1 .9 .2 .9-.5 .9-.6 .9-.7 .9-.5 .9-.3 .9-.3 .9 .4 .9 .8 .9 .6 .9-.3 .9-.7 .9-.9 .9-.4 .9 .3 .9-.2 .9-1 .9-.8 .9-.3 .9-.3 .9-.5 1-.1 .9 .1 .9-.2 .9-.3 .9-.5 .9-.1 .9-.1 .9-1.1 .9-1.1 .9 0 .9 .6 .9 .5 .9 .2" fill="none" stroke="#E2D2C8" stroke-width="2.0" stroke-opacity="0.85" stroke-linejoin="round" stroke-linecap="round"/><path d="M270.9 334l.9-.1 .9-.4 .9-.6 .9-.8 .9-1.4 .9-1.8 .9-3 .9-4.4 .9-5 .9-4.6 .9-6 .9-6.9 1-5.5 .9-5.2 .9-3.7 .9-1.2 .9 .5 .9 1 .9 .1 .9 .2 .9 .2 .9-.8 .9-.9 .9 .4 .9 .6 .9-.6 .9-.6 .9 .7 .9 .9 .9 .5 .9 .1 .9-.3 .9 .1 .9 .6 .9 .6 .9 .4 .9-.7 1-1.4 .9-.6 .9 .8 .9 1.2 .9 .7 .9 .6 .9 .9 .9 0 .9-.6 .9 .2 .9 .6 .9 .7 .9 .9 .9 .6 .9-.7 .9-1.9 .9-1.8 .9-.5 .9 0 .9 .2 .9 .4 .9-.5 .9-.5 .9 .3 .9 .1 1-.1 .9-.6 .9-.4 .9 .9 .9 1.2 .9 .5 .9 .6 .9 .7 .9-.4 .9-.9 .9-.7 .9-.5 .9-.5 .9-.2 .9 0 .9 .5 .9 .2 .9-.9 .9-.9 .9 .2 .9 1.9 .9 2.5 .9 1.4 .9-1 .9-1.2 1 .1 .9 0 .9-.5 .9 .6 .9 .4 .9-.5 .9-.5 .9-.5 .9-.2 .9 0 .9-.3 .9-.1 .9 .2 .9-.1 .9-.6 .9 0 .9 1.7 .9 1.8 .9 0 .9-.5 .9 .9 .9 .8 .9-1 .9-2 .9-.9 1 1.4 .9 1.7 .9-.1 .9-.8 .9 .3 .9 .4 .9-.3 .9-.4 .9 0 .9 .4 .9 0 .9-.4 .9-.1 .9 .4 .9 .3 .9 .2 .9-.1 .9-.3 .9-.5 .9-.5 .9 .1 .9 .5 .9 .4 .9 0 .9-.7 1-.3 .9 .8 .9 .6 .9-.1 .9-.2 .9-.3 .9-1 .9-.5 .9 .4 .9 .1 .9-.4 .9-.3 .9 .3 .9 .7 .9 .3 .9 .2 .9 .4 .9 0 .9-.8 .9-.6 .9-.4 .9-.1 .9 1 .9 1.1 .9 .1 1-.9 .9-1.1 .9 .7 .9 .9 .9-1.2 .9-1.7 .9-1 .9 0 .9 .7 .9 .8 .9 .2 .9-.3 .9 .3 .9 .2 .9-.9 .9-.6 .9-.6 .9-1 .9-.2 .9 .9 .9 1.4 .9 .5 .9-.3 .9-.1 .9 .3 1-.1 .9-1.1 .9-1.1 .9-.4 .9-.3 .9-.1 .9 1.2 .9 1.5 .9 .2 .9-1.3 .9-1.4 .9 .4 .9 1.5 .9 0 .9-.8 .9-.1 .9-1 .9-1.1 .9 .3 .9 .9 .9 .3 .9-.5 .9-.7 .9 0 .9 .2 1 .1 .9 .7 .9 1.1 .9 .8 .9-.1 .9-.7 .9-1.1 .9-1.2 .9-.5 .9-.1 .9-.2 .9-.1 .9 .4 .9 1.2 .9 1.8 .9 .2 .9-2 .9-1.8 .9 .2 .9 1 .9 .8 .9-.2 .9-1.5 .9-1.3 .9-.6 1-.2 .9 .7 .9 1.3 .9 .3 .9-.2 .9 .5 .9 .9 .9 .5 .9-.5 .9-1.3 .9-.8 .9 .2 .9 .4" fill="none" stroke="#8E8E8E" stroke-width="2.0" stroke-opacity="0.85" stroke-linejoin="round" stroke-linecap="round"/><path d="M270.9 334l.9-.1 .9-.4 .9-.4 .9-.6 .9-1.2 .9-1.9 .9-3.3 .9-4.9 .9-5.3 .9-5.1 .9-6.2 .9-7.2 1-7 .9-6.2 .9-2.9 .9-.8 .9-.7 .9-.4 .9 .1 .9 .4 .9 .1 .9 .3 .9 .5 .9 .1 .9 1.1 .9 1.1 .9-.2 .9-.5 .9 .3 .9 1.1 .9 1.4 .9 1.1 .9 .1 .9-.9 .9-.7 .9 .3 .9 1.1 1 1.3 .9 .4 .9-1.3 .9-1.3 .9-.1 .9 1.1 .9 1.5 .9 .9 .9-.1 .9-.8 .9-.2 .9 .9 .9 .8 .9-.1 .9-.4 .9-.9 .9-.4 .9 .4 .9 .3 .9-.4 .9-.2 .9 .1 .9 .5 .9 .6 .9-.6 1-.8 .9 .7 .9 .5 .9-.2 .9 .2 .9 .7 .9 .5 .9 .1 .9-.2 .9-.7 .9-1.2 .9-.4 .9 .9 .9 .1 .9-1.2 .9-.1 .9 1.2 .9 1.1 .9 .3 .9-.9 .9-.5 .9 1 .9 1.2 .9-.5 .9-1 1-.4 .9 .2 .9 .2 .9-.1 .9-.2 .9-.1 .9-.6 .9-1.3 .9-.9 .9-.3 .9 .6 .9 1.3 .9 1 .9-.2 .9 .1 .9 .7 .9-.5 .9-.5 .9 .4 .9 0 .9-.6 .9-.1 .9-.2 .9-.5 .9-.1 1-.1 .9-.4 .9-.5 .9 .5 .9 1.6 .9 1.2 .9-.2 .9-.8 .9 .4 .9 .5 .9-1.2 .9-.8 .9 1.1 .9 1 .9-.5 .9-.4 .9 .2 .9 .2 .9 .6 .9 .1 .9-1.1 .9-.9 .9 .1 .9 .7 .9 1.3 1 1.3 .9 .6 .9-.3 .9-.3 .9-.3 .9-.3 .9 .1 .9 .4 .9-.8 .9-1.3 .9-.1 .9-.2 .9-1.4 .9-1.2 .9 .8 .9 1.5 .9 .2 .9-.2 .9 .8 .9 1 .9-.1 .9 .1 .9 1.4 .9 .1 .9-2 1-1.7 .9 .9 .9 1.3 .9-.1 .9-.7 .9-.4 .9 0 .9 0 .9-.2 .9-.2 .9-.8 .9-.1 .9 .9 .9 .6 .9 1 .9 .6 .9-.7 .9-.4 .9 .6 .9 1.3 .9 .7 .9-.6 .9-.3 .9 .1 .9-.8 1-1.2 .9-.9 .9 .2 .9 2.2 .9 1.9 .9-.1 .9-.7 .9-.3 .9-.7 .9-1.3 .9-1.3 .9-.7 .9 .6 .9 1.2 .9 .4 .9 1.1 .9 1.7 .9 .1 .9-1.4 .9-.8 .9 0 .9 0 .9-.1 .9 .3 .9 .2 1-.3 .9-.8 .9-.9 .9-.8 .9-.4 .9 .3 .9 .3 .9-.3 .9 .3 .9 1.3 .9 .5 .9-.7 .9-.5 .9 .2 .9 .5 .9 .7 .9 .5 .9 0 .9 0 .9 0 .9-.1 .9 .2 .9 .1 .9-.3 .9-1 1-.7 .9-.4 .9-.1 .9 .3 .9 .7 .9 1.2 .9 1 .9 .4 .9-.9 .9-1.7 .9-1.3 .9-.1 .9 .5" fill="none" stroke="#7AC8BE" stroke-width="2.0" stroke-opacity="0.85" stroke-linejoin="round" stroke-linecap="round"/><path d="M270.9 334l.9-.1 .9-.4 .9-.5 .9-1 .9-1.5 .9-1.8 .9-2.6 .9-3.8 .9-4.6 .9-5.2 .9-6.9 .9-7.8 1-7.4 .9-5.9 .9-3.8 .9-2.2 .9-1.7 .9-1.6 .9-1.5 .9-1.4 .9-1.1 .9-1.1 .9-1.6 .9-1.6 .9-1.5 .9-1.6 .9-1.8 .9-1.9 .9-1.7 .9-1.3 .9-.9 .9-.8 .9-.7 .9-.5 .9-.6 .9-1.3 .9-1.6 1-1.3 .9-.8 .9-.7 .9-.7 .9-.9 .9-1.1 .9-1.3 .9-1.2 .9-.6 .9-.4 .9-.6 .9-.5 .9-.2 .9-.3 .9-.6 .9-.7 .9-.6 .9-.1 .9 0 .9-.5 .9-.6 .9-.2 .9 0 .9-.2 .9-.5 1-.6 .9-.6 .9-.5 .9-.4 .9-.1 .9 .2 .9 .2 .9 0 .9-.6 .9-1 .9-.9 .9-.7 .9-.3 .9-.2 .9-.2 .9-.3 .9-.1 .9 0 .9-.2 .9-.4 .9-.4 .9-.2 .9 .2 .9 .3 .9 0 1-.4 .9-.2 .9 0 .9-.2 .9-.1 .9-.1 .9-.3 .9-.6 .9-.4 .9-.1 .9 0 .9 .1 .9 .1 .9-.1 .9-.1 .9-.1 .9 .2 .9 .4 .9 .1 .9-.2 .9-.5 .9-.2 .9 0 .9-.2 .9-.4 1-.3 .9 .1 .9 .7 .9 .6 .9-.3 .9-.6 .9-.1 .9 .1 .9 0 .9-.3 .9-.5 .9-.2 .9-.2 .9-.2 .9 0 .9 .2 .9 .1 .9-.2 .9 .1 .9 0 .9-.1 .9 .1 .9 .2 .9 .1 .9 0 1 0 .9 0 .9 .1 .9 .3 .9-.1 .9-.5 .9-.1 .9 .2 .9 0 .9-.1 .9-.3 .9 0 .9 .3 .9 0 .9-.4 .9-.1 .9 .2 .9 .2 .9-.1 .9-.3 .9-.1 .9 .2 .9-.1 .9-.3 .9 0 1 .3 .9 0 .9-.1 .9 .2 .9 .3 .9 .1 .9-.3 .9-.6 .9-.1 .9 .1 .9 .4 .9 .1 .9-.1 .9 0 .9-.1 .9 .1 .9 .4 .9 .3 .9-.2 .9-.2 .9 .1 .9 .1 .9 0 .9-.2 .9-.1 1-.2 .9-.3 .9-.3 .9-.1 .9 .1 .9 0 .9-.1 .9-.3 .9 0 .9 .1 .9 0 .9 0 .9-.1 .9 .1 .9 .2 .9 0 .9-.2 .9 0 .9 .3 .9 .7 .9 .4 .9-.1 .9-.5 .9-.5 .9-.3 1-.1 .9 .1 .9 0 .9-.1 .9 0 .9 .4 .9 .5 .9 .3 .9-.4 .9-.3 .9 .2 .9 .4 .9 .2 .9-.1 .9 .1 .9-.1 .9-.4 .9-.6 .9-.4 .9-.2 .9 0 .9 0 .9 .2 .9 .4 .9 0 1-.2 .9-.1 .9 .2 .9 .3 .9 0 .9-.3 .9-.2 .9 .1 .9 .4 .9 .5 .9 .2 .9 0 .9-.3" fill="none" stroke="#F6705F" stroke-width="2.4" stroke-opacity="1.0" stroke-linejoin="round" stroke-linecap="round"/></g><rect x="270.5" y="207.5" width="226.0" height="134.0" fill="none" stroke="#a8a8a8" stroke-width="1"/><line x1="270.9" y1="341.5" x2="270.9" y2="343.0" stroke="#777" stroke-width="0.8"/><text x="270.9" y="351.3" text-anchor="middle" class="tk">0</text><line x1="316.1" y1="341.5" x2="316.1" y2="343.0" stroke="#777" stroke-width="0.8"/><text x="314.9" y="351.3" text-anchor="middle" class="tk">500</text><line x1="361.3" y1="341.5" x2="361.3" y2="343.0" stroke="#777" stroke-width="0.8"/><text x="361.3" y="351.3" text-anchor="middle" class="tk">1000</text><line x1="406.5" y1="341.5" x2="406.5" y2="343.0" stroke="#777" stroke-width="0.8"/><text x="406.5" y="351.3" text-anchor="middle" class="tk">1500</text><line x1="451.7" y1="341.5" x2="451.7" y2="343.0" stroke="#777" stroke-width="0.8"/><text x="450.4" y="351.3" text-anchor="middle" class="tk">2000</text><text x="461.4" y="351.3" class="tk it">[Iter.]</text><line x1="269.0" y1="334" x2="270.5" y2="334" stroke="#777" stroke-width="0.8"/><text x="267.3" y="337.6" text-anchor="end" class="tk">0.0</text><line x1="269.0" y1="308.84" x2="270.5" y2="308.84" stroke="#777" stroke-width="0.8"/><text x="267.3" y="312.44" text-anchor="end" class="tk">0.2</text><line x1="269.0" y1="283.68" x2="270.5" y2="283.68" stroke="#777" stroke-width="0.8"/><text x="267.3" y="287.28" text-anchor="end" class="tk">0.4</text><line x1="269.0" y1="258.52" x2="270.5" y2="258.52" stroke="#777" stroke-width="0.8"/><text x="267.3" y="262.12" text-anchor="end" class="tk">0.6</text><line x1="269.0" y1="233.36" x2="270.5" y2="233.36" stroke="#777" stroke-width="0.8"/><text x="267.3" y="236.96" text-anchor="end" class="tk">0.8</text><line x1="269.0" y1="208.2" x2="270.5" y2="208.2" stroke="#777" stroke-width="0.8"/><text x="267.3" y="213.9" text-anchor="end" class="tk">1.0</text><text x="384.2" y="363.5" text-anchor="middle" class="tt">(d) Normalized Total Reward</text></svg></body></html>
